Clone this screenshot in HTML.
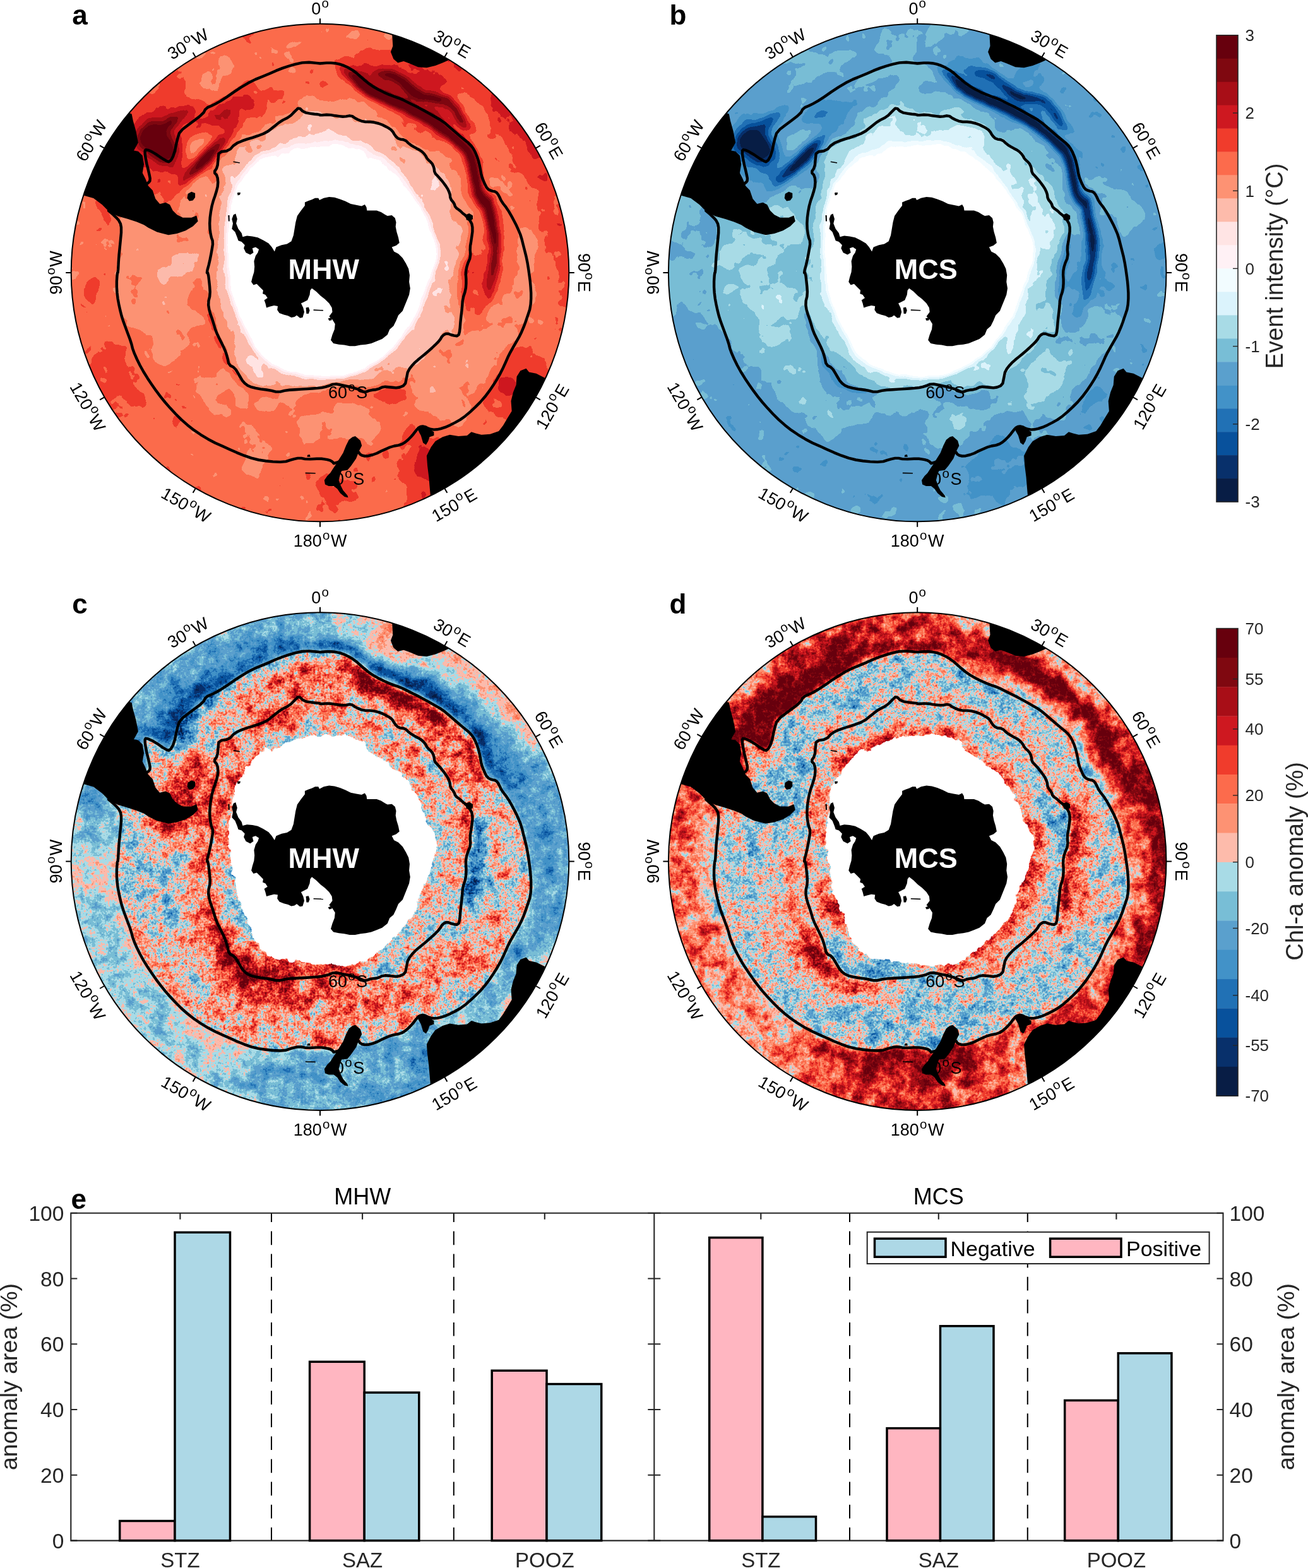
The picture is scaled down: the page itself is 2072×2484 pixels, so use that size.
<!DOCTYPE html>
<html lang="en"><head><meta charset="utf-8"><title>Figure</title>
<style>html,body{margin:0;padding:0;background:#fff}svg{display:block}</style></head><body>
<svg width="2072" height="2484" viewBox="0 0 2072 2484">
<rect width="2072" height="2484" fill="#fff"/><defs><filter id="fa" filterUnits="userSpaceOnUse" x="107" y="32" width="800" height="800" color-interpolation-filters="sRGB"><feGaussianBlur in="SourceGraphic" stdDeviation="2.0" result="s0"/><feTurbulence type="fractalNoise" baseFrequency="0.04" numOctaves="3" seed="3" result="n0"/><feColorMatrix in="n0" type="matrix" values="1 0 0 0 0 1 0 0 0 0 1 0 0 0 0 0 0 0 0 1" result="g0"/><feComposite in="s0" in2="g0" operator="arithmetic" k1="0" k2="1" k3="0.12" k4="-0.0600" result="s1"/><feComponentTransfer in="s1"><feFuncR type="discrete" tableValues="1.000 1.000 1.000 0.992 0.992 0.988 0.941 0.808 0.659 0.498 0.404"/><feFuncG type="discrete" tableValues="1.000 0.945 0.894 0.733 0.573 0.420 0.235 0.094 0.055 0.031 0.000"/><feFuncB type="discrete" tableValues="1.000 0.961 0.894 0.671 0.451 0.298 0.173 0.125 0.090 0.063 0.051"/><feFuncA type="linear" slope="0" intercept="1"/></feComponentTransfer></filter><filter id="fb" filterUnits="userSpaceOnUse" x="1053" y="32" width="800" height="800" color-interpolation-filters="sRGB"><feGaussianBlur in="SourceGraphic" stdDeviation="2.0" result="s0"/><feTurbulence type="fractalNoise" baseFrequency="0.04" numOctaves="3" seed="5" result="n0"/><feColorMatrix in="n0" type="matrix" values="1 0 0 0 0 1 0 0 0 0 1 0 0 0 0 0 0 0 0 1" result="g0"/><feComposite in="s0" in2="g0" operator="arithmetic" k1="0" k2="1" k3="0.12" k4="-0.0600" result="s1"/><feComponentTransfer in="s1"><feFuncR type="discrete" tableValues="1.000 0.949 0.859 0.659 0.471 0.353 0.259 0.129 0.031 0.031 0.031"/><feFuncG type="discrete" tableValues="1.000 0.988 0.953 0.859 0.745 0.627 0.573 0.443 0.318 0.188 0.114"/><feFuncB type="discrete" tableValues="1.000 1.000 0.988 0.902 0.839 0.804 0.784 0.710 0.612 0.420 0.271"/><feFuncA type="linear" slope="0" intercept="1"/></feComponentTransfer></filter><filter id="fco" filterUnits="userSpaceOnUse" x="107" y="965" width="800" height="800" color-interpolation-filters="sRGB"><feGaussianBlur in="SourceGraphic" stdDeviation="1.6" result="s0"/><feTurbulence type="fractalNoise" baseFrequency="0.12" numOctaves="2" seed="11" result="n0"/><feColorMatrix in="n0" type="matrix" values="1 0 0 0 0 1 0 0 0 0 1 0 0 0 0 0 0 0 0 1" result="g0"/><feComposite in="s0" in2="g0" operator="arithmetic" k1="0" k2="1" k3="0.2" k4="-0.1000" result="s1"/><feTurbulence type="fractalNoise" baseFrequency="0.35" numOctaves="1" seed="15" result="n1"/><feColorMatrix in="n1" type="matrix" values="1 0 0 0 0 1 0 0 0 0 1 0 0 0 0 0 0 0 0 1" result="g1"/><feComposite in="s1" in2="g1" operator="arithmetic" k1="0" k2="1" k3="0.18" k4="-0.0900" result="s2"/><feComponentTransfer in="s2"><feFuncR type="discrete" tableValues="0.031 0.031 0.031 0.129 0.259 0.353 0.471 0.659 0.992 0.992 0.988 0.941 0.808 0.659 0.498 0.404"/><feFuncG type="discrete" tableValues="0.114 0.188 0.318 0.443 0.573 0.627 0.745 0.859 0.733 0.573 0.420 0.235 0.094 0.055 0.031 0.000"/><feFuncB type="discrete" tableValues="0.271 0.420 0.612 0.710 0.784 0.804 0.839 0.902 0.671 0.451 0.298 0.173 0.125 0.090 0.063 0.051"/><feFuncA type="linear" slope="0" intercept="1"/></feComponentTransfer></filter><filter id="fci" filterUnits="userSpaceOnUse" x="107" y="965" width="800" height="800" color-interpolation-filters="sRGB"><feGaussianBlur in="SourceGraphic" stdDeviation="1.6" result="s0"/><feTurbulence type="fractalNoise" baseFrequency="0.12" numOctaves="2" seed="12" result="n0"/><feColorMatrix in="n0" type="matrix" values="1 0 0 0 0 1 0 0 0 0 1 0 0 0 0 0 0 0 0 1" result="g0"/><feComposite in="s0" in2="g0" operator="arithmetic" k1="0" k2="1" k3="0.4" k4="-0.2000" result="s1"/><feTurbulence type="fractalNoise" baseFrequency="0.35" numOctaves="1" seed="16" result="n1"/><feColorMatrix in="n1" type="matrix" values="1 0 0 0 0 1 0 0 0 0 1 0 0 0 0 0 0 0 0 1" result="g1"/><feComposite in="s1" in2="g1" operator="arithmetic" k1="0" k2="1" k3="0.4" k4="-0.2000" result="s2"/><feComponentTransfer in="s2"><feFuncR type="discrete" tableValues="0.031 0.031 0.031 0.129 0.259 0.353 0.471 0.659 0.992 0.992 0.988 0.941 0.808 0.659 0.498 0.404"/><feFuncG type="discrete" tableValues="0.114 0.188 0.318 0.443 0.573 0.627 0.745 0.859 0.733 0.573 0.420 0.235 0.094 0.055 0.031 0.000"/><feFuncB type="discrete" tableValues="0.271 0.420 0.612 0.710 0.784 0.804 0.839 0.902 0.671 0.451 0.298 0.173 0.125 0.090 0.063 0.051"/><feFuncA type="linear" slope="0" intercept="1"/></feComponentTransfer></filter><clipPath id="cinc"><path d="M510.4 1032.8L517.3 1032.2L524.1 1032.2L531.0 1032.8L537.8 1034.2L544.7 1036.5L551.5 1039.7L558.4 1043.7L564.6 1048.2L570.4 1053.4L576.6 1058.8L583.5 1064.5L590.9 1069.6L598.9 1074.2L607.5 1078.5L616.6 1082.5L624.6 1085.6L631.4 1087.9L638.3 1090.7L645.1 1094.2L653.1 1098.2L662.3 1102.7L671.4 1107.6L680.5 1112.7L689.1 1117.6L697.1 1122.1L705.1 1127.8L713.1 1134.7L721.0 1141.5L729.0 1148.4L735.9 1154.1L741.6 1158.7L746.2 1163.2L749.6 1167.8L752.7 1173.5L755.6 1180.4L757.9 1187.2L759.6 1194.1L761.0 1200.9L762.1 1207.8L763.8 1214.0L766.1 1219.7L768.4 1224.9L770.7 1229.4L773.6 1232.6L777.0 1234.3L780.4 1235.4L783.8 1236.0L786.7 1237.7L789.0 1240.6L791.2 1244.6L793.5 1249.7L797.0 1255.1L801.5 1260.8L806.1 1267.7L810.7 1275.7L814.6 1283.1L818.1 1289.9L821.2 1296.8L824.1 1303.6L826.6 1311.6L828.9 1320.8L831.2 1329.9L833.5 1339.0L835.5 1348.8L837.2 1359.3L838.6 1369.2L839.8 1378.3L840.6 1387.4L841.2 1396.6L841.2 1405.7L840.6 1414.8L839.2 1422.8L836.9 1429.7L834.6 1436.5L832.3 1443.4L829.5 1450.8L826.1 1458.8L822.1 1466.8L817.5 1474.8L812.9 1482.8L808.4 1490.7L804.4 1498.7L800.9 1506.7L797.0 1515.3L792.4 1524.4L787.3 1533.5L781.5 1542.7L775.3 1551.8L768.4 1560.9L761.0 1569.5L753.0 1577.5L745.0 1584.9L737.0 1591.8L729.0 1597.5L721.0 1602.0L713.1 1606.0L705.1 1609.5L698.2 1611.7L692.5 1612.9L687.4 1613.2L682.8 1612.6L678.2 1611.2L673.7 1608.9L669.7 1608.0L666.2 1608.6L663.4 1610.0L661.1 1612.3L658.3 1615.7L654.8 1620.3L650.8 1624.9L646.3 1629.4L641.7 1633.2L637.1 1636.0L631.4 1638.0L624.6 1639.1L617.7 1641.1L610.9 1644.0L604.0 1647.1L597.2 1650.6L590.3 1653.1L583.5 1654.8L577.8 1655.1L573.2 1654.0L570.1 1652.0L568.4 1649.1L563.8 1649.4L556.4 1652.8L547.0 1658.0L535.5 1664.8L528.7 1666.8L526.4 1664.0L523.0 1662.0L518.4 1660.8L513.8 1660.0L509.3 1659.4L501.7 1659.4L491.2 1660.0L483.1 1659.7L477.4 1658.5L471.7 1658.5L466.0 1659.7L459.7 1661.4L452.9 1663.7L443.8 1664.5L432.3 1664.0L420.9 1662.8L409.5 1661.1L398.1 1658.3L386.7 1654.3L375.3 1649.7L363.8 1644.6L352.4 1639.4L341.0 1634.3L329.6 1628.3L318.2 1621.4L307.3 1614.0L297.1 1606.0L287.4 1597.5L278.2 1588.3L269.7 1579.2L261.7 1570.1L254.3 1560.9L247.4 1551.8L240.6 1542.1L233.7 1531.8L227.4 1521.6L221.7 1511.3L216.9 1501.6L212.9 1492.5L210.0 1484.5L208.3 1477.6L205.7 1469.6L202.3 1460.5L198.9 1451.4L195.5 1442.2L192.6 1433.1L190.3 1424.0L188.3 1414.8L186.6 1405.7L185.5 1396.6L184.9 1387.4L184.9 1378.3L185.5 1369.2L186.1 1364.6L186.6 1364.6L187.2 1358.8L187.8 1347.1L188.6 1335.6L189.8 1324.2L190.9 1312.8L192.0 1301.4L192.0 1292.8L190.9 1287.1L188.3 1282.0L184.3 1277.4L178.9 1272.2L172.1 1266.5L176.1 1260.3L190.9 1253.4L207.5 1243.1L225.7 1229.4L235.7 1221.4L237.4 1219.2L237.7 1215.2L236.6 1209.5L234.9 1202.0L232.6 1192.9L230.9 1184.3L229.7 1176.4L229.7 1171.5L230.9 1169.8L234.6 1170.4L240.8 1173.2L248.6 1177.8L257.7 1184.1L264.0 1187.8L267.4 1188.9L270.8 1186.3L274.2 1180.1L277.1 1171.2L279.4 1159.8L281.7 1150.7L283.9 1143.8L289.6 1137.0L298.8 1130.1L307.9 1123.3L317.0 1116.4L322.8 1110.7L325.0 1106.2L329.0 1102.7L334.7 1100.4L341.6 1097.0L349.6 1092.5L359.3 1086.2L370.7 1078.2L382.1 1070.8L393.5 1063.9L404.9 1058.2L416.4 1053.6L427.2 1049.1L437.5 1044.5L447.8 1040.5L458.0 1037.1L468.3 1034.2L478.6 1032.0L489.5 1031.4L501.2 1032.5L507.0 1033.1L507.0 1033.1Z"/></clipPath><filter id="roughc" filterUnits="userSpaceOnUse" x="107.0" y="964.5999999999999" width="800" height="800"><feTurbulence type="fractalNoise" baseFrequency="0.09" numOctaves="2" seed="7" result="n"/><feDisplacementMap in="SourceGraphic" in2="n" scale="9" xChannelSelector="R" yChannelSelector="G"/></filter><filter id="fdo" filterUnits="userSpaceOnUse" x="1053" y="965" width="800" height="800" color-interpolation-filters="sRGB"><feGaussianBlur in="SourceGraphic" stdDeviation="1.6" result="s0"/><feTurbulence type="fractalNoise" baseFrequency="0.12" numOctaves="2" seed="13" result="n0"/><feColorMatrix in="n0" type="matrix" values="1 0 0 0 0 1 0 0 0 0 1 0 0 0 0 0 0 0 0 1" result="g0"/><feComposite in="s0" in2="g0" operator="arithmetic" k1="0" k2="1" k3="0.35" k4="-0.1750" result="s1"/><feTurbulence type="fractalNoise" baseFrequency="0.35" numOctaves="1" seed="17" result="n1"/><feColorMatrix in="n1" type="matrix" values="1 0 0 0 0 1 0 0 0 0 1 0 0 0 0 0 0 0 0 1" result="g1"/><feComposite in="s1" in2="g1" operator="arithmetic" k1="0" k2="1" k3="0.25" k4="-0.1250" result="s2"/><feComponentTransfer in="s2"><feFuncR type="discrete" tableValues="0.031 0.031 0.031 0.129 0.259 0.353 0.471 0.659 0.992 0.992 0.988 0.941 0.808 0.659 0.498 0.404"/><feFuncG type="discrete" tableValues="0.114 0.188 0.318 0.443 0.573 0.627 0.745 0.859 0.733 0.573 0.420 0.235 0.094 0.055 0.031 0.000"/><feFuncB type="discrete" tableValues="0.271 0.420 0.612 0.710 0.784 0.804 0.839 0.902 0.671 0.451 0.298 0.173 0.125 0.090 0.063 0.051"/><feFuncA type="linear" slope="0" intercept="1"/></feComponentTransfer></filter><filter id="fdi" filterUnits="userSpaceOnUse" x="1053" y="965" width="800" height="800" color-interpolation-filters="sRGB"><feGaussianBlur in="SourceGraphic" stdDeviation="1.6" result="s0"/><feTurbulence type="fractalNoise" baseFrequency="0.12" numOctaves="2" seed="14" result="n0"/><feColorMatrix in="n0" type="matrix" values="1 0 0 0 0 1 0 0 0 0 1 0 0 0 0 0 0 0 0 1" result="g0"/><feComposite in="s0" in2="g0" operator="arithmetic" k1="0" k2="1" k3="0.4" k4="-0.2000" result="s1"/><feTurbulence type="fractalNoise" baseFrequency="0.35" numOctaves="1" seed="18" result="n1"/><feColorMatrix in="n1" type="matrix" values="1 0 0 0 0 1 0 0 0 0 1 0 0 0 0 0 0 0 0 1" result="g1"/><feComposite in="s1" in2="g1" operator="arithmetic" k1="0" k2="1" k3="0.4" k4="-0.2000" result="s2"/><feComponentTransfer in="s2"><feFuncR type="discrete" tableValues="0.031 0.031 0.031 0.129 0.259 0.353 0.471 0.659 0.992 0.992 0.988 0.941 0.808 0.659 0.498 0.404"/><feFuncG type="discrete" tableValues="0.114 0.188 0.318 0.443 0.573 0.627 0.745 0.859 0.733 0.573 0.420 0.235 0.094 0.055 0.031 0.000"/><feFuncB type="discrete" tableValues="0.271 0.420 0.612 0.710 0.784 0.804 0.839 0.902 0.671 0.451 0.298 0.173 0.125 0.090 0.063 0.051"/><feFuncA type="linear" slope="0" intercept="1"/></feComponentTransfer></filter><clipPath id="cind"><path d="M1456.6 1032.8L1463.5 1032.2L1470.3 1032.2L1477.2 1032.8L1484.0 1034.2L1490.9 1036.5L1497.7 1039.7L1504.6 1043.7L1510.8 1048.2L1516.6 1053.4L1522.8 1058.8L1529.7 1064.5L1537.1 1069.6L1545.1 1074.2L1553.7 1078.5L1562.8 1082.5L1570.8 1085.6L1577.6 1087.9L1584.5 1090.7L1591.3 1094.2L1599.3 1098.2L1608.5 1102.7L1617.6 1107.6L1626.7 1112.7L1635.3 1117.6L1643.3 1122.1L1651.3 1127.8L1659.3 1134.7L1667.2 1141.5L1675.2 1148.4L1682.1 1154.1L1687.8 1158.7L1692.4 1163.2L1695.8 1167.8L1698.9 1173.5L1701.8 1180.4L1704.1 1187.2L1705.8 1194.1L1707.2 1200.9L1708.3 1207.8L1710.0 1214.0L1712.3 1219.7L1714.6 1224.9L1716.9 1229.4L1719.8 1232.6L1723.2 1234.3L1726.6 1235.4L1730.0 1236.0L1732.9 1237.7L1735.2 1240.6L1737.4 1244.6L1739.7 1249.7L1743.2 1255.1L1747.7 1260.8L1752.3 1267.7L1756.9 1275.7L1760.8 1283.1L1764.3 1289.9L1767.4 1296.8L1770.3 1303.6L1772.8 1311.6L1775.1 1320.8L1777.4 1329.9L1779.7 1339.0L1781.7 1348.8L1783.4 1359.3L1784.8 1369.2L1786.0 1378.3L1786.8 1387.4L1787.4 1396.6L1787.4 1405.7L1786.8 1414.8L1785.4 1422.8L1783.1 1429.7L1780.8 1436.5L1778.5 1443.4L1775.7 1450.8L1772.3 1458.8L1768.3 1466.8L1763.7 1474.8L1759.1 1482.8L1754.6 1490.7L1750.6 1498.7L1747.1 1506.7L1743.2 1515.3L1738.6 1524.4L1733.5 1533.5L1727.7 1542.7L1721.5 1551.8L1714.6 1560.9L1707.2 1569.5L1699.2 1577.5L1691.2 1584.9L1683.2 1591.8L1675.2 1597.5L1667.2 1602.0L1659.3 1606.0L1651.3 1609.5L1644.4 1611.7L1638.7 1612.9L1633.6 1613.2L1629.0 1612.6L1624.4 1611.2L1619.9 1608.9L1615.9 1608.0L1612.4 1608.6L1609.6 1610.0L1607.3 1612.3L1604.5 1615.7L1601.0 1620.3L1597.0 1624.9L1592.5 1629.4L1587.9 1633.2L1583.3 1636.0L1577.6 1638.0L1570.8 1639.1L1563.9 1641.1L1557.1 1644.0L1550.2 1647.1L1543.4 1650.6L1536.5 1653.1L1529.7 1654.8L1524.0 1655.1L1519.4 1654.0L1516.3 1652.0L1514.6 1649.1L1510.0 1649.4L1502.6 1652.8L1493.2 1658.0L1481.7 1664.8L1474.9 1666.8L1472.6 1664.0L1469.2 1662.0L1464.6 1660.8L1460.0 1660.0L1455.5 1659.4L1447.9 1659.4L1437.4 1660.0L1429.3 1659.7L1423.6 1658.5L1417.9 1658.5L1412.2 1659.7L1405.9 1661.4L1399.1 1663.7L1390.0 1664.5L1378.5 1664.0L1367.1 1662.8L1355.7 1661.1L1344.3 1658.3L1332.9 1654.3L1321.5 1649.7L1310.0 1644.6L1298.6 1639.4L1287.2 1634.3L1275.8 1628.3L1264.4 1621.4L1253.5 1614.0L1243.3 1606.0L1233.6 1597.5L1224.4 1588.3L1215.9 1579.2L1207.9 1570.1L1200.5 1560.9L1193.6 1551.8L1186.8 1542.1L1179.9 1531.8L1173.6 1521.6L1167.9 1511.3L1163.1 1501.6L1159.1 1492.5L1156.2 1484.5L1154.5 1477.6L1151.9 1469.6L1148.5 1460.5L1145.1 1451.4L1141.7 1442.2L1138.8 1433.1L1136.5 1424.0L1134.5 1414.8L1132.8 1405.7L1131.7 1396.6L1131.1 1387.4L1131.1 1378.3L1131.7 1369.2L1132.3 1364.6L1132.8 1364.6L1133.4 1358.8L1134.0 1347.1L1134.8 1335.6L1136.0 1324.2L1137.1 1312.8L1138.2 1301.4L1138.2 1292.8L1137.1 1287.1L1134.5 1282.0L1130.5 1277.4L1125.1 1272.2L1118.3 1266.5L1122.3 1260.3L1137.1 1253.4L1153.7 1243.1L1171.9 1229.4L1181.9 1221.4L1183.6 1219.2L1183.9 1215.2L1182.8 1209.5L1181.1 1202.0L1178.8 1192.9L1177.1 1184.3L1175.9 1176.4L1175.9 1171.5L1177.1 1169.8L1180.8 1170.4L1187.0 1173.2L1194.8 1177.8L1203.9 1184.1L1210.2 1187.8L1213.6 1188.9L1217.0 1186.3L1220.4 1180.1L1223.3 1171.2L1225.6 1159.8L1227.9 1150.7L1230.1 1143.8L1235.8 1137.0L1245.0 1130.1L1254.1 1123.3L1263.2 1116.4L1269.0 1110.7L1271.2 1106.2L1275.2 1102.7L1280.9 1100.4L1287.8 1097.0L1295.8 1092.5L1305.5 1086.2L1316.9 1078.2L1328.3 1070.8L1339.7 1063.9L1351.1 1058.2L1362.6 1053.6L1373.4 1049.1L1383.7 1044.5L1394.0 1040.5L1404.2 1037.1L1414.5 1034.2L1424.8 1032.0L1435.7 1031.4L1447.4 1032.5L1453.2 1033.1L1453.2 1033.1Z"/></clipPath><filter id="roughd" filterUnits="userSpaceOnUse" x="1053.2" y="964.5999999999999" width="800" height="800"><feTurbulence type="fractalNoise" baseFrequency="0.09" numOctaves="2" seed="7" result="n"/><feDisplacementMap in="SourceGraphic" in2="n" scale="9" xChannelSelector="R" yChannelSelector="G"/></filter></defs>
<g id="panel-a">
<clipPath id="clip-a"><circle cx="507.0" cy="432.0" r="394.3"/></clipPath>
<g clip-path="url(#clip-a)"><g filter="url(#fa)"><rect x="107" y="32" width="800" height="800" fill="rgb(6,6,6)"/>
<path fill-rule="evenodd" fill="rgb(17,17,17)" d="M906 831l-798 0 0-798 798 0zM516 595l2-2 26 0 2-2 14-2 6-4 4 0 8-4 10-8 6-2 6-6 6-2 14-14 2 0 0-2 6-6 0-2 6-6 0-2 6-6 4-8 4-4 2-6 4-4 6-12 0-4 2-2 0-4 2-2 0-4 4-8 0-4 4-6 2-10 4-6 0-4 4-6 0-6 6-12 0-24-2-2 0-6-2-2-4-16-4-6 0-4-6-12-4-4-2-6-4-4-8-14-16-18 0-2-24-22-12-6-4-4-22-10-8-6-12-2-2-2-8 0-2-2-38 0-2 2-20 0-2 2-10 0-2 2-14 2-2 2-4 0-8 4-6 0-2 2-10 2-8 4-12 10-2 0-10 10 0 2-12 14-4 8 0 4-4 6 0 6-2 2 0 6-2 2 0 20-2 2 0 16-2 2 0 32 2 2 0 16 2 2 0 10 2 2 0 18 2 2 0 10 2 2 2 14 34 70 14 16 2 0 12 10 12 6 4 0 8 4 6 0 2 2 6 0 2 2 8 0 2 2 26 0z"/>
<path fill-rule="evenodd" fill="rgb(29,29,29)" d="M906 831l-798 0 0-798 798 0zM538 595l22-4 20-9 27-17 17-15 6-7 27-40 6-14 26-72 2-8-1-22-5-18-11-26-22-34-24-31-20-18-38-21-10-4-16-3-18-1-22 0-42 6-42 13-10 6-12 10-11 13-15 25-8 25-5 56 8 78 4 16 7 18 26 52 8 11 16 15 28 13 30 7 28 2z"/>
<path fill-rule="evenodd" fill="rgb(41,41,41)" d="M906 831l-798 0 0-798 798 0zM529 597l15-1 18-5 19-8 27-18 22-21 18-25 10-16 6-12 7-24 19-49 2-9 0-16-6-24-12-28-33-52-12-14-15-15-20-13-23-12-11-4-16-3-18-2-46 4-19 3-21 7-20 6-11 7-17 16-18 26-8 22-3 12-5 54 1 22 7 58 8 28 29 58 8 12 15 14 28 14 26 6 34 3z"/>
<path fill-rule="evenodd" fill="rgb(52,52,52)" d="M906 831l-798 0 0-798 798 0zM518 599l26-2 26-7 28-16 28-23 23-30 13-22 24-66 7-24 0-16-3-14-14-36-33-54-19-24-18-14-34-19-26-8-24-1-42 3-20 4-42 14-12 8-12 11-11 14-9 16-9 24-4 20-4 48 7 70 5 24 7 20 30 58 20 20 20 10 40 10z"/>
<path fill-rule="evenodd" fill="rgb(64,64,64)" d="M906 831l-798 0 0-798 798 0zM524 599l22-1 16-4 18-8 28-18 24-23 23-32 12-22 26-72 2-10 0-16-7-24-12-30-32-52-19-24-19-15-34-20-26-7-26-3-40 4-20 5-44 16-10 6-13 12-11 14-10 18-9 24-4 20-3 54 7 72 4 16 8 20 30 58 21 21 28 13 40 8 20 1z"/>
<path fill-rule="evenodd" fill="rgb(75,75,75)" d="M906 831l-798 0 0-798 798 0zM518 601l28-2 24-7 28-15 29-24 24-30 14-22 24-66 8-26-2-22-12-36-5-12-31-52-13-18-20-19-36-24-26-10-16-3-10-7-6-1-6 1-10 6-18 2-68 25-14 8-13 12-12 16-9 18-9 26-3 18-4 54 7 72 4 16 8 20 25 52 8 12 20 17 20 10 38 10zM409 587l4-8-2-6-11-10-6 0-2 2-2 6 4 10 8 7 4 1z"/>
<path fill-rule="evenodd" fill="rgb(87,87,87)" d="M906 831l-798 0 0-798 798 0zM509 603l37-3 28-8 26-13 26-22 10-3 6 1 2 2 1 12 1 4 4 2 4-2 18-22 6-18 3-14 13-12 7-12 1-6-4-10 4-10 1-12 17-56-1-24-3-12-4-6-12-12-3-6-2-12 8-12 1-6-4-18-10-18-8-9-6-2-16 2-6 6-18-10-38-29-5-10-1-14-7-6-9-4-12 1-10-11-8-2-26 2-18 5-14 2-10 7-22 10-9 10-6 4-27 10-14 8-11 4-8 10-15 10-4 6-1 24-9 43 0 45-3 36 5 42 4 20 23 58 1 8 0 20 3 8 13 16 8 5 24-1 14 4 38 1z"/>
<path fill-rule="evenodd" fill="rgb(99,99,99)" d="M906 831l-798 0 0-798 798 0zM453 613l45-3 36-7 42-1 22-7 30-14 4-1 11 5 9-1 8-5 6-6 16-20 16-24 6-4 12-2 3-4 1-14-3-10-1-10-4-10-1-14 6-30 9-28 7-40-2-6-13-8-5-8-1-14 3-20-4-16-8-16-16-14-13-8-10-9-12-5-22-13-12-15-20-16-12-7-34-8-38 1-14-5-6 0-26 16-16 3-8 4-16 12-10 12-19 0-19 10-6 6-2 14-12 10-5 8-1 28-7 42 0 46-6 44 5 22 4 34 14 44 9 18 1 24 16 25 12 9 8 2 16 0 14 5zM261 451l11-11 18-4 14-9 9-12 0-6-3-5-4-2-10-1-18 3-6 3-8 12-13 8-3 6 1 6 3 6 6 6z"/>
<path fill-rule="evenodd" fill="rgb(110,110,110)" d="M906 831l-798 0 0-798 798 0zM723 657l2-4-1-10-5-20 2-8 3-3 10-5 6-11 13-7 29-32 5-8-1-4-10-11-6-1-6 6-2 12-3 4-13 7-22 20-4 2-10-4-18-22 2-9 8-13 6-4 14-1 4-4 2-7 1-15-2-16-8-16-1-8 3-32 11-30 7-36 0-10-5-12 1-8-3-4-8-3-2-3 2-22-12-38-3-6-27-12-14-9-34-19-14-16-30-24-12-4-10-6-10-2-8-1-10 2-10-2-10 1-30-7-26 22-25 9-25 21-22 6-20 12-16 17-6 18-8 74 1 46-7 23-4 5-2 0-2-6 2-12-1-4-7-5-26-6-6 1-8 5-6 0-9-3 1-6-2-1-14 5-20 0-18-7-8-11-2 6 1 6 8 12 2 14 4 8-1 10 10 18 1 6-7 12-1 8 1 8 6 14-1 12 1 4 4 3 14-3 10 4 10 0 1-4-5-8 0-7 16-29 22-10 14-12 6-3 4 1 8 7 6 13 3 12 1 28 2 12 10 26 9 18 5 24 9 10 11 18 5 4 7 3 28 5 12 4 20 1 36-4 36-9 22 0 22 3 38-14 20 0 20-6 22-3 3 2 0 6-4 14-9 14-1 10 1 5 18 7 16 2 18 10zM312 231l5-4 1-4-6 0-4 4 0 4zM324 343l8-18 0-12-3-6-9-9-6-3-8 6-3 8 7 14 6 17 4 4zM234 401l-1-2 1-3 2 3zM789 507l5-4 2-5 0-5-2-2-6 1-3 7-1 8 2 1zM273 557l5-4 2-8-4-18-2-3-4-1-4 1-7 9-2 6 0 10 1 6 2 2zM583 685l5-4 3-6-1-6-2-4-6-6-18-9-5-1-5 2-5 10-7 8 1 4 29 11 6 2z"/>
<path fill-rule="evenodd" fill="rgb(122,122,122)" d="M906 831l-798 0 0-262 8-4 3-6-4-18-7-2 0-506 798 0zM297 71l5-2 3-4 1-4 0-6-6-6-12-2-6 12 0 6 6 5zM535 65l2-2 1-3-4-4-10 3-5 4 1 2 6 2zM467 75l6-4 2-4-19 3-5 3 5 3zM344 143l4-6 3-14 5-4 8-3 4-5 0-12-3-6-3-3-8 1-13 8-7 9-11 9-7 12 1 6 5 5 16 5zM467 115l3-4-4-5-6 0-6 5 2 4 2 1zM728 677l4-4 10-16 5-14-3-14 10-10 1-10 17-14 6-12 12-12 13-24 16-16 1-8-2-3-6 0-1-3 5-3 6 3 10-4 10-1 4-3 0-4-2-2-9-4 6-10 8-20-3-17-6-13 0-4 7-6-3-12 7-22-1-14-2-6-6-7-10-9-4 0-12 26-1 24 6 10 2 6-10 34-5 6-12 3-6 4-20 31-14 16-16 10-3 4-2 10-3 3-6 3-6-2-1-2 1-2 8-3 5-5 2-12 0-16-4-20-7-16 1-34 4-18 6-16 7-36-2-18 2-2 7 0 1-4-7-14-9-14-6-32-12-33-24-12-14-1-18-6-22-13-14-17-32-29-12-4-24-11-16 2-20 0-14-2-16-7-6-1-12 10-8 14-6 6-23 6-23 22-24 9-18 12-16 17-4 6-5 16-2 16-3 5-4 0-8-9-4 1-14 9-18 16-4 6-2 6-1 16 3 8 0 4-16 4-12 12-8 3-8-3-14-14-14-9-8-1-14 6-2 7 0 21-4 22 1 32-5 20 3 24 2 30 3 6 8 6 2 6 2 2 36 10 2 2 1 6-2 12 1 13 3 11 5 5 9 1 7-4 12-4 10-8 12-18 1-4-4-14 5-8 6-3 16 1 0-8-4-8-10-10-14-4-2-2-1-4 9-16 4-2 10 1 10-4 5 7 0 12 10 34 6 16 12 24 7 24 8 8 13 20 5 4 8 4 30 4 12 6 0 4-6 3-10-2-11 1-11 12 1 6 3 3 12 4 8-1 11-6 2-2 0-6 3-3 4 0 6 5 6 0 24-16 28-7 16-6 26-1 22 6 30-13 10 0 18 3 14-7 6-2 4 2 2 3-6 36 1 6 5 3 12 4 29 13 21 12zM311 237l8-6 5-6 1-4-3-4-10 1-9 9-2 6 2 4 3 2zM812 311l-6-6-6-10-11-12-7-4-6 1-1 7 3 8 22 16 6 2zM121 359l6-4-1-5-4-1-4 3-1 5zM334 373l-4-2-2-6 6-11 2 11zM360 661l6-2 1-8-2-4-13-4-7-6 0-6 6-10 11-6 4 1 5 9 1 16 2 3 6 2 6 0 6-4 5-15-20-16-9-12-4-8-14-6-14 10-10 2-3 2-9 13-2 9 10 16 9 10 7 13 4 1zM504 699l34-6 50 3 6-4 10-13 8-6 2-4-2-3-14-6-14-12-20-7-28-4-9 6 0 4 3 6-2 4-10-2-14 3-12-2-10 7-10 2-1 6 1 19 16 10 8 0zM411 759l4-8 1-14 7-8 9-18-14-16-6-12-12-9-6 0-4 1-2 4 9 10 1 8-8 20-1 10-5 10 0 4 6 10 6 2 10 8z"/>
<path fill-rule="evenodd" fill="rgb(133,133,133)" d="M174 376l-6-1-6-4-8 1-4-4-4-9-1-10-5-11-2-13-6-16 1-12-2-6-13-6-6-1-4 2 0-253 140 0 0 8-3 8 0 4 12 6 7 8 6 16 8 5 12-1 8 1 6 5 6 10 2 8-8 16-1 10 1 6 4 4 14 5 10 6 8-2 9-5 24-28 9-15 10-9 6-2 14 0 10-3 10 2 10-5 4 0 2 4-2 4-22 18-4 8 2 4 4 2 16-3 20 0 16 5-7 12-15 18-6 5-16 7-16 14-14 6-20 17-33 33-13 24-17 8-35 28-12 14-6 4-10 4-22-1-6-1-13-6-9-1-8 2-18 8-3 3 0 4 6 12 1 15-4 9zM350 79l-14 1-4-1-7-14 2-16-1-6-4-4-15-6 117 0 1 6 9 5 2 3 0 6-2 6-6 8-4 3-26 5-32-1zM512 45l-20-2 2-10 34 0-10 10zM888 831l-304 0-6-1-4 1-80 0 5-10 1-6-3-10-2-12-7-9-4-2-6 0-10 5-12 11-4 1-3-2-2-12-7-14 1-18-6-14 1-4 5-4 11-3 18-1 16 3 40-19 14 5 14-3 24 4 14-2 6-6 10-19 20-7 14-22 4-3 4-1 16 4 8 4 6 6 4 10 8 3 32 5 16-3 14-1 4-1 3-5 1-8-2-5-6-7 0-6 5-18 5-10 6-14 25-34 17-29 18-14 14-1 6-2 11-16 3-10-2-18 2-16-2-62-2-10-1-24-3-7-14-17-7-24 1-18-12-17-12-12-10-2-4-3-5-6-3-10-10-4-10-6-2 0 0 28 4 18 4 5 10 8 6 11 14 12 4 12 3 20-9 18-4 20-1 22 1 4 6 8 0 8-4 6-10 9-9 17-15 24-12 10-8 2-6-6-7-22-7-12 0-38 10-30 7-48 1-1 2 1 2 4 1 14 3 5 6-7 1-10-3-21-16-27-2-15-12-47-14-14-10-4-10-7-16-7-6 0-10 5-8-3-7-6-7-10-14-16-30-22-18-7-20-16-6 0-20 7-22-2-12-4-10-8-7-4-1-2 14-24-7-18 0-4 3-3 8-1 12 1 10-3 16 3 12-1 8-5 6-13 10-7 32 10 8 1 8-4 5-10 3-2 8 3 8 8 6 0 10-7 11-14 2-8 233 0 0 500-16 2-16 0-6 4-5 8 3 12 10 10 20 9 10-2 0 231-8-8-14-9-20-3-5 2-1 4 6 23 6 5 13 4zM762 193l2-6-3-6-11-8-4-2-2 2 1 10 5 7 8 5zM306 245l12-10 10-10 2-6-2-4-6-2-8 1-6 3-6 6-4 8 0 7 4 7zM422 831l-121 0-9-4-26-16-4 1-10 7-20 0-12-1-10-7-4 2-4 6-4 1-18-11-16-2-26 8-10 8-4-3-8-13-8-5 0-207 8-8 25-42-1-6-8-10-1-10-4-16 3-10-1-4-11-16-3-6 1-6 14-36 22-4 12 2 8-3 4 1 1 6-1 18 2 27-2 3-8 3-3 5 0 20 8 22 7 7 4 1 12-2 17 8 4 4 10 20 0 4-7 16 2 6 4 4 8 2 16-1 12 4 6-2 8-6 6-3 4 0 3 2 1 6-3 8 9 8 8 20 11 14 4 8-2 8-11 10-6 8-2 6 2 7 6 6 15-5 9 1 18 13 5 6 2 6-3 6-4 1-12-7-10-1-8-6-4 0-10 4-12-5-14 11-10-4-6 0-3 3 1 6 6 5 20 8 28 11 20 4 8 13 4 3 16-1 10-6 8 3 21 18 0 4-5 8-1 6 1 8 4 4 4 1 6-2 20-12 2-1 3 2 1 2-6 7-5 11-1 8zM434 625l-22 0-16-4-14-9-16-23-8-5-7-11-3-15-13-25-10-36 1-10 2-1 2 1 3 6 11 36 14 26 6 23 9 7 13 21 14 8 30 5 6 4zM622 649l-10 1-7-1-13-10-16-4-7-6 19-11 20-9 6 0 16 4 14 1 2 3 1 12-5 12-6 5zM560 629l-8 0-22-4-3-2 0-2 3-2 8-2 16 0 5 2 5 6 1 2zM502 643l-6-4 2-4 2-1 4 0 2 3-1 4zM173 767l15-11 24-2 2-2 5-15 5-10 6-5 10-3 3-2 1-8-7-16-4-18-3-4-12-1-6-2-12 2-4 2-10 13-2 6 3 10-1 12 2 10 0 4-12 17-14 7-5 10 0 4 3 3zM613 797l4-2 2-4-4-8 2-8 0-4-17-9-4-1-4 6 5 18 6 8 1 4 2 1z"/>
<path fill-rule="evenodd" fill="rgb(145,145,145)" d="M174 354l-4-1-4-4-13-20-1-8 4-10-1-8 6-10 0-6-22-14-7-8-20-9-4 0 0-223 42 0-3 4 0 6 5 7 6 4 4-1 10-10 10-1 6 0 18 10 10 12 18 16 5 13 11 23 2 1 14 0 10-4 14-1 3 17 0 20 5 4 16 4 10 10 8-1 13-7 33-25 10-5 6 0 6 1 10 10 6 3 16 2 14-5 6 3-1 6-3 5-24 18-9 9-16 8-7 5-42 49-15 22-15 10-22 19-26 18-6 3-6-1-8-5-12 0-14-4-14 3-30 12-7 5-3 6 0 6 5 12-1 4zM384 61l-8-2-10-10-16-4-3-6 1-6 44 0 9 16 0 4-8 6zM760 500l-5-1-2-14-9-2-6-8-6-3-2-5 1-36 9-28 1-10 5-17 1 21 5 8 14 0 4-6 0-6-8-54-9-12-7-14-3-16-9-40-4-9-16-15-28-20-10-5-14 3-4-2-7-10-14-12-39-22-16-7-26-21-14-6-10-12-1-6 1-10 6-7 22-11 15-4 11-6 14 4 32 0 26 3 7-1 13-5 6-4 4-6 0-13 8-20 210 0 0 451-6 3-6 1-4-1-7-6 0-2 6-4 1-2-9-12-1-6 1-6 4-10-1-12-2-6-7-12-7-40-14-18-5-18 0-6 5-16-1-8-4-4-10-6-5-8-9-8-5-14-6-6-4-10-6-8-9-22-7-8-12-9-3-15-5-9-15-17-7-5-16-6-4 0-2 3 19 36 17 20-2 4-11 6-1 2 13 24 4 16 2 18 5 18 4 7 10 9 11 30 3 12 1 26-4 46 0 16-15 34-12 18zM811 103l13-2 3-4-1-6-6-2-16 4-2 2 0 4 4 3zM244 147l4-4 2-6 0-12-2-3-10 6-8 4-3 3 9 12 4 2zM514 137l-6 1-2-3 1-4 5-4 4 1 2 3-1 4zM298 255l8-5 26-25 3-8-3-5-8-3-8 0-8 3-8 6-4 7-1 8 1 18zM148 480l-6-2-6-5-3-4 0-4 5-17 8-7 6-1 8 6 3 9-11 21zM428 621l-6 2-10-1-18-5-12-8-14-22-8-4-6-10-4-16-13-26-9-30 0-8 2 0 4 8 9 28 13 26 7 24 9 7 12 21 14 8 26 4zM142 704l-14-1-10-12-10 0 0-74 7-2 10-6 2-14 8-8 17-31 9-11 2-6 1-2 4 0 18 11 12-1 3 2 1 4-3 16 1 16 4 12 8 16 17 12 6 16-3 5-4 2-22-3-26 4-3 4-4 12-10 10-11 18zM906 781l-8 0-10-7-12-4-16-1-4-4-3-8 0-8-5-26-5-16-4-8 1-4 8-6-1-6-3-4-16-7-10 0-16-8-14 0-8-11-10-2-4-4 0-8 12-30 23-32 13-22 8-6 10-1 10 1 20 22 4 12 19 16 7 8 6 1 8-4zM628 640l-12 1-8-2-13-8-3-4 1-2 10-8 7-3 8 1 13 4 5 4 1 6-3 6zM276 675l-5-2 3-10 4-4 6 0 3 4-1 4-6 7zM842 831l-169 0 1-6-4-5-4-1-14 0-10-4-3-4-1-8 0-4 6-8-2-20-1-4-9-8-2-14-4-10 8-12-1-20 15-30 6-3 6 3 2 15 4 4 16 3 38 3 19-3 7 0 8 4 8 10 20 9 7 9 0 14 5 8 16 12 10 2 5 4 0 4-3 8 0 6 2 6 9 10 1 16zM118 727l-7-2-1-4 0-6 6-5 10-2 2 5-1 8-4 4zM616 730l-6-3-4-5 0-5 4-5 4 1 3 4zM534 811l-4 1-4-2-6-11-5-14-11-9-3-7-1-8 2-6 8-1 8-6 10 2 14 11 18 1 5 5 3 6 1 12-1 4-8 4-16 1-3 3-3 10zM108 775l0-21 4 4 2 5-1 6zM246 762l-2 1-3-2-1-4 2-2 4 0 1 2zM322 820l-6-1-14-13-12-4-4-4-2-7 1-10-1-10 2-4 28 4 4 2 3 14 10 12-6 18zM390 831l-41 0 12-16 3-2 6-2 6 1 4 3z"/>
<path fill-rule="evenodd" fill="rgb(156,156,156)" d="M840 59l-6 1-4-2-1-3 0-10-11-6-5-6 32 0 1 18-2 6zM766 489l-2 1-2-1 0-8 3-12-1-8-4-8-16-4-6 14-4 3-1-3 0-32 4-14 7-16 2 4-1 12 1 3 8-2 10 2 4-3 2-3 3-21-10-58-9-10-7-14-2-16-10-40-3-8-16-16-30-22-20-9-28-17-58-28-40-34-5-8 0-6 5-5 12-2 8-6 6-2 16 1 16 6 28-8 14 1 30 0 20 3 5-4 5-12 5-8 2-4-1-11 7-9 7-4 8 1 36-9 8 3 5 7-2 8-9 4-3 4 3 6 6 3 2 2 0 11-4 14 8 21 4 2 10 0 10 4 12-1 6 4 2 0 16-6 8-9 12-8 6-7 6-14 10-16-2-16-5-10 5-3 4 0 7 3 9 8 8 1 0 155-4-4-2-9-2-2-7 1-3 6 1 6 8 14 4 4 5 2 0 27-8 9-5 22-15 15-6 1-20-11-17-15-5-14-13-20-6-16-9-11-14-13-5-14-13-16-8-14-30-19-12 1-7 4-3 4 18 22 14 24 11 16 0 2-3 3-14 3 3 6 10 10 9 16 11 52 5 8 9 8 9 30 3 22 1 16-1 26-4 34-10 28zM158 225l-8 2-8-6-4-1-10 5-2-2 1-8-3-5-16-6 0-155 10-4 8 1 6 5 6 12 10 10 2 8-2 16-6 7-8 1-12-7-4 1-3 4 2 6 15 7 7 9 0 4-2 12-6 16 3 24 2 4 10 2 16-3 5-3 4-10-1-4-5-10 2-10 5-7 13-7 6-8-2-6-4-4-16-8-5-4-4-12 1-6 19-9 10 0 6 1 16 10 5 6-2 10-11 14-2 10-8 8-7 16-3 12 2 12-3 10 0 8-2 6-10 14zM278 301l-3 0-1-2 0-14-8-6-6 1-7 11-7 3-6 0-12-5-18 0-3-2 1-6 12-10 1-6-3-10-13-12-3-18-5-14 2-12 7-14 0-12 2-5 8-4 14 3 22-3 16 4 18-7 16-1 9 3 5 13 4 1 48-30 14-5 8 2 14 8 16 5 0 4-12 14-22 17-11 17-41 54-40 31zM293 265l7-5 36-37 5-8-2-6-9-4-10-2-16 3-8 4-3 11-1 26-3 14 1 4zM896 309l-2 1-1-3 2 0zM892 360l-12-1-12-9-5-7 1-8 4-2 6 2 7 10 10 8 2 4zM358 575l-4-12 2-3 2 7zM906 687l-26-4-10-10-10-4-18-13-4-5-4-13-4 1-20 9-6 0-5-3-7-10-10-7-2-9 4-12 10-14 17-18 9-14 6 0 11 8 2 6-2 12 5 14 4 1 14 0 9 3 9 8 6 12 4 3 4-1 14-8zM178 578l-2 1-4-2-1-4 1-3 4 1zM622 630l-4 1-6-2-2-2-1-4 5-3 6 2 4 5zM108 648l0-9 1 4zM770 831l-74 0-2-10 3-10-1-4-10-6-14-2-3-2-2-18-6-8-5-10-9-10-3-6 2-24 6-11 12-7 8-1 32 4 36 3 2 4 1 8-10 8-7 18 8 22 8 10-3 6-11 12-1 8 4 6 11 10 16-1 14 11z"/>
<path fill-rule="evenodd" fill="rgb(168,168,168)" d="M752 115l-12-1-10 2-4-2-7-11 0-4 5-10 4-21 4-6 4 0 6 3 6 8 5 10 3 10 1 14-1 5zM770 478l-2-1 1-8-4-36 9-23 0-23-10-54-8-8-7-14-3-16-9-40-5-10-16-16-36-26-12-5-29-17-57-27-40-35-4-8 4-6 16-1 12-4 26 4 26-2 12 1 20-3 24 6 14 5 6 4 9 10 1 4-2 2-8 6-2 4 4 4 14 7 9 9 20 34 5 10-4 3-8-1-8-2-12-12 0 4 32 33 5 9 8 22 6 36 5 9 9 7 9 32 5 36-2 32-7 38-8 18zM862 251l-16 1-4-2-7-13 1-12-1-4-7-7-14-6-9-9-8-14-17-20-2-18 4-7 6-2 32 16 4 1 12-4 20 7 10 7 6-1 12-11-9-24 1-11 6-11 4-3 4-1 4 3 7 13 5 5 0 39-6 0-8-7 1 5-3 8-14 14-6 12-7 6 0 4 1 4 18 13 3 7-4 8-11 10zM108 161l0-35 8 7 3 6-1 2-7 6zM288 295l-6 1-2-2 0-13-4-4-16-5-18 0-17-19-13-12-3-8-1-18 5-18 8-14 6-4 17-6 6-1 10 3 6 0 26-10 10 0 5 4 2 8-3 10-17 16-4 6 4 28-5 32 2 3 2 0 8-5 22-24 21-20 13-18-2-3-16-4-11-5-1-2 1-4 6-8 16-12 23-12 4-1 9 3 11 1 8 3 3 4-2 6-21 17-7 17-9 16-27 36-7 7-30 24zM738 451l-3-16 3-12 2 2-1 2 0 14zM806 629l-4-1-11-9-2-6 5-13 6-5 4-1 5 1 5 4 4 18-3 6zM902 654l-6-1-2-4 4-8 6-2 2 1 0 9zM714 788l-4 0-6-5-10-15-20-6-10-7-5-6-2-6 3-10 1-14 6-8 5-2 7 0 29 8 3 2 2 16-3 16 9 10 3 12-2 8z"/>
<path fill-rule="evenodd" fill="rgb(180,180,180)" d="M776 466l-2 1-2-3-3-15 1-18 6-20 0-14-6-41-5-23-9-10-6-12-12-56-4-9-18-18-34-26-44-23-56-26-14-11-21-21-5-8 2-5 80-2 28 12 10 15 8 6 8 3 12 2 20 8 8 6 8 9 15 28 2 8-5 2-8-3-20-22-2 1-1 2 1 6 8 13 31 29 6 10 6 16 8 42 4 8 8 6 2 4 11 50 1 16-2 32-7 36zM356 193l-10 0-8-2-4-4 1-4 9-10 12-6 8-1 10 5 1 6-5 10-6 4zM276 270l-6 0-22-6-12-7-18-15-4-5-2-6 0-16 7-18 9-10 6-5 12-4 16 2 24-10 12-1 5 4-1 6-22 30 6 21 1 9-6 24zM292 291l-4 1-4-1-1-6 3-6 33-36 29-27 8-5 8-2 0 6-5 10-24 32-25 21zM688 749l-8 2-5-2-2-4-1-22 2-4 6-1 8 3 7 6-1 8z"/>
<path fill-rule="evenodd" fill="rgb(191,191,191)" d="M776 460l-3-3-1-10 0-16 5-22 0-16-6-38-5-24-8-8-7-12-12-56-5-11-17-17-35-26-44-24-56-25-14-12-19-19-3-6 0-4 6-2 18 4 10 0 20-5 22 0 22 12 18 17 6 4 42 12 8 7 7 9 14 26 1 4-2 3-6-1-6-5-14-20-9-7-9-2-8 2-1 2 11 7 14 19 36 34 8 14 4 12 7 42 5 9 8 5 2 4 7 30 5 36-1 26-5 26-4 16zM272 265l-16-2-10-4-8-5-16-13-7-10-1-8 1-8 7-16 14-13 8-3 14 2 28-12 8 0 3 2-1 6-20 28 0 4 8 18 0 8-6 20-2 4zM358 183l-6 0-2-2 4-5 7-1 2 4zM290 289l-3-2 1-6 29-34 31-28 6-3 4 0 1 3-3 8-22 30-30 24z"/>
<path fill-rule="evenodd" fill="rgb(203,203,203)" d="M778 452l-2 0-1-3-1-16 5-24 0-14-7-42-5-22-9-10-6-12-12-54-5-12-17-16-36-27-43-23-56-26-15-12-15-16-4-6 1-5 8 0 14 4 14 8 12 11 18 7 12 7 8 1 0-3-2-4-10-10-10-5-20-5-3-4 1-4 8-4 22-1 8 3 14 9 20 19 10 5 14 2 20 6 8 6 8 9 12 22 1 6-1 2-4-1-5-3-13-20-10-8-8-2-20-1-8 1-1 2 29 17 12 13 37 34 9 16 10 52 6 10 9 8 12 56-2 40-7 30zM270 261l-18-3-16-9-17-16-2-8 0-8 6-14 13-13 8-2 12 1 24-10 8-2 3 2-1 6-18 24 1 6 8 16 1 8-5 16-3 4zM294 285l-3-2 2-4 25-32 28-23 8-4 1 3-2 6-21 28-24 20z"/>
<path fill-rule="evenodd" fill="rgb(214,214,214)" d="M732 195l-6-4-11-18-7-6-10-4-32-1-12-4-6-4-22-23-24-9-3-3 0-4 13-4 12 2 18 10 17 16 7 5 8 3 27 6 9 4 14 15 10 19 0 4zM780 440l-2 1-2-10 5-22-2-22-11-56-9-10-6-12-12-56-7-12-22-20-30-22-44-24-54-24-16-13-14-17-2-4 1-2 5-1 12 4 26 19 30 14 22 7 19 13 25 13 34 30 19 19 9 18 10 50 4 8 10 8 1 2 10 50 1 14-2 26zM270 257l-6 1-8-1-16-7-18-17-3-6 0-8 5-14 12-12 6-2 14 1 16-7 10-3 3 1-1 6-15 20 1 6 7 12 3 10-3 12zM300 279l-3 0 3-6 18-24 18-16 10-7 4 0-2 7-16 23-18 15z"/>
<path fill-rule="evenodd" fill="rgb(226,226,226)" d="M730 189l-4-2-10-17-8-6-10-3-32-1-10-4-10-7-10-12-10-8-18-8-4-4 1-2 6-2 11 0 8 4 12 8 16 15 8 5 41 12 15 16zM782 425l1-18-3-20-11-58-9-8-6-12-13-56-6-12-16-16-35-26-45-24-55-25-15-13-13-16 0-4 4-1 8 2 24 19 34 16 18 6 48 26 52 48 9 18 10 50 6 10 9 8 6 28 5 36-3 27zM266 255l-12-1-14-7-16-14-3-6 0-8 4-12 11-10 6-2 14 0 16-8 6 0 1 4-11 14-2 6 2 6 8 14 1 10-4 10zM308 273l-4 2-1-2 5-10 9-12 15-14 10-6 3 0-2 8-11 16-10 9z"/>
<path fill-rule="evenodd" fill="rgb(238,238,238)" d="M694 159l-26-1-12-4-10-7-18-19-16-8-3-3 3-2 6-1 10 4 14 9 22 19 8 4 14 2 14 5zM784 396l-8-33-6-34-10-10-6-12-12-54-6-13-22-20-30-22-44-24-56-25-14-12-11-14 1-4 8 1 26 19 30 14 20 8 48 25 52 48 7 13 3 12 8 42 6 11 9 7 11 56 0 10-2 8zM262 253l-8-1-8-3-17-14-6-8 0-8 3-10 10-9 6-2 16-1 12-5 2 1-1 2-6 10-2 8 10 16 2 10-4 10-3 2zM310 270l-2 0 0-3 10-15 12-12 10-5 1 2-1 4-8 12-10 9z"/>
<path fill-rule="evenodd" fill="rgb(249,249,249)" d="M682 155l-14 1-13-5-25-24-14-8 0-2 5 0 9 4 12 8 18 16 12 7zM784 387l-7-24-6-36-9-8-6-10-13-56-7-14-22-21-30-21-42-23-56-25-16-13-8-11 0-3 2-1 6 1 24 18 30 15 20 7 47 25 34 30 18 18 7 14 11 54 6 10 9 8 10 50 0 12zM266 250l-8 1-10-4-22-18-2-6 1-8 5-8 6-5 10-2 14 2 1 13 10 14 2 6-1 8zM314 266l-2-1 0-2 8-12 10-9 7-3 0 4-5 8-10 10z"/></g><text x="520.0" y="631.3" font-size="27" fill="#000" font-family="'Liberation Sans',Arial,Helvetica,sans-serif">60<tspan font-size="20.5" dx="1.2" dy="-11">o</tspan><tspan dx="1.6" dy="11">S</tspan></text>
<text x="515.0" y="768.3" font-size="27" fill="#000" font-family="'Liberation Sans',Arial,Helvetica,sans-serif">40<tspan font-size="20.5" dx="1.2" dy="-11">o</tspan><tspan dx="1.6" dy="11">S</tspan></text>
<path d="M373.3 338.5L375.8 347.1L374.1 353.9L377.5 362.5L382.7 369.3L384.4 375.3L391.2 373.6L399.8 374.5L408.4 376.2L416.9 380.5L425.5 385.6L430.6 391.6L434.9 398.4L437.5 391.6L446.0 388.2L454.6 386.5L461.5 382.2L464.9 372.8L466.6 362.5L468.3 352.2L470.9 341.9L476.9 333.4L482.9 325.7L482.9 320.5L488.8 318.0L494.0 316.2L499.1 313.7L504.3 313.7L506.0 317.1L512.8 313.7L521.4 312.0L529.9 312.8L538.5 315.4L547.1 318.8L555.6 323.1L564.2 324.8L572.8 326.5L577.9 324.0L580.5 328.2L581.3 333.4L588.2 333.4L596.7 333.4L603.6 335.9L610.4 340.2L613.8 341.9L620.7 341.1L625.8 345.4L627.5 352.2L626.7 359.1L628.4 367.6L631.0 376.2L632.7 384.7L627.5 389.0L620.7 391.6L624.1 398.4L631.0 401.9L637.8 408.7L643.0 417.3L647.2 425.8L649.0 436.1L648.1 446.4L649.8 456.7L648.1 466.9L644.7 475.5L641.2 484.1L637.8 492.6L631.0 499.5L627.5 508.0L623.3 516.6L617.3 521.7L613.8 530.3L605.3 537.1L596.7 540.6L588.2 544.0L579.6 545.7L571.0 546.6L562.5 548.3L553.9 548.3L545.4 546.6L536.8 545.7L528.2 544.0L524.0 538.8L526.5 530.3L529.9 521.7L530.8 513.2L526.5 506.3L521.4 501.2L526.5 494.3L525.7 487.5L521.4 480.6L514.5 473.8L507.7 468.6L500.8 461.8L494.0 456.7L491.4 460.1L490.6 466.9L487.1 475.5L480.3 478.9L476.9 480.6L480.3 487.5L482.0 494.3L479.4 502.9L475.2 503.7L470.0 499.5L466.6 502.0L461.5 502.9L456.3 500.3L449.5 498.6L442.6 496.0L439.2 490.9L440.0 484.9L434.1 484.1L427.2 485.8L422.1 487.5L420.4 480.6L418.6 475.5L423.8 472.1L420.4 466.9L416.1 465.2L416.9 460.1L411.8 454.9L406.7 449.8L401.5 451.5L398.1 446.4L399.8 439.5L402.4 431.0L403.2 422.4L402.4 413.8L404.9 405.3L408.4 400.2L410.1 395.0L404.9 391.6L399.8 393.3L401.5 400.2L396.4 403.6L389.5 400.2L386.1 393.3L387.8 388.2L382.7 383.0L377.5 381.3L375.8 376.2L372.4 367.6L367.3 362.5L369.0 353.9L367.3 347.1L369.8 340.2ZM205.2 179.3L208.6 180.4L210.9 191.8L215.4 207.8L218.9 226.1L212.0 238.6L218.9 239.8L225.7 246.6L228.0 260.3L225.7 274.0L230.3 283.1L234.9 294.6L241.7 301.4L246.3 315.1L253.1 323.1L262.3 320.8L269.1 324.2L273.7 333.4L280.5 340.2L289.6 344.8L303.3 344.8L311.3 341.4L313.6 350.5L305.6 358.5L294.2 365.3L280.5 369.9L266.8 372.2L248.6 367.6L234.9 360.8L228.0 356.2L216.6 351.6L202.9 347.1L186.9 342.5L173.2 335.7L161.8 324.2L148.1 314.0L132.1 309.4L84.2 306.0L84.2 146.2L175.5 146.2ZM621.2 54.8L622.3 73.1L618.9 82.2L623.4 93.6L630.3 99.4L639.4 97.1L648.6 100.5L662.3 106.2L675.9 107.3L689.6 103.9L701.1 99.4L709.1 95.9L735.3 77.7L689.6 32.0L621.2 20.6ZM863.2 598.7L849.5 591.8L838.1 589.5L833.5 583.8L824.4 587.3L818.6 596.4L817.5 610.1L812.9 621.5L809.5 635.2L810.7 651.2L803.8 662.6L797.0 674.0L790.1 683.1L776.4 687.7L762.7 688.8L753.6 686.6L746.7 684.3L739.9 690.0L726.2 691.1L712.5 688.8L701.1 692.3L689.6 699.1L682.8 708.3L675.9 722.0L677.1 737.9L679.4 756.2L680.5 769.9L681.7 783.6L689.6 820.1L826.6 820.1L907.0 660.3ZM664.5 675.2L675.9 677.4L687.4 684.3L687.4 690.0L680.5 692.3L678.2 699.1L674.8 704.8L670.2 701.4L666.8 690.0L662.3 682.0ZM562.9 691.1L570.9 698.0L573.2 706.0L568.6 715.1L564.1 726.5L556.1 737.9L550.4 744.8L541.2 745.9L539.0 751.6L536.7 760.8L540.1 769.9L543.5 776.7L550.4 784.7L551.5 788.2L545.8 787.0L539.0 781.3L534.4 774.5L528.7 769.9L520.7 769.9L515.0 767.6L513.8 760.8L518.4 753.9L523.0 749.4L527.5 742.5L532.1 735.7L537.8 726.5L543.5 717.4L548.1 706.0L552.7 696.8L558.4 692.3ZM297.6 307.1L303.3 303.7L309.1 306.0L309.1 312.8L305.6 317.4L299.9 318.5L296.5 314.0ZM737.6 340.2L743.3 337.9L749.0 341.4L749.0 347.1L744.4 350.5L738.7 348.2ZM375.8 306.0L381.0 305.1L380.1 308.5L376.7 309.4ZM361.3 341.1L363.5 341.1L363.8 350.5L361.8 350.5ZM484.6 487.5L488.8 486.6L490.6 491.8L488.8 496.9L485.4 496.9ZM519.7 504.6L524.8 502.9L525.7 507.2L521.4 508.0ZM375.9 305.1L381.0 305.1L378.7 308.7ZM487.1 720.8L490.6 720.1L491.7 723.8L486.5 723.8Z" fill="#000"/>
<line x1="496.6" y1="491.1" x2="512.0" y2="491.8" stroke="#000" stroke-width="1.6"/>
<line x1="369.6" y1="256.2" x2="379.8" y2="258.0" stroke="#000" stroke-width="1.6"/>
<line x1="483.7" y1="749.4" x2="499.7" y2="749.8" stroke="#000" stroke-width="1.6"/>
<path d="M510.4 100.2L517.3 99.6L524.1 99.6L531.0 100.2L537.8 101.6L544.7 103.9L551.5 107.1L558.4 111.1L564.6 115.6L570.4 120.8L576.6 126.2L583.5 131.9L590.9 137.0L598.9 141.6L607.5 145.9L616.6 149.9L624.6 153.0L631.4 155.3L638.3 158.1L645.1 161.6L653.1 165.6L662.3 170.1L671.4 175.0L680.5 180.1L689.1 185.0L697.1 189.5L705.1 195.2L713.1 202.1L721.0 208.9L729.0 215.8L735.9 221.5L741.6 226.1L746.2 230.6L749.6 235.2L752.7 240.9L755.6 247.8L757.9 254.6L759.6 261.5L761.0 268.3L762.1 275.2L763.8 281.4L766.1 287.1L768.4 292.3L770.7 296.8L773.6 300.0L777.0 301.7L780.4 302.8L783.8 303.4L786.7 305.1L789.0 308.0L791.2 312.0L793.5 317.1L797.0 322.5L801.5 328.2L806.1 335.1L810.7 343.1L814.6 350.5L818.1 357.3L821.2 364.2L824.1 371.0L826.6 379.0L828.9 388.2L831.2 397.3L833.5 406.4L835.5 416.2L837.2 426.7L838.6 436.6L839.8 445.7L840.6 454.8L841.2 464.0L841.2 473.1L840.6 482.2L839.2 490.2L836.9 497.1L834.6 503.9L832.3 510.8L829.5 518.2L826.1 526.2L822.1 534.2L817.5 542.2L812.9 550.2L808.4 558.1L804.4 566.1L800.9 574.1L797.0 582.7L792.4 591.8L787.3 600.9L781.5 610.1L775.3 619.2L768.4 628.3L761.0 636.9L753.0 644.9L745.0 652.3L737.0 659.2L729.0 664.9L721.0 669.4L713.1 673.4L705.1 676.9L698.2 679.1L692.5 680.3L687.4 680.6L682.8 680.0L678.2 678.6L673.7 676.3L669.7 675.4L666.2 676.0L663.4 677.4L661.1 679.7L658.3 683.1L654.8 687.7L650.8 692.3L646.3 696.8L641.7 700.6L637.1 703.4L631.4 705.4L624.6 706.5L617.7 708.5L610.9 711.4L604.0 714.5L597.2 718.0L590.3 720.5L583.5 722.2L577.8 722.5L573.2 721.4L570.1 719.4L568.4 716.5L563.8 716.8L556.4 720.2L547.0 725.4L535.5 732.2L528.7 734.2L526.4 731.4L523.0 729.4L518.4 728.2L513.8 727.4L509.3 726.8L501.7 726.8L491.2 727.4L483.1 727.1L477.4 725.9L471.7 725.9L466.0 727.1L459.7 728.8L452.9 731.1L443.8 731.9L432.3 731.4L420.9 730.2L409.5 728.5L398.1 725.7L386.7 721.7L375.3 717.1L363.8 712.0L352.4 706.8L341.0 701.7L329.6 695.7L318.2 688.8L307.3 681.4L297.1 673.4L287.4 664.9L278.2 655.7L269.7 646.6L261.7 637.5L254.3 628.3L247.4 619.2L240.6 609.5L233.7 599.2L227.4 589.0L221.7 578.7L216.9 569.0L212.9 559.9L210.0 551.9L208.3 545.0L205.7 537.0L202.3 527.9L198.9 518.8L195.5 509.6L192.6 500.5L190.3 491.4L188.3 482.2L186.6 473.1L185.5 464.0L184.9 454.8L184.9 445.7L185.5 436.6L186.1 432.0L186.6 432.0L187.2 426.2L187.8 414.5L188.6 403.0L189.8 391.6L190.9 380.2L192.0 368.8L192.0 360.2L190.9 354.5L188.3 349.4L184.3 344.8L178.9 339.6L172.1 333.9L176.1 327.7L190.9 320.8L207.5 310.5L225.7 296.8L235.7 288.8L237.4 286.6L237.7 282.6L236.6 276.9L234.9 269.4L232.6 260.3L230.9 251.7L229.7 243.8L229.7 238.9L230.9 237.2L234.6 237.8L240.8 240.6L248.6 245.2L257.7 251.5L264.0 255.2L267.4 256.3L270.8 253.7L274.2 247.5L277.1 238.6L279.4 227.2L281.7 218.1L283.9 211.2L289.6 204.4L298.8 197.5L307.9 190.7L317.0 183.8L322.8 178.1L325.0 173.6L329.0 170.1L334.7 167.8L341.6 164.4L349.6 159.9L359.3 153.6L370.7 145.6L382.1 138.2L393.5 131.3L404.9 125.6L416.4 121.0L427.2 116.5L437.5 111.9L447.8 107.9L458.0 104.5L468.3 101.6L478.6 99.4L489.5 98.8L501.2 99.9L507.0 100.5L507.0 100.5ZM510.4 182.4L517.3 181.8L524.1 182.1L531.0 183.3L537.3 184.1L543.0 184.7L548.4 184.4L553.5 183.3L558.1 184.1L562.1 187.0L566.9 189.5L572.6 191.8L578.9 193.0L585.8 193.0L592.6 193.8L599.5 195.5L605.7 197.8L611.5 200.7L616.0 203.2L619.4 205.5L622.3 208.7L624.6 212.7L627.1 216.1L630.0 218.9L634.0 220.6L639.1 221.2L643.4 223.2L646.8 226.6L650.8 229.8L655.4 232.6L660.0 235.2L664.5 237.5L668.5 240.3L672.0 243.8L674.5 247.2L676.2 250.6L678.8 253.7L682.2 256.6L684.8 259.7L686.5 263.2L687.7 267.2L688.2 271.7L689.9 275.4L692.8 278.3L695.9 281.7L699.4 285.7L702.8 290.0L706.2 294.6L709.1 299.1L711.3 303.7L712.8 308.3L713.3 312.8L715.0 316.8L717.9 320.2L719.9 323.7L721.0 327.1L723.3 329.9L726.7 332.2L729.6 334.5L731.9 336.8L734.2 338.8L736.5 340.5L739.9 343.9L744.4 349.1L747.3 354.5L748.4 360.2L748.4 367.0L747.3 375.0L746.2 382.5L745.0 389.3L744.7 396.2L745.3 403.0L744.2 409.9L741.3 416.7L739.3 423.1L738.2 429.0L737.9 435.4L738.4 442.3L738.4 449.1L737.9 456.0L736.5 462.8L734.2 469.7L732.7 477.1L732.2 485.1L731.3 493.6L730.2 502.8L729.3 511.3L728.7 519.3L727.9 525.6L726.7 530.2L723.9 532.2L719.3 531.6L714.8 530.5L710.2 528.7L706.2 528.7L702.8 530.5L699.9 533.3L697.6 537.3L694.2 541.6L689.6 546.2L684.5 551.0L678.8 556.1L673.1 561.0L667.4 565.6L662.3 569.8L657.7 573.8L653.1 578.7L648.6 584.4L645.7 590.1L644.6 595.8L643.4 601.5L642.3 607.2L638.8 611.2L633.1 613.5L627.4 614.4L621.7 613.8L616.0 613.2L610.3 612.7L605.2 613.5L600.6 615.8L595.5 617.2L589.8 617.8L584.6 618.9L580.1 620.6L575.5 620.4L570.9 618.1L564.6 615.8L556.7 613.5L549.8 611.8L544.1 610.7L538.4 609.5L532.7 608.4L527.0 608.9L521.3 611.2L515.6 612.9L509.9 614.1L502.9 614.9L494.7 615.5L486.0 616.1L476.9 616.6L467.7 617.2L458.6 617.8L450.6 618.9L443.8 620.6L436.9 620.6L430.1 618.9L422.1 617.5L412.9 616.4L404.9 614.9L398.1 613.2L392.4 610.7L387.8 607.2L383.8 602.7L380.4 597.0L377.0 591.2L373.6 585.5L369.6 581.5L365.0 579.3L362.1 575.3L361.0 569.6L359.3 563.3L357.0 556.4L354.1 549.6L350.7 542.7L347.3 535.9L343.9 529.0L341.0 521.6L338.7 513.6L336.2 505.6L333.3 497.6L331.3 490.2L330.2 483.4L330.5 476.5L332.2 469.7L332.7 462.3L332.2 454.3L331.3 445.7L330.2 436.6L329.0 432.0L327.9 432.0L328.5 427.9L330.7 419.7L332.7 411.0L334.5 401.9L335.9 393.9L337.0 387.0L336.7 381.3L335.0 376.7L333.6 370.5L332.5 362.5L332.2 353.9L332.7 344.8L333.9 335.7L335.6 326.5L337.9 318.0L340.7 310.0L343.0 302.5L344.7 295.7L345.3 288.8L344.7 282.0L343.0 277.1L340.2 274.3L340.2 270.9L343.0 266.9L344.7 261.5L345.3 254.6L345.9 248.6L346.4 243.5L350.7 240.3L358.7 239.2L365.0 236.1L369.6 230.9L375.8 226.6L383.8 223.2L391.8 220.4L399.8 218.1L408.4 215.2L417.5 211.8L424.9 207.8L430.6 203.2L436.3 198.7L442.0 194.1L448.3 190.1L455.2 186.7L460.9 182.7L465.4 178.1L469.2 174.4L472.0 171.6L475.4 172.1L479.4 176.1L484.9 178.7L491.7 179.8L498.1 180.7L504.0 181.3L507.0 181.8L507.0 182.4Z" fill="none" stroke="#000" stroke-width="4.4" stroke-linejoin="round"/></g>
<circle cx="507.0" cy="432.0" r="394.3" fill="none" stroke="#000" stroke-width="2"/>
<line x1="507.00" y1="37.70" x2="507.00" y2="29.20" stroke="#000" stroke-width="2"/>
<text transform="translate(507.00,23.00) rotate(0)" text-anchor="middle" font-size="27" fill="#000" font-family="'Liberation Sans',Arial,Helvetica,sans-serif">0<tspan font-size="20.5" dx="1.2" dy="-11">o</tspan><tspan dx="1.6" dy="11"></tspan></text>
<line x1="704.15" y1="90.53" x2="708.40" y2="83.16" stroke="#000" stroke-width="2"/>
<text transform="translate(711.50,77.80) rotate(30)" text-anchor="middle" font-size="27" fill="#000" font-family="'Liberation Sans',Arial,Helvetica,sans-serif">30<tspan font-size="20.5" dx="1.2" dy="-11">o</tspan><tspan dx="1.6" dy="11">E</tspan></text>
<line x1="848.47" y1="234.85" x2="855.84" y2="230.60" stroke="#000" stroke-width="2"/>
<text transform="translate(861.20,227.50) rotate(60)" text-anchor="middle" font-size="27" fill="#000" font-family="'Liberation Sans',Arial,Helvetica,sans-serif">60<tspan font-size="20.5" dx="1.2" dy="-11">o</tspan><tspan dx="1.6" dy="11">E</tspan></text>
<line x1="901.30" y1="432.00" x2="909.80" y2="432.00" stroke="#000" stroke-width="2"/>
<text transform="translate(916.00,432.00) rotate(90)" text-anchor="middle" font-size="27" fill="#000" font-family="'Liberation Sans',Arial,Helvetica,sans-serif">90<tspan font-size="20.5" dx="1.2" dy="-11">o</tspan><tspan dx="1.6" dy="11">E</tspan></text>
<line x1="848.47" y1="629.15" x2="855.84" y2="633.40" stroke="#000" stroke-width="2"/>
<text transform="translate(883.11,649.15) rotate(-60)" text-anchor="middle" font-size="27" fill="#000" font-family="'Liberation Sans',Arial,Helvetica,sans-serif">120<tspan font-size="20.5" dx="1.2" dy="-11">o</tspan><tspan dx="1.6" dy="11">E</tspan></text>
<line x1="704.15" y1="773.47" x2="708.40" y2="780.84" stroke="#000" stroke-width="2"/>
<text transform="translate(724.15,808.11) rotate(-30)" text-anchor="middle" font-size="27" fill="#000" font-family="'Liberation Sans',Arial,Helvetica,sans-serif">150<tspan font-size="20.5" dx="1.2" dy="-11">o</tspan><tspan dx="1.6" dy="11">E</tspan></text>
<line x1="507.00" y1="826.30" x2="507.00" y2="834.80" stroke="#000" stroke-width="2"/>
<text transform="translate(507.00,866.30) rotate(0)" text-anchor="middle" font-size="27" fill="#000" font-family="'Liberation Sans',Arial,Helvetica,sans-serif">180<tspan font-size="20.5" dx="1.2" dy="-11">o</tspan><tspan dx="1.6" dy="11">W</tspan></text>
<line x1="309.85" y1="773.47" x2="305.60" y2="780.84" stroke="#000" stroke-width="2"/>
<text transform="translate(289.85,808.11) rotate(30)" text-anchor="middle" font-size="27" fill="#000" font-family="'Liberation Sans',Arial,Helvetica,sans-serif">150<tspan font-size="20.5" dx="1.2" dy="-11">o</tspan><tspan dx="1.6" dy="11">W</tspan></text>
<line x1="165.53" y1="629.15" x2="158.16" y2="633.40" stroke="#000" stroke-width="2"/>
<text transform="translate(130.89,649.15) rotate(60)" text-anchor="middle" font-size="27" fill="#000" font-family="'Liberation Sans',Arial,Helvetica,sans-serif">120<tspan font-size="20.5" dx="1.2" dy="-11">o</tspan><tspan dx="1.6" dy="11">W</tspan></text>
<line x1="112.70" y1="432.00" x2="104.20" y2="432.00" stroke="#000" stroke-width="2"/>
<text transform="translate(98.00,432.00) rotate(-90)" text-anchor="middle" font-size="27" fill="#000" font-family="'Liberation Sans',Arial,Helvetica,sans-serif">90<tspan font-size="20.5" dx="1.2" dy="-11">o</tspan><tspan dx="1.6" dy="11">W</tspan></text>
<line x1="165.53" y1="234.85" x2="158.16" y2="230.60" stroke="#000" stroke-width="2"/>
<text transform="translate(152.80,227.50) rotate(-60)" text-anchor="middle" font-size="27" fill="#000" font-family="'Liberation Sans',Arial,Helvetica,sans-serif">60<tspan font-size="20.5" dx="1.2" dy="-11">o</tspan><tspan dx="1.6" dy="11">W</tspan></text>
<line x1="309.85" y1="90.53" x2="305.60" y2="83.16" stroke="#000" stroke-width="2"/>
<text transform="translate(302.50,77.80) rotate(-30)" text-anchor="middle" font-size="27" fill="#000" font-family="'Liberation Sans',Arial,Helvetica,sans-serif">30<tspan font-size="20.5" dx="1.2" dy="-11">o</tspan><tspan dx="1.6" dy="11">W</tspan></text>
<text x="512.8" y="442.0" text-anchor="middle" font-size="45" font-weight="bold" fill="#fff" font-family="'Liberation Sans',Arial,Helvetica,sans-serif">MHW</text>
</g>
<g id="panel-b">
<clipPath id="clip-b"><circle cx="1453.2" cy="432.0" r="394.3"/></clipPath>
<g clip-path="url(#clip-b)"><g filter="url(#fb)"><rect x="1053" y="32" width="800" height="800" fill="rgb(6,6,6)"/>
<path fill-rule="evenodd" fill="rgb(17,17,17)" d="M1852 831l-798 0 0-798 798 0zM1462 595l2-2 26 0 2-2 14-2 6-4 4 0 8-4 10-8 6-2 6-6 6-2 14-14 2 0 0-2 6-6 0-2 6-6 0-2 6-6 4-8 4-4 2-6 4-4 6-12 0-4 2-2 0-4 2-2 0-4 4-8 0-4 4-6 2-10 4-6 0-4 4-6 0-6 6-12 0-24-2-2 0-6-2-2-4-16-4-6 0-4-6-12-4-4-2-6-4-4-8-14-16-18 0-2-24-22-12-6-4-4-22-10-8-6-12-2-2-2-8 0-2-2-38 0-2 2-20 0-2 2-10 0-2 2-14 2-2 2-4 0-8 4-6 0-2 2-10 2-8 4-12 10-2 0-10 10 0 2-12 14-4 8 0 4-4 6 0 6-2 2 0 6-2 2 0 20-2 2 0 16-2 2 0 32 2 2 0 16 2 2 0 10 2 2 0 18 2 2 0 10 2 2 2 14 34 70 14 16 2 0 12 10 12 6 4 0 8 4 6 0 2 2 6 0 2 2 8 0 2 2 26 0z"/>
<path fill-rule="evenodd" fill="rgb(29,29,29)" d="M1852 831l-798 0 0-798 798 0zM1463 597l27-2 24-7 28-15 28-23 23-31 13-22 31-88 0-16-3-14-14-36-28-44-18-22-20-18-38-21-10-4-16-3-18-1-46 3-18 3-42 14-10 5-12 11-12 13-10 16-9 22-3 12-5 56 7 70 5 24 7 18 30 58 20 20 18 9 10 4 30 7z"/>
<path fill-rule="evenodd" fill="rgb(41,41,41)" d="M1852 831l-798 0 0-798 798 0zM1482 597l26-5 19-9 27-17 22-21 18-25 11-17 5-12 8-24 18-48 3-10 0-16-7-24-12-29-33-51-18-22-11-10-36-21-16-6-16-3-18-1-46 2-30 7-30 11-10 5-16 15-10 13-10 16-8 22-3 12-5 54 1 22 7 58 8 28 29 58 8 12 15 14 28 14 26 6 34 3z"/>
<path fill-rule="evenodd" fill="rgb(52,52,52)" d="M1852 831l-798 0 0-798 798 0zM1465 599l26-2 25-7 28-16 28-23 23-30 10-16 7-14 26-72 2-10 0-16-6-24-13-30-35-55-16-20-12-11-22-14-28-13-16-3-20-1-46 2-32 7-30 12-12 8-12 11-11 15-14 28-7 24-5 54 1 22 4 32 2 26 6 20 6 16 25 50 8 12 17 16 28 13 32 8z"/>
<path fill-rule="evenodd" fill="rgb(64,64,64)" d="M1852 831l-798 0 0-798 798 0zM1482 599l10-1 24-7 28-15 28-23 22-28 13-20 6-14 26-72 2-10 0-16-2-10-5-16-11-26-32-54-19-25-27-25-5-12-18-8-4 2 0 2-4 1-42-4-46 0-26 4-4-3-6-1-5 3-1 6-1 2-31 17-14 14-10 15-10 18-8 20-5 24-4 48 2 28 6 50 8 28 28 58 10 14 15 14 16 9 14 6 26 6 32 3zM1655 355l1-4-2-4-4-4-2 0-1 4 2 6 3 3z"/>
<path fill-rule="evenodd" fill="rgb(75,75,75)" d="M1852 831l-798 0 0-798 798 0zM1466 601l26-2 12-3 12-4 14-6 24-16 10-8 10-9 18-22 2 0 2 6-4 12 2 10 2 3 4-1 5-8 1-18 6-10 5-14 6-10 9-44 14-46 1-16-5-9-2-13 6 8 5 10 9 3 4-6 6-17 0-18-7-12-18-18-2-4 0-10-3-3-8 3-3 4 0 6 6 10-4 14 3 12-2 0-4-12-8-12-1-4 3-8-4-10 4-8-2-10-10-6-6-10-14-5-10-6-18-19-3-8 2-12 0-10-4-6-5-4-32-7-18 9-22-1-16-6-16 5-18 3-33-9-7 0-8 4-14 20-28 25-15 25-10 20-8 24-4 20-3 48 2 74 3 20 8 20 29 54 9 12 11 11 18 11 20 8 40 7z"/>
<path fill-rule="evenodd" fill="rgb(87,87,87)" d="M1852 831l-798 0 0-798 798 0zM1439 609l13-2 14-4 42-5 22 3 20-3 24 7 8-2 3-4 4-14 3-4 12-8 31-32 5-18-5-8 0-6 9-52 7-16 6-24 11-16 6-18 9-20-1-6-7-18-14-16-3-22-14-16-11-8-8-8-16-28-17-12-18-7-10-15-8-6-42-18-22 2-12 3-22 0-38-9-16 4-20 10-20 23-18 10-15 7-4 4-4 16-7 15-18 59-3 28 0 34-6 58-2 38 10 12 4 10 11 14 11 20 12 16 22 24 17 11 30 14 22 4zM1219 397l2-6-3-2-3 0-2 2 1 4 2 2zM1224 511l10-6 9-16-1-18-8-7-4 0-22 8-5 5 0 4 9 28 4 3z"/>
<path fill-rule="evenodd" fill="rgb(99,99,99)" d="M1852 831l-798 0 0-798 798 0zM1434 617l20-4 18-7 14-1 18 1 20 6 26-5 24 5 10-1 6-6 8-18 9-6 9-11 25-21 7-18 6-4 10 2 5-2 1-6-4-16 1-16-9-18 0-22 7-30 9-20 12-32-2-22 6-4-10-12-8-14-2-14-4-7-13-13-15-10-5-12-7-8-8-12-24-14-16-6-14-18-21-12-13-13-8-4-10-1-20 4-14 4-20 0-22-8-2-2-4-10-10-3-8 3-6 10-4 3-16 7-8 5-7 17-9 10-20 11-16 5-8 8-9 28-2 18-13 44-5 28 1 36-4 22-9 16 1 28-2 5-6 1-34-11-16-1-3-4-1-8 3-12 13-20 14-8 10-8 10-4 7-10 3-8-4-12-10-8-10-16-8-3-4 3-6-5-6-1-8 5-5 7-2 12 0 16-3 6-10 6-8 1-4-2-6-8-4 0-7 9-9 9-4 2-8 0-3 3-6 14-1 9 6 10 8 5 14-2 6 13 4 2 6 1 6 5 3 5-1 5-4 1-14-3-6-5-4-1-14 1-6 4-3 10 1 2 12-2 12-7 6-1 4 22 4 4 12 6 4 4 4 16 1 16 12 8 1 12 4 4 4 1 4 0 8-9 10-4 4-4 8-15 10-10 0-13 3-8 3-3 4 0 11 17 4 12 16 34 15 8 32 31 20 14 28 14 24 3zM1261 225l1-2-2 0-3 2 1 2zM1172 424l-2 0 0-3 7-10 3-3 10 1 8 4 1 2-3 4-6 3-10-1zM1643 637l8-4 11-11 10-4 5-3 7-16 7-8 2-12 6-4 1-3-26-1-14-10-4-1-16 8-11 15-4 8 2 12-4 26 3 5zM1529 677l5-4 0-4-2-5-4-3-4 0-6 1-6 7-1 6 3 3 6 1z"/>
<path fill-rule="evenodd" fill="rgb(110,110,110)" d="M1852 831l-798 0 0-365 5-5 17-10 3-4 2-6-1-5-4-2-22 3 0-86 1-4-1-12 8-5 3-9-3-5-8-4 0-279 798 0zM1257 81l4-2 2-6-3-20-2-4-4 0-9 4-9 12-1 4 2 6 5 5 6 1zM1328 669l8-6 0-4-10-2-6-3-9-13-19-20-9-22-5-30-6-5-13-7-4-4 1-6 4-4 17-8 0-8-6-30 1-6 2-3 2 1 7 12 9 27 14 26 39 31 16 14 6 10 33 11 18 3 10 4 6-1 22-8 16-7 10-2 18 1 24 8 24-4 10-1 24 7 13 1 2 4 0 6-9 4-2 2 0 4 2 3 22 0 28 8 12-3 18-1 4-3 3-12 9-9 12-19 14-13 4-8 3-9-1-26-2-1-6 1-14-2-16 4-5-2-3-4 0-4 5-8 2-6-3-24 1-16-8-20-2-12 5-32 8-22 11-34-1-16 2-1 2 0 8 8 2 0 3-7-3-10-19-28-3-14-9-22-17-14-3-4-1-10-4-6-24-18-14 1-28-11-14-20-16-11-12-12-16-8-10-2-14 0-24 7-8-3-12-7-18-14-12 0-12 5-16 16-18 8-6 5-4 8-3 12-5 6-20 12-16 6-10 10-12 22-2 10 2 14-3 16-8 20-5 19-4 10-2 0-1-3-1-14-5-12-25-12-6 2-13 8-27 22-14 5-18 2-17 5-5 3-2 3-1 20-7 20-2 3-2-2-7 11-11 24 0 16 5 10-1 16 11 22 3 3 4 1 10 6 10-8 6 0 16 16 3 12 7 16 3 14 7 6 12 4 9 8 32 58 5 6 8 7 16 8 10 1 10 5 10 3 8 11zM1258 233l10-8 3-4-1-4-4-2-6 1-9 7-2 6 1 4 4 1zM1094 317l10-4 7-8 7-18-4-6-4-2-6 2-18 12-1 6 2 12 3 5zM1523 691l16-10 4-6 3-8-1-4-5-6-6-5-6-2-10 1-12 4-6 8-10 8-3 8 1 6 4 3 16 3z"/>
<path fill-rule="evenodd" fill="rgb(122,122,122)" d="M1124 393l-10 1-5-3-2-14 2-26-3-14 18-32 10-10-2-10-10-13-10-4-18-2-22 8-18-1 0-240 199 0-25 10-14 22 1 4 7 6 3 6 0 4-3 10 1 4 3 3 6 1 18-4 18 2 10-3-1 3-7 3-4 4-10 17-10 10-1 10 5 2 14-4 22-17 18-10 16-1 24-19 20-12 2-3-1-2-3-1-8 3-32 0-5 2-7 7-12-3-13-18-3-14-7-10-4-12 206 0-7 14-4 3-26-3-16 7-10 1-7-4-7-10-2 0-2 2-2 22-11 14 2 2 21 6 7 6 0 6-6 6-11 6-14 4-12 0-4 2-8 10 0 4 6 2 13-2 17-7 16-3 14 3 3 3 0 2-35 30-20 9-4 5-14 25-18 15-14 7-8 8-14 18-4 7-2 14 1 20-5 13-4 2-22-8-6 0-14 5-42 27-6 1-12-2-14 5-16-3-16 0-6 2-2 2-1 4 8 12 1 10-2 0-1 10-7 22zM1852 831l-331 0-3-2-11 2-5-7-4-2-8 9-220 0-2-3-2-1-9 4-147 0-3-6-9-3-6 2-1 7-37 0 0-326 15-10 11-17 14 14 14 5 14 12 13 4 8 14 14 14 4 16 13 14 32 16 4 16 18 17 16 21 14 12 10 6 8 12 6 6 12 7 12 10 6 4 11-5 19-16 28-9 16-13 6-1 14 3 16-6 4 6 4 3 6-2 20-9 8 0 6 2 2 6-7 10-1 4 6 10 3 22 3 5 6 2 12-2 12 2 8-4 12-2 9-11 12-10 15-19 16-8 30-4 12 3 4 4 3 4 5 22 4 4 4 2 4-2 1-2 0-4-6-10 1-4 2-4 12-2 34 4 2-2-3-10 3-16 12-25 6-8 12-8 7-11 5-12 23-22 16-22 4-8 1-18-1-4-3-2-20-3-12-8-6-1-4 1-4 4-7 21-7 10-4 4-6 0-14-2-6-9-3-13 1-18-7-14-2-14 2-28 8-26 11-44 3 0 3 13 4 1 6-6 2-8-4-21-9-13-8-16-10-42-9-18-5-6-42-34-9-3-6 1-12 6-12-2-6-6-4-12-4-4-27-20-29-16-20-7-12-2-6 1-10 4-8-2-3-4 0-6 3-6 4-3 6-1 6 2 16 11 4-1 0-4-6-8-10-8-4-9-8-7-20-6-3-4 1-2 7-6 13-4 23-16 17-5 14 0 8-2 6-6 6-13 6-6 308 0zM1258 237l10-7 8-9 1-6-3-4-6-1-8 2-8 3-4 4-3 8 1 8 4 4zM1783 375l7-9 16-11 8-8 0-6-4-14-4-4-8-3-4-3-4-10-6-5-28-5-12-6-18-4-1 4 11 12 13 26 19 20 8 25 4 3zM1068 413l-14 1 0-34 2-1 4-1 16 9 12 11 12 2 1 1-1 4-8 5-4 0-10-2zM1350 632l-10 0-18-4-17-15-11-24 0-30-13-30-7-28 0-8 2 0 5 8 9 28 24 45 18 15 10 12 15 10 5 3 14 2 14 5 1 2-1 4-6 3-20-2zM1560 651l-8 0-14-12-16 2-30-6-10 0-12-8-2-3 0-3 8-5 14-3 12 2 14 7 8 2 12 1 18-5 8 0 3 1 3 4-3 20zM1115 633l8-8-5-7-6-2-2 3-3 12 3 3zM1206 671l2-4-4-2-3 4 3 3zM1207 699l3-4 0-6-1-6-3-1-3 5-1 6 2 5zM1496 797l9-4 1-4-1-4-15-12-6-2-6 0-2 6 4 9 8 9zM1287 829l2-2-2-10 3-12-1-20-2-4-5-1-8 3-2 2-1 4 2 6 1 25 8 7zM1527 817l3-8-2-6-8-6-8 0-2 4 1 4 5 10 6 4zM1066 813l2-4 0-5-2-2-4 0-4 3-1 6 3 3z"/>
<path fill-rule="evenodd" fill="rgb(133,133,133)" d="M1150 317l-3 0 7-7 12-8 5-5 2-6-7-4-16-1-6-7-1-22 1-18-6-21-4-3-20-6-16 3-10 7-2 0-8-6-14-6-3-14-7-8 0-152 30 0 7 16 0 14 2 8 14 12 3 4 2 12-10 2-10 4-9 8-6 8-4 8 0 4 2 4 5 4 6 1 6-1 16-8 16 4 6-1 10-11 12-8 7-14-6-12-4-16 0-4 4-10 0-4-5-3-14-2-14-9-2-6 0-4 33 0-2 6 6 12 3 4 8 5 8 1 18-8 8 1 2 3 1 14 4 14-3 14 1 6 11 12 12 5 3 3-1 6-6 8-16 6-14 10 2 8 9 12 3 1 6-1 22-11 18-5 4 1 2 3 0 13 2 1 4 0 8-6 13-22 9-8 8-2 16 5 20 8 14 2 6 5-1 10-9 21-32 29-20 25-4 7-12 28-10 1-40 23-24 12-6 1-18-2-12-2-6 4zM1318 65l-8 2-3-2 0-4 3-4 6-1 4-3 6-19 6-1 14 4-6 17-5 7-5 3zM1796 527l-2 0-4-6 1-10-2-10 2-18 4-8-9-15-2 0-2 2-2 11-6 5-16 2-16-5-6-1-12 11-10 18-6 5-12 7-4-1-4-3-2-10 2-24-10-4-3-6 0-36 15-53 2-4 2 2 4 15 4-2 10-10 1-20-5-24-8-10-8-16-10-45-6-15-4-5-28-25-19-14-33-14-68-35-14-12-29-31-2-6 1-5 4-2 12-4 14-16 26-8 18-8 11-1 0-4-5-4 0-2 7-14 3-3 15-3 11 0 4 6 8 8 0 6-6 10-2 8 0 2 6 1 8-1 12-9 10-4 6 1 10 9 4 0 4-4 5-7-1-10-6-8-10-2-4-6 208 0 0 154-8-3-10 3-4 0-12-12-16-7-6-12-4-4-10-4-6 1-14 10-7 14-1 8 2 8 2 4 4 1 2-2 2-5 1-14 3-5 4-2 4 2 8 9 12 0 1 4 0 10 1 3 20 12 8 8 9-3 8-10 7 0 0 98-8-1-10 1-6-3-14 3-14-6-4-4 0-4 8-6 1-4-7-10 2-12-2-4-2-1-10 1-9 4-2 4-1 10-2 2-6 2-14-2-10 3-4 0-22-17-2-1-2 3 0 10 6 29 15 13 3 17 8 23 2 2 8 1 4 3 2 6 4 16-4 18 2 10 2 3 5-1 9-8 10 1 4-2 7-7 3-9 8-6 6-11 4-4 16-5 10 2 6-3 0 89-14 2-9 17-15 7-4 5-2 6-2 14 2 22-6 3zM1592 109l4-10 2-16 0-6-2-1-18 4-4 3-1 4 2 8 8 10 5 4zM1690 103l0-2-2 0 0 4zM1677 143l11-11 9-5 3-4-2-7-8-5-4 0-17 12-1 6 2 9 4 6zM1723 135l-3-4-4-1 0 3 1 2zM1721 205l2-6 0-10-3-8-6-9-6-4-10-3-18-15-4-1 2 8 20 36 14 12 6 2zM1253 243l15-10 12-12 6-10 0-4-2-1-14-3-22 4-4 2-3 8 1 18 4 7 4 2zM1734 241l4-2 2-4 1-10-5-8-8-3-4 3 0 8 4 11zM1812 235l4-2 1-2-3-10-6-7-6 1-4 3-1 3 0 10 5 6zM1384 625l-4 1-38-3-16-8-7-6-18-26-5-26-12-26-8-33 4 4 9 27 16 30 7 18 11 8 11 18 4 4 22 8 18 4 7 4zM1852 516l-4-5 4-6zM1842 516l-1-3 4-2 1 2zM1832 831l-196 0-6-2-7 2-74 0 4-14 1-3 7-3 1-4-6-8-26-10-6-4-6-16-1-12-5-10 0-6 4-10 18-16 8-16 6-6 10-6 7-12 5-4 8-3 20-3 10 2 4 4 5 14 12 18 7 7 6 1 20-17 7-11 3-2 6-2 12 4 6-3 8-17-4-14 2-8 10-21 24-25 10-5 10 1 10-1 8 11 8 3 5-1 5-10 4-1 5 5 0 4-10 8-2 18-10 8-9 13-12 9-6 20 1 12-1 10 2 8-1 8-5 4-15 6-3 6 2 16 6 6 14 3 12 8 6 0 6-3 4-4 3-6 5-20 1-16 7-4 22-7 4-2 1-3-3-16-8-18-3-22-4-6 1-3 6 4 4 0 4-2 4-5 0-6-5-8 2-12-2-4-8-6-5-14 4-16-3-14-3-3-8-1-4-2 0-8 2-5 2 0 6 6 4 0 2-1 5-8-3-8 20 2 10-4 8 8 4 8 0 107-4 0-2 1-2 6 2 4 6 3 0 106-2 2-26 9-8 16 3 24 3 4 10 3 2 5zM1142 827l-4 1-6-2-10-8-6-7-1-10 4-20 0-6-3-4-14-3-16-8-12-12-12-5-3-16-3 0-2 2 0-48 16-13 8-10 2 0 2 7-2 6-4 4-8 3-10 7-3 4 3 8 6 2 10-6 8-17 4-3 24-7 18 4 4 0 9-15 8-22-10-18-5-16-9-6-9-3-32 6-12-2-6 2-3 5 0 6 13 16 1 8-1 4-4 3-6 1-4-2-8-10 0-60 6-2 12-11 8 2 8 9 4 2 5-2 7-12 8-5 6 0 10 4 12 11 10 6 5 6 0 4-4 12 3 9 6 4 6 3 5-6 3 0 6 6 0 5-7 5-2 4 0 4 7 7 1 5-6 20-8 10-1 4 8 18 14 12 0 6-5 8 1 8 14 14 0 4-2 1-8-1-3 2-5 12 0 4 4 4 10 2 3 2-2 22 3 2 10 3 3 9-4 6-19 7-6-9-4-1-4 1-15 8-9 8zM1396 812l-4 0-6-10-4-3-12-4-8-28 2-6 12-9 5-7 4-24-1-4-2-1-6 2-4 5-3 12-6 12-9 10-1 6-2 4-7 5-4 0-4-1-10-20-6-6-6-3-20-2-11 7-7 8-8 6-22 27-22 1-4-5-1-5 1-4 11-16 0-4-6-10 1-12 5-8 3-16 10-24 12-1 8 1 7 6 3 10 4 4 10 4 28 9 8 6 8 0 15-3 6-20 13-10 14-8 8-11 6-1 14 4 10 16 14 6 6 6 3 6 2 10-12 18-2 6 0 6 4 4 5 2 20 1 4 3 0 6-4 18-12 18-8 3-12-4-6 0-16 6zM1245 743l4-4 0-4-5-3-8-1-2 4 1 6 5 3zM1384 767l1-2-1-3-2-1-3 0-1 2 0 4zM1352 793l-4 0-3-2 1-6 4-2 6 1 4 3-3 4z"/>
<path fill-rule="evenodd" fill="rgb(145,145,145)" d="M1808 87l-8 1-12-4-10 3-6 0-4-3-10-11-6-5-14 7-8 0-1-6 7-10 0-4-10-11-12 0-1-11 36 0 2 4-4 18 3 4 2 1 4-6 4-11-9-8 1-2 34 0-3 6 10 10 13 18 22 12zM1070 91l-6-1-2-5 3-10 1-15 2-2 4 7-2 12 4 10zM1704 503l-4-1-1-3 7-30-2-4-9-6-3-5-2 0-7 13-3 2-1-2-2-8 1-26 3-16 9-31 3 3-1 8 3 8 0 6-6 14-2 10 5 15 5-9 7-22 6-10 5-12 1-16-2-24-4-22-9-12-7-14-10-45-6-16-16-17-22-18-14-10-43-22-57-26-14-12-27-30-1-6 2-3 18-2 10-8 6-3 6 0 12 2 8-5 4 0 12 13 14 7 20 15 10 4 4-2 1-12 11-12 20-6 7 4 5 26-2 6-7 6 0 2 15 9 11 9 31 48 0 4-1 2-13 3-1 3 12 12 7 16 2 18 8 34 4 7 6 3 4 5 9 41 6 18 1 50 7 12 1 10 10 6 3 4-3 6-4 1-5-1-7-6-4 1-32 43zM1190 123l-4 1-3-3-4-8 1-8 4-9 4 4 3 13 1 6zM1832 143l-11-2-3-8-2-2-14 2-10-4-3-4-1-10-5-6 0-2 7-6 6-1 12 2 14 6 14 2 12 5 4 6-2 10-10 10zM1766 132l-6-1-1-4 3-8 2-2 4-1 3 3 0 4-1 4zM1168 154l-4 0-5-3-3-6-1-6 4-8 9-4 4 2 2 8-2 12zM1224 304l-8-1-4-10-4-4-22-3-6-8-20-9-2-10-7-16-2-20 2-12 8-12 17-16 8-4 8-1 8 3 6 1 9-3 21-10 8-2 4 1 2 5-2 8-16 22-2 6 7 14 5 20 4 5 4 1 21-16 28-26 4-6 0-2-3-2-24-4-3-4 1-6 16-21 10-5 10-1 24 5 12 5 2 3-1 4-6 14-11 11-6 11-28 35-14 22-32 24zM1104 189l-12-4-10-1-2-3 1-4 11-13 6-3 8 2 4 6 0 16zM1768 222l-4 0-4-3-2-4 1-2 3-1 4 1 4 6zM1852 424l-10-9-9-6-4-12 3-6 6-6 14-7zM1378 623l-20 0-14-2-16-8-16-23-8-7-3-10-2-18 3 2 8 21 10 7 14 22 12 6 14 4 15 2 3 2zM1724 649l-4 1-4-5 0-10 2-8 3-4 13-9 4-2 4 1 12 12-1 8-5 5-14 1zM1726 681l-10 1-4-3 6-7 8-2 4 7 0 2zM1124 735l-4-2-8-12-1-4 3-10 4-5 18-15 4-2 6 1 5 5-1 24-3 4-9 4-10 10zM1742 831l-77 0-8-10-7-6-17-4-3-4-1-6 0-4 3-3 8-2 2 1 3 6 5 2 4-1 2-3-2-4-6-8-2-14-9-6-5-7-4-2-2 1-1 10-4 6-11 5-8-2-4 1-6 15-6 5-8-1-12-11-18-2-12-6-4-6 2-20-1-12 2-6 3-4 8-5 16-18 8-11 4-3 8-1 8-3 4 3 4 12 4 6 20 5 12 9 8 16 8 10 4 11 22-3 4-3 8-10 14-5 12 14 8 14 12 15 7 5 0 6-5 14 7 10 1 14zM1094 727l-4-1-2-5 2-5 6-2 5 3 0 4-3 5zM1583 735l2-4-1-4-10 2 6 6zM1148 799l-8 1-8-3-2-4 1-4 1-6 4-5 14-8 4-1 5 4 1 10-4 12zM1721 819l9-8-1-4-15-9-6 1-5 8 3 10 6 4zM1612 807l-5 0-1-4 2-2 4 0 1 4z"/>
<path fill-rule="evenodd" fill="rgb(156,156,156)" d="M1712 490l-2 1-2-2 0-6 3-14 1-40 5-20 2-16-3-36-5-24-8-10-8-14-9-44-7-18-17-18-22-18-12-9-45-23-19-7-38-19-14-12-21-24-3-6 1-4 3-1 18 1 6-5 6-2 28 2 20 6 8 4 20 16 14 9 40 11 12 6 10 11 20 34 3 6-3 4-6 1-8-1-2 2 6 8 11 10 8 16 11 53 4 7 8 5 3 5 12 52 2 14-1 44-3 16-9 28zM1308 189l-14 1-8-5-1-4 2-4 7-8 6-3 8-1 16 2 8 4 0 8-4 6-6 3zM1226 299l-3-2-3-8-6-8-8-4-24-8-18-16-6-8-3-10 0-16 4-10 8-10 11-11 6-3 20 1 30-12 8 0 2 3-2 6-15 20-2 6 1 5 9 13 7 29 10-4 38-34 24-17 4-1 2 1-1 6-4 8-34 48-35 27-12 7zM1672 205l-1-4-11-15-2-2-3 1-1 4 4 6 6 6zM1682 463l-2-1-1-3 2-26 3-19 6-13 2 4-1 6-5 12-3 10 3 18zM1360 620l-2 1-15-2-15-8-14-22-8-6-4-12 2-3 5 11 9 6 15 22 11 7 17 5zM1570 764l-4 0-4-3 6-1 3 1zM1694 793l-6 2-4-1-7-7-2-4 5-10 9-8 5-2 4 2 3 4 3 10-2 7z"/>
<path fill-rule="evenodd" fill="rgb(168,168,168)" d="M1716 480l-2 1-2-4 2-8 1-38 5-22 1-20-4-34-6-24-7-8-8-14-10-47-5-15-17-18-24-20-12-8-44-23-20-8-36-17-14-12-18-20-4-6 0-5 6-1 18 3 13-5 17-1 22 3 10 5 33 25 47 13 9 7 6 8 18 30 2 6-1 2-6 2-10-4-16-22-6-5-4 0-2 1 0 8 8 12 18 14 10 11 10 8 5 9 6 18 8 42 5 8 8 6 2 4 12 56 1 34-5 34-9 28zM1570 137l-2-4-3-2-5-1-3 1 5 5zM1306 182l-6 1-3-2 0-2 5-5 9 1 1 2-1 2zM1232 295l-4 0-2-2-4-12-6-5-10-6-20-6-22-18-5-7-2-12 2-10 4-8 17-18 6-2 18 0 22-9 8-2 3 3-1 4-13 18-2 6 2 6 8 12 3 6 2 14-3 14 1 4 4 1 4-2 48-44 16-8 5 1-2 6-5 10-24 32-30 25zM1326 605l-8-12-1-4 1-1 8 11 1 4z"/>
<path fill-rule="evenodd" fill="rgb(180,180,180)" d="M1722 471l-4 2-1-14 0-28 4-22 1-16-4-38-5-24-9-10-7-14-10-46-7-17-16-16-22-19-14-9-43-23-19-7-38-18-14-12-14-17-4-6 0-5 6 0 14 4 16 8 18 13 24 12 12 3 1-3-5-7-13-13-9-3-20-3-4-2-3-4 3-5 8-3 24 2 8 4 35 26 10 4 29 6 8 3 8 7 6 8 16 28 1 4-1 3-4 0-7-3-8-10-7-11-10-9-12-4-16 2 4 6 12 7 14 15 20 16 19 18 8 16 11 52 4 8 8 6 3 4 12 56 1 34-7 36-5 18zM1224 272l-36-11-25-22-3-12 3-12 9-12 10-9 20-2 22-8 5 1-1 6-8 12-2 6 1 6 10 14 3 10 0 10-6 22zM1238 291l-4 1-4-1-3-12 1-5 14-7 23-24 21-18 10-6 8-2 1 4-3 8-22 30-26 22z"/>
<path fill-rule="evenodd" fill="rgb(191,191,191)" d="M1722 464l-2-2-1-5 0-24 4-24 0-22-5-34-4-22-9-10-7-14-10-46-8-18-32-30-19-14-45-24-18-6-38-19-14-11-14-18-1-4 0-2 5-1 8 2 31 21 29 14 25 8-13-18-12-12-10-5-14-3-4-3-1-3 1-2 6-1 18 1 8 4 32 24 12 5 36 9 8 6 7 8 14 26 1 4-1 2-7-2-7-8-11-16-10-8-8-2-37-2 4 4 29 17 35 29 19 18 8 16 11 52 5 10 10 8 13 64-1 26-1 14-8 30zM1218 264l-6-1-22-5-21-17-5-6-1-10 3-10 6-9 10-8 20-4 16-5 4 0 1 2-7 14-1 6 2 6 10 14 2 12-3 11-4 6zM1238 289l-4 0-2-2 0-6 2-4 32-33 14-13 12-8 8-2 1 4-2 6-19 26-26 23z"/>
<path fill-rule="evenodd" fill="rgb(203,203,203)" d="M1682 197l-2 0-6-4-10-16-11-10-9-4-28-1-12-4-8-6-12-15-10-9-8-4-14-5-2-2 1-2 7-1 10 1 8 3 20 17 14 9 10 4 28 6 9 3 7 6 6 8 11 18zM1724 454l-2-1-1-4 0-16 3-24 1-22-6-36-5-22-8-8-7-14-10-46-7-18-18-17-22-19-12-8-45-24-19-7-36-17-16-14-10-14-2-4 1-2 3-1 8 3 24 18 34 16 24 9 40 22 36 29 20 20 8 18 10 50 5 8 9 7 1 3 12 56-1 40-6 26zM1214 259l-14-1-10-3-19-16-4-6-2-8 3-10 6-8 8-6 30-7 4 1-3 12 0 6 12 18 2 10-1 6-3 6-5 5zM1242 286l-4 1-3-2 1-6 26-30 24-21 8-4 4 1-3 10-16 22-19 17z"/>
<path fill-rule="evenodd" fill="rgb(214,214,214)" d="M1678 191l-2 0-4-4-10-16-10-7-8-3-30-2-10-3-6-5-14-17-8-7-17-10 5-1 10 3 22 17 16 10 44 12 10 11 10 16zM1724 445l-2-14 4-22 0-22-6-36-5-22-9-10-6-12-10-46-3-10-5-9-38-35-14-9-44-24-20-7-36-18-15-12-8-12-2-4 1-2 8 1 24 18 34 16 22 9 42 22 36 29 19 19 8 18 10 50 6 10 9 8 12 56-1 40-7 26zM1214 256l-10 0-12-3-8-6-15-14-2-6 1-8 5-8 7-7 6-2 16-3 6 0 2 2 1 14 11 16 2 8-2 10zM1242 283l-2 0-1-2 2-4 23-28 20-18 10-4 1 2-2 6-15 22-18 15z"/>
<path fill-rule="evenodd" fill="rgb(226,226,226)" d="M1726 435l-1-6 2-20 0-22-6-38-6-22-7-8-8-14-9-44-3-10-6-10-38-35-14-10-44-23-20-7-36-18-14-11-7-12-1-2 2-1 8 2 22 16 52 23 44 24 36 29 18 17 8 18 11 52 5 10 9 6 11 55 0 35-2 12zM1640 158l-22 0-11-3-9-6-6-7-2-6 28 14 14 3 10 4zM1212 253l-10 0-10-3-20-17-2-6 0-8 4-7 6-5 6-3 10-2 6 0 4 2 2 11 10 14 4 8-2 10zM1250 277l-4 1-1-1 7-12 12-15 20-17 4-2 4 0-2 8-12 16-14 13z"/>
<path fill-rule="evenodd" fill="rgb(238,238,238)" d="M1728 422l2-15-3-28-10-52-9-10-6-10-10-48-3-8-5-10-18-17-22-20-10-6-48-26-19-7-37-18-14-12-4-8 0-3 6 2 18 13 57 26 43 23 36 29 18 18 7 14 10 54 6 10 9 8 6 28 6 34-3 32zM1624 155l-8 1-8-3-6-3-4-5 4 0zM1208 251l-8 0-8-3-18-17-2-6 0-6 8-10 6-3 8-1 6 0 3 2 4 10 9 12 3 8 0 6-3 4zM1252 273l-2 0 2-6 12-16 16-14 8-3 0 5-11 16-13 11z"/>
<path fill-rule="evenodd" fill="rgb(249,249,249)" d="M1706 309l-4-6-11-50-5-10-6-8-40-35-52-28-22-8-34-17-16-14-1-4 1-2 20 14 54 24 44 24 36 28 19 18 5 11 10 45zM1212 247l-8 2-8-2-7-4-10-10-5-6 0-4 4-10 6-4 6-2 6 0 4 2 5 10 9 10 3 6-1 7zM1256 269l-1 0 0-4 11-14 9-8 9-6 1 2-1 4-8 11-10 9zM1720 333l-1-8-4-4 1-1 4 2zM1728 372l-2-11 0-7 2 9z"/></g><text x="1466.2" y="631.3" font-size="27" fill="#000" font-family="'Liberation Sans',Arial,Helvetica,sans-serif">60<tspan font-size="20.5" dx="1.2" dy="-11">o</tspan><tspan dx="1.6" dy="11">S</tspan></text>
<text x="1461.2" y="768.3" font-size="27" fill="#000" font-family="'Liberation Sans',Arial,Helvetica,sans-serif">40<tspan font-size="20.5" dx="1.2" dy="-11">o</tspan><tspan dx="1.6" dy="11">S</tspan></text>
<path d="M1319.5 338.5L1322.0 347.1L1320.3 353.9L1323.7 362.5L1328.9 369.3L1330.6 375.3L1337.4 373.6L1346.0 374.5L1354.6 376.2L1363.1 380.5L1371.7 385.6L1376.8 391.6L1381.1 398.4L1383.7 391.6L1392.2 388.2L1400.8 386.5L1407.7 382.2L1411.1 372.8L1412.8 362.5L1414.5 352.2L1417.1 341.9L1423.1 333.4L1429.1 325.7L1429.1 320.5L1435.0 318.0L1440.2 316.2L1445.3 313.7L1450.5 313.7L1452.2 317.1L1459.0 313.7L1467.6 312.0L1476.1 312.8L1484.7 315.4L1493.3 318.8L1501.8 323.1L1510.4 324.8L1519.0 326.5L1524.1 324.0L1526.7 328.2L1527.5 333.4L1534.4 333.4L1542.9 333.4L1549.8 335.9L1556.6 340.2L1560.0 341.9L1566.9 341.1L1572.0 345.4L1573.7 352.2L1572.9 359.1L1574.6 367.6L1577.2 376.2L1578.9 384.7L1573.7 389.0L1566.9 391.6L1570.3 398.4L1577.2 401.9L1584.0 408.7L1589.2 417.3L1593.4 425.8L1595.2 436.1L1594.3 446.4L1596.0 456.7L1594.3 466.9L1590.9 475.5L1587.4 484.1L1584.0 492.6L1577.2 499.5L1573.7 508.0L1569.5 516.6L1563.5 521.7L1560.0 530.3L1551.5 537.1L1542.9 540.6L1534.4 544.0L1525.8 545.7L1517.2 546.6L1508.7 548.3L1500.1 548.3L1491.6 546.6L1483.0 545.7L1474.4 544.0L1470.2 538.8L1472.7 530.3L1476.1 521.7L1477.0 513.2L1472.7 506.3L1467.6 501.2L1472.7 494.3L1471.9 487.5L1467.6 480.6L1460.7 473.8L1453.9 468.6L1447.0 461.8L1440.2 456.7L1437.6 460.1L1436.8 466.9L1433.3 475.5L1426.5 478.9L1423.1 480.6L1426.5 487.5L1428.2 494.3L1425.6 502.9L1421.4 503.7L1416.2 499.5L1412.8 502.0L1407.7 502.9L1402.5 500.3L1395.7 498.6L1388.8 496.0L1385.4 490.9L1386.2 484.9L1380.3 484.1L1373.4 485.8L1368.3 487.5L1366.6 480.6L1364.8 475.5L1370.0 472.1L1366.6 466.9L1362.3 465.2L1363.1 460.1L1358.0 454.9L1352.9 449.8L1347.7 451.5L1344.3 446.4L1346.0 439.5L1348.6 431.0L1349.4 422.4L1348.6 413.8L1351.1 405.3L1354.6 400.2L1356.3 395.0L1351.1 391.6L1346.0 393.3L1347.7 400.2L1342.6 403.6L1335.7 400.2L1332.3 393.3L1334.0 388.2L1328.9 383.0L1323.7 381.3L1322.0 376.2L1318.6 367.6L1313.5 362.5L1315.2 353.9L1313.5 347.1L1316.0 340.2ZM1151.4 179.3L1154.8 180.4L1157.1 191.8L1161.6 207.8L1165.1 226.1L1158.2 238.6L1165.1 239.8L1171.9 246.6L1174.2 260.3L1171.9 274.0L1176.5 283.1L1181.1 294.6L1187.9 301.4L1192.5 315.1L1199.3 323.1L1208.5 320.8L1215.3 324.2L1219.9 333.4L1226.7 340.2L1235.8 344.8L1249.5 344.8L1257.5 341.4L1259.8 350.5L1251.8 358.5L1240.4 365.3L1226.7 369.9L1213.0 372.2L1194.8 367.6L1181.1 360.8L1174.2 356.2L1162.8 351.6L1149.1 347.1L1133.1 342.5L1119.4 335.7L1108.0 324.2L1094.3 314.0L1078.3 309.4L1030.4 306.0L1030.4 146.2L1121.7 146.2ZM1567.4 54.8L1568.5 73.1L1565.1 82.2L1569.6 93.6L1576.5 99.4L1585.6 97.1L1594.8 100.5L1608.5 106.2L1622.1 107.3L1635.8 103.9L1647.3 99.4L1655.3 95.9L1681.5 77.7L1635.8 32.0L1567.4 20.6ZM1809.4 598.7L1795.7 591.8L1784.3 589.5L1779.7 583.8L1770.6 587.3L1764.8 596.4L1763.7 610.1L1759.1 621.5L1755.7 635.2L1756.9 651.2L1750.0 662.6L1743.2 674.0L1736.3 683.1L1722.6 687.7L1708.9 688.8L1699.8 686.6L1692.9 684.3L1686.1 690.0L1672.4 691.1L1658.7 688.8L1647.3 692.3L1635.8 699.1L1629.0 708.3L1622.1 722.0L1623.3 737.9L1625.6 756.2L1626.7 769.9L1627.9 783.6L1635.8 820.1L1772.8 820.1L1853.2 660.3ZM1610.7 675.2L1622.1 677.4L1633.6 684.3L1633.6 690.0L1626.7 692.3L1624.4 699.1L1621.0 704.8L1616.4 701.4L1613.0 690.0L1608.5 682.0ZM1509.1 691.1L1517.1 698.0L1519.4 706.0L1514.8 715.1L1510.3 726.5L1502.3 737.9L1496.6 744.8L1487.4 745.9L1485.2 751.6L1482.9 760.8L1486.3 769.9L1489.7 776.7L1496.6 784.7L1497.7 788.2L1492.0 787.0L1485.2 781.3L1480.6 774.5L1474.9 769.9L1466.9 769.9L1461.2 767.6L1460.0 760.8L1464.6 753.9L1469.2 749.4L1473.7 742.5L1478.3 735.7L1484.0 726.5L1489.7 717.4L1494.3 706.0L1498.9 696.8L1504.6 692.3ZM1243.8 307.1L1249.5 303.7L1255.3 306.0L1255.3 312.8L1251.8 317.4L1246.1 318.5L1242.7 314.0ZM1683.8 340.2L1689.5 337.9L1695.2 341.4L1695.2 347.1L1690.6 350.5L1684.9 348.2ZM1322.0 306.0L1327.2 305.1L1326.3 308.5L1322.9 309.4ZM1307.5 341.1L1309.7 341.1L1310.0 350.5L1308.0 350.5ZM1430.8 487.5L1435.0 486.6L1436.8 491.8L1435.0 496.9L1431.6 496.9ZM1465.9 504.6L1471.0 502.9L1471.9 507.2L1467.6 508.0ZM1322.1 305.1L1327.2 305.1L1324.9 308.7ZM1433.3 720.8L1436.8 720.1L1437.9 723.8L1432.7 723.8Z" fill="#000"/>
<line x1="1442.8" y1="491.1" x2="1458.2" y2="491.8" stroke="#000" stroke-width="1.6"/>
<line x1="1315.8" y1="256.2" x2="1326.0" y2="258.0" stroke="#000" stroke-width="1.6"/>
<line x1="1429.9" y1="749.4" x2="1445.9" y2="749.8" stroke="#000" stroke-width="1.6"/>
<path d="M1456.6 100.2L1463.5 99.6L1470.3 99.6L1477.2 100.2L1484.0 101.6L1490.9 103.9L1497.7 107.1L1504.6 111.1L1510.8 115.6L1516.6 120.8L1522.8 126.2L1529.7 131.9L1537.1 137.0L1545.1 141.6L1553.7 145.9L1562.8 149.9L1570.8 153.0L1577.6 155.3L1584.5 158.1L1591.3 161.6L1599.3 165.6L1608.5 170.1L1617.6 175.0L1626.7 180.1L1635.3 185.0L1643.3 189.5L1651.3 195.2L1659.3 202.1L1667.2 208.9L1675.2 215.8L1682.1 221.5L1687.8 226.1L1692.4 230.6L1695.8 235.2L1698.9 240.9L1701.8 247.8L1704.1 254.6L1705.8 261.5L1707.2 268.3L1708.3 275.2L1710.0 281.4L1712.3 287.1L1714.6 292.3L1716.9 296.8L1719.8 300.0L1723.2 301.7L1726.6 302.8L1730.0 303.4L1732.9 305.1L1735.2 308.0L1737.4 312.0L1739.7 317.1L1743.2 322.5L1747.7 328.2L1752.3 335.1L1756.9 343.1L1760.8 350.5L1764.3 357.3L1767.4 364.2L1770.3 371.0L1772.8 379.0L1775.1 388.2L1777.4 397.3L1779.7 406.4L1781.7 416.2L1783.4 426.7L1784.8 436.6L1786.0 445.7L1786.8 454.8L1787.4 464.0L1787.4 473.1L1786.8 482.2L1785.4 490.2L1783.1 497.1L1780.8 503.9L1778.5 510.8L1775.7 518.2L1772.3 526.2L1768.3 534.2L1763.7 542.2L1759.1 550.2L1754.6 558.1L1750.6 566.1L1747.1 574.1L1743.2 582.7L1738.6 591.8L1733.5 600.9L1727.7 610.1L1721.5 619.2L1714.6 628.3L1707.2 636.9L1699.2 644.9L1691.2 652.3L1683.2 659.2L1675.2 664.9L1667.2 669.4L1659.3 673.4L1651.3 676.9L1644.4 679.1L1638.7 680.3L1633.6 680.6L1629.0 680.0L1624.4 678.6L1619.9 676.3L1615.9 675.4L1612.4 676.0L1609.6 677.4L1607.3 679.7L1604.5 683.1L1601.0 687.7L1597.0 692.3L1592.5 696.8L1587.9 700.6L1583.3 703.4L1577.6 705.4L1570.8 706.5L1563.9 708.5L1557.1 711.4L1550.2 714.5L1543.4 718.0L1536.5 720.5L1529.7 722.2L1524.0 722.5L1519.4 721.4L1516.3 719.4L1514.6 716.5L1510.0 716.8L1502.6 720.2L1493.2 725.4L1481.7 732.2L1474.9 734.2L1472.6 731.4L1469.2 729.4L1464.6 728.2L1460.0 727.4L1455.5 726.8L1447.9 726.8L1437.4 727.4L1429.3 727.1L1423.6 725.9L1417.9 725.9L1412.2 727.1L1405.9 728.8L1399.1 731.1L1390.0 731.9L1378.5 731.4L1367.1 730.2L1355.7 728.5L1344.3 725.7L1332.9 721.7L1321.5 717.1L1310.0 712.0L1298.6 706.8L1287.2 701.7L1275.8 695.7L1264.4 688.8L1253.5 681.4L1243.3 673.4L1233.6 664.9L1224.4 655.7L1215.9 646.6L1207.9 637.5L1200.5 628.3L1193.6 619.2L1186.8 609.5L1179.9 599.2L1173.6 589.0L1167.9 578.7L1163.1 569.0L1159.1 559.9L1156.2 551.9L1154.5 545.0L1151.9 537.0L1148.5 527.9L1145.1 518.8L1141.7 509.6L1138.8 500.5L1136.5 491.4L1134.5 482.2L1132.8 473.1L1131.7 464.0L1131.1 454.8L1131.1 445.7L1131.7 436.6L1132.3 432.0L1132.8 432.0L1133.4 426.2L1134.0 414.5L1134.8 403.0L1136.0 391.6L1137.1 380.2L1138.2 368.8L1138.2 360.2L1137.1 354.5L1134.5 349.4L1130.5 344.8L1125.1 339.6L1118.3 333.9L1122.3 327.7L1137.1 320.8L1153.7 310.5L1171.9 296.8L1181.9 288.8L1183.6 286.6L1183.9 282.6L1182.8 276.9L1181.1 269.4L1178.8 260.3L1177.1 251.7L1175.9 243.8L1175.9 238.9L1177.1 237.2L1180.8 237.8L1187.0 240.6L1194.8 245.2L1203.9 251.5L1210.2 255.2L1213.6 256.3L1217.0 253.7L1220.4 247.5L1223.3 238.6L1225.6 227.2L1227.9 218.1L1230.1 211.2L1235.8 204.4L1245.0 197.5L1254.1 190.7L1263.2 183.8L1269.0 178.1L1271.2 173.6L1275.2 170.1L1280.9 167.8L1287.8 164.4L1295.8 159.9L1305.5 153.6L1316.9 145.6L1328.3 138.2L1339.7 131.3L1351.1 125.6L1362.6 121.0L1373.4 116.5L1383.7 111.9L1394.0 107.9L1404.2 104.5L1414.5 101.6L1424.8 99.4L1435.7 98.8L1447.4 99.9L1453.2 100.5L1453.2 100.5ZM1456.6 182.4L1463.5 181.8L1470.3 182.1L1477.2 183.3L1483.5 184.1L1489.2 184.7L1494.6 184.4L1499.7 183.3L1504.3 184.1L1508.3 187.0L1513.1 189.5L1518.8 191.8L1525.1 193.0L1532.0 193.0L1538.8 193.8L1545.7 195.5L1551.9 197.8L1557.7 200.7L1562.2 203.2L1565.6 205.5L1568.5 208.7L1570.8 212.7L1573.3 216.1L1576.2 218.9L1580.2 220.6L1585.3 221.2L1589.6 223.2L1593.0 226.6L1597.0 229.8L1601.6 232.6L1606.2 235.2L1610.7 237.5L1614.7 240.3L1618.2 243.8L1620.7 247.2L1622.4 250.6L1625.0 253.7L1628.4 256.6L1631.0 259.7L1632.7 263.2L1633.9 267.2L1634.4 271.7L1636.1 275.4L1639.0 278.3L1642.1 281.7L1645.6 285.7L1649.0 290.0L1652.4 294.6L1655.3 299.1L1657.5 303.7L1659.0 308.3L1659.5 312.8L1661.2 316.8L1664.1 320.2L1666.1 323.7L1667.2 327.1L1669.5 329.9L1672.9 332.2L1675.8 334.5L1678.1 336.8L1680.4 338.8L1682.7 340.5L1686.1 343.9L1690.6 349.1L1693.5 354.5L1694.6 360.2L1694.6 367.0L1693.5 375.0L1692.4 382.5L1691.2 389.3L1690.9 396.2L1691.5 403.0L1690.4 409.9L1687.5 416.7L1685.5 423.1L1684.4 429.0L1684.1 435.4L1684.6 442.3L1684.6 449.1L1684.1 456.0L1682.7 462.8L1680.4 469.7L1678.9 477.1L1678.4 485.1L1677.5 493.6L1676.4 502.8L1675.5 511.3L1674.9 519.3L1674.1 525.6L1672.9 530.2L1670.1 532.2L1665.5 531.6L1661.0 530.5L1656.4 528.7L1652.4 528.7L1649.0 530.5L1646.1 533.3L1643.8 537.3L1640.4 541.6L1635.8 546.2L1630.7 551.0L1625.0 556.1L1619.3 561.0L1613.6 565.6L1608.5 569.8L1603.9 573.8L1599.3 578.7L1594.8 584.4L1591.9 590.1L1590.8 595.8L1589.6 601.5L1588.5 607.2L1585.0 611.2L1579.3 613.5L1573.6 614.4L1567.9 613.8L1562.2 613.2L1556.5 612.7L1551.4 613.5L1546.8 615.8L1541.7 617.2L1536.0 617.8L1530.8 618.9L1526.3 620.6L1521.7 620.4L1517.1 618.1L1510.8 615.8L1502.9 613.5L1496.0 611.8L1490.3 610.7L1484.6 609.5L1478.9 608.4L1473.2 608.9L1467.5 611.2L1461.8 612.9L1456.1 614.1L1449.1 614.9L1440.9 615.5L1432.2 616.1L1423.1 616.6L1413.9 617.2L1404.8 617.8L1396.8 618.9L1390.0 620.6L1383.1 620.6L1376.3 618.9L1368.3 617.5L1359.1 616.4L1351.1 614.9L1344.3 613.2L1338.6 610.7L1334.0 607.2L1330.0 602.7L1326.6 597.0L1323.2 591.2L1319.8 585.5L1315.8 581.5L1311.2 579.3L1308.3 575.3L1307.2 569.6L1305.5 563.3L1303.2 556.4L1300.3 549.6L1296.9 542.7L1293.5 535.9L1290.1 529.0L1287.2 521.6L1284.9 513.6L1282.4 505.6L1279.5 497.6L1277.5 490.2L1276.4 483.4L1276.7 476.5L1278.4 469.7L1278.9 462.3L1278.4 454.3L1277.5 445.7L1276.4 436.6L1275.2 432.0L1274.1 432.0L1274.7 427.9L1276.9 419.7L1278.9 411.0L1280.7 401.9L1282.1 393.9L1283.2 387.0L1282.9 381.3L1281.2 376.7L1279.8 370.5L1278.7 362.5L1278.4 353.9L1278.9 344.8L1280.1 335.7L1281.8 326.5L1284.1 318.0L1286.9 310.0L1289.2 302.5L1290.9 295.7L1291.5 288.8L1290.9 282.0L1289.2 277.1L1286.4 274.3L1286.4 270.9L1289.2 266.9L1290.9 261.5L1291.5 254.6L1292.1 248.6L1292.6 243.5L1296.9 240.3L1304.9 239.2L1311.2 236.1L1315.8 230.9L1322.0 226.6L1330.0 223.2L1338.0 220.4L1346.0 218.1L1354.6 215.2L1363.7 211.8L1371.1 207.8L1376.8 203.2L1382.5 198.7L1388.2 194.1L1394.5 190.1L1401.4 186.7L1407.1 182.7L1411.6 178.1L1415.4 174.4L1418.2 171.6L1421.6 172.1L1425.6 176.1L1431.1 178.7L1437.9 179.8L1444.3 180.7L1450.2 181.3L1453.2 181.8L1453.2 182.4Z" fill="none" stroke="#000" stroke-width="4.4" stroke-linejoin="round"/></g>
<circle cx="1453.2" cy="432.0" r="394.3" fill="none" stroke="#000" stroke-width="2"/>
<line x1="1453.20" y1="37.70" x2="1453.20" y2="29.20" stroke="#000" stroke-width="2"/>
<text transform="translate(1453.20,23.00) rotate(0)" text-anchor="middle" font-size="27" fill="#000" font-family="'Liberation Sans',Arial,Helvetica,sans-serif">0<tspan font-size="20.5" dx="1.2" dy="-11">o</tspan><tspan dx="1.6" dy="11"></tspan></text>
<line x1="1650.35" y1="90.53" x2="1654.60" y2="83.16" stroke="#000" stroke-width="2"/>
<text transform="translate(1657.70,77.80) rotate(30)" text-anchor="middle" font-size="27" fill="#000" font-family="'Liberation Sans',Arial,Helvetica,sans-serif">30<tspan font-size="20.5" dx="1.2" dy="-11">o</tspan><tspan dx="1.6" dy="11">E</tspan></text>
<line x1="1794.67" y1="234.85" x2="1802.04" y2="230.60" stroke="#000" stroke-width="2"/>
<text transform="translate(1807.40,227.50) rotate(60)" text-anchor="middle" font-size="27" fill="#000" font-family="'Liberation Sans',Arial,Helvetica,sans-serif">60<tspan font-size="20.5" dx="1.2" dy="-11">o</tspan><tspan dx="1.6" dy="11">E</tspan></text>
<line x1="1847.50" y1="432.00" x2="1856.00" y2="432.00" stroke="#000" stroke-width="2"/>
<text transform="translate(1862.20,432.00) rotate(90)" text-anchor="middle" font-size="27" fill="#000" font-family="'Liberation Sans',Arial,Helvetica,sans-serif">90<tspan font-size="20.5" dx="1.2" dy="-11">o</tspan><tspan dx="1.6" dy="11">E</tspan></text>
<line x1="1794.67" y1="629.15" x2="1802.04" y2="633.40" stroke="#000" stroke-width="2"/>
<text transform="translate(1829.31,649.15) rotate(-60)" text-anchor="middle" font-size="27" fill="#000" font-family="'Liberation Sans',Arial,Helvetica,sans-serif">120<tspan font-size="20.5" dx="1.2" dy="-11">o</tspan><tspan dx="1.6" dy="11">E</tspan></text>
<line x1="1650.35" y1="773.47" x2="1654.60" y2="780.84" stroke="#000" stroke-width="2"/>
<text transform="translate(1670.35,808.11) rotate(-30)" text-anchor="middle" font-size="27" fill="#000" font-family="'Liberation Sans',Arial,Helvetica,sans-serif">150<tspan font-size="20.5" dx="1.2" dy="-11">o</tspan><tspan dx="1.6" dy="11">E</tspan></text>
<line x1="1453.20" y1="826.30" x2="1453.20" y2="834.80" stroke="#000" stroke-width="2"/>
<text transform="translate(1453.20,866.30) rotate(0)" text-anchor="middle" font-size="27" fill="#000" font-family="'Liberation Sans',Arial,Helvetica,sans-serif">180<tspan font-size="20.5" dx="1.2" dy="-11">o</tspan><tspan dx="1.6" dy="11">W</tspan></text>
<line x1="1256.05" y1="773.47" x2="1251.80" y2="780.84" stroke="#000" stroke-width="2"/>
<text transform="translate(1236.05,808.11) rotate(30)" text-anchor="middle" font-size="27" fill="#000" font-family="'Liberation Sans',Arial,Helvetica,sans-serif">150<tspan font-size="20.5" dx="1.2" dy="-11">o</tspan><tspan dx="1.6" dy="11">W</tspan></text>
<line x1="1111.73" y1="629.15" x2="1104.36" y2="633.40" stroke="#000" stroke-width="2"/>
<text transform="translate(1077.09,649.15) rotate(60)" text-anchor="middle" font-size="27" fill="#000" font-family="'Liberation Sans',Arial,Helvetica,sans-serif">120<tspan font-size="20.5" dx="1.2" dy="-11">o</tspan><tspan dx="1.6" dy="11">W</tspan></text>
<line x1="1058.90" y1="432.00" x2="1050.40" y2="432.00" stroke="#000" stroke-width="2"/>
<text transform="translate(1044.20,432.00) rotate(-90)" text-anchor="middle" font-size="27" fill="#000" font-family="'Liberation Sans',Arial,Helvetica,sans-serif">90<tspan font-size="20.5" dx="1.2" dy="-11">o</tspan><tspan dx="1.6" dy="11">W</tspan></text>
<line x1="1111.73" y1="234.85" x2="1104.36" y2="230.60" stroke="#000" stroke-width="2"/>
<text transform="translate(1099.00,227.50) rotate(-60)" text-anchor="middle" font-size="27" fill="#000" font-family="'Liberation Sans',Arial,Helvetica,sans-serif">60<tspan font-size="20.5" dx="1.2" dy="-11">o</tspan><tspan dx="1.6" dy="11">W</tspan></text>
<line x1="1256.05" y1="90.53" x2="1251.80" y2="83.16" stroke="#000" stroke-width="2"/>
<text transform="translate(1248.70,77.80) rotate(-30)" text-anchor="middle" font-size="27" fill="#000" font-family="'Liberation Sans',Arial,Helvetica,sans-serif">30<tspan font-size="20.5" dx="1.2" dy="-11">o</tspan><tspan dx="1.6" dy="11">W</tspan></text>
<text x="1466.7" y="442.0" text-anchor="middle" font-size="45" font-weight="bold" fill="#fff" font-family="'Liberation Sans',Arial,Helvetica,sans-serif">MCS</text>
</g>
<g id="panel-c">
<clipPath id="clip-c"><circle cx="507.0" cy="1364.6" r="394.3"/></clipPath>
<g clip-path="url(#clip-c)"><g filter="url(#fco)"><g id="fldc"><rect x="107" y="965" width="800" height="800" fill="rgb(8,8,8)"/>
<path fill-rule="evenodd" fill="rgb(24,24,24)" d="M906 1764l-798 0 0-798 798 0zM656 1088l1-4-7 0 2 4zM685 1102l-1-3-3 1 1 2zM763 1172l0-8-5-4-1 4z"/>
<path fill-rule="evenodd" fill="rgb(40,40,40)" d="M906 1764l-798 0 0-798 798 0zM605 1062l-3-5-4-1-4 2 4 4 4 1zM623 1070l0-2-3-2-5 2 3 2zM663 1090l6-2 0-6-15-3-8 0-8-5-4 2 0 4 8 2 8 8 6 1zM352 1082l0-3-2-1-3 4 1 1zM315 1100l11-6 0-6-10-2-6 2-3 6 1 4 4 2zM703 1114l0-8-15-12-14 0 2 6 4 5 12 3 6 6zM277 1142l3-3 2-8 8-3 2-2-2-4-7 2-9 6-3 10 3 2zM290 1162l1-2 0-4-3-4-2 0-2 4 1 4zM766 1180l3-8-2-10-7-6-7 0-1 4 8 16 4 4zM267 1168l2-8-1-3-5 3-2 6 3 4zM775 1202l0-8-5-5-1 5 1 4 4 6zM746 1414l2-2 1-6 5-8-4-5-4 2-5 13 1 5z"/>
<path fill-rule="evenodd" fill="rgb(56,56,56)" d="M906 1764l-798 0 0-798 798 0zM512 1024l-2-6-4 1 0 5zM541 1026l2-2-1-2-8-5-4-1-4 4 1 4 3 1zM447 1030l2-2 0-4-5-2-4 1-1 7zM410 1046l8-6-2-4-6 0-7 10zM385 1060l4-4-1-5-6 1-4 8 2 1zM728 1134l6-4 0-6-12-9-12-3-3-10-11-6-6-9-13-9-5-3-10 2-14-2-6-4-10-2-6-5-14-3-9-7-13-2-3 2 3 6 6 5 20 8 10 1 6 8 19 10 15 2 14 12 10 4 8 7 10 3 14 13zM328 1070l0-4-3 2 1 2zM267 1174l8-12 2-10 3-4 1 2 0 10 5 5 4 1 5-4 0-4-4-10-2-12 6-4 10-24 11-2 6-6 31-14 12-10 1-4-6-3-12 2-12 14-10-4-16 2-3 3-8 16-11 4-6 12-11 10-5 10-1 10-7 10-14-2-5 4 4 4 19 10zM333 1116l3-4 0-4-7 6 1 3zM306 1138l4-4 0-4-4-2-7 4 1 6zM780 1218l1-10-2-14-7-12-2-20-6-7-18-7-2 2 1 4 16 28 11 31 4 5zM799 1228l-1-9-4-2-2 3 2 6 4 3zM762 1312l1-4-3-4-2 2 0 7zM754 1352l6-9-8 5-1 4zM757 1376l-3-3-3 3 3 1zM748 1416l4-4 0-6 4-8-1-4-5-4-6 4-6 16 2 6zM400 1428l3-2-1-3-5 3zM650 1758l0-7-2-2-3 1-2 6 3 2z"/>
<path fill-rule="evenodd" fill="rgb(72,72,72)" d="M906 1764l-267 0 13-1 3-3-3-13-8-4-3 3-5 11-11-1-1 4 2 4-518 0 0-798 798 0zM412 980l3-4-1-4-2-1-3 5 1 3zM447 1034l11-4 14-1 4-3 0-4-9-8-19-1-10-2-3 3-2 18 5 2zM577 1044l-3-8-12-10-28-12-6-1-8 5-8-5-4-1-4 3-4 7 1 4 5 2 16-2 14 3 14 0 18 15zM286 1184l8-14 8-5 4-5-1-4-9-3-2-5 2-4 10-4 7-6-2-6-7-4 3-10 11-4 5-6 7-3 2 0 0 3-5 6-2 6 3 4 4-1 8-9 1-14 5-5 10-4 10-8 6-13 12-2 40-22 2-6-3-14-3-4-4-2-5 2-8 18-9 7-14 7-8 10-2 7-10-4-14 2-5 3-3 7-4 1 0-2 4-8-8-6-6 0-4 6-2 12-12 4-8 10-6 3-6-6-6-13-6-3-2 1 1 14 6 10-1 4-7 8 0 10-7 9-10-5-5 2-2 4 1 12 9 6-1 6-8-3-12 3-10-4-6 3-1 5 3 3 14 3 28 14 4-1 8-11 4-2 6 8-2 12zM381 1028l3-2-1-4-5-2-3 2-1 4zM334 1034l4-2-2-5-5 3 0 2zM811 1252l23-16 0-6-6-6-8-5-4 0-1 3 6 6 0 8-5 5-5-1-3-14-11-16 0-2 5-5 0-3-4-2-10 5-4-1-6-18 2-8-7-16-7-8-14-6-4-10-7-4-3-11-24-13-4-10-12-4-10-14-12-7-4-1-10 3-6-1-12-6-10-2-8-5-12-2-10-8-18-3-4 2 2 6 10 10 18 8 12 3 8 6 20 10 14 4 14 11 26 14 16 14 12 4 20 30 16 44 6 10 20 12 6 15zM759 1322l6-10 1-6-3-4-5-1-3 3-1 14 2 5zM868 1328l6-10 0-4-4-4-4 1-8 7-8 2 8 9zM753 1356l10-8 3-4-1-6-5-4-11 16-1 4 2 2zM652 1354l-2-8-4-3-4 1-1 4 3 3 4 3zM872 1362l0-4-2-2-3 4 3 3zM742 1420l8-3 5-3 3-18-7-10 11-10-2-7-12-2-3 3-1 8 2 8-10 24 2 9zM873 1386l4-8-5-10-4 5-3 9 3 4zM395 1416l1-5-2-2-4 1 1 4zM434 1424l2-2-4-7-4-2-4 1 2 8zM403 1430l6-10-3-2-10 0-4 6 0 4 6 3zM822 1516l4-3 1-5-3-6-4-1-5 3-1 6 2 4zM675 1674l5-4 0-4-4-3-6 0-2 5 1 4zM659 1684l1-4-2-3-6 1-1 2 1 4 4 1zM461 1698l-1-3-3 1 1 2zM705 1730l2-4-3-2-2 4zM602 1738l0-4-4 2 2 2z"/>
<path fill-rule="evenodd" fill="rgb(88,88,88)" d="M906 1764l-54 0 1-4-3-4-4 0-8 4-8-7-6 2-5 9-95 0 1-6-3-4-4 0-4 4 3 6-53 0-6-7-3-13-7-6-2-4 4-5 10 1 12-3 4-5 1-6-3-8-2 0-12 7-8-1-10 6-2 3-1 9-7 7-12-4-8 6-2-1-3-10-11-3-6-10-12-3-4 1-1 5 1 4 8 6 12 12 10 4 4 8 9 4 2 6-103 0-6-6-2 2 2 4-402 0 0-579 4-3 1-4-5-5 0-133 4 0 4-2-2-5-6-1 0-66 235 0 1 5 4 1 8 0 2-3-2-3 50 0-1 14 3 4 4 0 5-2 2-4 0-8-3-4 33 0-5 3 2 4 8-3 10 1 3-1 1-4 438 0 0 359-5 1-3 6 2 5 6 2zM135 978l-1-4-2-3-6 3 0 2 2 2 6 1zM239 1024l9-1 6-5 7-20-1-4-12-3-6-6-1 3 4 8 9 10 0 4-8 3-8-1-3-2-3-10-4-3-4 3-5 10 1 4 7 4 4 6zM838 1274l4-6-2-4-8-7-10 0-1-1 9-10 10-6 1-6-2-6-18-16-1-16-2-1-10 2-3-5-1-8-6-4-8-11-8-3-7-12-7-7-13-3-3-10-7-6 1-4 6-5 0-5-12 2-7-2-1-4 3-4-1-4-6 6-10-2-6-12-12-5-12-13-12-7-16 3-5-2-4-6-15-1-8-4-12-2-10-8-18-3-6-4-20-21-16-4-14-7-12 3-8-4-6 0-12 10-16-5 2-8-2-3-4 0-10 5-13 0-5-6 4-10-4-5-4 3 2 10-13 10-3 7-10-5-14-1-12-4-2 1-4 8-12 0-9 10 2 4 5 3 8 0 14-4 2 5-3 4-11 4-6-4-6-1-6 9-12 4-6 8-22-3-7 7-3 13-10 4-8 8-7-3-5-12-10-4-6 1-2 3 3 12-2 6-13 5-3 5 1 7 6 1 2 4-4 5-8 3-3 4-3 24-4 2-10-4-8 3-4 3-8 12 6 15 4 3 5-4 0-10 4-2 11 1 28 15 4-2 6-10 4-3 4 7-4 12 2 2 4-1 10-11 10-3 3-15-1-4-6-4 0-2 13-14-1-6-6-6 2-6 10-3 6 8 4 1 4-2 8-10 4-16 13-6 17-18 24-11 16-10 10-3 8-8 36-5 14-8 24 5 14-1 26 2 6 3 12 11 12 5 5 8 12 10 27 10 28 16 16 5 40 25 26 20 21 26 15 44 8 14 17 10 7 15 18 7 6 14 6 1zM206 1004l0-8-6-4-3 6 1 6 4 1zM145 1004l-1-4-2-1-1 5zM130 1030l0-4-7-4-5-8-4-2-5 4 0 4 3 8 12 3zM199 1024l-7-10-6 1-1 5 3 3 6 2zM345 1050l2-2-2-8 2-8-7-12-4-1-11 9 0 4 3 4 12 6 0 8zM357 1024l-3-3-2 3 2 1zM201 1042l-3-6-4-2-2 1 0 3 4 4 2 1zM173 1050l6-4 1-4-4-5-4 0-10 7 6 6zM308 1050l2-8-4-2-4 2-1 2 1 5 4 2zM372 1053l-2-1-1-2 5-3 1 3zM253 1060l2-2-1-4-4-1-4 2 1 3zM134 1076l2-4-1-4-5-4-3 4 1 6 2 2zM193 1072l3-4-4-4-3 2-1 6 2 1zM247 1082l10-6 1-4-2-3-4 0-3 3-5 10zM176 1080l1-2-3-3-4 0-2 2 2 3zM182 1104l0-5-4-2-9 7 7 1zM163 1110l2-4-4-2-7-1-2 3 2 2zM144 1122l4-4 0-4-8 0-18-5-4 1 2 5 16 8zM186 1134l0-4-4-4-5 4 3 4zM172 1172l4-6 0-4-5-8-7-5-4 0-6 3-8-2-15 10 2 4 9 4 24-2 3 6zM202 1160l-2-7-2-2-3 1 1 6 4 3zM227 1204l1-10-2-5-10-3-5 2-2 6 3 6 8 5zM209 1220l1-4-1-4-3-3-3 1-2 2 1 4 4 4zM850 1224l4-10-2-4-6-2-5 6 0 6 3 4zM205 1234l2-4-4-4-15-3-2 2 2 3 12 6zM216 1228l2-2-2-3-2 3 0 2zM902 1232l0-6-4-1-1 5 1 2zM118 1236l2-2-2-3-2 3 0 1zM159 1254l4-6-1-12-2-3-6 0-4 3 2 8-1 10zM861 1258l15-10 0-4-6-2-10 6-5 8 1 3zM159 1286l2-4-1-8-9-14-1-6-8-2-14 6-3 10 3 6 8 2 4-5 2 0 10 7-2 8 4 2zM887 1268l2-6-5-7-2 3 0 8 2 3zM867 1298l1-4-4-16-4-6-6-3-3 5 0 6 7 13 8 5zM890 1286l3-6 7-3 0-3-2-2-4 2-2 4-6 3 0 5zM829 1296l4-4-7-4-2 4 2 3zM749 1440l2-2 0-6-6-8 15-10-1-8 2-10-4-10 9-12-2-11-8 0-2-3 5-6 7-4 2-6 0-6-6-8-1-4 7-18 0-4-4-4-4-2-4 1-2 3-2 18 2 10 0 8-7 12 0 10-5 10 0 20-8 20 1 16 5 3 6 10zM875 1336l5-9 1-11-3-6-8-7-4-1-10 7-12 4-2 11 12 10zM897 1308l-1-2-3 2 3 1zM853 1346l1-4-2-5-6 1 0 8 4 1zM655 1358l2-4-7-11-6-2-5 3 0 4 7 9 4 2zM881 1400l1-4-3-8 1-10-2-20-3-6-3-3-8 5-4 6 4 10-4 18 2 4 6 2 6 7zM683 1368l-1-4-2-2-1 6 3 1zM220 1376l3-4-1-4-4 4zM436 1390l4-2 0-4-2-5-4-2-3 3-1 6 2 3zM256 1394l4-6 5-4 0-4-3 0-7 8zM373 1388l-5-8-4 0 2 6 4 2zM779 1400l-3-7-5 1-1 2 4 4zM855 1412l4-4-3-5-5 5 1 3zM401 1434l15-16 4 1 6 6 16 1-8-12-6-4-6-1-8 5-8 0-4-1-6-6-8 0-1 3 3 8 0 12 6 5zM265 1430l5-6-3-4-5 0-3 4 1 5zM893 1474l4-14-2-14-4-6-2-14-3-8-4 3-4 9-8 7-1 13 5 4 10-1-1 15 7 8zM602 1430l2-4-2-3-3 3 1 3zM388 1454l10-7 0-5-2-2-12 8 0 4zM274 1450l1-2-1-3-4-2-4 2 2 4zM861 1460l4-4 1-4-4-3-6 1-4 4 1 4 3 2zM595 1454l-1-4-3 2 1 2 2 1zM854 1492l2-4-4-12-2-2-3 4 2 12 1 2zM827 1518l4-8-3-11-4-3-10 3-4 7-2 8 2 2 10 3zM803 1530l2-6-1-5-4 2-2 5 2 5zM775 1572l-1-7-2 5zM664 1642l6-3 1-3-5-5-8-2-1 5 5 7zM618 1686l3-4-1-12 4-6 7-4 2-4-4-4-13-4-5 4 3 16-6 8 6 8zM698 1708l2-6-2-9-6-2-12-13 9-12-1-2-18-6-10-9-2 0-3 5 5 12 0 4-14 6-2 4 1 6 13 16 8-1 8 4 8-7 6-1 4 3 4 7zM792 1664l2-4-8-10-9 2 1 4 6 8zM587 1664l4-4-3-2-8-2-5 4-1 2 4 3zM500 1678l6-4 0-2-4-1-2 2-1 3zM593 1690l-5-8 2 7 2 2zM422 1710l4-2 4-8 4-3 6 3 8 0 6 7 2 0 10-7 1-4-8-6-5 0-8 4-10-1-8-5-4-1-6 5-4 12 2 4zM749 1712l7-2 2-4 0-12-4-6-8 2-7 6 3 14zM479 1710l5-4 1-4-1-7-2-1-8 6 2 9zM809 1706l-1-4-10-7 0 5 8 7zM512 1716l5-4-1-6-4-4-8 0-6-5 0 13 8 5zM385 1722l1-2-1-2-10-6 5 9zM880 1728l0-6-4-8-6-4-4 2-2 4 3 6 9 7zM398 1724l7-2 1-2-4-7-4 1-7 6 0 2 3 1zM705 1736l7-6 0-6-16-11-6 3 5 4 7 15zM847 1720l1-5-4 3 0 2zM538 1730l3-8-3-5-4-1-2 4 1 8 1 2zM788 1740l5-8-3-4-8 1-12 7 0 2 6 2zM745 1758l7-12 10-2 6-6-4-3-12-2-4 1-8 5-8-5-3 2-1 6 8 7 4 9 2 1zM574 1742l-2-4-6-3-6 1-2 2 2 3 4 2 6 0zM802 1752l5-4-1-3-8 0-3 3 1 3z"/>
<path fill-rule="evenodd" fill="rgb(104,104,104)" d="M144 1066l-4-1-7-7-4-14 1-4 7-6-4-18-11-12-10-1-4 5 0-42 9 0-2 16 1 5 10-4 6 3 3 8 0 10 1 4 13 4 9 10 0 8-8 7-5 13 5 10zM182 1033l-8-3-3-14-13-4-6-4 2-8 7-4 2-4-1-2-10-3-6-3-11-18 15 0 1 4 3 2 12 2 8 5 10 2 3-5-3-6-19-4 30 0 7 9 8 2 5-1 2-10 20 0 0 4-7 6-4 6-8 2-8 7-8-4-6 0-3 3-3 11-14 5-2 8 10 15zM238 1145l-3-1-2-8-4-6 1-4 4-6-6-14-3 10-12 8-6 10-11 1-1-1-1-10-6-14-3-18 5-6 3-8 10-10-11-11-4 3-6 11-6 0-4-5 4-12 10-10 4 0 8 4 10-4-3-10 1-10-4-8 2-2 8 0 12 14 8 2 16-3 16-9 0-12 6-10 10 8 10-5 16 3 5-2 0-8-3-4-16 3-10-8-12-4-12 4-6-1-10-8 11-8 18 0 1 3 4 2 21-5 4 6 7 3 8-8 6 2 4-3 11 0 2 10-10 12-1 8 2 10-20 10-2 6 1 10-3 3-10 4-10-1-6 26-18 0-4-12-12-4-8-9-4-1-4 1-6 6-4-9-2 0-7 8 3 9 5 1 5-6 3 6 11 3 6 7-1 4-11 6-6 0-6-5-4 3 7 10 5 19 2 1 10-7 6 1 0 10-9 16 3 10zM390 999l-8-2-6 2-10-4 1-9 9-6 0-2-4-5-8 1 1-4 7-1 5-3 5 0 6 0 2 3 8-1 4 2 0 6-2 5-16 5 0 4 8 4 0 3zM504 972l-19-6 18 0 3 4zM906 1270l-4-6-8-4-5-12-9-10-8-2-10 2-3-2-1-10 8-12 0-8-22-6-8 9-8 0-1-5 3-12-8-3-9 1-2-2 5-12-7-10-1-10-4 0-8 4-4 0-3-2 0-12-3-3-10 1-5-12-5-1-6 5-2 0-4-8 3-8 0-8-5-4-8 0-2-2-10-17-2-1-3 2-2 10-3 2-10-12-14-8-8-12-6 0-8-4-12 0-3-8-5-4-18 6-8-4-12-1-12-9-16-2-6-4-20-22-10-5-12-1-12-7-10 2-6-2-8-1-4 2-6 8-4 0-5-2-1-4 5-12-5-3-10 3-11 8-6 0-2-2 4-12-9-5-3-3 1-2 8-4 4 2 4 6 6 1 2-1 2-8 14-2 6 1 6 6 14 0 4-15 386 0 0 211-1 3 1 3 0 37-6-2-4 1-7 5-2 4 4 6 5 3 10 0zM422 1008l-17-2-4-4 3-3 8 1 3-2 2-8 7-8 2-10 8-2 5 8-2 8 1 12-3 4zM362 1016l-16 1-3-3-3-18 7-16 3-3 8 2-2 11 7 6 4 8-1 8zM280 1028l4-6-4-9-4-1-8 6zM906 1764l-11 0-10-10 2-16-1-16-6-10-8-5-6 0-8 6-12-4-5 3-7 7-10-1-14 10-4 10-8 1-1-3 4-8 1-7 8-5 7-14-1-4-6-4-1-6-3-4-12 4-4 6 2 8 9 10 0 6-11 4-8 0-8 6-18-1-7-5 5-5 10 3 3-2-3-8-3-22-3-4-6 0-28 8-8 6-6 7-2-2-3-5 0-6 7-10 1-4-3-6-10-2 0-5 4-1 8 4 10-4 8 5 12 2 12-7 10 1 2-8 2-2 8 6 6 9 10 1 6-3 3-8-1-4-7-6 4-8-4-6-5-3-10 10-18 3-4-2-8-10-8-2-3 10 1 8-2 8-8 2-2-2-2-12-4-1-8 4-6 0-4-4-2-9-8-9-24-15-4 2-4 8-11 12 5 8-7 10 5 12-2 4-4 1-5-5-1-10-2-2-8-5-14-4-10 3-4 8 6 10-4 5-6-1 2-12-2-1-18-2-10 4-10-2-4 2-5 5 0 4 7 10 12-8 18 2-9 12 5 10 4 14-4 2-10-1-4 7-3 12-5 2-4 0-10-8-8-10-10-1-3 5 0 12-5 6 6 4 18 8 12 8 4 1 18-6 3 1-2 6-15 10-8 0-8-3-5 3-15 0-24-14-4 1-2 3 2 10-22 0-6-4-13-2-4-4 3-10-7-6 4-8-5-9-11 3 0 8 4 10-3 6-6 1-6-9-8 3 1-11-4-14 17-12 10 3 6 8 10-4 2 2 4 9-6 8 1 10 3 1 8-2 4 8 14 0 4-3-2-6-14-16 2-8 6-5 6 6 11 5-3 10 2 2 10 1 8-3-7-6-2-4 9-10-2-12 8-16 0-12-9-4-13-1-20 4-8-5-8-2-7 2-1 4 2 4 10 3 2 3-5 10-13-5-18 2-14-5-12 6-8-4-7 6-4 20-3 4-6 0-12-12-4 1-2 3 1 8 11 12 24 1 4 4 6 11 8 2 5 10-1 4-4 4-18-4-12-10-3 2 0 4 3 10-19 0 4-4 1-4-2-5-4-1-7 6 0 4 3 4-260 0 0-428 2-2-2-6 0-90 3 12 8 8-1 12 6 8 9 6-1 8 4 6 4 2 8-6 12-1 5-5 3-18 0-2-7-4-1-4 9-8-2-10 2-10 5-3 16 5 4 2 6 8 12-8 7 0 7-18-8-4-1-2 11-1 2-3 1-12 3-6 0-2-7-6 1-13 4-1 6 1 26 17 12-4 3 8 7 0 12-11 8-2 4-3-1-8 2-10-4-8 11-14-2-6-5-6 2-4 5-2 7 8 7-1 12-11 3-16 3-3 19-3-1-6 8-11 14-7 13-4 5-6 8-5 12-1 10-10 26-5 6 1 14-8 24 5 14-2 28 3 14 11 12 6 12 13 10 7 22 8 28 15 18 6 24 15 40 29 20 23 6 13 11 36 5 10 5 6 15 8 4 13 11 9 5 10 8 10 2 14 10 8 0 6 5 6-3 14 6 12 3 16-5 7-10 1-2 2 0 6 4 4 22-4 4 2-10 40-3 6 2 16 3 8-6 12 4 8-6 10-3 12-1 12 4 3 8 3 6-5 8-2 0-15 2-4 9 2 5 7 6-3 8 3 3-1 7-24-2-12 2-12-8-6-1-12 3-6 10 4 0 7-3 9 1 2 2 0 0 309-2 3 2 3zM318 1054l-4 0-1-2 3-16 2-2 4 2 4 8zM358 1043l-2 0-2-3 4-5 3 3zM112 1062l-4 0 0-14 6 3 6 0 1 3-1 4zM308 1074l-4-1-2-5 1-6 3-2 4 0 3 6-1 6zM166 1098l-6-1-4-3 0-6-4-8 2-4 6-1 4 8 12 2 3 3-1 4zM136 1238l-9-10 1-4 5-8-3-12-10-6-12 3 0-12 12-6 4-7-6-8-10-7 0-80 10 8 10 1 1 4-1 8-12 2-5 4 3 8 22 12 12 0 8-4 5 12-27 16-5-4-3-16-2-1-4 3-2 7-1 13 13 24 10 6 10 2 10-9 10 3 8-3 8 3 18-7 4 5-5 20-5 7-4 2-4 0-4-1 0-6-8 0-2 2 1 2 8 2 0 2-2 6-3 1-6-3-2-8-10 0-3 8-1 12-10 4zM256 1090l-6 0 1-4 9-5 4 1-1 4zM210 1114l4-6 0-8-4-9-4-4-4 3-2 6 6 16 2 2zM186 1168l-3-2-4-10-14-14-3-4 2-2 6 0 14 4 8 0-4 12 4 12zM210 1150l-4 1-2-3 4-10 2-1 12 1 1 4-1 2zM612 1166l3-2-3-3-3 3 0 2zM454 1180l3-8-3-3-3 3-1 6 2 3zM278 1180l-2 1-1-5 3-5 2 0 1 5zM336 1184l2-4-2-1-2 3zM838 1192l-4-4-4 2 0 2 6 2zM880 1208l0-13-4-3-4 1-1 3 3 10 4 2zM159 1200l-3-4-3 0 1 3zM686 1216l-2-7-4 0 2 6 2 2zM118 1222l-4-1-6-5 0-4 12 1 1 7zM449 1218l-2-4-4 0-1 2 2 2 4 1zM134 1250l-6 0-6-2-2-2 1-4 5-3 8 1 3 6zM844 1256l-3 0 0-4 3-8 4-2 2 2 1 4zM233 1252l-1-3-2-1 0 5zM534 1254l1-4-3-2-2 5zM878 1292l-6-4-1-12-6-10 3-6 6-4 2 2 1 4-5 12 7 10 1 6zM501 1272l2-2-1-3-4-1-5 2 3 4zM836 1284l-4 0 0-2 4-1zM906 1302l-15-4-1-2 4-8 4-4 8-1zM177 1296l5-6-1-4-3-1-8 5 2 5zM631 1300l0-2-3-2-3 2 1 2zM752 1444l3-4-4-16 12-8 0-12 1-5 4 0 10 8 6-5-2-6-6-6-4-1-8 4-4-5 9-12-1-10 3-24-7-18 7-18-3-7-8-3-6 1-2 3-2 20 2 18-6 12-5 18-1 24-2 8-5 8-2 18 2 4 7 3 6 10zM884 1306l-2 0-3-4 3-5 4 1 1 2zM205 1306l-3-3-2 3 2 1zM158 1334l0-4-6-10-2-8-2-2-14 4-13 14 3 3 4 0 14-7 8 10 4 1zM192 1324l0-11-2 0-2 3-4-2-2 0 0 5 4 1 4 5zM892 1328l-4-2-1-8 15-2 1 2zM211 1344l9-12-2-7-4 1-15 16 5 3zM672 1352l3-2 3-17-7 3-7 12 0 2zM651 1364l8-4 3-8-12-11-8-1-6 1 0 5 8 15zM862 1347l-2-1 2-3 1 3zM888 1358l-4 0-2-6 0-5 4-3 5 2 2 4-1 5zM576 1378l4-4-9-8-4-10-3-2-3 8 5 13 4 3zM684 1374l3-4-1-6-4-8-4-1-3 3-1 6 4 9 2 2zM283 1368l1-4-2-6-6-1-1 5 1 6 4 1zM221 1380l8-8-3-14-6 4-4 8-1 10zM399 1368l2-2-1-4-4-3-5 1 2 6zM906 1387l-12-4-6 4-2-1-2-16 2-2 8 6 12-10zM452 1394l8-8-4-8-4 1-3 7-3 0-8-12-4 0-4 3-2 7 0 8 6 1 10 0 6 2zM596 1376l-2-4-3 2-1 2 2 0zM249 1382l-3-5-10-1 2 6 6 1zM259 1402l2-10 8-8 0-4-3-4-6 2-9 8 2 14 3 3zM381 1392l0-4-13-11-4-1-4 2 1 6 7 6 8 3zM872 1424l-8-8 1-8 17-3 8-8 0 8-14 17zM206 1412l0-4-2-3-4 0-2 3 2 4 2 1zM380 1466l5-6 16-12 0-10 13-14 4-1 4 6 10-1 10 3 4-1 1-4-15-18-10-4-4 1-4 5-6 2-12-7-11 1-1 4 3 10-1 12 4 6-9 10-1 10-3 4 1 3zM458 1414l-2-6-4-2-1 2 1 4 4 3zM222 1422l6-6 1-2-3-2-4 1-2 3 0 4zM267 1432l5-8 1-4-3-3-8 1-5 6 0 4 3 4 4 1zM603 1436l3-4 1-8-1-4-6-3-4 5 0 8 2 6zM371 1434l1-2-2-5-4-2-4 2-1 5 2 2zM153 1436l1-2-2-4-6 0 0 2 2 3zM581 1434l1-2-1-2-4 0 1 4zM634 1438l0-3-4 1 2 2zM276 1454l3-2 1-10-12-3-4 1-3 8 3 5 4 2zM597 1458l2-4-3-6-6 0-2 4 2 5 4 2zM565 1458l3-4-2-4-7 8zM275 1466l-1-2-4-1 0 3 2 1zM398 1480l2-6-2-4-2-1-2 7zM644 1476l-2-6-7 2 3 4 4 1zM720 1482l0-4-3-4-3-2-4 1 0 3 4 6 4 1zM826 1482l1-4-3-3-2 3-1 4 3 1zM882 1480l-2 1-5-1 5-4zM804 1566l6-10 8-4 1-2-3-7-9-9 3-10 4-2 14-1 3-3 3-8 1-10-5-8-4-3-14 7-16 28 0 12 5 8-5 8 0 12 2 3zM604 1542l4-3 8 3 3-2-4-10-7-1-8 5-3 4 0 4 3 2zM311 1556l0-8-3-3-4 0-2 3 2 5 4 4zM784 1596l3-6 0-12-9-19-6-2-3 3-3 14 7 8 2 10 5 4zM750 1580l3-4-4-6-3-2-5 8 5 3zM733 1580l1-2-4-4-1 6 1 1zM213 1594l1-4-2-4-6-3-4 1 1 6 7 4zM260 1594l-2-4-4 2 2 3 2 1zM765 1602l-1-7-8 1-1 2 3 4 4 1zM255 1614l5-4 0-4-2-2-8 4 1 4zM785 1620l-1-4-2-1-3 3 3 3zM132 1634l6-12-2-3-4 2-2 5 0 6zM256 1638l2-4-2-5-6-3-7 2-1 4 2 4 6 2zM717 1634l3-2-2-4-4 0-4 4 0 2zM690 1657l-12 0-6-5 1-4 7-4-2-10 2-3 6 0 3 3 3 20zM117 1648l-1-4-2-1-1 5zM304 1664l4-2 1-4-3-4-4-2-4 4 0 4zM842 1662l1-6-1-3-4 0-1 5zM432 1672l8-8-6-5-2 1 0 8-2 2zM864 1664l0-3-4 1 2 3zM308 1678l2-6-6-3-2 3 0 4 4 2zM630 1714l-4 1-3-5 6-18-4-12 1-6 11 6 2 8 7 8 4 10-2 4-4 3-8-1zM694 1682l-6-3 0-5 6 1zM821 1682l1-4-6-5-7 1-3 4 2 5zM612 1723l-12-2-10-15 12-2 5-4-1-4-9-12 0-4 3-3 4 2 6 7 2 12 7 8 0 4zM215 1688l2-4-2-2-3 0-2 2 0 4zM554 1710l-2-6-4-4-2 4 0 4 4 2zM343 1720l8-8-3-6-6-3-2 1-2 4 1 10zM827 1710l2-4-3-3-2 1 0 4zM716 1716l-6 0-2-4 2-4 5 4zM726 1720l-4 0-2-4 8-4 4 1 1 3-1 1zM854 1742l-6 0-4-8 14-16 10 10 2 6-10 2zM688 1764l-10 0-4-4-10-1-4-4-1-5 1-4 8-8 4 1 8 8 6 0 1-7-7-7-1-3 3-5 8 0 6 5 5 16-5 5-10 1-2 6 5 6zM632 1732l-4-1 2-5 4 2zM722 1748l-10-1-3-3 1-7 8-7 3 2zM810 1764l-22 0 6-7 12-2 8-5 6-10 6-6 8 0 3 6-1 7-16 1-5 12zM786 1750l-4 0-2-2 5-2 2 2zM882 1764l-15 0-9-7-1-5 3-3 14-1 7 8 2 6zM764 1764l-15 0 3-7 4-3zM612 1764l-9 0 5-3 3 1z"/>
<path fill-rule="evenodd" fill="rgb(120,120,120)" d="M226 970l-3 0 0-4 7 0zM262 974l-6-1 1-7 8 0 0 6zM898 1212l-6 1-2-1-2-8 5-6-11-12-14 3-16 7-11-10-16-6-2-6-7-10 0-10-8-4-12 2-4-10-11-4-9-14-8-3-2-9-7-8-3-6-8-1-8-13-8-1-10 6-18-13-5-12-5-2-20 0-12-11-18 4-10-3-10 0-12-9-8-3-8 0-6-3-10-11-6-12-8-2-10-5-6 3-6-2-6-6-2-10-7-6-1-14 7-6 16 0-1 2 1 4 9 8 4-2 0-6-8-6 354 0 0 198-4-5-4-1-4 2-2 4 8 20 6 5 0 12-4 9zM334 976l-4 1-2-3 4-4 2 2zM298 986l-4 2-4-2-4-6 1-4 7-3 7 5 1 4zM490 990l-6-1-3-3 1-6 4-2 6 0 3 4 0 6zM160 982l-4 0-3-2 7-1zM182 1000l-11 0 0-8 5-6 6 1 5 5 0 6zM432 996l-5-2 1-5 4 1 1 4zM516 994l-6 1-3-1 0-2 7-2 3 2zM580 1002l3-4 1-4-2-3-4-1-3 4-1 6 2 3zM358 1012l-8 0-3-2 0-12 3-4 6 2 4 6 2 6zM300 1034l-7-2 0-4 6-8-1-2-12-6 0-4 4-5 7 3 6 8-2 6 3 10zM148 1031l-4 0-3-3-1-6 2-4 6 1 5 5-1 4zM270 1050l-22-5-8-11 10-3 10-6 6 0 11 17-3 6zM338 1764l-13 0 12-12 11-6 0-6-4-3-6 2-6 6-10 5-3 6 1 8-10 0-4-4-5 4-12 0 2-4 1-12-1-6-3-2-3 2-4 14 0 4 2 4-33 0-1-6-9-3-2 3 3 6-133 0 0-95 10-9 8-18 12-1 12-5 0-2-2-4-6 0 4-4 0-4-10-8-6 2-10 12-12-1 0-37 6 3 8-5 0-2-9-10 3-6 9-2 1-2-5-6-2-8-5-4-5 8-1 14 0-26 4-2 3-8 10-4 3-6-1-4-3-2-12 5-4-2 0-89 1 2 3 0 4-2 0-3-4-2-4 5 0-87 10-9 10-1 10-3 9 8 1 12 6 2 2-4-2-6 1-2 19-3 6-4 6-8 6 1 4-2 0-14 10 1 2-2 1-7-7-5-4 1-10 9-6-1-3-2 0-4 7-8 0-4-4-10-8-2-1-8 5-14 10-14 5 4 9 3 6-1 5-4 5-1 5 3 5 12 4 0 4-3 1-5-1-6-4-4-7-2-2-4 3-9 9-9-2-18 6-10-3-4-6-2-2-6 2-5 6-1 15 10 3 4 0 7 4 4 10 1 1-6 3-3 6 6 6 0 14-11 10-3 4-3-1-10 3-10-4-10 12-8 0-10 8-1 16-11 4-20 4-1 4 4 4 0 11-7 1-4-2-6 6-9 20-7 10 0 1-8 11-6 4 2 0 8 2 1 10-5 8 1 6-5 2-7-2-2-14 5-2-2 3-4 7-3 10 1 10-3 8 1 6-6 6-4 12 2 8 4 0 2-8 4 4 0 4 0 0-4 4-2 14-1 6 3 20-3 16 11 10 6 24 20 21 8 29 15 18 6 22 14 41 31 21 22 22 60 4 5 12 5 4 6 0 10-8 6 0 3 4 1 8-6 8 4 3 8 9 14 6 17 8 15 2 16 6 12-1 14-3 4-11 0 0 16 3 4 14 0 6 18-1 10-7 10 2 10-1 20-13 17-7 7-4 14-20 32-3 16-6 10 4 10-1 6-3 1-6-9-8-2-4 4-4 12-4 4-4 0-10-7-8 7-10-5-2 2-2 11 4 6 12-5 6 5-4 9-7 5 8 10 1 4-12 12-6 0-6-6 8-20-2-1-10 1-5 4 0 8 2 8-7 7-4 2-9-9-11-4-10-6-6-1-24 27-2 9-24-4-14 1-6 9-8 1-8-2-1-8-3-4-3 4 2 8-1 2-4 1-14 0-18 18-22-6-26 0-12-4-12 1-8 6-1 12-7 2-14-3 1-3 7-6 1-6-15-12-2 2 0 12-7 12-5 4-5-2-1-12-6-4-3 2 1 8-2 4-4 2-10-5-4 3 0 6 10 8-2 18-5 0-7-10-8-4-4 3-4 14-2 1-18-20-9 4-2 4 5 22 8 1 8-5 4 0 8 9 6-7 10 10 22-1 5 5 2 12 4 4-1 2-6-1-12-11-10 0-8-2-14 10-6 8-16 1zM180 1061l0-4 4-4zM204 1058l-4-1 0-3 5 0zM717 1068l0-4-5 0 2 4zM218 1093l-3-3 0-4 4 2zM168 1092l-3 0 1-2 4 0zM196 1110l-3-4 1-6 4 6zM558 1112l5-2-3-5-4 3 0 3zM110 1146l-2 0 0-14 0-10 2-1 7 5zM890 1142l5-8-3-7-4 2-5 7 3 5zM136 1146l-2 0-1-4 3-6 6-2 4 2 0 2zM180 1147l-5-1-1-4 6 2zM493 1152l-2-8-3-2-2 2 0 4 2 4zM346 1164l3-2-3-4-6 0-4 2 6 4zM617 1168l3-4-6-7-11 9 1 2 4 1zM480 1164l2-2-2-2-2 2 0 2zM453 1184l5-4 3-8-2-4-5-2-6 4-1 8 1 5zM870 1172l-2-5-4 0 2 5zM426 1182l6-10-2-3-4 1-5 4 1 8 2 1zM338 1188l3-8 0-4-3-2-7 4-1 4 3 6zM196 1190l-6 1-3-1 0-2 3-4 5 0 2 2zM146 1219l-4 0-2-2-3-15-9-10 0-6 4-1 4 3 5 12 12 6 0 6zM170 1196l-4 0-4-3-2-3 0-4 4-2 10 2 2 4zM571 1200l3-4-2-3-2 0-2 3-1 4zM473 1200l-1-4-4 0 0 4 2 1zM697 1226l-13-21-7 1 0 6 7 12 10 3zM598 1212l1-2-3-3-2 5zM453 1222l-2-8-7-6-6 0-5 6 13 8zM872 1228l-4 0 2-10 2-3 4 0 5 3 0 2zM526 1236l-1-6-3-3-2 3 0 4 4 3zM536 1256l3-2 0-4-3-4-6-2-3 6 1 6 4 1zM902 1254l-4-2 2-4 3 4zM569 1260l-1-5-2-1-3 2 0 4zM503 1274l4-4-3-6-16-2-6 2 14 11zM200 1278l4-4 0-4-4-3-4-1-3 8 3 3zM114 1326l-3-6 5-5 2-5-4-7-6 0 0-17 8-5 8 5 9 14 1 6-8 12zM230 1290l0-4-4-4-4 1-2 3 2 4 4 1zM902 1294l-5 0 1-4 4 0zM512 1304l6-3 0-7-4 0-10 6 0 4zM633 1302l2-4-5-5-6 1-3 4 3 4zM752 1448l6-3 2-3-3-16 7-5 6-11 10 4 10 0 4-2-2-4-14-21-4-2-8 2-1-1 9-8-3-10 2-28-7-16 8-18-4-9-6-4-10 2-3 5-2 20 1 18-9 24-4 34-6 12-1 10-3 8 3 5 9 5 7 11zM663 1314l16-8 1-4-2-4-4-1-6 6-11 5 1 5zM168 1327l-6-1-4-6-1-14 3-5 4 1 2 8 8 8-1 4zM699 1320l1-4-1-6-5-5-4 0-2 5 3 10zM212 1348l11-14 0-10-5-4-5 2-16 16-2 4 1 2 6 3zM686 1396l2-2-2-14 4-8 0-4-4-14-6-6-1-4 3-6 9-4-1-12-8 1-4 5-9 6-9 11-10-6-16-1-2 6 7 10 3 11 12 6 8-7 4-1 4 2 4 5 0 4-4 2-10 0 1 8 5 2 12-4 3 4 2 8zM810 1332l-2-6-4-3-4 2-2 3 1 4 3 1 6 0zM708 1344l8-8-2-3-16 7 4 4zM566 1384l18-6 14 5 3-5-1-8-4-3-10 4-4-1-9-6-5-12-4-1-4 5-2 8 4 10-2 10 2 1zM207 1416l3-4 0-8 5-4-10-8 0-4 3-5 10 1 8-5 4 0 6 7 10 3 6 14 6 3 4-4 2-10 9-8-3-8-6-3-10 3-4-2-10-2-8-6-2-12-4-1-4 1-7 8-5 14-12-2-2 18 2 6-2 4-8 5 12 9zM286 1372l4-8 10-6-2-4-8-2-12 1-4 3-2 6 2 9 8 2zM527 1370l3-4-2-5-8-1-6-6-6 2 0 5 8 4 4 5 2 1zM401 1370l4-4-3-6-8-3-6 1-1 4 4 6 5 2zM803 1366l5-4 0-4-6-2-5 2-2 6zM551 1368l3-2 0-2-7-2-1 4zM424 1488l-2-8 3-14-2-4-5-2-2 1-1 9-7 3-8-7-8-2-1-2 3-6 11-6-1-12 8-9 4 1 6 7 10-7 4 2 6 5 8-7 0-6-9-6-7-14-8-2-1-4 17 0 3 4 3 10 6 6 4-1 3-3-5-12 2-6 2-2 8 4 4-1-1-7-5-6 4-8 0-6-4-1-10 2-4-7-2-1-6 2-8-1-2 1-14 30-4 0-4-7-4 0-3 8 8 6-1 6-4 1-10-5-18-2-2 6 7 12-2 8-3 3-4-1-10-10 4-8-4-2-4 2-3 8 1 17 12 1 6 4-1 6-4 8 3 11 4 2 10-4 1 13 5 6 6 0 8-4 10 8zM488 1378l2-6-4-2-2 2-2 4 2 2zM379 1398l7-6 0-4-18-14-6-1-4 3-1 4 3 6 8 7zM906 1381l-5-3 1-4 4-2zM142 1394l-2-5-4 1 2 4zM811 1402l4-6-1-2-10 4-4 4 4 1zM602 1440l6-5 1-11-1-6-6-6-2-8-4-2-8 3-2 5 7 8-2 14 7 9zM223 1432l7-13 10 0 2-3 1-4-3-4-18 0-4 4-3 8 0 8 3 4zM665 1448l-5-6-1-14 3-12-2-4-4-1-6 7 6 10-7 12 11 8zM874 1416l-3-2 0-2 5-2 1 4zM277 1470l9-8-3-6-1-8 5-10-5-4-11 2-1-2 5-10-1-8-2-2-10 1-4 3-3 10 6 10-4 10 1 6 10 15 4 2zM814 1420l1-6-3-2-3 6 3 3zM149 1534l7-6 18-4 5 8 5 1 3-1 5-10 8 1 4-3 1-6-5-6-10 8-4 0 0-14 3-12-1-19-4-3-6-2-2 10-4 4-10-12 2-4 10-2 1-6 8-12 9-3 6 4 1-3-5-9-4 2-6-2-10 5-8-3-5-5 0-12-3-2-18 7-8-7-4-1-2 3 2 6 12 12 7 10-3 8-12 4-1 2 3 3 10 2 11 7 5 11 10 1 2 16-3 12-11 6-10 2-9 8 3 5zM563 1462l8-6 3-16 6-1 7-5 0-4-2-2-7-3-5 1-1 11-20-2-4 3 0 5 8 0 5 5-2 4-7 1-2 3 6 4zM900 1430l-2 0 0-6 3 2zM790 1436l1-2-1-4-6-3-2 3 2 3 3 3zM636 1442l3-4-3-5-6-2-4 3 0 4 2 3zM715 1446l3-2 0-2-4-5-4 0-3 7 3 2zM127 1476l1-5-6-5 5-10 2-10-3-4-13 16 2 16 7 3zM589 1470l1-6 2-1 10-4 8 2 9-5-7-3-8 2-8-12-4 1-5 4-2 4 3 10-3 8zM232 1452l2-2 1-4-5-2-6 3-2 5 4 1zM816 1458l0-6-4 0-2 2 2 4zM299 1466l-3-3-5 1 5 3zM628 1502l4-8-2-4-6-4 2-8 6-1 14 8 3-1 0-8-4-8-3-2-10 1-8-1-10 12 7 10 2 12zM682 1488l3-4 1-14-2-4-4-1-6 5-1 4 7 6zM743 1476l2-6-3-6-4 2-3 8 3 3zM249 1484l-6-6-1-11-4 2-4 5 2 6 8 5zM718 1488l4-2 2-6-4-9-6-3-13 2 10 14zM900 1716l-6 2-4-2-8-8-10-5-14 3-6-1-10 0-4-2-5-9 3-10-6-4-8-8-14-4-3-2 5-10 13-2-2-8-3-4-10-4-6-8-11-4-1-14 2-24 10-6 4-11 8-11 6 0 3-2 1-8-4-12 4-10 14-2-1-8 3-4 2 2 1 8 5 1 4-1 4-10 14-8 2-8 6 3 8-5 8 1 4-2 4-5 0-8 2-3 2 1 0 235zM149 1500l4-6-1-6-14-6-10 3-6 10-6 5 22-2zM610 1508l2-4-4-2-3 2 0 4zM642 1524l4-4 0-6-2-3-6-1-3 4-2 8 3 3zM903 1522l2-2-3-7-4-2-2 1-1 4 1 4zM603 1546l5-2 10 1 6-3-3-12-5-6-4 0-10 4-11 10 0 2 5 5zM181 1562l5-2 7-10 14-4 1-5-6-3-12-1-18 11-2 4 0 8 4 3zM312 1562l3-4-1-10-6-6-6 0-3 4 0 4 7 10zM725 1558l-1-5-6 1 2 4zM146 1594l10-4 9-18-1-12-6-6-13 4 8 12-5 9-4-1-8-11-4 1-2 2 0 8-4 8 6 1 10-1zM230 1602l2-4-3-6-7-3-6-6-11-5-7-16-4-2-5 2-2 10 10 20 17 10zM273 1658l4-6 0-8-11-7-7-15 9-14-2-18-6-14-24-15-3 1-5 7-10-4-1 3 9 12 10 2 8 6 3 10-7 8-3 6 1 6-1 8 0 12 13 6 18 13zM323 1580l4-6 1-3-2-2-6 2-2 3 2 5zM108 1584l0-14 3 8zM185 1612l1-2 1-14-4-6-7-2-3 6 1 14 4 3zM115 1608l3-6-6-3-3 7 3 2zM310 1606l-1-4-4 2 1 3zM832 1624l-1-4-2 0 1 5zM188 1644l5-6 3-7 10-4 1-3-1-3-7 1-5 8-16-5-2 1 0 8 4 8 4 4zM762 1640l-4-1-4-5-2-6 2-6 6 3 8 9-2 4zM778 1636l-4 0-3-2 1-4 4-5 4 1 3 4zM231 1650l4-8-11-8-1 4 3 11 2 2zM555 1642l-1-7-2-1-2 1 0 5 2 2zM314 1698l-1-16 5-12-4-14-6-6-10-3-6 13 4 8 1 8 13 22 2 2zM897 1696l-1-4-4-4 0-6-2-2-14-2-6-6 0-8 7-10-1-3-10 1-14 6-8-10-4-2-10 8 0 2 7 10 3 12-1 4 11 9 4-1 2-8-6-9 0-9 11 8 5 7 22 9 3 2 1 6zM484 1656l2-6-2-2-4 2-1 6 3 2zM182 1712l6-7 8 5 8-12 20-10 14-12 12 1 12-7 2-2-1-2-13-3-14 8-6-3-4-13-8 3-12-4-8 4-8 0 0 2 4 2 6-1 14 2 3 9-3 4-9 6-1 8-2 3-10 1-10 4-4 14zM354 1672l-2-3-2 3 2 1zM760 1678l-9 0 4-6 3-1 3 3zM116 1690l6-4 1-4-3-6-6-4-2 6-1 10 1 3zM544 1680l-6 1-2-2 0-4 2-2 4 1 3 4zM716 1690l-3 0 3-4 2-10 2-3 9 3 6 4-7 6zM792 1714l-20-4-7-14 1-8 6-1 7 3 5 10 8 10zM536 1704l-4-1-4-3 0-4 4-4 6 2 3 4-1 4zM562 1702l-4 0-2-6 4-1zM640 1704l-6 0-1-4 3-3 4 1 2 4zM244 1704l0-4-2-2-4 1-2 3 4 2zM136 1718l3-4 1-12-10 2-6 6 1 4 5 4zM222 1720l7-14 0-2-3-2-6 1-3 3 0 10 3 3zM284 1726l2-2 1-4-5-13-2-1-8 5-10-4-11 5 1 8 4 3 8 0 8-5 4 8zM170 1720l2-4-6 0-1 4zM562 1722l-3-2 3-4 2 2zM208 1726l-2-5-10-5-6 10 0 1 6-2 8 2zM432 1726l-4 0-2-2 2-5 4 2zM309 1736l2-4-5-4-2 2 0 4 2 2zM255 1750l2-10-1-5-2 1-3 10 1 4zM830 1744l-4-2 4-4 2 4zM198 1760l0-8 5-8-3-4-4 0-8 8-1 6 5 5zM896 1754l-4-5 2-1zM492 1762l-6-2 0-4 8 0 1 4zM876 1764l-4-2-4-4 0-3 4 0 2 1 4 8zM804 1764l-11 0 7-4 4 2z"/>
<path fill-rule="evenodd" fill="rgb(135,135,135)" d="M846 1180l-4 1-6-3-6-8-6-4-1-6 6-10-13-3-16-7-9-14-3-10-14-11-8 2-6-3-4-10-9-6 1-6-1-4-5-2-8 1-4-1-4-4-4-12-14-4-4-2 0-10-8 1-10-5-12-2-4 2-6 5-6-1-16 6-22-4-10-7-26-10-4-7 2-10 2-6 7-8 1-4-3-6-5-3-15-1-3-8 0-10 59 0 9 3 7-3 13 0 3 8 7 4 5-2 3-4-3-4-8-2 245 0 0 189-6-4-26 7-18-5-8 1-8 6 0 4 2 1 6-5 4 0 4 10-2 4zM540 990l-6-3-3-5 1-6 6-4 6 4 3 6-2 4zM763 992l6-12 0-2-3-2-5 2-4 10 1 3zM564 1006l-4-1-3-3 2-4 5-3 3 5zM708 1008l2-2 0-3-4 2zM328 1688l-4 0-2-4 8-14-1-10-7-4-4-9-10-2-10-7-10-2 0-2 7-10-2-16-9-8-8-2-14-31-4-4-6-1-13-8-6-18-3-4-6-2-6 9-8-13 2-10-5-12-14-4 3-6 7-6 0-4-5-7-2-7-11-8-3-6 4-8 8-1 12 14 2-9-6-12-10-12-10 1-8 3-4-1-4-5 1-12-13-7-16 2-10-4-10 3-4 0-2-4 4-3 1-3-9-13 0-16 8 3 8-1 4 3 2 20 4 6 4 2 4-1 6-5 0-6-4-8 1-2 3-1 8 6 3-3-1-4-20-9-2-5 2-8 4-1 16 11 10 4 2 3 2 17-3 6 1 12 4 2 10 0 6 5 18 8 4 13 11 4-7 10 1 4 2 2 7 1 12-2-7 21 2 6 7 4 10 3 14-7-1-2-11-3-4-3 0-8 6-5 7 3 7 9 10 1 8-7 14 5 3-4-1-4-13-6-4-6 1-6 7-6-1-2-12-8-3-4 3-16 10 1 3-3 1-6-4-3-10 1-3-4 0-2 12-12 3-15 11-7 1-4-4-4-6-2-16 1-7 5-2 12-3 2-6-1-3-7-5-3-4 2-2 7-7-2-3-4-3-10-10-4-2-2 5-10 2-14 6-2 2-2-4-2-6 2-13-4 1-12-16-11-6-1-5-12-10-6 3-13 6-6 6-3 12 3 6 3 8-5 2 0 8 12 10-5 7-16-17-7-2-3 4-8 14-10 0-4-6-4-2-6 8-12 4 3 6 8 11 1 13 5 3-1 4-8 13-12 20-6-5-12 3-7 4-2 17 9 0 4-11 8-1 2 5 10 6 2 4-2 3-6 1-12 8-6 1-6-5-5-12-1-12-6-6 2-2-2 6-1 12-18 18-7 1-6-3-9 4-3 8 1 15-13 1-4-3-8 3-4 5 0 4 12 7 1 5-7 3-10 16-2 18-8 8 0 6-4 8-11 16-3 10-11 6 1 1 2-8 6 3 3 4 2 16-2 10-5 14 2 12-6 6 0 14 11 10 5 24 20 24 9 8 6 40 17 40 26 22 18 4 6 2 6 10 5 6 9 13 42 6 14 5 5 8 3 6 5-1 9-11 8 1 6 9 11 4-1 6-6 8 4 10 17 3 9 0 10 7 4 3 18 6 12-1 6-4 5-5-1-3-4-7-16-1-10-12-6-7 8-1 4 2 4 10 4 3 10-2 4-13 4-3 6 1 4 10 2 10-6 4 0 4 7 0 13-2 4-22 13-4 1-9-10-6-20-2-18 2-22-5-5-1-3 7-16 8-1 3-3-3-3-10-1-8-12-16 8-3 6-1 39-9 21-4 18-1 10 2 8-2 4-8 9-10 3-4-1-8-10-4-1 2 14 10 5 7 11-9 2-4 4-5 10 0 4 5 2 20-5 1-3-8-12 1-2 18 7 8 15 19-4 2-4-4-12 4-4 5-11 7 3-2 12 7 7 6 0 5-3 1-4-7-12 9-4 1-6 3-3 4 1 1 2-3 10 4 10 4 4 4-1 4-5-1-22 4-16 3-3 8-2 5 3 5 16-2 6-7 8 1 12-2 18-19 26-3 11-8 16-11 17-3 16-12 15-2-1-2-6-4-1-3 3-1 10-6 13-4 1-10-6-6 6-4 1-5-5-2-8-3-4-6-2-5 2-2 2 1 4 8 5 1 3-1 7-4 7 8 12-6 4-10 0 1-6 7-10-6-2-2 1-15 15 2 18-3 2-10 0-10-6-10-1-14 19-16 12-24 1-8-3-6 4-2 8-4 2-4 0-3-2 0-16 3-9-8 2-4 5-5 10 1 10-10-2-3-14-3-4-4 0-3 4-1 4 7 10 0 4-9 10-10 5-18-5-27 0-2-2 2-12-3-4-8 3-4 11-20 6-4-1-18-14-6-1-3 4 2 10-5 6-4-1-6-11-4-3-10 8-10 3-12 16-2 0-5-8 3-6 7-8-1-2-4-2-16 1-14 9-10 21zM672 1058l-6-6 0-7 10 7 0 4zM416 1062l-3-2 0-2 7-3 0 4zM886 1090l4-7 11-3 1-4-2-3-6 0-16 9-1 4 2 4 3 1zM902 1104l1-4-3-7-2 2 0 7 0 2zM564 1114l5-2-2-4-5-6-6 0-3 6 1 7zM504 1112l0-4-5 0 1 4zM895 1146l2-4 4-12 0-12-5-6-2-5-18 3-1 2 8 12-5 14 8 7 4 2zM557 1140l1-10-4-8-3 4 1 12 2 2zM522 1182l1-4-1-5-12-15-1-8-3-3-8-1-2-2-1-4 2-10-5-2-2 2-1 6-7 8 0 10-7 6 0 10 3 0 14-12 5 0 8 4-1 8 2 2 6 0 6 11zM586 1136l2-4-4-2-6 0-4 4 2 3zM863 1146l4-4 1-4-10-2-10-6-5 2-1 4 3 4 13 7zM537 1164l2-6-1-8-4-8-6-5-2 3 4 12-2 10 4 3zM381 1168l-5-16-6-3-4 1-1 4 1 4 14 11zM616 1172l12-3 3-3-9-6-8-9-13 13-2 4 3 3 6 2zM554 1168l6-4 0-4-6-1-5 3-1 4 2 2zM426 1190l2-2 4-11 6-6 4-1 3 14 3 3 4 0 8-5 6-8-1-4-11-6-10 4-8-5-10 3-6 6-2 6 2 10 2 2zM246 1184l-14-5 0-5 4-1 10 7 2 2zM396 1192l3-2 1-4-1-10-3-2-5 4-1 8 0 6 2 1zM551 1270l7-7 12 2 4-3 0-6-3-6 1-10-4-8 1-20 3-6 8-8 4-1 5 3 1 4-1 10 3 3 6 2 12-4 6 14 4 3 3-2-1-6-14-18-11-4-4-4-3-6 0-12-4-4-8 5-10 2-5 7-2 10 5 12-8 10 0 4 1 12 4 10-7 11-8 5 0 7zM866 1184l-4 0-1-2 7 0zM473 1232l5-9 16-1-4-10-11-8-1-8-2-3-8-2-5 3 4 18-5 8-4 0-12-18-4-3-6 2-9 9-1 8 2 3 8-1 10 5 14 1 10 8zM550 1208l4-2 0-4-8-1-6-8-4 0-1 5 3 6 6 4zM700 1232l1-4-1-6-8-8-8-13-14-1-4 1-1 3 7 3 10 21 14 5zM361 1212l2-4-3-4-2-1-4 3 0 5zM533 1262l9-6 0-6-11-12-5-18-4-1-7 9 0 4 9 12 1 12 5 6zM508 1226l0-2-4-3-8 3 6 3zM430 1250l2-2 0-2-8-5-6-2-4-7-6 2-2 4 0 9 10-7 3 10 3 1zM650 1246l10-6 0-4-6-3-4 3-4 9zM459 1256l-2-8-3-4-4-2-5 2 0 4 5 9 6 0zM604 1260l4-2 1-2-5-13-12 11-1 4 3 4zM695 1266l6-8-5-5-2 1-4 8 2 5zM502 1278l8-6 1-6-3-5-16-3-16 2-8-3-7 1 0 8-3 6 2 1 4-1 6-5 6-2 18 12zM736 1268l4-6 0-6-2 0-7 8 1 4zM670 1268l2-6-4-3-3 3 0 4 3 3zM202 1286l6-16-8-8-4-1-4 4-3 11 8 6 3 5zM547 1308l3-9 14-7 3-6-3-5-18 9 0-14-2-2-8 6-2 6 8 22 2 1zM682 1406l13-8-5-12 2-8 10-3 3-3-1-2-8-2-3-2-3-16 4-4 14 3 12-7 2-4-2-10 1-6-3-2-14 13-6 0-2-5 7-8 0-10-9-10-8-1-9-7-2-2-1-10-6-5-8 9 7 8 0 6-5 3-10 2-12 7-8 18-3 14 7 12-1 10 1 2 15 10 5 10 8 8 10 3zM714 1290l4-3 1-5-3-6-4-2-7 12 5 3zM232 1294l3-6-5-10-4-1-9 7-1 4 2 4 6 2zM607 1284l0-4-3-2-6 4 4 3zM468 1286l-2-4 0 5zM511 1310l7-4 5-6 0-6-5-5-20 7 1 12 5 2zM583 1300l1-6-2-4-8 2-1 4 3 4 4 2zM636 1304l1-6-7-7-6-1-9 6 2 6 3 2 8 1zM126 1307l-5-5 1-6 4 1 2 3 1 4zM379 1320l5-6 0-4-2-2-4 1-4 5 1 4zM606 1314l0-3-18-3-3 2 3 4zM485 1314l0-2-3-1 0 2zM662 1340l-4 1-6-4-11-1-2-4 7-7 10-2 12-7 6 0 2 4-1 6-7 6zM521 1332l5-5 10 4 8-2 8 1-14-10-4 0-6 2-6-1-4 9 0 2zM251 1332l0-6-3-3-2 0 0 5 4 6zM491 1338l2-6-5-4-3 6 3 3zM428 1346l5-4-1-10-6 1-6-4-4 0-3 5 1 5 4 2 8-3-1 8zM184 1402l-7-10 4-8 0-8-9-8-2-8 10-2 2-2 1-4-3-10 6-7 4 0 2 1-4 8 0 4 22 4 4 2 0 2-4 14-2 2-16-5-4 0-2 3 0 4 6 2 1 6-4 10 0 6zM251 1346l2-8-3-4-11 8 7 5zM136 1350l-7-4-1-4 6-2 4 2 0 7zM617 1548l13-4-4-8 1-4 18-6 5-8-2-12-12-4-2-12-5-6 0-2 4 0 29 18 4 0 2-2-4-7-8-1-2-2 2-12-13-16-1-9-10-1-1-2 15-1 14 6 18 3 1 4-11 14 8 8 6 13 3-1 3-9 6-8 6 2 4 7 10 4 8 0 6-7 14-3 4-2 2-6-2-8-2-3-4 0-10 9-14-7-20-1-6 2-3-4 7-5 3-5-7-6-18 0-7-2-1-4 2-20-8-12-6 2-9 10 8 10-5 6-4 0-10-8-4 1-12 8-2-2-3-13-5-10-1-8-5-6-1-4 6-6 1-18 4 0 6 6 12 7 4-1 0-10-2-4-12-1-6-11-4 0-6 6-8 0-6 6-4 1-10-5-1-12-5-3-6 2-8 10-6-3-3-6-5-4-4 1-10 8-4 0-8-6-4 2-5 5 0 6 9 6 8 15 2 1 3-8 8-10 0-6 3-2 4 2 1 6 3 4 11 2 1 4-2 10 2 3 14 2 3-5 7-4 10 4 2 4-3 6-14 12 0 2 10 8 1 4-6 1-28-7-2 4 1 6-5 4-3 8 0 14 3 6 12 7 4 0 10-7 4 0 3 6 0 10 3 3 8-3 3-8 3-3 4 0 6 3 10-2-2 5-8-1-8 10 2 3 10 2 3 3 3 4 0 6-2 2-10 0-5 6-2 4 3 4 4 1 14-4 8 5 1 6-5 2-10-4-22 14-12-1-2 3 2 10 2 2 8-1 10 4zM170 1359l-7-3 1-6 4 2zM116 1358l-3 0 3-5zM398 1374l19-4 4-4 0-8-3-3-8 2-16-3-8 1-2 5 2 10 6 3zM425 1492l3-4-2-8 1-18-3-5-6-3-2-4 2-2 10 2 6-6 8-2 3-2 6-8 4-10 7-6 0-14 17 0 0-4-3-8 1-8 1-2 6 3 6-1 4-10-2-4-6-1-8 5-8-6-12 0-6-7-22 1-2 2 0 6-6 18-4 2-6-5-4 0-5 7-3 9-4 1-7 0-1-2 4-8-1-4-19-13-10-2-7 5 0 6 2 4 13 12 2 4-2 3-10 3-10 10 6 10-3 24 3 3 12 5 10 11 8 1 3 10 5 4 6 2 10-3 10 6zM234 1404l-4 1-5-1-13-15 16-5 7 8 3 6 0 2zM647 1392l1-4-2-3-4-2-6 1-1 4 3 4 6 1zM268 1410l-4 0-1-2 5-13 3 11zM547 1406l3-6-8-5-5 1-2 4 3 5 4 2zM238 1440l-8 0-3-2 5-14 8 1 5-7 0-10-7-8 6-3 6 9 6 4 1 4-5 13-2 2-8 0zM380 1426l-4 0-2-4 2-5 4 0 2 2zM564 1432l-5 0-4-4 9-1 2 3zM242 1454l-3 0 3-7 6-4 4-7 4 1 1 3-3 4zM612 1450l-8 1-3-5 3-4 12-6 6 5 1 5-3 2zM108 1456l0-17 8 0 2 3-1 4zM370 1448l-6 0 0-6 8 0 1 4zM817 1464l3-6 1-6-5-5-6 0-5 3-1 4 6 8zM406 1462l-8-2-1-2 3-2 4 0 3 4zM775 1482l2-4-1-3-10-1-6-4-1 4 6 6 5 2zM146 1476l-5 0 0-2 4 0zM108 1496l0-20 10 7 1 3-1 4zM806 1486l-2-8-5 0-1 4 2 3 4 2zM162 1510l-6 1-2-3 4-13 4-2 4 4 1 5-1 5zM263 1512l5-6 12 1 4-3-6-5-10 1-6-4-10 6-8 2 0 4 2 4 12 1zM138 1518l-12-6-12 3-4-1-2-2 0-8 10 3 15-3 7 1 5 7-2 4zM892 1672l-12 0-6-4 1-4 8-12-2-4-5-5-4-2-6 5-9 0 1-8 8-6 0-4-4-4-8-1-12 7-4-2-1-10-3-4-4-2-12 1 0 5 5 6 3 10 6 8-2 4-2 0-6-9-8-4-5-7-11-6-3-20 1-7 9-7 7-13 8-4 7-7 2-6-3-16 2-4 10 1 6-5 10-4 8-13 12 0 10-3 14 20-3 6 2 2 9 3 0 106-11 3-1 4 1 12zM300 1518l2-1 0-2-7-1 0 2zM284 1534l-2-6-4 0 1 6 3 1zM154 1548l-4-1-2-3 10-7 6 1-4 7zM316 1590l12-10 5-8 1-6-2-3-10-5-5-10-5-6-8-5-4-1-11 12 9 6 12 15 5 13-3 8zM220 1551l-2-1 2-6zM657 1554l1-2-2-2-2 1 0 3zM166 1592l-2 0-2-4 4-8 14-2 2 1 0 3-8 0zM738 1592l-4 0 0-2 6-4 0 4zM515 1598l0-4-3-3-4-2-4 3 0 4 2 1 6 2zM661 1602l2-4-3-3-8-1-3 2 7 7zM311 1610l3-6-4-7-6 3-4 6 6 4zM204 1614l-6 1-4-2-2-7 3-6 5-1 6 5 2 6zM501 1608l-1-7-4-1-3 2 1 6 4 2zM154 1615l-10-1-10-6-10 6-3 0 0-2 11-9 10 1 12-1 3 5zM383 1618l3-2-1-4-3-4-4-1-4 5 1 4zM732 1620l-4-1-1-3 1-6 4-4 4 2 2 6zM272 1626l-4-2-2-4 6-4 3 2 1 2zM606 1628l1-6-3-5-4-1-6 4-1 2 9 7 2 1zM166 1662l-16-8-2-4 1-2 9 0 3-2-7-20 2-8 6 3 6 6 6 19-1 12zM625 1626l0-4-3-3-2 3 0 3 2 2zM327 1646l7-6 0-8 12 2 0-8-4-5-4 0-11 5 3 4-6 4-2 10 2 2zM486 1626l1-2-3-2-4 2 2 2zM196 1652l-4-3 2-5 19-14 1-6 4-2 1 4-5 6 6 12-1 6-15-1zM421 1634l3-2 0-4-4-4-4 0-3 4 0 6 1 1zM470 1638l-2-4-3 2 1 2zM146 1662l-18-4-2-4 1-6 7-3 9 3 1 8 4 4zM246 1660l-8 2-3-2 0-6 5-8 6 1 5 5 0 4zM288 1688l-7 0-4-16 1-4 4-4 4 0 3 4 5 14-1 4zM206 1674l-5-2 3-4 6 2 0 2zM830 1672l-2-4 2-1 1 3zM904 1685l-2-3 0-6 4-3 0 10zM168 1710l-6-2-12-10 0-10 6-13 12 2 10 4 10 0 5 5-4 4-12 6-3 11zM252 1694l-18-2-1-2 0-4 7-5 14 3 5-6 5-1-1 7-5 2zM326 1724l-4 2-6-2-13-12-11-6-1-4 3-8 2-2 6 2 8 12 18 9 0 5zM386 1698l-2 0-1-4 3 0zM124 1702l-2-1 0-4 8-2 0 3zM274 1702l-4 1-2-3 4-5 4-1zM902 1708l-6 0-1-2 7-3 2 3zM208 1713l-3-3 3-4 2 4zM118 1748l-10-10 2-9 4-6 6-1 12 9 14-16 4 0 5 3-7 16-10 6-12 3zM242 1721l-3-1-1-4 4 0 1 2zM242 1746l-14-11 0-5 2-3 6-1 10 8 0 8zM266 1764l-10 0 7-12-1-8 3-10 3-4 4 2 3 4-6 12zM156 1744l-1-8 3-1 0 5zM186 1764l-14 0-3-2 9-22 4-4 5 4-6 12 1 6zM306 1746l-6 1-2-5 4-1 5 5zM214 1751l-3-1 3-5 2 3zM150 1754l-2-2 4-4 1 2zM232 1764l-11 0 2-4 5-2 4 2z"/>
<path fill-rule="evenodd" fill="rgb(151,151,151)" d="M608 974l-4-1 0-5 1-2 7 0-1 6zM688 975l-6-3-1-6 6 0 2 2 1 4zM758 970l-3 0-2-4 9 0zM804 974l-14-1-3-3 0-4 22 0zM820 1141l-6-3-15-18 2-6 7-4 1-14-11-7-12 9-5-10 1-10 2-4 8 1 10 5 6 0 7-16-2-10-3-1-8 2-26 17-4-1-5-5 1-4 5-4 15-4 1-14 10-8-1-4-4-4-6-32-2-2-6 0-2-2 4-3 6 4 16-5 6-8 6-1 2 3 0 8-6 6-2 10-5 8 2 2 9 2 10 6 8 1 2-3-6-8-1-12 3-9 21 3-1 10 2 3 6-5 0-4-4-6 1-10-8-6 6-6 5-2 6 3 0-3 19 0 2 16 3 3 2-3 1-16 13 0 0 43-6 7 2 9-8 7 5 12-3 2-7-2 0-6 4-6-5-12-16-4-1 12 2 10-1 8 12 9 1 5-6 10-7 0-10-6-4-14-6-4-5 14 0 8 5 8-4 16-18 2-2 2-2 10-14 6 2 3 10 0 2 3-3 20zM736 1020l-3-2-6-20 7 0 2-4-2-6 3-6 5-4 10-3 1 5-7 8 10 13 12 5 5 8-5 1-6-1-6-8-4-2-7 4-3 10zM606 1029l-4 0-4-3-2-10 3-6 8-6-2-12 5-6 6-2 8 1 4 8 2-3-3-6 2-4 3-3 8-1 14 6 8 9 13 1 0 6-3 3-16 3-12-12-4 0-6 6-18 10-6 8-1 10zM879 992l1-4-2-4-10-6-3 2-2 6 1 4 10 3zM702 994l-10 0-5-4 0-2 7-4 10 2 6-4 10 6-2 2zM894 1006l4-8-8-7-5 7 0 4 5 5zM720 1022l-4-1-2-3 2-4 4-2 2 2 2 6zM700 1038l-5 0-3-4 1-6 3-3 4 0 4 5 0 4zM762 1044l-5-2-3-8 8-3 13 3 1 2-2 3zM730 1052l-8-1-4-3 1-8 5-6 4 2 4 14zM534 1660l-6 2-34-3-3-3 2-8-1-8-2-2-10 2-3-2 1-5 14-2 4-3 2-10 6-6 3-6 9-3 4-4 1-3-2-4-11-8-4 0-15 16 0 6 6 8 0 4-9 0-9-8-11 1-12-7-9 0-1 2 3 8-3 8 1 8-9 3-2 0-14-15 0-4 3-14-1-3-4-1-9 12 2 10-3 16-6 8-4 10-4 2-6-2-4-8-16-1-8-11 2-4 8-6 16 2 4-2 3-4-9-16-10 3-6 4-6-1 6-8 1-10 5-8-4-10-9 8-6 22 3 4 4 2-8 11-4 0-10-6-10-1-10-9-2-5 1-4 17-17 7-15-1-4-14-5-16-17 0-3 4-1 8 7 4 0 3-1 2-4-3-14-2-3-12-2-2-10-12-7-5 0-3 6-13-8-2-4 5-8 2-12 6 1 6 8 4 0 2-2 7-15-19-8-2-6 4-5 12-1 3-2 6-12 8-10-1-5-14 4-4 3-6 8-4 2-8-3-4-5 0-4 2-4 10 1 3-3 4-20-11-2 0-2 5-8 0-12 13-10 1-4-5-6-14-5-18 4-6 10-4 0-6-5 0-5 2-1 8-2 6-9 10-1-1-4-3-2-6 1-12-1-12-12-14-7-10 0-3-5 3-6 12-4 12-17 1-7-6-8 0-6 12-16 11-10-2-6-10-1-3-3 1-4 8-4-4-6 0-2 8-1 8 9 6 1 10-8 3-11 4-4 7-6 6-1 10 3 12 10 2 5 2 0 10-10 4-20 14-7 10 2 9 14 3 6-1 12 2 4 7 0 11-12 1-4-1-8 1-10-14-7-5-7 1-6 10-6 0-4-9-10-5-14-12-6 1-6 3-5 8-4 8 5 4 0 8-10 4-2 8 6 4 1 3-17 2-4 11-6 12-2 10-7 6-9 16-3 12 3 28-2 3 2 1 5 7-7 17-10 8 3 8 9 10 4 26 22 18 5 12 7 36 15 24 15 22 15 8 11 10 6 2 10 4 4 10 3 5 5 12 32 3 14 8 18 2 2 10 2 4 6-4 4-6 3-10-6-7 3 0 4 4 6 1 4-8 10 6 4-12 11-4 7-3 46-9 13-8-13-1-12 4-8-1-6-4-3-16-3-8-8-2-4 4-4 8 2 9-4 6-12 15-13 5-9 0-4-15-14-14 1-10-3-3-6-1-12 2-10-8 1-4-1-10-18-11-10-4-10-9-3-8-7-8 0-6-4-12-2-3-4-3-12-8-2-6-4 3-14-9-10-4-2-1 2 1 6-3 6-3 2-4-1-2-1-2-10-10-5-20-19-5 2 0 2 3 8-1 16-3 12 2 18 8 2 10-5 26-3 12 8 2 4 0 4-16 12-4-8-6-4-4 1-4 6-2-1-8-9-15 1-15-21-6-2-5 3-3 6 2 4 5 6 0 6-3 3-4 0-4-5 0-10-10-2-4-2 2-10-1-8 11-10 1-4-11-7-4 1-5 4 0 14-7 4-3 12-8 8 0 8-7 10-6 1-8-3-10 1-8-3-10 2-4-6-4 2 5 6-7 8 0 20 4 5 7 1 2 2-8 6-3 10-6 1-1 9-7 8-9 24 2 4 3 1 10-8 4 1 6 6 8-4 13-2 0 4-3 10 10 9 10 3 6 18-1 12-5 5-4 0-3-3-3-17-4-3-1 4 1 17 10 9 6 2 7-2 5-8 2 1 5 9-1 14 12 5 12-2 2 1 1 4-5 14-2 3-4 1-8-2-8 1-16-1-10-10 6-6-1-4-5-4-10 0-6-12-12 0-8-4-10 7-12-7-8 3-1-1 6-14 0-6-5-2-10 2-4 6-3 8 4 8-3 12 6 6 0 2-4 3-10 5-2 11-8 2-2 0-3-5 2-12-5-4-12 24 0 6 4 3 5-7 5-3 3 1 2 4-3 14 2 8-12 2-2 4 1 6 15 20 0 4-5 14 4 14 3 3 8 0 6 2 14 13 1 6-11 2-3 4 2 4 11 5 2 0 2-9 2-2 10 3 12-1 12 5 6 0 5-5-3-12 2-19 10-7 16-28 7-6 2-10 13-1 4-5 2-11 13-3-4-12 5-8 6-1 7 5 13 29 20 15-5 10 2 8-2 18 2 6 19 12 4-1 8-4 4 17 8 9 8-6 17 5 0 2-5 1-10 7-8-6-6 9-12 3 3 16-4 14 6 14 3 3 12-4 12 6 8-3 10 1 6 5 0 12 2 0 4-4 0-12 4-3 4 0 5 3 5 9 5 1 13-10-6-12 10-10-14-20 0-4 3 0 7 4 9-2 2-6 9-5 2-9 4-3 14 10 16 1 4-2 6-7 8-1 4 6 1 14 25 3 3 3 2 8 9 2 3 4-1 4-4 4-12 0-18 9-4 0-6-5-4 1-1 3 1 16-2 4-2 0-2-8-6-7-6-2-12 1-10-8-1 4 0 16-5 5-6 0-7-7-2-4-4 0 4 4-5 14 12-1 13 7-3 5-10 1-4 5-1 9 6 8 0 4-18-6-1-10-4-5-16-1-8 4-3 6 1 2 10 4 8 6-1 6-9 10-10 4-4-1-6-15 3-10-5-3-8 0-1 3 1 10-2 3-10-4-22 3-12 7-8 8-10-9-4 1-4 5-4 10 1 4 7 6 0 4-4 4zM469 1066l-3-5-5 1 3 5zM845 1082l1-8-2-4-18-4 2 12 10 4zM485 1084l1-2-4-1 0 3zM542 1090l-4-5-6 1 1 4 3 1zM822 1092l2-2-2-4-5 0-1 4zM512 1090l0-2-4-2-3 4 3 1zM766 1098l-3-2 1-6 8-4 6 2-1 4zM410 1128l3-2 5-10 6-1 8 1 8-7 16 4 0-3-4-8 1-8-1-4-5 2-7 7-20 0-2 13-6 4-4 0-2-9-6-1-2 4 4 4 6 4-1 8zM866 1102l-6 0 1-6 3-3 4 3 0 4zM860 1130l-7-4-4-6 3-11 4-4 3 9 11 8-2 4zM346 1150l-8 1-6-3-2-4 2-4 4-4 8-1 18-7 10 1 3 3-1 4-14 0-6 3-5 9zM623 1138l5-6-6-3-2 1-1 4 1 3zM646 1156l13-2 1-4-4-7-6-2-11 5-2 4 1 4 2 3zM504 1213l-2 0-4-7-10-7-6-11-13-4 1-4 8-3 12-11 4 0 2 2 4 10 10 12-9 14 4 6 1 2zM532 1180l-2-1-3-5 3-5 6 3 0 4zM564 1176l-6 0 0-2 2-3 4 0 1 3zM690 1290l-5 0-2-10-7-6 4-12-8-10-4 0-7 6-5 8-4-1-3-3 1-4 5-8 11-8 1-4-3-4-6-4-14-4-3-2-7-16 10-3 1-3-3-6-4-4-6 8-14 3-2 0-6-6-10 0-3-5 2-6-3-8 2-2 5 2-1 6 2 1 16-10 12-1 3 4-1 10 4 4 6-6 2-6 4-2 6 0 11 8 1 6-8 8-4 10 3 2 7-2 4 1 5 9 1 12 12 5 4 5-10 20 3 8 0 10zM698 1180l0-6-3 0-2 6 1 2zM715 1188l11-6-1-4-5-1-10 9 2 2zM550 1188l-4 0-1-4 5-2 1 4zM542 1232l-4 1-4-4-4-15-12-4-2-2-3-16 15-6 0 12 5 12 6 4 13 2 0 4-3 6zM454 1198l-3-2 1-2 3 2zM370 1220l2-6-6-17-6 0-10 7-3 10 15 6zM584 1208l-4 0-1-2 4-2zM339 1222l4-4-1-4-7 4 0 4zM236 1232l-4 0-2-2 4-5 4 1 1 2zM464 1243l-16-6-14 4-6-3-3-6 4-4 7-3 8 5 18 4 2 4zM582 1252l-5-4-1-14 2-2 14-6 8 4 2 4-4 6zM486 1234l-5 0 0-4 6 0zM518 1251l-8-3-8 2-4-2-3-4 0-8 7-3 12 7 5 6zM650 1298l-6 1-12-15-10-2-12-8-18 0 2-4 8-5 16 3 6-2 1-2-7-6 0-4 0-2 8-5 2-10 4-5 6 2 2 4-3 16-8 10 5 4 9 4-2 10 13 12 0 2zM356 1252l3-8-5-9-4 5-1 12 3 2zM550 1254l-4-8 0-4 2-1 5 3 3 4-2 4zM706 1249l-6-3-2-4 6 1 3 5zM474 1251l-8-1-1-4 9 1 1 3zM722 1268l-11-4-3-12 2-2 8 2 4 4 2 4zM528 1284l-4-1-5-5-3-12 2-8 4 2 4 9 5 5 1 4zM582 1281l-4-1-2-8 6-14 6 16zM218 1272l-2 1-4-7 4-5 3 1 2 4zM184 1270l-2 0-1-2 3-5 2 3zM478 1278l-3-2 1-4 6 4zM810 1306l-4-1-4-8-8 0-16-6-2-5-1-8 13 4 13 0 3 12 6-1 4 3 1 6zM753 1282l-1-3-2 1 0 3zM413 1302l4-6 0-4-3-4-4 2-4 6 2 5zM602 1304l-6 1-6-3-1-6 2-6 3-1 5 3 5 10zM355 1310l6-8-3-5-6 1-5 4 2 6 3 2zM624 1362l-4-2-4-10-6-3-12-1-10 6-11-10-3-9-21-11-2-4 7-18 8-2 11 12 1 6-1 14 9-3 18 13 16 3 6 3 4 6 1 4-2 4zM528 1311l-3-1 3-5 2 0 0 3zM626 1332l-2 1-4-1-7-8 2-8 7-6 8 0 3 4 0 4zM300 1334l10-12 0-6-2-3-14 9 1 12zM506 1336l-4 1-9-13-2-6 3-4 8 1 10 6-1 7zM788 1324l-5-6 3-4 4 1 2 3-1 4zM340 1342l2-6-1-4-4-4-5-2-4 6 2 8 4 3zM786 1360l-6-2-2-6 3-16 5-5 5 5 2 10-2 8zM554 1350l-12-8-2-4 6-3 10 5 2 6zM400 1350l-4 1-6-1-4-2-2-4 6-5 8 0 3 5zM526 1349l-4-1 0-5 6-3 5 0-2 4zM830 1346l-3-2 1-3 3 3zM202 1364l-11-4 1-6 4-1 6 3 2 4zM732 1372l-4 1-4-1-5-8 1-4 14-1 2 7zM798 1394l-6 1-4-3-3-8 2-6 9-6 12 2 6-2-1 8-8 10zM548 1388l-4-2-1-8 1-3 6 0 2 1 1 4-2 6zM720 1404l-4 1-4-2-6-10-10-5 0-5 12-3 8 8 14 6 1 2-1 3zM319 1402l11-11-14-2-7 3-2 4 2 2zM620 1424l-4-2-5-14 1-3 8-5 4-9 4-2 11 9 2 4-5 10zM828 1419l-4-5 2-16 2-5 4-2 6 4 3 9-3 5-6 1zM566 1412l-6 0-4-4 2-8 4-4 4 3 2 5zM678 1440l-8-2 0-20-4-12 2-4 6 2 8 11 4 0 4-2 1 1-8 22zM533 1426l0-2-3-1-2 3zM476 1434l2-2 0-4-6-2-1 4 1 2zM830 1446l-4 1-6-5 8-13 2 1 2 6zM798 1469l-10 0-8-3-10 4-8-8-8-2 0-2 4-2 10 0 10-12 10 0 12-6 2 0 1 4-6 12 6 10zM732 1461l-8-1-7-4 3-3 10 3 6-1zM666 1466l-4 1-4-3 2-3 6 0 2 3zM300 1598l-6-1-8-12-8-4-9-7-5-12-14-16 5-8-1-6-4-2-8 5-15-13 0-12-9-6 1-4 4-6 0-4-11-3-3-5 0-6 5-8 4-1 6 1 3 4 1 10 15 12-2 4-8 6-2 4 9 13 6 2 10-3 14 8 1 6-2 8 1 4 8-2 2 4-2 3-6-1 0 6 13 14 7 2 4 6 9 6-1 10zM256 1472l-2-2 2-3 3 3zM788 1512l-6 0-8-11-11-5-2-4 1-6 11 2 5 6 2-1 4-14 4-1 4 3 11 15-5 7-8-1-1 2 4 4zM512 1500l3-4-5-9-8-2-7 5 1 4 5 4zM672 1491l-3-3 1-3 3 3zM452 1496l1-4-3-2-1 6zM482 1504l4-4-2-5-16-3-4 2 2 3 6 5zM566 1502l2-4-2-5-4-1-5 4 2 4zM705 1536l14-4-1-3-6 0-3-3 2-8-3-8 2-6-2-5-7 5 3 6-5 10-1 14 2 3zM412 1516l3-4-2-6-3-2-9 2-1 2 8 9zM504 1522l2-6-2-5-2 1-2 4 2 6zM590 1528l-8-4-2-4 4-7 6-3 6 4 2 6-4 6zM280 1518l-4-1-1-3 7-2 1 4zM294 1530l-4-2 2-4 4 4zM648 1546l-6-2-3-4 0-4 5-5 12-5 3 4 0 8-3 4zM882 1538l-3 0 0-2 3-5 2 3zM884 1630l-8-1-5-5 0-4 4-8-3-16-2-1-10 9-4 1-10-11 0-11-3 1-3 8-13 2-3 8-2 1-7-1-1-2 2-9 8-1 2-2 4-16 4-6 4-3 9 1 1-22 2-3 14-1 3 2 1 4-6 9 0 5 4 8 12 9 6 0 4-9 6-3 4 2 8 10 0 47-18-14-3 8 2 12zM896 1556l-4-4 2-4 6 4zM482 1568l9-6 0-4-3-4-6 0-8 8 0 4 2 3zM756 1562l-2-2 2-3 2 3zM296 1562l-4 1-2-3 4-2zM584 1574l1-10-3-5-4-1-5 8 0 6 5 3zM355 1588l2-4-3-4-8-1-4 3 0 4 4 3zM624 1586l1-6-3-2-4 6 2 2zM574 1608l2-8-2-4-4-1-2 5-1 6 3 2zM322 1616l-4 1-3-1 1-2 6-4zM472 1629l-10-2-2-1 0-4 6-4 6 1 2 7zM526 1640l3-4 2-16-19 0-2 6 6 10 4 4zM468 1656l-6 0-4-1-2-7-6-4 1-8 5-1 6 8 9 3 0 6z"/>
<path fill-rule="evenodd" fill="rgb(167,167,167)" d="M800 968l-4 1-2-3 8 0zM878 972l-4-6 5 0zM902 990l-2-2 0-4 6-6 0 11zM616 1000l-4 0-2-6 2-4 4-2 3 2 1 4-1 4zM798 1005l-2-1 1-8 3-4 3 2 1 4zM864 1036l-4 1-6-10-8-1-3-10-7-8 2-11 4 0 2 2 2 13 16-1 4 19zM798 1050l-4-1-2-5 10-6 8-10 12 7 8-8 12 5-3 10-5 5-10 1-10-4zM752 1253l-11-9-5-8-4 0-12 3-8-3-4-4-2-10 3-6 11 1 8 10 4 0 6-4 1-9-3-7-10 2-20-7-8 4-4 0-4-6-1-8 1-3 14-7-3-12-5-2-6 2-5 14-3 1-4-2-8-16-2-3-4 1-3-1 0-2 3-1 4 2 8-5 2-2-2-4-6 3-4 0-8-15-12-5-13 11-3 5-2-3 1-10 5-6 6 0 1-2-24-6-3-8-16-11-6 0-3 3 3 8-2 3-2 0-2-9-14-6-11-10-7-10-26-3-2 11-6-2-6-9-4 0-10 5-2 2 0 8-2 0-4-2 2-8-4-9-6-2-9 3 0 4 3 9 7 7 5 12-2 5-6 7-1 12-3 3-8 2 2 15-4 5-4 2-10-5-8 1-8-3-8 0-8-4-6 3-8 10-6 1-6-2-7-6 1-3 10-7 1-8-11-9-5-15-9-7-1-3 3-4 4 0 14 13 6 7 1 10 3 2 8-2 4-8 4-4 6 1 10 5 2 0 0-8 4-2 18 5 6 3 6-1 5-3-1-6-4-2-10 4-8-10 2-25-2-1-6 8-10 6-14 4-3-4 2-16 9-6 12 0 8-6 8 6 8 0 2-2 0-4-7-8 0-2 15-5 8 3 12 0 10 2 3 4-1 14 2 5 2 2 8-1 4-6 8-6-6-10 1-6 9-5 6-5 4 0 10 11 12 4 26 23 20 5 9 7 43 17 8 7 32 20 3 6 1 8 11 4 2 8 5 5 16 7 4 8 2 12 4 8 3 16 9 22-1 4-5 1-12-2zM501 1068l2-4-5-2-2 6zM554 1076l0-4-2-3-6 1-1 4 3 2zM412 1108l-11-8 3-8 4 0 6 8 1 6zM542 1140l-12-12-10 2-9 8-6 0 5-18 8-8 12-17 14 5 2 4 1 12-3 10 0 12zM512 1102l-4-1-1-3 3-2 4 1 1 3zM860 1124l-4-1 0-3 2-1 3 3zM342 1148l-7 0-2-2 0-4 5-3 7 1 1 4zM596 1160l-4-1-14-8-8 3-3-4 15-7 8 0 14 9-2 5zM342 1209l-4-1 2-6 7-6 2-6-1-10 2-5 12-6 8 0 11 21 0 6-3 6-2 2-8-12-8-5-4 0-3 3 1 6-5 4zM498 1199l-7-1-5-10-5-6 3-8 6-4 4 2 10 18-1 4zM324 1384l-4 1-8-2-10 1-4-4 0-10 13-8 3-4-3-10-7-3-2-3 11-14 4-12-5-8-8-1-8 9-8 3-8 1-8 7-10 1-4-2-12-13-16-5-3-2 0-2 9-6 11-10 4-14-4-12 1-4 6-6 5-10 11-8 4-6 6-2 3-10 10-8 2-12 5-5 6-3 6 1 8 7 4 12 9 2-5 21 14-4 6-8 4 0 3 3 0 4-7 4-1 16-2 6-4 6 1 2 16-4 2-2 2-8-6-20 29-6 0-2-7-6-2-4 2-2 12 3 6-3 11-14-2-10 1-6 2-3 4 0 2 5-1 12 2 10-2 6-5 4 0 12-6 10-4 12-8 8-10-2-8 12 10 5 5-1 5-5 6 4 4 0 6-8 4-1 3 4-3 8 2 2 10-3 6-7 2 1-2 9 10 3 8 8 8 3 4 12 0 9-2 3-2 0-8-20-4-1-3 3-2 4 2 8-2 10 1 7 18 9 15-4 1 4-2 16 2 1 8-1 15 4 2 4-1 7-4 2-10-3-20 1-4-7 5-6-9-9-11-3-7-13-12 2-10-5-10 5-9-3-3-4 1-10-1-6-4-2-10-1-4-3-2-17-5-9 3-6-6-3-2 3 2 10-3 10-8 10-9 6-3 6 8 12 1 7 2 1 5-4 1-10 8-7 0 5-4 12 1 12-5 14-4 2-2-1-10-17-14-15-6-3-4 2-1 2 5 10-1 20 9 1 4 5-1 8-6 8-2 10zM713 1192l17-8 0-6-6-5-6-1-6 8-8 4 4 7zM620 1198l-12-6 0-2 10-10 6-3 6 0 0 7-7 6 0 6zM654 1202l-4 0-5-8 4-10 5-3 8 4 4 5-2 4zM526 1206l-4 1-3-1-2-6 1-4 5 0zM668 1231l-22-7-3-4-2-8 7-4 10 8 8-3 4 2 2 7-2 8zM270 1223l-5-1 0-2 3-2 2 1zM540 1228l-4-2 0-5 4-3 6 1 0 5zM436 1236l-5 0 1-4 5 0 1 2zM586 1242l-4-2 1-4 9-4 4 2-1 4zM502 1244l-3-2 1-4 3 2zM682 1255l-4-1-2-4 1-8 3-3 4 1 2 4-2 8zM326 1248l1-4-3-3-2 5 2 2zM782 1248l-5 0-2-4 3-3 4 1 2 4zM315 1266l3-8-1-4-3-1-4 3-1 8 3 3zM628 1257l-3-1 1-2 4-2 0 4zM736 1350l-5-8 4-16-2-12-18-12 9-8 9-14 9-9 12-16 6 5 0 4-15 16 0 4 2 8-1 18-3 10 1 18-4 9zM628 1276l-4 0-2-2 6-5 4 5zM337 1290l4-10-3-7-6 5-4 10 4 3zM415 1304l5-4 0-6-2-7-6-3-8 8-1 6 5 6zM796 1293l-4 0-10-3-2-5 2-1 15 2 2 4zM279 1298l1-6-4-3-3 3 1 4 2 2zM368 1300l-3-4 1-4 4 2zM598 1300l-4 0 0-5zM570 1327l-4 0-8-5-3-4 2-4 15-3 2 7zM624 1328l-4-1-3-5 1-4 4-2 5 2zM504 1330l-4-1-4-5-2-4 2-3 6 1 6 4 0 4zM288 1333l-2-5 2-2 1 4zM592 1344l-4 1-6-3-2-4 2-5 6-1 8 6 0 4zM786 1357l-4-1-2-4 3-14 3-3 3 3 0 12zM280 1344l-4 1-3-1 3-3 4 1zM396 1348l-5 0 0-4 5 0 1 2zM624 1358l-2-2 0-6 5 4zM732 1368l-4 1-2-3 6-2zM562 1625l-3-1-1-8-2-3-12 6-12-6-12 3-11-2 1-5 11-7 5-8-1-2-19-12-4 2-7 10-8 6-1 8 5 8-1 2-4 0-7-8-13-2-12-7-16-4-4 3-1 4 8 10 1 4-4 6-6 1-6-3-3-4 1-6 5-8-5-10-6-1-9 9-5 1-10-7-2-9-2 0-1 5-8 10-9 2-1-10 6-10-5-19-12 11-16 2-2-4 5-10 0-10-13 0-5-4 10-12-3-10 2-8-2-8 1-10-1-3-12-5 6-10-1-4-9-1-5 5 1 6 6 6-4 5-10-1-8-6-10 4-6-2 0-4 6-7 8 3 4 0 4-4 4-10 12-8 8-2 2-4-4-4-4-1-8 6-6 0-14-4-2-1 0-4 4-2 8 0 7-4 7-12 9-10 1-14 2 0 16 20-5 18 7 18 4 3 12-1 12 12 0 2-2 2-9 4-1 4 2 5 10 10 4 1 8-2 2-2-2-6 2-3 16 0 12 6 10-1 5-8-2-12 2-16 5-2 7 4-1-8 2-8 12-21 4-3 3 8 5 4 4 1 5-1 2-6-1-8-14 0 1-10 3-2 10 1 7-17 11-2 2-4-5-10 1-4 4-5 6 0 3 3 4 12 5 8 3 12 11 10 1 2-9 4-3 6 3 4 12 1 2 3-2 24 22 14 12 3 9 21-1 4-6 0-4-8-6-4-8 2-8 0-5 4-1 4 2 1 18 6 4 5 4 14-6 14 6 9 2 11-2 5-4 1-10-12-4 1-6 6-10-10-6-1-2 2 3 8-4 10 1 3 4-1 6-5 8 2 8 0 12 5 6 6 10 0 14 4 7-8 6-16 3-2 6-1 4 3 1 6-9 16 0 6 2 4 6 0 6-4 10-31 4 1 4 8 6 3 4 0 10-8 4 0 3 3-3 6-10 6-3 10-16 4-11 10-20-1-1 3 2 8-1 2-20 1-6-1-3-4-1-8-12-13-2 3-2 18 1 4 6 4 1 2zM798 1392l-6 1-4-7 2-6 8-5 6 3 2 4-2 6zM722 1400l-8 0-2-8 12 2 2 4zM622 1418l-4 1-3-9 7-6 4-8 4-2 5 4 1 4zM838 1404l-4 0-3-6 5 1zM562 1410l-3-4 3-4 3 4zM306 1416l-4-2 1-6 5-4 6 2 0 4zM491 1420l2-2-1-3-8-1 0 7zM678 1428l-4-4 2-7 5 5 0 4zM296 1428l-6 0-4-6 10 0zM796 1466l-8 0-12-7-2-1 2-7 4-3 8 0 8-4-3 8 5 10zM220 1485l-6 0-2-3 1-6 5-4 4 1 2 3-1 6zM479 1508l7-3 6-8 12 6 12-1 2-4-4-13-4-3-6 0-9 4-9 6-10-1-10-4-8 3-6-5-6 3-1 16 13-7 6 3 6 8zM798 1498l-8-1-4-3-1-6 3-4 4 1 6 7 2 4zM236 1497l-6-1-2-6 4-1 5 3 2 2zM770 1492l-2 1-2-1 0-2zM728 1544l-16 1-4-3 4-4 10-1 2-3 0-4-9-16 0-6 3-5 10 0 10-10 5 3 0 12 3 7 8-3 14 1 2 3 2 8 4 4 10 2-2 2-10 0-20 8-10-4-4 0-8 4zM410 1522l5-4 3-6-2-10-4-2-18 4 8 10 4 7zM504 1528l4-3 1-9-1-6-4-4-6 4-1 4 1 11 2 2zM590 1524l-4-1-2-3 4-6 4 1 1 3 0 4zM483 1532l2-2-3-7-3-3-3 0-2 4 0 4 4 3zM554 1526l2-2 0-4-6-2-1 6zM692 1562l-4-2-6-12-12-2-2-2 2-4 16-10 2-6 4-3 2 5-4 8 0 4 6 12 1 6-1 4zM264 1535l-2-1 0-3 4 1zM650 1542l-4 0-3-2 0-4 2-2 5-1 4 2-1 5zM481 1574l12-8 1-6-4-8-12-5-2 1-8 18 8 8zM594 1562l-4 1-5-5 0-4 5-3 4 3 2 4zM282 1578l-6-1-5-3-2-6 1-5 4 0 6 5 4 8zM860 1598l-4 0-3-4 2-12-2-6 7-5 6 3 4 6-4 10zM676 1601l-3-1-6-12 0-4 7-7 10-2 2 3-5 8zM298 1594l-4-2-2-4 0-4 2-2 7 4 0 6zM540 1590l10-2 2-2-2-2-7 0-7 2-3 4zM902 1609l-4-1-5-4-1-12-8 3-4-2-2-3 2-4 8-3 10 2 8 11-2 11zM340 1593l-8-2-2-1 6-5zM326 1600l-4-1-1-3 9-6 2 2zM354 1614l-6 1-11-7 5-8-1-6 1-2 10 2-1 8 4 8zM642 1626l-8 0-4-8-1-6 5-8 10 1 9 7-5 10zM400 1638l-6-1-4-5 8-19 4-2 5 5-1 14-2 5zM528 1659l-22 0-11-3 0-20 8-10 1-6 1 8 11 13 18 1 4 5 7 3-3 1-4-3zM380 1638l-4 1-4-1-5-6 2-4 5-3 6 3 3 4zM466 1652l-2 0 0-3 3 1z"/>
<path fill-rule="evenodd" fill="rgb(183,183,183)" d="M766 1240l-6 0-12-6 0-4-5-6-1-14-4-8-12 2-15-4 1-4 21-10 1-6-4-6-12-7-4 0-3 3 0 6-3 1 0-7-8-5-22 1-1-2 7-6 0-4-8-8-6 4-4-1-3-5-1-8-20-11-12 0-6-1-2-2-4-9-18-10-26 0-14-13-2-6 1-10-3-6-4-3-12-1-6-8 0-5 9-3 4-6 3 0 8 10 14 4 24 22 22 6 8 7 40 15 12 10 30 18 3 6-2 8 1 4 12 4 8 10 6 4 10 2 4 6 3 16 5 9 2 13 7 18zM488 1072l-8 0-4-2-3-12 3-6 4-1 14 5-3 14zM504 1080l-6 0-3-4 11-6 2 6zM540 1078l-6 0-2-4 4-3 4 1 1 4zM430 1091l-2 0-2-1 0-10 3-4 7-3 15 1-2 8-3 4-6 3zM470 1110l-6 1-6-7 2-16 6-7 6 3 4 12 5 6 0 2zM540 1127l-2 0-7-7-1-12 2-2 10 1 2 3 1 8zM398 1128l-4 1-3-3-1-8 2-3 4 1 3 4zM404 1160l-6-2-1-4 13-18 9-6 3-9 6 1 10 7 5-1 3-8 10 2 2 16-8 14-4 0-6-4-10 1-10-2zM520 1126l-3-2 1-4 2-1 5 3-1 2zM478 1132l-2 2-4-2 0-5 4-2 2 1zM466 1158l-6 0-3-4 2-6 5-5 4 3 2 4 0 4zM600 1156l-8 0-8-4-3-4 3-3 4 0 13 7zM376 1194l-3-4-11-6-10-2 0-6 12-5 5 1 8 18zM682 1181l-4-1 0-7 5 3zM498 1195l-4 0-2-2-6-13 2-5 2 0 10 13 0 4zM410 1184l-2 0-1-4 3-4 2 4zM654 1198l-4-1-1-5 2-6 5-2 4 2 3 4-2 4zM696 1202l-3-2-1-6 4-4 4-1 2 5zM270 1324l-8 2-4-3-7-9-1-9-10 5-5-2-1-4 8-8 8-5 3-17-2-12 8-8 1-8 6-6 6-1 6-7 6-3 2-11 18-12-2-10 4-4 4 0 8 6 4 14 5 6-1 6-5 8-3 13-10 9-1 10 1 5 4 2 7-5 5-10 7-4-1-14 4-4 6-2 4 2 2 4 0 8-4 5-7 5 2 12-14 18 0 8 3 2 14-4 4-12-3-12 7-6 6-1 4 1 4 10 0 6-3 4-7 3-3 7-7 4-2 10 7 10-1 7-6-2-10-9-36-16 2 16-4 3-16 3zM370 1249l-4 0-2-5-4-10 1-6 11-4 10 2 2 2-1 8 1 3 8-7-2-8 2-10 6-3 4 0 3 5 0 6-6 10-3 12-6 3-8-5zM654 1223l-4 0-4-3-1-6 5-1 4 3 2 4zM666 1226l-4-2 4-6 2 2zM720 1236l-6-1-4-3-2-8 2-5 6-1 5 4 3 10zM304 1236l6-4 1-4-9-5-4 3-1 8 3 2zM392 1294l-8 1-4-2-3-19 3-3 16-3 10 0 4 8-1 6-3 3-4 1-6-4zM436 1306l-2 1-3-5-7-5-3-13-6-6 5-6 4 0 4 5 10-2 5 5 0 4-6 8 1 10zM740 1319l-13-15-1-4 11-20 3-3 2 1-1 8 3 6 1 16zM279 1302l3-2 4-10-4-4-10-4-3 8 1 6 4 5zM406 1320l-6-1-3-3 0-6 3-7 18 7-8 8zM430 1318l-4 1-2-3 8-4 0 4zM568 1322l-5 0-2-4 5 0 2 2zM504 1324l-2 1-4-3 4-1zM358 1340l-4-2-2-4 2-4 4-1 3 3zM468 1340l-4 1-4-3-1-4 1-2 6-3 4 1 0 6zM590 1340l-4 0-2-2 4-3zM738 1345l-2-1-1-4 5-5 1 5zM786 1352l-2 2-1-2 1-5 2 2zM494 1359l-16-7 6-4 10 3 2 5zM324 1376l-2 2-8-2-8 1-3-1-1-4 2-4 16-8 5-8 5-2 3 4 0 4-8 8zM482 1606l-14-3-14-9-10-1-6-4-8 2-6-6-12 5-4 6-4 1-5-3-2-10-7-5-5 5-5 13-6 2-2-5 7-8 1-4-6-25-5 1-7 12-15 2 6-18 11-8 3-8-5-3-10 3-12-10 4-12-3-8 0-10 5-12-4 0-6 6-5 0-1-4 3-10-12-6 0-2 4-4 8-2 1-6-4-6-6-3-10 7-6-2 10-10 9-14 7-4 16 42 4 2 12-1 7 7 0 4-8 4-2 4 7 18 8 4 10-3 6 2 8 7 1 10 3 2 10-5 5-9 1-8 2-3 10 1 6 7 4 2 4-3 6-7 6-2 6 9 7 4-2 12 1 4 6 4 6 1 4-1 1-4-10-16 4-4 9-4 3 12-1 10 4 3 6 2 4-2 3-5-1-18 11-8-3-10 0-8-7-14-3-1-4 1-2 12-20 10-8-1-6-7 2-6 6-4 2-4 2-6-2-4-10 6-8 0-2 2 0 8-2 5-16 10-4-11 2-7 8-1 6-4-1-16 9-17 4 0 12 7 4 0 5-4 3-9 9-5 0-6-9-8 0-4 4-8 10-2 2-2 0-6-5-10 3-5 4-1 5 4 2 10 6 10 2 12 5 8-6 10 0 4 6 6 10 0 2 3-4 17-4 1-3-1-1-7-1 1-1 10 6 13 10-7 6 1 6 3 18 13-2 2-6-1-6 5-10 2-10 9 4 6 10 2 8 0 6 5 4 13-6 9-2 7 8 12-2 3-2-1-10-7-8 6-15-15-9-2-3 4 0 10 8 8-3 14 6 6 0 4-6 4-6-1-5-5-1-8-4-2-13 20-10 6-1 8zM798 1390l-6 0-1-4 1-3 6-3 4 4zM630 1404l-3-2 3-4 2 2zM501 1444l1-2-1-2-6-2 1 7zM792 1463l-12-7 0-3 4-1 3 2 6 6 1 2zM218 1482l-2 0-2-2 4-4 2 2zM796 1494l-6 0-2-4 1-2 5 1zM310 1494l-3-2 1-4 4 4zM440 1500l-2 1-2-3 4-8 2 6zM406 1498l-4 2-4-2 6-3 3 1zM742 1532l-12 0-2-6-6-6-3-6 1-5 10-2 8-9 2 2 0 14-2 3-6 3-1 4 17 1 0 5zM556 1528l4-4-1-4-7-5-4 1-2 6 1 4 3 2zM768 1532l-6 0 0-10-4-2-7 2 1-5 2-1 12 1 4 11zM447 1542l1-2-2-3-4 3 2 3zM344 1546l-3 0 0-2 9-2-1 2zM478 1578l16-8 3-4-2-12-3-5-6-4-10-1-3 2-3 10-6 8 8 12zM692 1558l-3-2 1-6 2 0 2 4zM614 1570l-4 0-1-6 3-5 4-1 3 2 2 4zM403 1568l7-4-8-4-5 2-1 5zM632 1590l2-16 6-11 16 9 0 6-2 2zM666 1567l-4-1 4-4 2 2zM278 1575l-5-3 1-4 5 4zM556 1608l-6 0-2-2-3-10 9-5 3-3 1-4-6-5-12 1-7-2 5-8 15 2 10 8-3 6 3 8 0 6-3 6zM441 1580l2-2-3-2-4 0-2 2 2 3zM674 1592l-4-4 1-4 3-4 4-1 0 8zM600 1606l-6 1-6-2-6-9-7-6-1-6 8-3 16 5 10-6 1 10-6 8 0 6zM522 1612l-4 0-1-2 3-4 10-9 6 1-4 8zM350 1610l-3 0-1-4 4 2zM644 1622l-6 2-5-4-2-6 5-7 6 0 6 5 0 4zM432 1620l-4-1-3-3 1-5 4-3 7 6-1 4zM400 1634l-4-2 0-2 4-7 2 1 1 6zM522 1658l-16 0-6-2-3-16 3-7 6 0 8 10 16 3 1 4-1 4z"/>
<path fill-rule="evenodd" fill="rgb(199,199,199)" d="M708 1160l-4 0-6-8-14-3-13-15-9-5-12-2-8-5-12 2-4-2-6-12-16-7-18-4-12 1-12-12-1-4 2-8-5-9-6-5-10-1-4-7 9-2 3-7 4 9 18 3 24 23 20 4 8 8 44 16 10 10 12 5 18 14 1 3-5 14zM488 1068l-4 1-5-1-3-8 2-6 4 0 7 4 1 4zM442 1085l-6-1-3-4 2-2 5-2 5 2 0 4zM468 1108l-4 0-3-4 1-14 4-4 5 2 3 14zM406 1154l-1-4 9-14 4-1 6 2 4-7 14 3 8-7 2 2 1 6-3 3-6 1-12 6-10-1zM466 1156l-4 0-2-2 4-6 4 4zM762 1238l-7-4-3-8-5-4-3-18-4-8-4-2-10 5-5-1 0-2 5-4 10-2 2-4-1-10 2-2 5 0 5 6 1 14 6 9 1 13 7 16 1 4zM368 1182l-9-4 5-4 4 1 2 5zM658 1192l-4 1-2-1 2-4 5 0 1 2zM320 1225l-6-1-14-6 1-4 6-6 4-10 5 2 7 20zM400 1225l-4-1-1-2 0-4 3-3 5 3-1 4zM292 1224l-2-2 4-2zM718 1232l-4 0-4-3 0-5 2-3 4 0 3 3 1 4zM372 1244l-4 0-4-6-2-6 4-4 8-1 4 3-1 10zM266 1322l-6 0-7-8 1-12 4-8-5-10 1-21 10-5 4-7 12-2 6 2 2-5-6-6-1-2 3-3 4 0 14 5 12-5 2 1 0 4-8 8-2 6-1 12 2 18-3 8-6 0-10-10-20-8-3 16 4 10 5 4 4 0 10-3 4 9-4 3-14 3zM338 1250l-4-4-1-6 3-4 4 0 4 3 0 5-2 4zM318 1285l-5-3 0-6 9-9 4-7 6 0 2 4 0 6-8 9zM291 1270l0-6-3-3-1 9 3 2zM356 1280l-8 0-3-4-1-6 6-6 6 1 3 5 1 6zM404 1281l-7-5 1-4 4-1 4 3 0 4zM388 1292l-6 0-2-4-1-10 3-4 6 0 3 4 0 10zM430 1296l-4-2-1-6 8-8 5-1 1 5-7 12zM740 1312l-9-10 0-6 5-5 4 0 2 5 1 12zM334 1310l-9-4-1-4 8-4 4 0 1 4zM242 1306l-4 0-1-2 5-5 4-1zM408 1316l-4 1-4-1 0-7 2-1 5 2 2 2zM330 1358l-4 0 0-2 4-2zM318 1370l-6 1-3-1 7-3zM520 1442l-2 2-13-6-4-4-3-4 4-6-2-8-9-10 3-7 12 0 0-13-6-8 1-4 3-3 5 3 2 10 6 10 0 12 5 10-5 10 5 12zM466 1596l-12-6-8 0-3-2 1-4 8-6 0-4-16-4-8 3-9-7-3-9-18 1-5 6-3 10-6 3-4-3-4-19-4-2-6 0-1-1 4-10-1-8-4-2-10 2-11-6 1-6 6-8-6-8-1-4 0-4 6-12-3-4-10 2-2-10-7-4 2-2 5-1 3-5-2-8-9-8 0-4 4-5 6 3 9 24 5 7 6 2 10-2 4 4 0 3-8 4-1 4 5 21 12 6 10-3 8 2 5 6-1 12 18 1 8-5 12 2 6-7 6-4 6-11 4 0 9 12-1 14 11 6 0 2-8 2-1 10-9 8 3 16-1 10zM482 1488l-6 0-4-6 8-10 3-10 0-4-3-6-4-2-4 8-6 2-8 0-4-4 0-6 8-13 6 1 8 7 12-4 6 11 8-3 8 3 8 0-3 10-9 1-4 3-3 14zM522 1474l-2 1-2-3 0-4 2-1 3 3zM520 1569l-20-5-3-12 12-8 1-6 3-10-1-18 11-10-3-10 2-6 18-16 8 0 9 8 0 6-3 3-20 9-2 4 3 6 10 8-1 14 4 4 9 2 0 4-11 12-4-2-8-11-12-1-5 2-5 12 3 4 9 6 0 4zM448 1480l-6 1-1-1 9-8 4-1 0 5zM430 1512l-4-2 2-2 4 2zM736 1513l-2 0-2-1 2-3 3 1zM490 1523l-4-4 0-6 4 0 2 3 0 4zM444 1546l7-4 2-4-2-2-5-2-5 2-1 7zM360 1568l-4-1-1-3 3-7 4-1 1 8zM644 1582l-6 0-1-4 1-7 4-3 7 4 3 4zM410 1586l-10-4-6-8 2-2 8-1 10 0 12 4-10 9zM492 1590l-6 2-4-2-5-6 1-2 12-6 6 0 1 8zM594 1598l-4 0-12-8-1-4 6-2 13 6 2 4zM558 1603l-4 0-1-3 5-6 2 4zM480 1603l-7-1-4-4 11-2 2 4zM640 1618l-5-2 3-5 4 3zM506 1643l-5-1 1-6 4 2zM522 1656l-14 1-3-1-2-4 5-8 18 3 2 5z"/>
<path fill-rule="evenodd" fill="rgb(215,215,215)" d="M700 1148l-10 0-6-2-6-6-4-10-8-3-6-7-8 3-12-4-10 3-4-3-5-11-15-7-22-5-10 0-10-8 0-6 4-8-7-6-3-8 6-3 6 1 24 23 22 5 6 8 23 6 13 7 10 3 10 13 12 2 16 13-1 6zM484 1066l-4-4 2-4 5 4zM466 1106l-2-4 4-3 1 5zM746 1191l-4-4 0-10 4 2 2 3zM316 1220l-6 0-5-4 7-11 2-1 2 5 2 9zM716 1228l-4 0 1-4 4 2zM372 1240l-4 0-2-3-1-5 3-2 4 0 2 2zM340 1246l-3-2 1-4 4 2zM300 1289l-4-2-3-5 2-14-4-18 2-6 3-2 6 2 2 4-2 26 1 10zM280 1274l-6-4-2-4 2-6 4-2 4 12zM322 1278l-4 0 0-2 12-13 1 3 0 4zM260 1286l-3 0-2-4 3-18 4 2 1 4 0 12zM356 1276l-4 2-4-2-1-4 2-4 3-1 4 2zM386 1290l-4-2-1-4 1-6 2-1 3 1 2 4 0 6zM740 1304l-2 1-2-2 0-7 2-1 2 3zM262 1320l-4-2-3-6 2-8 3-5 4-1 8 8 12 2-3 4-9 2zM506 1380l-4-2 2-5 4 3zM512 1396l-2-3 0-4 4 3 0 3zM502 1410l-5-2-1-4 4-1 2 2zM512 1436l-4-1-3-3 2-6-3-8 0-7 10 2 3 3-4 10 2 8zM336 1449l-4-2 0-4 3 1zM482 1486l-5 0-2-4 6-6 7-21 16 0 1 3-6 8-1 12zM458 1570l-4 1-8-3-1-2 0-6-5-5-12 4-6-6-4-1-8 4-12 1-4 3-8 11-4 0-2-3-2-14-6-6-2-16-6-2-12 1-6-5 8-14-7-6-2-6 7-16-2-5-11-3-1-6 2-6 2-1 8 12 7 5 6 18 0 10 9 4 6 6 12-7 9 5 1 6-6 8 0 2 14 3 6 7 12-10 6 0 4 2 3 12 3 3 16-8 8 2 2 5-2 4-9 6zM528 1492l-2 0-1-2 15-19 6-1 7 4 2 6-3 4zM528 1532l-11-2-3-16 2-5 12-8 13 11 1 4-2 5-6 4-1 5zM452 1530l-6 0-1-2 1-3 7-3 5-8 4 1 3 5-1 3zM531 1522l-5-5-6 3 4 2zM544 1540l-4-4 2-5 6 5zM520 1564l-18-2-2-2 0-6 4-3 4 0 12 7 1 2zM644 1578l-3-2 1-4 4 2zM488 1590l-5-2-1-4 4-4 6-1 2 3 0 4zM520 1654l-10 1-3-1 0-2 5-4 11 2 1 2z"/>
<path fill-rule="evenodd" fill="rgb(231,231,231)" d="M652 1118l-4 1-10-2-8 2-8-13-14-9-12 0-10-4-10 1-4-2-6-6 5-10 0-4-7-5-2-5 4-3 6 2 8 6 12 15 21 6 7 9 10-1 18 6 5 4 3 6zM696 1146l-8-1-6-4-3-7 2-6 5-3 4 1 12 12 0 5zM314 1216l-2 1-3-1 3-5zM300 1260l-2 0-3-6 1-7 4 1 1 2zM264 1316l-4-1-2-3 1-6 3-3 4 1 4 6zM492 1480l-8 0-1-2 5-16 6-3 4 3-1 12-1 4zM536 1488l-3-2 0-2 7-10 6-2 4 2 2 4-1 4zM358 1507l-8-2-3-5 1-5 6-7 4 3 3 7-1 6zM536 1518l-10-5-7 1-1-2 3-4 7-3 10 8 0 3zM372 1528l-18 1-4-1-1-4 9-12 4-2 8 3 5 5 0 6zM394 1526l-8 1-3-3 1-6 4-4 6 0 4 4 0 4zM386 1566l-4-1-3-17-4-8 0-6 5-3 4 1 6 4 14 1 8 13-4 3-12 3zM432 1553l-5-1-6-6 3-6 6-5 4 2 2 9 0 4zM454 1554l-6 1-3-3 11-6 6 0 0 4zM506 1560l-3-2 1-3 5 3zM454 1567l-3-1 1-3 3 1zM490 1587l-4-1-1-2 5-2 2 2z"/>
<path fill-rule="evenodd" fill="rgb(247,247,247)" d="M602 1094l-6 0-10-5-10 1-5-2-1-4 4-8 0-9 6 3 10 14 13 4 2 4zM650 1115l-20-1-7-10 0-4 7-2 18 5 5 7zM698 1142l-8 1-5-1-4-6 2-6 3-3 6 2 7 9zM492 1478l-4 0-2-4 2-7 4-4 2 2 1 9zM544 1484l-6 0-1-2 5-6 4-1 3 5zM356 1504l-4-1-3-3 1-4 4-4 4 3 1 5zM370 1526l-14 2-4-2 0-2 6-9 6-2 5 1 4 4 0 4zM392 1524l-6-2 1-4 3-3 6 3 0 4zM386 1563l-3-1-1-6 2-11 4-3 14-1 2 7-1 2zM432 1546l-2 1-1-1 1-5 2 1z"/></g></g><g clip-path="url(#cinc)"><g filter="url(#fci)"><use href="#fldc"/></g></g><path filter="url(#roughc)" d="M421.2 1185.5L430.3 1190.1L444.0 1181.0L462.3 1171.8L480.5 1167.3L501.1 1165.0L523.9 1165.0L546.7 1165.0L565.0 1169.6L578.7 1176.4L583.3 1190.1L599.2 1199.2L615.2 1208.4L631.2 1222.1L644.9 1235.8L656.3 1254.0L665.4 1272.3L672.3 1288.3L674.6 1302.0L683.7 1311.1L690.6 1324.8L692.8 1343.1L686.0 1361.3L681.4 1379.6L674.6 1397.9L665.4 1416.1L660.9 1434.4L654.0 1450.4L644.9 1461.8L635.8 1473.2L624.4 1484.6L610.7 1498.3L594.7 1509.7L581.0 1521.2L565.0 1528.0L549.0 1530.3L530.7 1530.3L512.5 1528.0L494.2 1525.7L475.9 1523.4L457.7 1521.2L439.4 1518.9L425.7 1514.3L414.3 1502.9L405.2 1491.5L398.3 1477.8L393.8 1461.8L386.9 1445.8L380.1 1429.8L374.4 1413.9L370.9 1395.6L367.5 1377.3L365.2 1359.1L362.9 1340.8L361.8 1322.5L362.9 1304.3L367.5 1288.3L368.6 1272.3L369.8 1256.3L373.2 1242.6L382.3 1228.9L391.5 1215.2L402.9 1201.5L412.0 1192.4Z" fill="#fff"/><text x="520.0" y="1563.9" font-size="27" fill="#000" font-family="'Liberation Sans',Arial,Helvetica,sans-serif">60<tspan font-size="20.5" dx="1.2" dy="-11">o</tspan><tspan dx="1.6" dy="11">S</tspan></text>
<text x="515.0" y="1700.9" font-size="27" fill="#000" font-family="'Liberation Sans',Arial,Helvetica,sans-serif">40<tspan font-size="20.5" dx="1.2" dy="-11">o</tspan><tspan dx="1.6" dy="11">S</tspan></text>
<path d="M373.3 1271.1L375.8 1279.7L374.1 1286.5L377.5 1295.1L382.7 1301.9L384.4 1307.9L391.2 1306.2L399.8 1307.1L408.4 1308.8L416.9 1313.1L425.5 1318.2L430.6 1324.2L434.9 1331.0L437.5 1324.2L446.0 1320.8L454.6 1319.1L461.5 1314.8L464.9 1305.4L466.6 1295.1L468.3 1284.8L470.9 1274.5L476.9 1266.0L482.9 1258.3L482.9 1253.1L488.8 1250.6L494.0 1248.8L499.1 1246.3L504.3 1246.3L506.0 1249.7L512.8 1246.3L521.4 1244.6L529.9 1245.4L538.5 1248.0L547.1 1251.4L555.6 1255.7L564.2 1257.4L572.8 1259.1L577.9 1256.6L580.5 1260.8L581.3 1266.0L588.2 1266.0L596.7 1266.0L603.6 1268.5L610.4 1272.8L613.8 1274.5L620.7 1273.7L625.8 1278.0L627.5 1284.8L626.7 1291.7L628.4 1300.2L631.0 1308.8L632.7 1317.3L627.5 1321.6L620.7 1324.2L624.1 1331.0L631.0 1334.5L637.8 1341.3L643.0 1349.9L647.2 1358.4L649.0 1368.7L648.1 1379.0L649.8 1389.3L648.1 1399.5L644.7 1408.1L641.2 1416.7L637.8 1425.2L631.0 1432.1L627.5 1440.6L623.3 1449.2L617.3 1454.3L613.8 1462.9L605.3 1469.7L596.7 1473.2L588.2 1476.6L579.6 1478.3L571.0 1479.2L562.5 1480.9L553.9 1480.9L545.4 1479.2L536.8 1478.3L528.2 1476.6L524.0 1471.4L526.5 1462.9L529.9 1454.3L530.8 1445.8L526.5 1438.9L521.4 1433.8L526.5 1426.9L525.7 1420.1L521.4 1413.2L514.5 1406.4L507.7 1401.2L500.8 1394.4L494.0 1389.3L491.4 1392.7L490.6 1399.5L487.1 1408.1L480.3 1411.5L476.9 1413.2L480.3 1420.1L482.0 1426.9L479.4 1435.5L475.2 1436.3L470.0 1432.1L466.6 1434.6L461.5 1435.5L456.3 1432.9L449.5 1431.2L442.6 1428.6L439.2 1423.5L440.0 1417.5L434.1 1416.7L427.2 1418.4L422.1 1420.1L420.4 1413.2L418.6 1408.1L423.8 1404.7L420.4 1399.5L416.1 1397.8L416.9 1392.7L411.8 1387.5L406.7 1382.4L401.5 1384.1L398.1 1379.0L399.8 1372.1L402.4 1363.6L403.2 1355.0L402.4 1346.4L404.9 1337.9L408.4 1332.8L410.1 1327.6L404.9 1324.2L399.8 1325.9L401.5 1332.8L396.4 1336.2L389.5 1332.8L386.1 1325.9L387.8 1320.8L382.7 1315.6L377.5 1313.9L375.8 1308.8L372.4 1300.2L367.3 1295.1L369.0 1286.5L367.3 1279.7L369.8 1272.8ZM205.2 1111.9L208.6 1113.0L210.9 1124.4L215.4 1140.4L218.9 1158.7L212.0 1171.2L218.9 1172.4L225.7 1179.2L228.0 1192.9L225.7 1206.6L230.3 1215.7L234.9 1227.2L241.7 1234.0L246.3 1247.7L253.1 1255.7L262.3 1253.4L269.1 1256.8L273.7 1266.0L280.5 1272.8L289.6 1277.4L303.3 1277.4L311.3 1274.0L313.6 1283.1L305.6 1291.1L294.2 1297.9L280.5 1302.5L266.8 1304.8L248.6 1300.2L234.9 1293.4L228.0 1288.8L216.6 1284.2L202.9 1279.7L186.9 1275.1L173.2 1268.3L161.8 1256.8L148.1 1246.6L132.1 1242.0L84.2 1238.6L84.2 1078.8L175.5 1078.8ZM621.2 987.4L622.3 1005.7L618.9 1014.8L623.4 1026.2L630.3 1032.0L639.4 1029.7L648.6 1033.1L662.3 1038.8L675.9 1039.9L689.6 1036.5L701.1 1032.0L709.1 1028.5L735.3 1010.3L689.6 964.6L621.2 953.2ZM863.2 1531.3L849.5 1524.4L838.1 1522.1L833.5 1516.4L824.4 1519.9L818.6 1529.0L817.5 1542.7L812.9 1554.1L809.5 1567.8L810.7 1583.8L803.8 1595.2L797.0 1606.6L790.1 1615.7L776.4 1620.3L762.7 1621.4L753.6 1619.2L746.7 1616.9L739.9 1622.6L726.2 1623.7L712.5 1621.4L701.1 1624.9L689.6 1631.7L682.8 1640.9L675.9 1654.6L677.1 1670.5L679.4 1688.8L680.5 1702.5L681.7 1716.2L689.6 1752.7L826.6 1752.7L907.0 1592.9ZM664.5 1607.8L675.9 1610.0L687.4 1616.9L687.4 1622.6L680.5 1624.9L678.2 1631.7L674.8 1637.4L670.2 1634.0L666.8 1622.6L662.3 1614.6ZM562.9 1623.7L570.9 1630.6L573.2 1638.6L568.6 1647.7L564.1 1659.1L556.1 1670.5L550.4 1677.4L541.2 1678.5L539.0 1684.2L536.7 1693.4L540.1 1702.5L543.5 1709.3L550.4 1717.3L551.5 1720.8L545.8 1719.6L539.0 1713.9L534.4 1707.1L528.7 1702.5L520.7 1702.5L515.0 1700.2L513.8 1693.4L518.4 1686.5L523.0 1682.0L527.5 1675.1L532.1 1668.3L537.8 1659.1L543.5 1650.0L548.1 1638.6L552.7 1629.4L558.4 1624.9ZM297.6 1239.7L303.3 1236.3L309.1 1238.6L309.1 1245.4L305.6 1250.0L299.9 1251.1L296.5 1246.6ZM737.6 1272.8L743.3 1270.5L749.0 1274.0L749.0 1279.7L744.4 1283.1L738.7 1280.8ZM375.8 1238.6L381.0 1237.7L380.1 1241.1L376.7 1242.0ZM361.3 1273.7L363.5 1273.7L363.8 1283.1L361.8 1283.1ZM484.6 1420.1L488.8 1419.2L490.6 1424.4L488.8 1429.5L485.4 1429.5ZM519.7 1437.2L524.8 1435.5L525.7 1439.8L521.4 1440.6ZM375.9 1237.7L381.0 1237.7L378.7 1241.3ZM487.1 1653.4L490.6 1652.7L491.7 1656.4L486.5 1656.4Z" fill="#000"/>
<line x1="496.6" y1="1423.7" x2="512.0" y2="1424.4" stroke="#000" stroke-width="1.6"/>
<line x1="369.6" y1="1188.8" x2="379.8" y2="1190.6" stroke="#000" stroke-width="1.6"/>
<line x1="483.7" y1="1682.0" x2="499.7" y2="1682.4" stroke="#000" stroke-width="1.6"/>
<path d="M510.4 1032.8L517.3 1032.2L524.1 1032.2L531.0 1032.8L537.8 1034.2L544.7 1036.5L551.5 1039.7L558.4 1043.7L564.6 1048.2L570.4 1053.4L576.6 1058.8L583.5 1064.5L590.9 1069.6L598.9 1074.2L607.5 1078.5L616.6 1082.5L624.6 1085.6L631.4 1087.9L638.3 1090.7L645.1 1094.2L653.1 1098.2L662.3 1102.7L671.4 1107.6L680.5 1112.7L689.1 1117.6L697.1 1122.1L705.1 1127.8L713.1 1134.7L721.0 1141.5L729.0 1148.4L735.9 1154.1L741.6 1158.7L746.2 1163.2L749.6 1167.8L752.7 1173.5L755.6 1180.4L757.9 1187.2L759.6 1194.1L761.0 1200.9L762.1 1207.8L763.8 1214.0L766.1 1219.7L768.4 1224.9L770.7 1229.4L773.6 1232.6L777.0 1234.3L780.4 1235.4L783.8 1236.0L786.7 1237.7L789.0 1240.6L791.2 1244.6L793.5 1249.7L797.0 1255.1L801.5 1260.8L806.1 1267.7L810.7 1275.7L814.6 1283.1L818.1 1289.9L821.2 1296.8L824.1 1303.6L826.6 1311.6L828.9 1320.8L831.2 1329.9L833.5 1339.0L835.5 1348.8L837.2 1359.3L838.6 1369.2L839.8 1378.3L840.6 1387.4L841.2 1396.6L841.2 1405.7L840.6 1414.8L839.2 1422.8L836.9 1429.7L834.6 1436.5L832.3 1443.4L829.5 1450.8L826.1 1458.8L822.1 1466.8L817.5 1474.8L812.9 1482.8L808.4 1490.7L804.4 1498.7L800.9 1506.7L797.0 1515.3L792.4 1524.4L787.3 1533.5L781.5 1542.7L775.3 1551.8L768.4 1560.9L761.0 1569.5L753.0 1577.5L745.0 1584.9L737.0 1591.8L729.0 1597.5L721.0 1602.0L713.1 1606.0L705.1 1609.5L698.2 1611.7L692.5 1612.9L687.4 1613.2L682.8 1612.6L678.2 1611.2L673.7 1608.9L669.7 1608.0L666.2 1608.6L663.4 1610.0L661.1 1612.3L658.3 1615.7L654.8 1620.3L650.8 1624.9L646.3 1629.4L641.7 1633.2L637.1 1636.0L631.4 1638.0L624.6 1639.1L617.7 1641.1L610.9 1644.0L604.0 1647.1L597.2 1650.6L590.3 1653.1L583.5 1654.8L577.8 1655.1L573.2 1654.0L570.1 1652.0L568.4 1649.1L563.8 1649.4L556.4 1652.8L547.0 1658.0L535.5 1664.8L528.7 1666.8L526.4 1664.0L523.0 1662.0L518.4 1660.8L513.8 1660.0L509.3 1659.4L501.7 1659.4L491.2 1660.0L483.1 1659.7L477.4 1658.5L471.7 1658.5L466.0 1659.7L459.7 1661.4L452.9 1663.7L443.8 1664.5L432.3 1664.0L420.9 1662.8L409.5 1661.1L398.1 1658.3L386.7 1654.3L375.3 1649.7L363.8 1644.6L352.4 1639.4L341.0 1634.3L329.6 1628.3L318.2 1621.4L307.3 1614.0L297.1 1606.0L287.4 1597.5L278.2 1588.3L269.7 1579.2L261.7 1570.1L254.3 1560.9L247.4 1551.8L240.6 1542.1L233.7 1531.8L227.4 1521.6L221.7 1511.3L216.9 1501.6L212.9 1492.5L210.0 1484.5L208.3 1477.6L205.7 1469.6L202.3 1460.5L198.9 1451.4L195.5 1442.2L192.6 1433.1L190.3 1424.0L188.3 1414.8L186.6 1405.7L185.5 1396.6L184.9 1387.4L184.9 1378.3L185.5 1369.2L186.1 1364.6L186.6 1364.6L187.2 1358.8L187.8 1347.1L188.6 1335.6L189.8 1324.2L190.9 1312.8L192.0 1301.4L192.0 1292.8L190.9 1287.1L188.3 1282.0L184.3 1277.4L178.9 1272.2L172.1 1266.5L176.1 1260.3L190.9 1253.4L207.5 1243.1L225.7 1229.4L235.7 1221.4L237.4 1219.2L237.7 1215.2L236.6 1209.5L234.9 1202.0L232.6 1192.9L230.9 1184.3L229.7 1176.4L229.7 1171.5L230.9 1169.8L234.6 1170.4L240.8 1173.2L248.6 1177.8L257.7 1184.1L264.0 1187.8L267.4 1188.9L270.8 1186.3L274.2 1180.1L277.1 1171.2L279.4 1159.8L281.7 1150.7L283.9 1143.8L289.6 1137.0L298.8 1130.1L307.9 1123.3L317.0 1116.4L322.8 1110.7L325.0 1106.2L329.0 1102.7L334.7 1100.4L341.6 1097.0L349.6 1092.5L359.3 1086.2L370.7 1078.2L382.1 1070.8L393.5 1063.9L404.9 1058.2L416.4 1053.6L427.2 1049.1L437.5 1044.5L447.8 1040.5L458.0 1037.1L468.3 1034.2L478.6 1032.0L489.5 1031.4L501.2 1032.5L507.0 1033.1L507.0 1033.1ZM510.4 1115.0L517.3 1114.4L524.1 1114.7L531.0 1115.9L537.3 1116.7L543.0 1117.3L548.4 1117.0L553.5 1115.9L558.1 1116.7L562.1 1119.6L566.9 1122.1L572.6 1124.4L578.9 1125.6L585.8 1125.6L592.6 1126.4L599.5 1128.1L605.7 1130.4L611.5 1133.3L616.0 1135.8L619.4 1138.1L622.3 1141.3L624.6 1145.3L627.1 1148.7L630.0 1151.5L634.0 1153.2L639.1 1153.8L643.4 1155.8L646.8 1159.2L650.8 1162.4L655.4 1165.2L660.0 1167.8L664.5 1170.1L668.5 1172.9L672.0 1176.4L674.5 1179.8L676.2 1183.2L678.8 1186.3L682.2 1189.2L684.8 1192.3L686.5 1195.8L687.7 1199.8L688.2 1204.3L689.9 1208.0L692.8 1210.9L695.9 1214.3L699.4 1218.3L702.8 1222.6L706.2 1227.2L709.1 1231.7L711.3 1236.3L712.8 1240.9L713.3 1245.4L715.0 1249.4L717.9 1252.8L719.9 1256.3L721.0 1259.7L723.3 1262.5L726.7 1264.8L729.6 1267.1L731.9 1269.4L734.2 1271.4L736.5 1273.1L739.9 1276.5L744.4 1281.7L747.3 1287.1L748.4 1292.8L748.4 1299.6L747.3 1307.6L746.2 1315.1L745.0 1321.9L744.7 1328.8L745.3 1335.6L744.2 1342.5L741.3 1349.3L739.3 1355.7L738.2 1361.6L737.9 1368.0L738.4 1374.9L738.4 1381.7L737.9 1388.6L736.5 1395.4L734.2 1402.3L732.7 1409.7L732.2 1417.7L731.3 1426.2L730.2 1435.4L729.3 1443.9L728.7 1451.9L727.9 1458.2L726.7 1462.8L723.9 1464.8L719.3 1464.2L714.8 1463.1L710.2 1461.3L706.2 1461.3L702.8 1463.1L699.9 1465.9L697.6 1469.9L694.2 1474.2L689.6 1478.8L684.5 1483.6L678.8 1488.7L673.1 1493.6L667.4 1498.2L662.3 1502.4L657.7 1506.4L653.1 1511.3L648.6 1517.0L645.7 1522.7L644.6 1528.4L643.4 1534.1L642.3 1539.8L638.8 1543.8L633.1 1546.1L627.4 1547.0L621.7 1546.4L616.0 1545.8L610.3 1545.3L605.2 1546.1L600.6 1548.4L595.5 1549.8L589.8 1550.4L584.6 1551.5L580.1 1553.2L575.5 1553.0L570.9 1550.7L564.6 1548.4L556.7 1546.1L549.8 1544.4L544.1 1543.3L538.4 1542.1L532.7 1541.0L527.0 1541.5L521.3 1543.8L515.6 1545.5L509.9 1546.7L502.9 1547.5L494.7 1548.1L486.0 1548.7L476.9 1549.2L467.7 1549.8L458.6 1550.4L450.6 1551.5L443.8 1553.2L436.9 1553.2L430.1 1551.5L422.1 1550.1L412.9 1549.0L404.9 1547.5L398.1 1545.8L392.4 1543.3L387.8 1539.8L383.8 1535.3L380.4 1529.6L377.0 1523.8L373.6 1518.1L369.6 1514.1L365.0 1511.9L362.1 1507.9L361.0 1502.2L359.3 1495.9L357.0 1489.0L354.1 1482.2L350.7 1475.3L347.3 1468.5L343.9 1461.6L341.0 1454.2L338.7 1446.2L336.2 1438.2L333.3 1430.2L331.3 1422.8L330.2 1416.0L330.5 1409.1L332.2 1402.3L332.7 1394.9L332.2 1386.9L331.3 1378.3L330.2 1369.2L329.0 1364.6L327.9 1364.6L328.5 1360.5L330.7 1352.3L332.7 1343.6L334.5 1334.5L335.9 1326.5L337.0 1319.6L336.7 1313.9L335.0 1309.3L333.6 1303.1L332.5 1295.1L332.2 1286.5L332.7 1277.4L333.9 1268.3L335.6 1259.1L337.9 1250.6L340.7 1242.6L343.0 1235.1L344.7 1228.3L345.3 1221.4L344.7 1214.6L343.0 1209.7L340.2 1206.9L340.2 1203.5L343.0 1199.5L344.7 1194.1L345.3 1187.2L345.9 1181.2L346.4 1176.1L350.7 1172.9L358.7 1171.8L365.0 1168.7L369.6 1163.5L375.8 1159.2L383.8 1155.8L391.8 1153.0L399.8 1150.7L408.4 1147.8L417.5 1144.4L424.9 1140.4L430.6 1135.8L436.3 1131.3L442.0 1126.7L448.3 1122.7L455.2 1119.3L460.9 1115.3L465.4 1110.7L469.2 1107.0L472.0 1104.2L475.4 1104.7L479.4 1108.7L484.9 1111.3L491.7 1112.4L498.1 1113.3L504.0 1113.9L507.0 1114.4L507.0 1115.0Z" fill="none" stroke="#000" stroke-width="4.4" stroke-linejoin="round"/></g>
<circle cx="507.0" cy="1364.6" r="394.3" fill="none" stroke="#000" stroke-width="2"/>
<line x1="507.00" y1="970.30" x2="507.00" y2="961.80" stroke="#000" stroke-width="2"/>
<text transform="translate(507.00,955.60) rotate(0)" text-anchor="middle" font-size="27" fill="#000" font-family="'Liberation Sans',Arial,Helvetica,sans-serif">0<tspan font-size="20.5" dx="1.2" dy="-11">o</tspan><tspan dx="1.6" dy="11"></tspan></text>
<line x1="704.15" y1="1023.13" x2="708.40" y2="1015.76" stroke="#000" stroke-width="2"/>
<text transform="translate(711.50,1010.40) rotate(30)" text-anchor="middle" font-size="27" fill="#000" font-family="'Liberation Sans',Arial,Helvetica,sans-serif">30<tspan font-size="20.5" dx="1.2" dy="-11">o</tspan><tspan dx="1.6" dy="11">E</tspan></text>
<line x1="848.47" y1="1167.45" x2="855.84" y2="1163.20" stroke="#000" stroke-width="2"/>
<text transform="translate(861.20,1160.10) rotate(60)" text-anchor="middle" font-size="27" fill="#000" font-family="'Liberation Sans',Arial,Helvetica,sans-serif">60<tspan font-size="20.5" dx="1.2" dy="-11">o</tspan><tspan dx="1.6" dy="11">E</tspan></text>
<line x1="901.30" y1="1364.60" x2="909.80" y2="1364.60" stroke="#000" stroke-width="2"/>
<text transform="translate(916.00,1364.60) rotate(90)" text-anchor="middle" font-size="27" fill="#000" font-family="'Liberation Sans',Arial,Helvetica,sans-serif">90<tspan font-size="20.5" dx="1.2" dy="-11">o</tspan><tspan dx="1.6" dy="11">E</tspan></text>
<line x1="848.47" y1="1561.75" x2="855.84" y2="1566.00" stroke="#000" stroke-width="2"/>
<text transform="translate(883.11,1581.75) rotate(-60)" text-anchor="middle" font-size="27" fill="#000" font-family="'Liberation Sans',Arial,Helvetica,sans-serif">120<tspan font-size="20.5" dx="1.2" dy="-11">o</tspan><tspan dx="1.6" dy="11">E</tspan></text>
<line x1="704.15" y1="1706.07" x2="708.40" y2="1713.44" stroke="#000" stroke-width="2"/>
<text transform="translate(724.15,1740.71) rotate(-30)" text-anchor="middle" font-size="27" fill="#000" font-family="'Liberation Sans',Arial,Helvetica,sans-serif">150<tspan font-size="20.5" dx="1.2" dy="-11">o</tspan><tspan dx="1.6" dy="11">E</tspan></text>
<line x1="507.00" y1="1758.90" x2="507.00" y2="1767.40" stroke="#000" stroke-width="2"/>
<text transform="translate(507.00,1798.90) rotate(0)" text-anchor="middle" font-size="27" fill="#000" font-family="'Liberation Sans',Arial,Helvetica,sans-serif">180<tspan font-size="20.5" dx="1.2" dy="-11">o</tspan><tspan dx="1.6" dy="11">W</tspan></text>
<line x1="309.85" y1="1706.07" x2="305.60" y2="1713.44" stroke="#000" stroke-width="2"/>
<text transform="translate(289.85,1740.71) rotate(30)" text-anchor="middle" font-size="27" fill="#000" font-family="'Liberation Sans',Arial,Helvetica,sans-serif">150<tspan font-size="20.5" dx="1.2" dy="-11">o</tspan><tspan dx="1.6" dy="11">W</tspan></text>
<line x1="165.53" y1="1561.75" x2="158.16" y2="1566.00" stroke="#000" stroke-width="2"/>
<text transform="translate(130.89,1581.75) rotate(60)" text-anchor="middle" font-size="27" fill="#000" font-family="'Liberation Sans',Arial,Helvetica,sans-serif">120<tspan font-size="20.5" dx="1.2" dy="-11">o</tspan><tspan dx="1.6" dy="11">W</tspan></text>
<line x1="112.70" y1="1364.60" x2="104.20" y2="1364.60" stroke="#000" stroke-width="2"/>
<text transform="translate(98.00,1364.60) rotate(-90)" text-anchor="middle" font-size="27" fill="#000" font-family="'Liberation Sans',Arial,Helvetica,sans-serif">90<tspan font-size="20.5" dx="1.2" dy="-11">o</tspan><tspan dx="1.6" dy="11">W</tspan></text>
<line x1="165.53" y1="1167.45" x2="158.16" y2="1163.20" stroke="#000" stroke-width="2"/>
<text transform="translate(152.80,1160.10) rotate(-60)" text-anchor="middle" font-size="27" fill="#000" font-family="'Liberation Sans',Arial,Helvetica,sans-serif">60<tspan font-size="20.5" dx="1.2" dy="-11">o</tspan><tspan dx="1.6" dy="11">W</tspan></text>
<line x1="309.85" y1="1023.13" x2="305.60" y2="1015.76" stroke="#000" stroke-width="2"/>
<text transform="translate(302.50,1010.40) rotate(-30)" text-anchor="middle" font-size="27" fill="#000" font-family="'Liberation Sans',Arial,Helvetica,sans-serif">30<tspan font-size="20.5" dx="1.2" dy="-11">o</tspan><tspan dx="1.6" dy="11">W</tspan></text>
<text x="512.8" y="1374.6" text-anchor="middle" font-size="45" font-weight="bold" fill="#fff" font-family="'Liberation Sans',Arial,Helvetica,sans-serif">MHW</text>
</g>
<g id="panel-d">
<clipPath id="clip-d"><circle cx="1453.2" cy="1364.6" r="394.3"/></clipPath>
<g clip-path="url(#clip-d)"><g filter="url(#fdo)"><g id="fldd"><rect x="1053" y="965" width="800" height="800" fill="rgb(8,8,8)"/>
<path fill-rule="evenodd" fill="rgb(24,24,24)" d="M1852 1764l-798 0 0-798 798 0z"/>
<path fill-rule="evenodd" fill="rgb(40,40,40)" d="M1852 1764l-798 0 0-798 798 0z"/>
<path fill-rule="evenodd" fill="rgb(56,56,56)" d="M1852 1764l-798 0 0-798 798 0z"/>
<path fill-rule="evenodd" fill="rgb(72,72,72)" d="M1852 1764l-798 0 0-798 798 0zM1573 1094l-5-4-2 2 4 3zM1274 1220l3-6-5-3-2 3 0 4 2 2zM1724 1224l0-5-4-2-2 1 1 6zM1245 1294l3-2 1-2-3-4-4-2-4 6 2 3zM1689 1298l0-6-3-2-2 0-2 6 4 2zM1195 1352l2-4-3-5-2 1 0 4zM1393 1546l0-4-3-3-7 1-1 2 4 4 4 1zM1383 1650l3-4 0-3-4 0-2 3 0 3zM1487 1656l3-4-2-4-5 2-2 4 1 2z"/>
<path fill-rule="evenodd" fill="rgb(88,88,88)" d="M1852 1764l-798 0 0-798 798 0zM1438 1066l0-2-2-3-1 3zM1527 1074l1-4-1-4-3-4-4 0-2 2 1 6 5 5zM1577 1098l0-4-4-4-7-3-4 1 1 4 5 4 4 2zM1357 1118l3-8-2-6-11 12 5 3zM1273 1226l6-4 3-8-2-4-10-5-3 7-1 10 2 4zM1726 1226l2-2-1-4-5-5-4 0-2 5 2 6zM1239 1268l2-2 0-4-7-2 0 6zM1264 1266l-2-5-3 1 1 4 2 1zM1653 1270l-3-4-3 2 1 2zM1264 1284l0-4-2-1-2 5zM1250 1296l3-4-2-4-7-7-6 1-4 6 1 6 5 2zM1691 1300l1-4-2-6-4-2-4 1-2 5 0 4 6 3zM1676 1310l-2-8-10-7-4 0 0 7 2 4 10 5zM1687 1328l0-10-3-1-1 5 3 7zM1197 1356l2-4 0-8-5-6-4 0-2 6 2 8 3 4zM1771 1398l1-2-2-2-4 2 0 2 2 1zM1140 1446l1-4-3-6-2-1-1 7 3 4zM1760 1456l2-2 0-3-4 0-3 3 1 2zM1407 1478l1-4-1-2-3-1-2 5 2 2zM1438 1478l0-4-4-1 1 5zM1417 1522l2-4 2-12 5-8-2-4-6 2-1 10-8 12 1 5zM1694 1506l-1-4-5 1 2 3zM1329 1518l-1-6-8-5-1 3 2 6 3 2zM1397 1548l7-4-6-2-7-8 6-12-3-3-6 3 0 10-6 3-10 2-2 5 2 3 8 0 8 4zM1684 1534l3-4-5-3-4 5 2 2zM1342 1536l-2-4-4-2 2 6 2 1zM1659 1566l-3-4-2 2 2 2zM1443 1596l2-6-3-3-2 5 2 5zM1528 1614l2-2 0-4-2-4-4 0-2 8 2 2zM1380 1620l-4-7 0 6 2 2zM1411 1628l2-6-3-3-4 1-3 4 1 3 2 2zM1299 1634l-5-4 0 4 2 1zM1385 1652l7-10-1-4-3-2-8 4-3 6 0 4 3 3zM1481 1660l6-2 4-4 2-4-3-4-16 2-5 4 0 2 3 4z"/>
<path fill-rule="evenodd" fill="rgb(104,104,104)" d="M1852 1764l-798 0 0-798 798 0zM1425 1048l2-4-1-4-4-2-6 4 2 5zM1486 1046l0-6-6 0 0 6zM1442 1072l2-4-4-8-4-5-4 1-1 16 3 1zM1539 1088l0-4-7-7-6-15-6-2-6 2 2 6 8 16 8 4zM1425 1088l0-8-3-1-4 3-2 4 4 3zM1582 1100l-2-6-8-6-12-4-4 2 14 14 8 1zM1501 1092l-1-5-5 1 1 4zM1357 1122l6-8 3-14 8 3 4-1 3-4-1-4-12-5-6 1-18 19-6 11 0 2zM1328 1112l-2-4-3 0 0 4 3 1zM1547 1114l-1-2-4 0 2 2zM1644 1134l2-4-2-4-4-2-4 1-1 3 3 5zM1611 1140l-1-5-4 0 0 5 2 1zM1252 1154l9-4 1-4-4-4-6 0-4 2 1 8zM1263 1194l1-6-2-6-7-2-5-10-8-2-2 4 0 4 14 5 1 11 7 3zM1275 1176l3-4-4-3-5 3-2 4zM1679 1190l2-2-1-4-6 0-2 4 1 2zM1271 1230l10-6 6-10-5-7-18-9-1 30 3 3zM1250 1216l2-2-2-4-4-1-3 5 1 2zM1725 1228l6-4-6-8-7-4-4 6 1 8 3 2zM1643 1222l-3-4-2 0 0 4 2 1zM1223 1244l2-4-3-8 4-4 12 9 7-1 1-4-8-10-10 2-8-2-2 4 2 6-4 5 0 5 2 2zM1198 1248l1-2-1-3-3 5zM1252 1298l6-8 8-4 2-6 1-16-1-4-7-6 3-8-2-1-2 1-1 6-6 8 8 14-5 9-4 1-8-7-4-1-11 14 1 4 6 5zM1240 1272l6-10-8-5-6 1-3 4 0 2 5 6zM1658 1274l1-8-3-4-8 0-5 4 0 4 5 5zM1750 1276l2-2 1-6-3-3-4 0-1 3 0 4zM1199 1280l-1-3-6-3-7 0-1 2 2 1zM1681 1354l4-4 4-12 0-22-1-4-8-2 0-4 2-3 8 0 3-5-2-8-5-4-5 2-7 9-4-1-8-7-5 3-1 4 4 12 20 15 2 13-7 8-1 4 1 4zM1210 1304l2-3-4 0-1 3zM1767 1320l3-4-1-4-7-3-2 11 4 1zM1273 1322l2-4-3-3-5 5 1 2zM1202 1358l-2-16-8-10-2-11-4 0-2 5 4 6-2 12 2 10 6 5zM1174 1360l2-4-4-2-2 4 1 2zM1211 1362l-1-3-3 1 1 2zM1742 1390l5-4 5-15-2-1-14 14 0 4zM1770 1402l11-2 1-6-10-3-6 1-3 4 1 4 2 2zM1673 1408l-1-4-4 2 2 2zM1191 1422l1-5-4 0-4 3 0 2 2 1zM1433 1438l7-8-1-4-3-2-6 1-4 5 4 9zM1672 1440l1-4-3-5-4-3-4 0-1 2 8 10 1 1zM1143 1448l-2-10-3-6-4-2-2 10 2 8 6 2zM1757 1460l8-4 9-10 1-4-23 9-3 9zM1397 1550l8-2 8-8 2-10 7-8 3-14 9-10-4-7-12-2-5-3-2-6 3-9 2-1 12 6 8 10 4 0 2-2-2-15-2-2-18-4-3-9-5-4-7 4 3 10-7 6-2 4 5 12 0 9 8 6-1 5-14 8-11 4-6 14-10 0-6-5-1 3 5 16 20 5zM1710 1486l4-6-1-4-3-2-4 2-1 4 1 5zM1182 1488l4-4-1-4-3-1-3 5zM1332 1520l2-6-9-8 0-4 3-8-1-4-3-1-4 2-3 5-1 14 3 6 5 4 4 1zM1696 1510l6-4-2-5-8-3-7 2-2 4 3 4 4 2zM1687 1536l3-4 0-4-4-4-4-1-5 5-3 6 4 2zM1351 1544l7-4-2-4-8-1-10-8-4 0-1 5 3 5zM1400 1536l-2-4 4-3 1 5zM1438 1548l-4-11-4-2-4 3-1 4 3 6 4 1zM1458 1568l12-12 8-5 1-5-3-1-8 4-12 1-1 2zM1621 1552l1-2-2-3-5 3 1 3zM1567 1576l5-6-4-15-6-3-3 2 3 10-4 8 4 4zM1659 1572l4-4-1-6-6-4-4 0-1 4 1 7 4 3zM1453 1620l3-4 0-4-6-14 1-14 7-8-2-5-19 13-3 6 6 24 8 5zM1507 1584l-3-9-1 1 1 6 2 3zM1605 1592l-1-4-3 2 1 2zM1497 1602l2-2-1-5-10 4-16-9-3 4 1 2 12 5zM1552 1604l5-6-5-6-8-1-6 5 0 4 2 1 8 3zM1577 1600l-5-8-5 0 0 4 3 4 4 1zM1346 1620l-4-12 8-7 10 3 1-6-3-5-16 3-12 5-14-2-6 9 0 4 4 3 14-1 12 7zM1594 1602l-1-4-3 0 1 4zM1297 1620l2-4 0-4-14-12-5-1 0 12 8 2 6 8zM1540 1628l8-6-1-4-11-5-4-11-8-4-3 4-1 6 0 18 2 0 4-5 4-2 4 9 2 1zM1648 1608l-2-4-4-2-4 1-1 3 5 3zM1384 1656l11-14-2-8-7-6-2-14 2-4 5-2-1-4-6 2-8-1-4 7 1 10 12 8-2 4-7 6-1 6 2 8zM1410 1632l6-6 0-4-4-5-6-1-5 4 0 6 3 6zM1300 1640l3-2 0-4-5-7-4-3-4 4 0 4 4 6zM1441 1648l-3-15-2 0-1 7 4 8 1 1zM1481 1662l7-4 5-4 2-6-3-4-12 0-3-2-2-4-3-2-2 2 1 6-5 4-4 2-4-2-4 2 2 2 6 0 12 9zM1151 1670l-1-2-2-1-2 3 2 1zM1131 1684l2-4-3-2-4 2-2 4 2 1z"/>
<path fill-rule="evenodd" fill="rgb(120,120,120)" d="M1852 1764l-798 0 0-798 798 0 0 25-1 3 1 2zM1721 988l-2-6-8 0-1 2 2 2zM1777 1024l1-3-2-3-4 2 0 3zM1426 1092l6-13 6-1 10 4 3 0-3-6 0-10-8-12-9-4-2-10-5-4-9 4-3 4 3 4 13 8 0 7-2 7-14 11-8-6-6 3 1 2 7 6 12 5zM1487 1050l3-4-1-6-7-3-5 3-1 4 1 4 5 2zM1733 1054l7-12-4 2-6 6-1 4zM1465 1054l1-5-4 3 0 2zM1338 1128l6-4 10 1 4-1 10-16 10-3 4-3 2-13-17-5-2-4 3-10 14-4 4-10-2-5-4-1-3 2-9 10-14 1-5 3-2 4 0 10 7 6 1 6-3 4-12 6-4 6-10-7-12 0-14-4-4 3 0 8 8 4 10 1 4 4 10 3 4 7zM1405 1060l-1-6-5 2 2 4 3 1zM1543 1092l3-6-12-13-6-12-4-2-8-1-8-4-4 1 0 5 10 10 8 16 14 7zM1503 1096l9-4-2-11-4-2-16 4 0 5 4 6 4 2zM1612 1144l3-4 0-4-8-10 5-10-2-6-40-25-14-5-6 4 1 4 9 6 8 9 10 2 4 3-2 10 4 12 4 1 10-4 3 3 3 12 4 3zM1462 1106l2-4-1-4-5-3-4 0-1 5 2 4 3 2zM1629 1104l-5-6-9 0 7 5zM1549 1118l15-2 2-2-1-6-5-2-12 2-8-3-4 1-1 4 5 6 4 2zM1278 1124l4-6-4-5-4 0-4 5 0 4 4 3zM1391 1124l4-4-3-3-17 7 1 1zM1314 1142l-1-10 2-8-3-4-10 0-2 2-4 8-10 0-3 2 7 6 12 1 8 3zM1642 1140l8-4 1-2-2-6-7-6-10 0-2 2 1 4 7 11zM1491 1142l5-4-6-8-4-1-10 6 0 3 4 3zM1539 1140l4-4-3-4-4 1-4 5 2 3zM1205 1314l21-15 6 4 20-2 14-12 7-13 2-16 5-8-2-6-6-5-2-5 3-4 22-14-1-4-8-9-15-7-3-6 2-10 20-10 2-2 0-2-7-6-4-6-13-4-4-9-6-6-15 5 0 12-6 12-1 10 10 6 4 4-8 22-12 10-10-1-3 3-5 22 2 4 6 1 8-2 2-9 10 5 8-3 5-6-9-7-1-3 3-2 12 1 3 17-7 6-6 12-4 1-10-4-14 7-10 0-4 1 0 6 8 7 4-1 5-5 3-1 7 9-9 13-20 8-8 7-1 4 3 5 4 2zM1392 1152l11-8-3-4-6 0-6 6 0 6zM1370 1162l-6-12-4 0-4 4 2 4 8 5 2 0zM1561 1162l2-6-1-3-4-1-2 4 0 3zM1262 1172l-6 0-7-10 13-7 5 3 3 6zM1330 1176l7-14-1-4-4 2-8 12zM1591 1186l0-10-15-6-14-5-12 0-8 3 2 4 12 4 18 2 12 8zM1605 1184l4-2 2-4-1-4-4-2-7 2-4 4 3 4zM1715 1190l-2-12-3-3-4 1-1 4 9 11zM1677 1194l5-3 3-5-5-6-8-4-5 6-1 8 2 2zM1258 1214l-6-8 1-4 3-2 4 2 2 4-1 6zM1696 1208l4-2-1-2-5 1-1 3zM1724 1230l11-4-11-13-8-4-3 7-1 12 4 2zM1646 1228l1-4-3-7-4-3-6 2-1 6 5 6 4 2zM1696 1252l1-2-1-4-8-10-4 0 0 4 4 4 2 6 2 2zM1198 1254l6-4 3-6-3-6-4-2-4 2-9 12 0 2 3 1zM1643 1248l0-4-3-2-1 4zM1678 1358l8-6 4-14 1-30 3-8-1-8-3-5-6-3-10 8-4 0-3-6 1-8-4-16-8-4-8 0-7 6-1 6 6 10 10-1 3 3-6 10-1 4 8 15 18 16 0 9-10 3-1 5 1 14zM1751 1280l3-4 2-10-4-5-8 1-3 2 0 6 5 7zM1254 1280l-4-1-3-5 0-4 3-4 7 6 0 4zM1202 1286l3-4 0-4-5-6-12-4-5 2-4 4 0 4 3 3zM1765 1324l5-4 2-8-12-15-6-2-3 3 0 4 6 10 0 10 3 2zM1213 1366l2-4 0-4-11-7-13-43-5-7-8 1-3 6 8 8-3 8 4 10-1 12 2 10 9 6 8 1 6 4zM1228 1344l0-12 2-2 8-2 4 7 4 1 3-2 1-4-6-8-2-11-10-7-8 2 3 24-9 4 8 10zM1270 1326l7-4-1-14-2 0-4 3-6 9 0 4zM1161 1372l5-7 10-2 5-7-5-7-12 3-3-2-5-16 5-8-3-3-4 1-10 10 9 16 0 12 7 11zM1134 1336l-2-5-2 3 2 3zM1735 1338l1-5-4-2-1 5zM1745 1392l13-16 12 5 4-1-4-9-4-1-6 2-2-2-2-6 2-15-3-3-12 0 5 10-2 12-4 6-10 6-3 6 0 4 3 2 8 1zM1301 1358l4-4 0-4-3-2-7 6 1 3zM1133 1362l1-4-2-5-3 7 1 3zM1192 1382l4-2 1-4-7-5-4 1 0 5zM1674 1386l4-6-2-5-5 1-3 4 0 4zM1485 1662l6-4 5-8 1-4-3-4-12-1-5-7-9-1-3 1-3 8-14 3-5-7 0-14 9 0 4-2 6-12 8-7 16 4 15-1 5-12 10-1-4-13 2-10-20-7-1 5 5 16-1 4-3 4-6 2-4 0-14-9-6 7-6 1-2-5 0-4 9-6-1-8 3-4 14-10 2-12-1-3-4-1-12 6-18-1-5-3-7-10-8-3-1-3-1-10 2-6 2-3 8-4 1-9 7-8-2-14 2-12-9-20 11-12-10-10 6-8 2-6 2-16-2-8-6 8-2 12-1 16-12 10-2 14-5 3-8-3-4 8-7 6 2 8-5 14 5 10-1 7-2 7-11 2 1 5 8 1-15 8-3 13-4 1-7-6-5-2-8 9-6 0-4-2-6-7 0-12-8-6 3-16-7-4-6 0-5 8-1 16 5 10 10 8 5 11 10 7 6 2 10-2 28 9 14-3 14-8 4 0 14 14 4 10 4 4-1 6-9 8-1 4 5 32-3 2-11 0-10-8-6-1-10 5 0 8-2 1-2-7 6-14 1-6-2-2-21 4-6 4-2 4 1 10 9 12-4 4-1 8 0 6 3 6 6 2 4 0 12-14 2-5 8-1 10-9 4-2 6 3 2 6-1 8-8 2-1 2 4 4 10 4 14-4 28 11zM1155 1416l7-8 14-8 14 5 4-5-1-6-5-3-12 3-16-9-16 0-1 1 7 8 10 2 0 6-7 12zM1783 1412l2-16-2-6-13-2-8 6-1 6 3 4 12-1 3 3 3 7zM1673 1414l3-6-2-8-4-2-6 2-2 2 0 4 6 7zM1204 1430l3-2-1-2-7-4 2-10-5-4-4 0-14 14-1 2 5 2zM1143 1452l6-6-1-2-6-12-7-8-3-1-2 3 1 26zM1671 1446l4-8-5-16-17 2 1 4 10 10 4 9zM1753 1464l11-5 11-11 4-6-1-6-4 1-10 7-10 2-8 6-8 2 0 6 3 4 5 1zM1646 1454l-2-6-2-1 0 5 2 2zM1667 1462l2-6-1-6-2-1-5 3-3 4 2 4zM1200 1464l4-4 0-4-4-5-4-1-3 2 0 4 3 6zM1730 1532l4-4-2-5-4-4-6 0-4-10-10-5-2-4 1-4 11-5 16 17 4 1 6-3 0-8-2-3-8 1-8-10-8 0 0-10-6-5-4 0-5 7 0 12-2 4-17 2-4 6-1 4 11 8 10-3 8 2 11 9 4 8zM1187 1490l4-6 0-4-7-5-4 0-4 7 1 6 5 3zM1426 1484l-8 1-2-5 2-2 8 2 2 2zM1188 1522l3-16-17-5-8-6-6 3 0 8 2 1 6-3 6 1 4 5 4 11 2 2zM1204 1502l0-4-2-1-2 1-2 4 2 1zM1230 1512l3-2 1-2-2-2-6 0-2 2 0 5zM1659 1514l-1-6-5-2 1 6 2 2zM1216 1526l3-2 1-4-6-3-5 3-1 4 2 2zM1669 1542l5-3 12 0 4-2 3-7-5-10-4-1-4 1-12 13-8 3 4 6zM1612 1574l5-14 8-6 3-6 2-2 4 4 6 0 3-2 2-12 11-4-18-5-2 1 0 8-6 9-2 0-2-2-4-1-14 6 2 10-2 12 2 5zM1204 1548l0-4-4-7-4-2-4 1-1 4 3 6 6 3zM1242 1558l1-8-5-5-4 5-1 6 3 2zM1270 1552l0-4-2-2-4 2 0 4 2 1zM1528 1650l3-4 2-8 15-13 8-1 3 4 1 8 2 1 5-1 3-4 0-4-3-4-5-3-8 0-8-10-5-1-1-3 6 2 18-7 10 3 10-2 8 6 4 0 3-1 2-8 16-14-7-7-12 5-12-4-2 4 2 8-2 2-4-1-15-9 0-2 10-10-4-18-9-5-9 3-1 2 5 6 1 4-9 8 14 10 1 2-4 4-16 0-12 7-14-1 0 12-4 11-6-1-6 4-10-1-3 3 1 4 6 6 3 0 7-8 4 1 8 6 8 1 3 4-3 3-14 3 0 2 10 5zM1684 1584l12-9 2-3-2-4-4 0-6 5-18 1-5-16-9-4-5 2-1 24 12 5 4 0 6-5zM1450 1568l-6 1-2-5 1-6 5-4 4 1 2 5-1 6zM1527 1574l7-4 0-2-4-5-6-2-7 9 4 4zM1253 1604l4-6 1-4-7-8-1-8 4-1 10 7 6 0 2-2-8-16-4-2-8 1-8 6-12 1-3 4 1 6 14 10 3 10 3 2zM1635 1590l2-6-2-2-5-1-4 3 0 4 4 3zM1302 1642l5-4-6-14 3-8 24 2 10 6 8 0 7-4-7-8 1-6 5-1 8 6 5-3 0-8-3-7-6-3-26 7-14-1-12 13-8-4-12-10-8-2-1 7 2 12 11 5 2 5-2 8 1 4 5 6zM1648 1612l3-6-5-6-20-3-6 3 0 2 2 2 14 6zM1328 1644l0-3-4-3-5 0 3 6zM1353 1656l1-2-2-4-6 0-4 2 2 4zM1151 1674l3-2 0-4-2-3-4-1-5 4-1 4 2 2zM1132 1686l5-6-1-3-4-2-6 2-6 7 4 3zM1200 1690l3-2-2-6-3-3-6 1-1 4 3 4zM1201 1756l1-4-2-1-1 3z"/>
<path fill-rule="evenodd" fill="rgb(135,135,135)" d="M1852 1764l-698 0-2-4-4-1-3 1-1 4-83 0-1-9-4-1-2 3 0-24 6-3 3-4-3-6-6 1 0-755 627 0 3 12 4 5 4 1 10-2 26 17 4-1 1-2-7-7-4-11-10 0-10 1-6-7-5-2-1-4 162 0 0 20-5 2-2 6 2 4 5 3zM1774 1000l-2-10 2-10-8-6-3 4 2 6-1 8 8 8zM1601 1004l2-8-5-5-2 3 1 6 1 4zM1737 1020l2-6-3-3-4 1-1 4 2 4zM1742 1068l3-2-7-5-1-3 0-4 3-4 8-3 10 12 7-13 7-8 6-1 10 4 3-1-1-10-6-6-6-13-4 2-9 9 3 10-18 10-8-6-4 0-13 14 0 6 3 3 7 7zM1064 1042l1-6-5-3-3 3-1 4 4 3zM1137 1456l7-1 2-2 6-1 2-2 0-6-6-6-1-4-1-8 2-2 8 1 10 6 30 4 12-2 5-3 2-4-3-8 10-12 2-7 7 3 1 8 3 4 5 1 4-3 0-4-6-10 1-16-5-1-6 8-4 1-11-16 6-14 0-4-12-6-4-14 3-14 6-10 6-2 3 4 0 6-8 10 0 4 7 10 3 8 3 2 8-2 2-12 14 0 7-12 11 1 12-3 0-12 2-8-4-4-4-2-4 2-6 12-8 10-7-4-1-12 19-16 9-14 2-14 6-10-7-20 6-4 7-1 4-2 6-5 4-8 8-6 2-4-4-7-4-1-4 2-4 9-4 1-10-11-8-1-4-2 0-6 2-4 14-8 10 2 8 12 4-2 0-6-1-4-7-4-12-14-3-8-15-4-6-13 6 0 20 8 20 3 6-2 0-12 4-8 12 10 12-7 8 5 8-4 9 10-17 12-3 6 3 5 14 7 6-2 2-4-5-10 3-5 4 1 5 8 5 1 6-1 13-8 1-8-7-10 7-9 4 2 10 13 20 5 6-9 6-6 0-9-4-1-6 7-14 5-5-4-1-10-8-2-1-2 2-6-3-8 18-2 2-10 4-2 11 8 2 12 3 7 4 1 12-1 3-7-16-12-2-18 10-10 11-8 9 2 13 6 11 10-1 2-10 3-10-1-4 2 1 8 9 11 4 2 14-1 8-7 10 3 5 6-8 8 1 2 14 13 10-2 20 1 8 12 16 1 12 14 4-1 7-6-3-18 5-8 1-6 12-2 0-4-8-9-12-4-4 0-1 3 0 8-7 0-14-10-28-14-15 0-9-7-8-12-30-10-6-9-6-4-8 0-8 5-12-4-22 4-12-6-13 5-7 7-6 3-4 0-10-3-6 1-10 9-12 2-8 4-11 19 1 4 7 4 0 2-7 4-9 2-14-4 3-8-2-1-6 5-15 6-9 13-12 0-10 14-7 5-4 6-13 5-5 7-4 34-7 6-2 4 2 3 6 2 3-1-1-10 1-2 5 0 6 2 1 6-6 8-1 10-10 5-10 1-3 4-7 12-10 1-10 13-12 3-1 3 0 4 9 4 4 4-13 12 3 14-1 6-9 17-24 15-8 2-4-3-8 2-2 3 10 12 4-1 10 5 3 6-2 8 6 8 2 6 0 4-3 2-8-2-6-4-1-4 6-10-5-9-6-3-5 6-3 7-7 5 9 3 3 5-7 12 18 6 9 10-5 17-2 3-14-4-8-9-6 0-1 3 2 8 9 5 4 5-1 24 3 2zM1808 1054l2-2-1-14-3-3-4 0-2 3 2 14 2 2zM1712 1054l1-2-1-4-6 0 0 4zM1412 1076l-3-4 1-16 1-4 3-1 9 5 3 6-4 7zM1450 1058l-3-2 1-4 3 2zM1696 1072l1-4-5-1 0 3zM1380 1081l-8-1-2-4 2-2 4-1 4 2 2 3zM1721 1096l2-2-1-4-4-4-4 0 0 10 2 1zM1380 1116l-10 0 3-4 10-6 7-13 10-3-2 8 7 10 0 4-5 2-12-2zM1782 1102l1-6-3-5-3 3-2 4 3 3zM1554 1104l-6 1-4-3 0-4 4-5 6 1 6 4 0 4zM1752 1106l0-3-2-1 0 4zM1669 1214l1-4-3-10 13-5 10-7-9-12 0-12-3-3-8-1-1-4 2-6-3-4-10 0-3-14-9-12-4-2-16 0-2 4 0 4 6 8 2 10 8 12-4 12 0 4 6 3 6-4 6 1 5 4 2 6-2 8-9 6-6-3-2 3 2 2 6-2 11 16 5 3zM1486 1148l15-8-9-16-6-4-8 3-8-2-4 5 1 10-4 4 0 4 9 1 10 4zM1538 1144l14-8-2-5-8-5-6 2-9 12 3 5zM1382 1138l-6-2 0-2 4-3 5 1 1 4zM1512 1140l-2-5-2 5 2 1zM1685 1144l-1-4-7-2 4 6zM1613 1200l10-4-7-20-8-7-22-1-15-4-3-7 2-3 6 1 4-1-2-5-10 2-10-4-20 17 0 6 4 5 14 5 11 2 5 7 12 2 10 8 4-2 4-7 4 0 2 10 2 1zM1754 1284l7-22-10-10-1-10-10-16-22-22-1-22-3-6-6-6 0-16-4-2-3 6 3 14-2 8 8 9 3 9-5 6-10-6-4 1-9 13-3 10 2 3 2-1 8-11 15-5 2 4-2 16 3 5 6 3 12-5 8 3 0 6-8 4-1 6 6 10 4 14 9 9zM1332 1182l3-4 1-9 6-9-4-6-6 1-8 10-11 5-2 4 1 2 10 1zM1262 1167l-2 1-3-2 1-4 2-2 4 2zM1619 1222l3-8-1-4-11-4-4 4 0 4 6 6zM1669 1466l2-4 1-10 4-12-1-18 3-16-2-12 6-18-2-12 7-10 5-16 0-18 3-24-3-8-6-6-12 2 2-8-8-14-14-8-3-4 0-8 18-6 2-4-1-4-4-1-8 5-4 0-10-19-4-1-8 0-4 2-2 6-6 4 8 10-8 3-2 7 2 3 10 1 13 8-7 12 3 10-3 10 12 7 17 29-3 24 1 10 3 5 8 3 0 2-11 12 0 12-8 10 1 4 7 8-1 4-12-1-2 5 0 10 12 5 3 5-1 3-6 5-4 1-8-11-2 0-4 4-1 6 5 10 12 0 12 7zM1325 1244l3-2 1-4-2-4-5-3-4 1-9 10 3 2zM1705 1254l-17-24-4 0-5 4-1 6 10 12 8 3zM1244 1252l-2-1 0-2 3 1zM1151 1272l9-12-2-7-4 1-11 10 3 5zM1222 1254l-6 1-3-1 3-2zM1509 1262l3-6-2-2-2 0-2 4 0 4zM1196 1264l-4-2 4-1zM1587 1280l15-2-4-7-4-2-13 5 1 4zM1212 1290l-3 0 1-5 8-4 5 1-3 4zM1767 1328l6-8 1-10-14-18-6-1-6 5-1 8 7 10 0 10 8 5zM1493 1308l1-4-2-5-4 0-4 3 0 4 2 2 4 1zM1315 1310l0-4-5-4-1 6 3 2zM1166 1346l-3-4 0-8 8-16 3-2 2 2-1 6 6 8 0 6-3 5zM1783 1426l4-6 1-38-18-15-8-1-2-2 2-15 8-9 0-4-4-4-6 8-10 1-6-3-4-10-4-3-6 1-3 4 0 8 9 6 8 12 0 4-4 10-13 8-3 14 8 4 12-1 7-3 5-10 7 0 3 4-9 10 1 10-14 6-2 4 0 3 2 2 6-2 8-12 14 1 2 2 2 12 4 4zM1283 1420l3-6-1-16 11-10 12-6 2-6-1-12 6-8-7-14-4 0-10 4-4-1-4-9-4-4-3 10 9 10 9 16 2 8-2 6-3 1-10-2-4 3-3 12 2 12-2 8 3 4zM1255 1354l4-4 0-4-3-1-4 1-2 4 2 3zM1383 1380l4-2 0-2-6-6-3-8-18-15-2 5 2 8 13 10 5 10zM1180 1388l-6 0-6-3-2-3-1-6 3-7 10-2 6-4 3 3-6 4-1 4 5 10zM1335 1380l5-4-1-4-5-4-6 1 2 9zM1483 1664l7-4 12-14 10 1 12 5 6-1 8-12 10-10 4 0 2 3-2 6-5 2-1 2 2 1 6-3 10 0 18-8 4-4-1-2-5-4-10-2-7-8 5-4 14 0 8 5 8 0 4-2 4-9 4-2 7 6 13 5 16 3 4-1 4-3 0-8-4-5-8-5 1-4 7-1 16 5 6-5 14-2 15-11 0-6-3-9-10-1-4-7-6-1-4-2 0-4 4-2 4 1 4 6 8 2 4 6 17-9 1-6-4-4-6 0-10 5-3-1 5-12-3-12 5-4 9 4 9 15 10 2 6-3 3-4-1-12 9-6 2-4-2-22-3-2-8 3-4-3-4-10-18-6-7 10-3 14-4 2-12 0-5 6-2 8 4 10-9 7-4-3-3-12-7-10-4 0-8 5-12-2 2 12 10-6 2 1 13 14 0 2-17 0-4-2-4-5-2 3-3 14-15 7-10 3-6 6-4-5-4 0-4 3 0 4 4 4 4 0 4-4 6 5 0 7-4 13-19-3-5-10 0-12-2-2-10-3-14-1-10-6-4 4 0 6 6 7 10 5-1 2-7 2-4 0-10-9-12-4-3 1-1 8-4 2-6-1-8-7-8 0-4-18-8-1-10 5-16-2-6-6-1-4 3-8-1-2-11 1-4-3 2-7 8-2 4-3 0-10 6-10-4-12 4-14-6-20 15-10-2-6-9-5-1-3 5-22-2-23-13 15-3 24-12 14-4 11-12-4-7 1 1 13-7 5-2 4 5 10-3 12 5 10 0 4-4 5-8 2-3 3-1 9-5 5-3 8-18-4-4 8-6 0-2-4 1-12-7-10 3-12-5-6-18-4-6 5-6 2-1 3 10 28 11 10 7 12 11 9 16 0 28 8 14-3 14-7 6 2 4 7 2 14 4 8-5 8-3 10-14 2-12-8 0-6-4-3-4 3 2 6-1 4-9 6-12 1-6-10-8-2-20 5-20 1-6 3-6 7-4 0-20-15-2-4 0-6 18 13 4 0 2-1-1-10-7-5-3-5 1-4 3-4-1-4-8-5-3 1 0 10-7 11-6-5-3-8 1-4 9-8-5-5-6-2-6 2 1 11-3 3-8 0-3-1-5-22 10-14-3-4-5-3-2 2-4 15-7 8-3 14 3 6 5 3 6 1 0 2-12 0-11 14-9-4-1 2 1 4 5 4 5 1 6 0 9 5 11 15 6 3 6 0 5-18 2-2 3 0 2 4-1 8 5 14 11 4 0 10 5 8 6 5 6 0 10-2 10 7 10 1 3-1 3-18 18-5 5 3 3 6 4 3 3 17 7 5 10 1 10-11 8-2 26 11 16-3 16 4 12 6zM1367 1386l-4-4-9-5-6-1-3 4 3 6 10 0 6 2zM1208 1408l-6-1-4-5-3-14 3-4 4-3 8 0 4 3 1 18zM1119 1390l1-2-2-1-4 3 2 1zM1170 1420l-7-2 0-4 11-8 6 1 2 3-2 4-4 4zM1396 1432l-4-4-3 2 1 2zM1750 1468l14-6 14-14 5-10-3-6-4 0-12 10-31 8 0 6 3 8 6 3zM1207 1556l2-10-2-6-5-7-9-5 3-18 10-5 3-5-2-4-5-3-5 1-5 4-4 0 0-2 14-16-1-10 7-8 0-4-6-11-14-3-4-6-4-2-1 10 7 4 4 6 4 10 1 6-5 2-10-4-3 2-4 12 3 10-2 0-10-3-4 1-6-5-4 3 6 7 2 12 6 2 6-3 4 4 4 12-2 1-4-3-2 1 4 7 2 2 4-2 2 1 3 3 4 12 15 11 2 0zM1170 1462l5-6-1-4-6 1-5 5 3 4zM1312 1466l-2-5-3 1 0 4 3 1zM1639 1472l1-4-2-4-8-2-3 2 0 4 3 3zM1367 1476l13-4-1-6-5-1-7 5-2 4zM1665 1476l-1-5-3 5zM1621 1490l-1-4-5 4 1 1zM1366 1502l3-6-3-2-4 2-3 4 3 3zM1599 1514l13-5 2-5-2-7-2-1-6 6-8 12zM1218 1532l7-6 5-10 11-2 0-6-3-4-14-1-3 3-3 6-8 2-4 4-2 6 2 5 10 4zM1223 1542l-5-5 0 5zM1654 1548l-4 0-2-2 2-6 4 2zM1642 1570l-4-2-3-6 0-2 3-2 4-1 2 3 1 6zM1622 1567l0-5 7-2zM1416 1572l3-4-1-3-6-1-4 4 0 4 2 1zM1490 1590l-7 0-9-8-3-8 1-5 12-4 2 1 7 18zM1068 1588l4-10-2-4-4-2-4 2-1 4 3 9 2 2zM1526 1590l-6-2-2-4 2-4 20-5 6 2 5 5-8 4zM1332 1586l2-2-1-4-7 0-1 2 1 3zM1120 1590l1-2-3-2-4 2 2 3zM1512 1608l-4-4 0-4 2-2 5 4zM1424 1616l-6-1-2-5 10-6 2 2 0 4zM1233 1614l-1-4-2-1 0 5zM1558 1614l-4 0 0-2 4-2 3 2zM1488 1638l-4 0-4-8-10 0-8-4-1-2 2-6 3-3 13 5 3 8 9 6 0 2zM1318 1632l-8 0-4-8 2-3 6 0 9 3 1 4zM1454 1641l-4 0-2-1-2-6 2-5 6 1 4 4 0 4zM1243 1648l5-3 0-6-4-6-6-2 0 15zM1653 1648l2-4-3-3-3 5 1 2zM1128 1650l1-4-5-3-6 2-1 3 5 2zM1355 1658l4-4-1-7-20 3 0 4 4 3zM1132 1688l12-10 13-4 2-4-2-4-5-4-6 0-10 9-8 1-12 12 2 3 4 2zM1208 1692l-1-8-5-10-10 2-4 4 0 4 6 8 6 1zM1167 1690l3-2 0-4-6-5-3 7 3 3zM1743 1712l1-4-2-3-3 3 0 4 1 2zM1168 1736l1-6-3-4-4 0-4 4 0 4 2 2 4 1zM1175 1756l3-6-6-4-4 1-7 7 0 2 3 1zM1204 1758l1-6-1-4-6 0-3 4 1 4 4 3zM1130 1760l2-4-2-3-7 5 3 3z"/>
<path fill-rule="evenodd" fill="rgb(151,151,151)" d="M1852 1764l-124 0-4-5-2 5-15 0 3-6-1-2-11 3-16-3-6-4-4-12-4-2-8 12 13 14-323 0-4-4-4 4-141 0 4-2 2-4 3-16-2-8 4-12-4-6-18-1-1-11-3-2-10 6-8 10-12 3-6 7-12 4-10 0 0 10-2 4-12 3-2 3 0 5 5 7-20 0-6-12 0-6 9-9 12-1 2-2-12-22-4-1-6 2-2-1 2-4 6-6-2-3-6-2-6 3-8 14 4 18 5 8-5 8 4 8-1 8-18 0 3-18-5-10 5-12-4-5-10-5 0-23 6 6 3-3 1-6-4-6-4 1-2 2 0-14 8-2 4-5 1-4-5-6-8 3 0-18 7-7 1-8-2-3-6 4 0-20 6-5 6-1 12 7 6-4 1-4-2-4-7-4-1-16-7-6-6 0-3 4-2 8 1 8-4 5 1-35 5-14-2-8 11-4 4-4-1-3-2 0-6 2-8-1-2 1 0-109 14-2 6 3 6 7 2 1 2-1-8-15-10-1-12-5 0-159 6 1 4-5-4-4-6 3 0-195 4 6 4 1 7-13-2-8-3-3-4 1-6 4 0-34 5-2 1-4-6-7 0-21 4 3 3-3 83 0 0 6 8 1 4-1 0-6 429 0 1 4 2 1 12-1 8 2 6-6 60 0 6 16 5 6 5 2 10-1 6 2 8 3 4 6-8 16-2-1-1-7-4-4-5-3-6 1 1 16-6 10 0 4 5 1 12-5 6-6 16 4 3 4-4 10-5 5-10-3-9 4 0 4 3 7 10 9-1 6-7 1-6-9-6-2-7 2 1 6 20 17 3 13 3 2 11-4 4-4-12-14 0-4 3-3 8-3 24 5 1 7-3 4-10-4-9 12 5 11 8 8 4 1 8-5 2-5-2-12 8-6 4-10 4-6 18 2 12-9 6-2 8 5 4 16 2 2 4-2 7-8 3-8 0-6-2-6-6-1-5-5-1-20-2-3-8-1-3-8-5-4-4 0-8 7-5-1-2-4 0-12-5-6-2-6 4-6 6 2 3 4-1 12 10 6 14-10-4-6-10-4 4-22 9 0 5 5 5-1 2-4 25 0 2 5 0 9-12-4-3 4-1 6 1 6 5 8 10 5 0 28-6 3-3 6 1 2 7 4 1 4zM1716 972l-6 0-1-6 10 0 0 4zM1752 1032l-4 0-6-4 0-4 4-14-7-8-1-12-8-6 12-10-6-8 36 0 0 2-14 3-8-4-7 7 11 10 3 8 6 8 3 10-8 10-2 10zM1089 988l3-2 1-4-3-12-2-2-4 3-2 5 3 10zM1530 1000l21-14-3-13-4-3-8 9-4 1-6-6-8-4-8 2-1 4 8 6 3 11 6 6zM1776 972l-3-2 1-2 4 4zM1636 1018l-1-12 1-3 14 4 8 7 4 0 1-2-17-17-7 1-5 6-5-8 3-8 0-6-2-3-4 0-4 3-2 12-5 8 15 17 4 2zM1153 996l13-8 0-6-2-4-4 1-6 7-10 1-3 3 0 4 3 2 4 1zM1601 1012l5-4 2-8-6-12-6-3-3 3 1 18 2 4zM1575 1010l2-4-2-4-15-12 0 12 2 4 8 4zM1403 994l2-2-3-2-1 2zM1828 1020l3-4 0-4-3-5-4-1-6 5-1 5 3 4zM1154 1012l1-2-3-1 0 3zM1131 1020l4-4-1-6-2 0-6 10 0 1zM1106 1030l1-4-4-6-7-4-3 2-1 6 2 3 6 3zM1216 1064l1-18 6-8-1-5-4-2-6 1-8 6-6 1-5 5-2 4 1 1 8-2 2 1 6 14 4 3zM1659 1036l-3-4-4 2 4 3zM1483 1666l7-4 12-12 8-1 12 5 8 0 10-6 8 0 10-4 8 0 14-6 13-10 5-8 6-4 6-6 12 0 24 7 6-1 10-13 10-4 6-6 21-13 5-6 4-13 14-7 6-12 12-10 2-15 6-3 8 3 5-3 2-10 6-8 0-4-13-13-7-3 17-10 8-10 7-4 5-12 9-4-6-30 1-10 4-8 12-2-6-8 4-8-1-4-7-1-8 4-10-2-9-9 1-5 10-5 2-6-7-14 1-23-8-7-9-16 1-8 6-10 2-6-12-8-12-26-12-8-9-12-5-27-7-11 0-6 3-8-2-6-6 0-9 6 1 20-4 5-3 1-2-2-1-8-6-14 8-6-4-12-12-8-2 1-4 9-6 0-1-8 9-8 0-2-16-5-9-9-10-6-7-9-21-5-9-15-13 7-4 6-3 0-6-4-2-6-4-3-8-1-10 4-6-2-5-4-8-12-13-3-28-18-6-1-12 3-10-3-24 1-12-2-15 5-11 5-21 3-9 6-18 8-22 18-12 2-12 9-10 5-10 9-10 3-24 26-15 8-5 8-4 30-10 16 0 4 12 6-3 4-13 3-4-9-12-8-6 0-4 3-2 7 2 8 10 10-7 16-5 2-10 0-8 7-8-3-6 0-2 2-2 8-10 6-1 6 11 16-1 8-3 4-4 2-8 0-14-7-3 1-3 20 2 4 4 3 0 3-8 8-1 4 4 6 11 2 3 6-3 2-10-2-2 2 3 8-1 2-9 6-2 4 1 2 16 3 2 3-3 4-13 6 4 14-7 26 5 6 4 1 6-3 5 2 1 4-3 14 2 8 3 2 14 1 5 5 1 6-2 10-4 2-10 0 0 14 2 0 8-5 11 5 2 6-5 8 12 4 2 2 2 11 12 8 7 11 10 8 8 16-1 7-4 7 10 15 10-1 6 4 1 6-3 10 8 2 3 4-2 8 3 6 2 11 8 1 8-3 2-3 1-10 3-4 8 1 14-4 18 16 16-1 8 7 12 2 10 7 22 0 22 3 12-3 8-7 6 4 10 0 12 3 16-2 12 3 12 5zM1106 1042l0-7-4 7 2 1zM1159 1050l2-4-1-6-2-3-4-2-4 4 0 6 4 5zM1677 1054l4-10-3-6-8-4-8 4 9 16zM1093 1054l5-2 1-4-17-7-4 1 7 12zM1794 1064l-6 0-8-7-10 6-4-5 1-8 5-6 4-1 18 5 3 4 1 6zM1081 1078l5-4 1-4-1-2-8-2-3 4 0 4 3 3zM1188 1100l2-4-4-8 4-8 0-4-4-3-12 0-4 13 11 12zM1140 1100l4-2 1-4 0-10-3-3-2 1-9 14 3 4zM1787 1108l4-6-7-15-4-1-14 6 1 8 4 6 9 2zM1602 1097l-8-7 4-1 4 2 2 5zM1158 1110l4-6-1-4-3-1-7 3-2 4 3 4zM1440 1118l-5 0-1-10 3-6 7-3 2 3 1 6zM1500 1114l-6 1-10-1-3-2 0-2 3-6 4-3 14 2 6 3 1 2-1 2zM1812 1104l1-2-5-1-6 1-1 2zM1524 1136l-4 1-3-5 4-10 5-3 4 3 1 4zM1144 1138l0-4-4-4-13-8-5 1-2 5 2 4 10 3 8 5zM1572 1141l-10-4-3-5 1-3 6-2 4 3 4 8zM1097 1152l4-8-3-7-7 3-3 4 6 9zM1502 1546l-6 2-4-2-4-12-2-3-14 0-14 3-6-2 1-10-3-10 2-2 20-8 4-12 10-2 6-4-1-2-11-3-8 2 0-9-4-5-12 10-4 0-2-3 4-14-3-10 1-4 4-3 8 2 4-1 2-8 6-10-4-7-16-3-5-4 2-6 6-10-5-10 3-16-3-8-10-2-19 6 0 4 3 1 10 1 3 2-9 12-3 22-3 1-4-1-1-2 1-8-4-3-3 1-2 6-10 8-3 10-16 6-1 10-5 5-14 1-6 8-4 12-14 9-10 4-6-1-10-18-4-2-12 2-8-12 4-12-4-10-1-22 11-9 12-4 5 3 1 4-6 8-2 8 2 6 6 2 24-26 14-1 8 6 6 1 8-9 17-7 2-4-1-9 4 0 4 7 3 2 9-2-1-8 6-8 0-10-7-1-16 6-10-2-10 1-6-1-13-15 8-12-2-6-5-4-4 0-16 12-14-4-6 6 1 4 15 6 4-1 6-6 4 0 6 7-6 11-10-1-10 5-6-1-7-6-3-12-20 3-4-11-7-10 2-6 7-4 0-4-12-5-6-7 7-14 2-12 7-12-1-10 3-5 4-1 4 1 6 9 18 5 8 9 23 4-9-14-12-6 1-10 8-6-1-4-16 0-5-2-5-6-1-4 3-10-2-20 2-2 4 0 5 10 7 2 3-2 0-6 3-5 4-1 6 2 6 0 8-8 10-3 10-8 10-2 14-7 4-4 2-12 2 0 18 5 10 8 18-1 22 5 10-7 6-2 22 11 8 7 8 14 10 4 4 6-1 6-3 3-18 9 1 10 7 6 6-9 18-13 4-5 6-1 8 3 1 3-7 8 6 2 8-5 4 1 3 10 8 8 8 12 2 6-3 7-10 0-6 3-4 4-4 7-6 2-2 3-2 10 12 12-3 6 1 4 4 1 3-1-1-12 4-3 8 1 5-4 0-4-7-10 1-4 7-4 4-6 12 0 6 4-1 4-5 4-6 2-3 6 1 2 7 2 3 12 18 8 5 6 2 6 6 32-5 7-10 5-2 6 4 5 10-4 6 7 1 4-5 8-3 14-7 5-6-1-1 2 5 4 1 4-4 18-6 8-6 16-9 4-4 10-8 6 1 12-7 5-10-1-8 6 1 4 4 6 0 4-5 9-6 5 6 4 3 8 0 4-3 2-8-1-8 5-4 0-3-2 2-8-1-6-6-6-4 0-4 4 0 12-12-4-10 9-10 2-6-2zM1600 1161l-3-1-3-6-10-8 0-4 2-2 6-1 5 5 5 14zM1308 1166l-4 0-3-4 7-10 18-4 3 2-2 6-5 6zM1620 1170l-5-2-1-4 6-11 4 3-2 12zM1456 1180l6-8-4-5-7 3-2 4 2 6 1 1zM1634 1191l-4-1-5-4-1-6 2-4 6 1 8 7zM1190 1182l-4-5-4-1-1 2 3 4 4 1zM1523 1188l5-3 2-3-4-4-6 0-5 4 0 6 3 1zM1650 1188l-5-2-1-2 6-5 4 2 2 3-2 2zM1294 1192l-4-1-3-3-1-4 2-3 4 0 4 3 1 6zM1485 1200l-3-7-8-4-10 5-3 4 17 3zM1706 1197l-4-5 2-4 4 5zM1684 1204l-4 1 0-3 6-4zM1636 1206l-2-2 0-3 3 1zM1206 1222l-4 0-1-2 3-5 6-4 0 7zM1660 1224l-4 1-2-2-3-11 9 6 2 4zM1457 1222l3-4 0-2-4-2-4 1-2 3 0 4 2 1zM1511 1284l5-4-1-12 6-14-11-7-10-2-1-3 2-4 5-3 16-4 0-10-4-4-4-1-6 4-8 4-8 14 10 30 0 15 2 2zM1706 1242l-6-2-5-12 0-6 5-5 4 3 0 8 4 10zM1461 1246l4-2 2-4-11-5-6 0-1 5 3 4zM1670 1254l-4 1-6-2-2-3 1-4 5-4 6 0 3 6zM1678 1482l-5 0-2-10 5-10 2-14-1-24 4-30 5-18-1-14 9-24-1-18 4-16-3-16-19-22-1-6 3-4 5-2 20 10 12-7 6-9 5 4 6 16-1 4-9 6-2 2 1 2 6 5 6 1 8-3 3 5-6 12-2 12-14 14 3 14 9 8 1 6-6 7-4 0-8-4-2 1-2 4 1 8 7 6-3 18 10 6 1 5 6 2 1 7-2 4-13 12 0 6 5 10-1 8-2 4-4 0-18-9-6 1-4 4 0 4 8 8 0 4-4 5-6 0zM1396 1266l0-4-2-1-4 3 0 2zM1317 1284l6-4 1-4-2-8-4-4-4 2-6 16 4 3zM1162 1304l-3 0 3-10-3-18 1-5 4-2 6 5 0 8-4 18zM1299 1282l2-4-2-6-3-2-4 1-2 3 0 4 4 3zM1715 1278l-3-3-3 1 3 2zM1467 1288l2-4-3-6-15 0 0 4 7 1zM1340 1288l3-2-1-2-7 4zM1372 1288l-4-3-2 3zM1441 1290l1-2-2-1-3 3zM1492 1318l5-4 6-14-3-9-6-4-6 2-11 13 1 4 9 8 1 4zM1393 1298l1-4-3-4-8 0-4 2 5 6 4 1zM1318 1316l15-8 4-4 0-4-7-4-10 4-6-8-10 1-1 3 1 14 4 4zM1353 1300l4-6-1-3-4 0-2 3-1 6 3 1zM1466 1322l5-4-6-18 2-4-1-3-1 5-9 8-2 4 3 12zM1130 1316l-7-2 2-4 7-5 6 2 1 3-1 3zM1258 1314l-4 0 2-4 2-1 2 1zM1537 1326l4-4-3-5-6 2-4 5 3 2zM1480 1326l6-5-6-1-4 2zM1389 1332l3-4-2-3-10-2-4 3 4 6zM1174 1337l-3-1 1-4 4 2zM1431 1344l-5-12-6 2 0 4 4 5zM1461 1356l7-9 5 1 3 4 1-2-3-10-9 0-9 3-2 11 2 3zM1254 1402l-6 0-4-4-1-6 1-10-6-10 0-4 4-7 4-3 12 2 6 6 2 0 0-16 2-4 4-1 15 13 6 12 1 6-4 2-12 0-6 8-10 2-2 4 0 6zM1090 1356l-2-5-4-2-6 0-2 3 10 5zM1366 1374l-16-4-1-4 3-2 4 0 10 8zM1525 1380l-11-13-4 0-4 3 0 2 2 3 12 1 2 5zM1206 1401l-2-1-3-10 3-5 4 5 0 8zM1136 1413l-3-1-3-10-4 1-6-1-1-2 3-4 4-2 8 2 3 12zM1556 1422l2-8-2-4-2-1-4 9 2 4zM1344 1582l-12-8-14 1-14-17-12-8-6-8-18-3-14 1 0-4 3-6 3-3 9-1 2-4-3-3-10 0-11-9-2-6 2-16 5-6 11 2 2-4-1-6-11-12-3-14-10 1-10-2-8 3-3-8 1-4 8 2 4-1 22-28 10 11 4 7 8-2 4 2 1 7-1 6-4 3-10 0 0 5 16 16 4 0 9-4 5 27 8 13 6 16 11 10 5 9 12 12 4 2 14-1 18 4 10 4 12-2 14-7 4 0 4 3 0 4-2 2-20 5-6 10-16 5-4-1-6-6-4 0-6 9zM1522 1422l1-2-1-3-4 0-3 3 1 2zM1809 1426l2-4-1-2-5 0-3 2 0 4zM1744 1442l-6 0-1-2 2-4 7-6 6-1 15 3-5 6zM1158 1437l-5-1-1-5 2-1 4 2zM1166 1447l-5-1 1-7 6 1 1 2zM1584 1446l3-2-3-3-3 3zM1084 1476l6-6 8-4 6-8 10-4 2-4-4-3-20 3-4 8 0 10-2 1-10-3 0 2-1 6 1 2zM1481 1460l0-12-3-1-3 3-2 8 1 2zM1188 1466l-6-2 2-4 5 2zM1642 1496l-6-2-5-4-5-11 16-2 3-1 3-10 6 0 2 4-7 10-1 12zM1791 1476l0-6-5-4 0 8 2 2zM1360 1490l-6 0-4-4-3-8 3-5 4-1 4 4 5 10zM1220 1498l-4 1-8-11 4-14 9 8 0 8 2 4zM1236 1498l-6-1-4-3 4-6 0-10 2-4 3 2 6 14-2 6zM1390 1492l-6 0-10-5-2-1 0-4 4-3 12 0 5 7 0 4zM1692 1487l-3-3 3-6 2 6zM1107 1492l2-2-1-4-6-1 0 5zM1756 1504l-4 0 0-4 2-3 4 3zM1610 1536l-6 1-4-1-3-4 1-6 5-6 12-6 3-12 4-4 2 2 3 12-3 11-2 3-9 4zM1124 1512l-4-5-4 3 4 3zM1143 1512l-3-5-4-1-1 4 2 2zM1368 1514l-4 0-3-2 9-5 2 1zM1102 1536l3-4-3-5-3 3zM1096 1542l0-4-4-2-6 0-3 4 1 2 6 1zM1088 1684l2-4 0-10 4-7 8-1 10-9 18 4 14-13 0-22 5-10-2-8 5-8-12-9-5-7 1-4 6-10-1-12 8-8-2-6-7-4-6-1-5 3-3 2 0 8-8 4 2 8 8 10 2 6-1 4-5 2-10-1-10-7-5 8 1 3 6 2 8 9 4 1 8-4 4 3 2 16-4 8 3 6-4 8-15 9-8-1-2-2 3-10-5-8 4-10-4-4-6-3-4 0-1 3-1 8 7 8-2 8 2 16-3 6-14 8 0 10-5 10 5 3zM1081 1556l0-4-3-3-2 3 0 4 2 1zM1592 1568l-7 0-3-6 2-2 10 4 1 2zM1737 1578l0-8-5-2-1 6 3 4zM1166 1590l9-8 0-4-3-2-6 2-4 6 0 6zM1192 1586l3-2-4-4-10 2 3 5zM1314 1588l-5 0 0-6 3-1 4 1 1 4zM1382 1594l-7 0-1-4 4-4 4 0 3 4zM1230 1600l-5 0-2-4 6 0 2 2zM1211 1652l11-3 1-13-13 4-4 0-2-2-4-12-4-5-14-3-8-17-6-4-4 1-2 6 2 10-8 12 0 5 4 3 4 0 12-7 6 2 1 3-3 8-9 8 0 2 5 2 12-8 6-1 8 2 6 7zM1254 1627l-4 0-6-3-4-6 0-6 2 0 16 8-1 4zM1660 1686l1-4-8-10 6-28-3-8-4-1-4 3-4 6 0 11-4 3-6-2-2 1 0 3 8 4 2 10 6 10 8 3zM1618 1642l0-2-4-2-1 4 1 1zM1605 1666l2-2 2-12-1-4-2-1-4 2-1 3 1 12zM1213 1702l3-2 2-4-4-8-1-6 5-6 1-4-3-6-6-4-4-6-10 13-10 6-3 7 11 16zM1144 1718l-2-13-10-4-7-5 1-2 10-4 10-9 4-1 6 1 4 9 4 3 6-1 4-6-5-18-19-10-12 5-10-1-8 12-6 4-2 4 0 6 10 8-4 6 1 6 3 1 8 0 3 9zM1713 1678l1-4-4-4-6-1-2 3 3 6zM1672 1690l5-6-1-5-4 1-4 4 0 4zM1571 1690l-2-4-4 0 1 4 4 1zM1235 1720l-1-10 4-4 6-1 10 5 2-2 2-8 4-8-2-5-20 7-8 0-4 2-2 4 2 8 0 10 4 3zM1836 1704l5-6-3-5-5 3-3 6 0 2zM1655 1706l4-8-13-4-3 2 1 6 8 5zM1744 1718l4-6 2-6-5-6-9-2-3 6 3 10 2 4zM1630 1716l1-4-3-8-2-4-4 0-5 6 1 6 6 5zM1694 1742l5-4 3-10 6-6 6-10 0-5-6-6-4 1-1 8-5 6 2 10-18 8 0 4 4 4zM1662 1732l2-4-1-4-9-6 0 10zM1246 1748l4-6-2-10-4-6-7-2-1 6 5 8 0 10zM1642 1738l0-8-2-3-4 0-3 5 1 4 4 3zM1757 1732l0-4-3-1 0 5zM1190 1746l-4-1-8-5-3-6 1-5 6-1 8 8 10-1 4 3-3 4zM1519 1734l0-4-3-1 0 5zM1306 1750l11-2-1-8-4-4-8-1-6 7-1 6 1 3zM1154 1754l-6-1-5-5 0-6 3-5 6-1 10 8-1 4zM1746 1754l1-4-7-5-3 7 3 2zM1198 1764l-19 0 9-9 12 9z"/>
<path fill-rule="evenodd" fill="rgb(167,167,167)" d="M1852 1764l-119 0 0-4 2-2 13-1 3-3-1-6-4-6 0-6-4-3-6 3-3 12-9 6-6 1-10-3-10 2-16-1-3-3 0-4 13-1 8-5 17-26 1-8-6-7-12-3-8 16 1 12-7 1-2-8-8 0-4 5 3 6-3 4-4-2-1-6-9-10 2-8 6-7 10-3 2-8 9-12 9-2 8 6 18 2 1-2-13-12-16-6-10 2-5 8-11 6-6 0-5-8 3-17 2-2 10 1 3-4-11-5-6-9-4-3-7 3-9 15-6 1-4 3-4 12-4 1-6-1-3-5 0-8 12-10-2-4-9-8-4 12-6 4-3 4-1 16 3 8-3 8 4 6 10-3 4 1 5 8-2 4-7 5-10-2-5 5 0 4 13 3 4 7-4 5-12 0 0 5 4 2 8-4 14 0 4 3 5 11 5 1 8-1 4-10 9 2 3 2 1 4-8 10 1 2 14 12-56 0 1-8-3-4-4 1-8 8-8-1-3 4-236 0-3-6-6-2-5 4-1 4-103 0-7-3-4 3-16 0 2-14 4-7 10 0 8-8 4 2 2 3-1 8 1 3 6 1 4-3 4-7-3-16-2-4-7-4-2-8 2-1 4 0 8 8 6-1 4-14 6-8 1-12 3-3 12-1 1-2-6-6-5-14-4-2-8 4 2 14-3 6-6 6-15 7-10 0-6 3-2 0-5-6-1-4 2-3 4-1 10 2 4-6-2-3-10 1-5-12-3-4 4 0 8-4 22 0 4-4 1-10 3-4 10 0 8-3 4 0 16 14 16-1 8 7 10 1 8 6 14 3 22-1 12 3 20-7 16 0 14 4 14-3 24 8 8 0 6-2 10-10 8-4 22 5 12-5 10 0 8-5 12 0 12-7 12-9 6-9 12-8 10-1 24 7 6-1 6-4 6-10 10-3 7-7 21-14 9-16 5-4 10-2 6-11 2 0 10 11 2 1 4-1 1-6-7-8-4-3-6 4 0-3 13-10 1-4-4-6 2-4 16 10 6 1 4-1 0-4-7-8 2-8 5-9 12-1 3-2 0-4-3-3-8 1-10-3-5-5-1-6 14-17 4-2 6 20 4 3 6-2 0-6-6-12-2-14 2-3 10-3 4-9 12-1 2-8-1-4-3-2-16-1-4-7 0-10 4-7 8 2 4-1 2-2 2-6-5-8 1-8-2-5-12-3-8 2-6-4 8-14 1-12-1-3-8 1-3-6 2-14 0-14 5-8 0-4-8 2 0 8-4 3-2-1-9-14 0-6 11-18-3-4-11-6-12-26-12-8-10-12-4-28-7-10 4-12-2-8-5-2-16 5-5-13-9-6 2-4 6-1 2-3-34-7-10-10-10-5-2-11-24-3-11-16-19 8-14-8-12-1-6 4-4 0-8-7 0-6 4-2-2-2-8-3-12 1-26-17-8-2-14 2-10-2-22 1-14-3-26 10-22 3-31 18-17 13-14 4-30 22-10 4-26 26-14 8-5 9-5 30-14 18-4 0-4-2-5-4-6-12-7-4-4 0-2 4 1 4 6 8-3 10 0 10 10 14-6 11-4 1-22-3-12 9-4 12-9 4-5 5-8-1-4 1-6 11-6 4 5 18-1 2-6 4 2 16-3 10-3 3-10 4-1 3 1 3 11 3 0 8-3 1-4 0-8-8-14 1-4-9-11-5-3-9 0-73 6 1 6-3 2-12-4-2-10 3 0-55 2 2 8 0 8 4 6-3 2-5-2-3-12 4-8-5-4 1 0-14 3-5-1-3-2-1 0-96 12-2 6-10 6 3 2 7-7 6-2 8 4 14-1 8 10 8 10 2 0-9-2-2-9-3-1-4 11-14 3-10 2-2 6 0 8 9 4-1 1-8-8-8 3-12 8-10 10 5 2-7 8-8 1-4-5-12-2 0-8 12-6 3-12 2-10-7-6 1-3 5-1 6 12 12-2 4-4 3-12-6-10-1-6-10-4 1-8 5 0-29 6-2 7-9-13-8 0-15 2 3 4 1 4-7 20 0-5 14 3 10 6 1 6-3 4-6-3-8 0-8 28 0 5 4 1 8 7 4 0 16 9 6 0 12 5 2 10-6-3-12 14-10-1-18-2-3-6-1-2-2 183 0 1 8 2 2 4-2 0-8 187 0-5 6-18-5-8 5-1 4 8 8 5 9 8 9 6 1 12-11 8-2 4 4 2 10 2 3 14 6 5-3 0-6-11-12-4-8-6 0-3-2-3-6 0-8 1-2 28 0-9 6-2 6 8 8 10 3 2 3 1 16 2 6 5 1 10 0 6 4 10 2 12 5 1 2-5 7 2 4 12-3 17 10 3 12 16 2 5 12 19 18 6 14 4 1 6-4 6-1 10 18 4 4 14-9 6-9 10 6 8 1 14-4 8 2 9-1 13-7 8 4 8-3 3-4-1-5-2-1-10 3-4-1-2-2 7-12 11-10 0-13 2-4 2 1 2 6 4 2 0 9-6-2-3 1 0 2 3 8 6 1 0 642-2 7 2 3zM1138 970l-3 0-1-4 6 0zM1614 994l-6-1-6-8-8-5-1-4 7-3 10 2 4-3 4-6 11 0 0 6-11 7 0 11zM1680 1033l-16-2-8-4-12 3-6-4 4-17 6 1 12 9 5-1 4-4-1-4-10-7-8-9-12-4-2-2 2-8 12 2 4-2 1-8-3-6 19 0 4 8-2 14 3 2 8 2 4 4 2 22zM1848 974l-7-2-2-6 9 0 2 6zM1234 974l1-4-3-2-2 0 0 6zM1440 976l10-4-12-5-7 5 1 5zM1842 1010l-4 0-10-11-8-3-14-11 0-6 6 2 12-7 8 1 2 3-1 16 7 10zM1150 982l-6 1-2-3 2-3 6 0 3 3zM1110 984l-4-5-4 3 4 3zM1222 982l1-2-3-2-5 2 1 2zM1754 1007l-6-1-6-4 0-12-1-6 1-2 4 0 4 3 9 15-1 4zM1408 996l2-4-4-6-4 0-4 4 0 4 2 2zM1195 1004l4-10-15-5-9 3 1 4 8 8zM1712 1003l-4 0-10-5-3-2 1-2 6-1 9 3 3 4zM1460 1010l0-7-4 0-5 3 3 5zM1261 1016l2-2 1-4-2-2-4 0-2 2 0 4zM1792 1014l-4 0 0-4 2-2 4 4zM1078 1016l0-4-2-1-1 5zM1830 1048l-4-2-1-4 3-14 4-3 8-1 4-10 8-2 0 19-8 2-6 12zM1283 1024l4-4-1-4-8-1-5 3-1 4zM1157 1054l6-4 2-12 15-8 3-8-1-3-10-2-12 13-10 0-2 15 4 8zM1217 1068l2-4 1-16 5-6 6-14 0-4-3-2-10 6-10 2-10-1-11 19 3 8 2 0 6-3 9 13 5 2zM1698 1060l-10 0-4-2 0-8 4-8 22-16 4-1 7 3 3 4-4 8-12 0-10 3 3 15zM1792 1060l-4 0-6-7-10 4-2 0 0-5 2-4 4-1 6 2 10 2 3 5zM1551 1060l2-4-2-2-9 2 6 4zM1151 1068l2-4-2-6-3-1-6 3 0 4 2 3zM1190 1102l3-4 0-12 11-6-2-4-7-4 0-10-3-3-6 10-6 1-8-3-4 3-4 14 1 4 15 13 4 2zM1804 1098l-8 1-4-1-8-15-13 3-1-4 2-6 6-3 12 3 14-10 4-1 4 2 5 7 0 12 5 6 0 2zM1730 1089l-10-7 0-4 2-4 8-1 7 5-3 7zM1159 1112l7-6 0-4-6-7-10 2-1-13-5-6-5 0-7 10-10 0 0 4 8 11 14-1 6 10 4 1zM1494 1112l-7-2 1-4 6-1 6 2 0 3zM1145 1142l3-6-3-6-19-12-4 0-4 10 2 8 10 2 10 5zM1768 1136l6-4 0-2-2-5-4-2-4 3-2 6 2 5zM1093 1162l9-10 2-5 0-11-6-9-3 1-2 6-8 8 4 10 1 8zM1785 1144l3-2 2-4 0-6-2-3-6 1-5 4 1 8 2 2zM1500 1544l-4 0-2-2-3-12-3-4-18 1-8 3-5 0-3-14 1-4 7-3 10 2 5-1 2-16 9-2 8-6 2-4-2-6-10 1-5-3 0-4 5-8-1-16-3-3-8-1-2-2 1-4 6-8-1-8-8-5-12-1-3-4 8-12 0-6-6-6-1-4 5-18 5-5 10 0 8-7 12-2 2-2-3-4-1-8-5 6-5 1-8-6-20 0-4 5-2 12-20 7-4-2 0-5 2-4 7-2 1-6-8-12-11-4-9-11-14 1-6 4-16 1-10-9-8-2-14 13-4 1-11-6 17-14 12 4 4-9 6-5 8 1 7 11 11 4 9-14-2-8-13-5-16-3-10 6-4-1-1-3 5-10 2-8-8-10-14-12 1-4 8-8-1-4-4-4-14 1-7-3-2-6 3-16 4-3 13 1 3-11 16-1 8-7 12-4 8-8 10-2 8-5 8-2 6-13 12 1 5 4-1 3-10 3-2 4 6 10-2 14 4 1 6-1 0-12 3-12 5-4 12 3 5-3 5-1 18 7 10-9 8-2 8 5 11 12 0 2-12 16 4 14-10 8 4 8-1 4-11 4-2 8-6 6 4 18 8 14 1 6-2 3-4 1-8-7-10 10-18-17-10 8-6 8-11 8 1 4 6 3 4-1 8-5 7 3 0 6-9 10 4 14 4 4 14-2 8 5 4 0 6-2 10-11 8-14 2-12 10-8 1-16 7-12 8-3 8 4 5-1-1-5-10 0-4-7-1-8-3-4-1-6 1-2 4 2 4 9 8 1 2-18 14-9 16 5 12 1 18 21 3 6-1 4-2 1-22 7-8 13-3 13 9 12-1 8 2 4 11 6 4 5 10 0 2-5-2-6-10-8 1-2 15-8 2 0 4 10 24 6 4 3 3 5 1 20 5 12-5 6-12 6-1 8 3 6 4 3 10-2 3 5-4 8-1 10-2 3-4 2-10-3-2 3 1 7 5 8-1 12-2 4-6 4 0 8-2 6-3 2-4 0-8-5 1 7-2 10-8 10-3 11-18 7-8 10-12 0 0 10-18 13-4 1-10-8-4 0-3 8 5 4 2 4-4 8-6 2-10-4zM1799 1156l0-4-5 0 0 4 2 1zM1316 1162l-10 0 0-4 6-5 12 0-2 6zM1694 1166l-4-1-2-3-2-4 2-4 4 0 2 3zM1465 1248l8-4 2-8-15-3-4-3 0-2 13-10 1-10 16-4 6-4-8-13-6-3-8 0-8 6-5 0 0-4 8-8 2-6-3-6-8-6-10 9-2 13 4 10 15 16-11 3-4 3-3 8 1 12-5 10 13 4zM1496 1184l3-6-9-6-4-9-2-1-4 6 0 4 6 4 2 8 4 1zM1832 1174l-2-4-3 2 1 3zM1820 1186l0-4-2-2-5 2 2 4zM1536 1200l-12 1-7-3 2-4 5-4 10-3 4-3 6-1 3 5 0 4zM1440 1208l3-4 1-4-2-8-2 0-16 12 8 5zM1572 1201l-3-1 1-2 4 2zM1078 1234l1-6-3-3-4 2-2 5 0 2zM1520 1246l-10-2-2-2 0-4 4-3 7 1 3 4zM1666 1252l-5-2 3-5 4 1 1 2zM1306 1275l-6-7-10-2-1-2 7-18 17 12-4 14zM1090 1272l-4-14-6-6-4-1-2 5 2 5 10 11 2 1zM1112 1256l-1-4-6 0 3 4zM1397 1270l4-4-1-4-4-4-6 0-4 5-1 7 3 1zM1718 1455l-12-7-3-4 9-8-2-24-2-3-6 0-3 7 1 28-14 7-4-2-2-5-1-18 3-28 7-22-2-14 8-24-1-16 5-18-5-18-16-22 1-4 3-3 8 3 18 19 24 17-8 6 6 8-1 4-12 12-1 4 6 14 6 6 1 4-5 5-8-4-6 3-3 4-2 14 1 7 8-3 2 1-3 15 6 12 9 8-3 8-10 6-2 4 0 4 7 10 1 4zM1724 1272l-6 1-8-4-3-3 3-3 10-4 7 9zM1142 1292l-4 1-8-1-13-10 0-6 11-12 6 4 10 16 1 4zM1324 1290l-2-2 5-8-1-15 20 5 1 4-2 2-15 8zM1610 1272l-4-2-1-2 3-4 4 2 0 4zM1429 1278l4-4 0-4-3-3-5 3-2 4zM1286 1298l-6-2-3-4 3-7 6-4 9 5 2 4-3 7zM1090 1306l12-8-2-4-4-1-8 9 0 3zM1061 1300l1-4-4 0 0 3zM1529 1330l12-2 4-6-3-10 2-8-12-5-2 1-1 2 9 8 0 2-17 10-3 4 4 3zM1567 1306l1-4-4-3-1 5zM1480 1316l-5-2 1-4 6 4zM1310 1332l-6 1-6-2-12-12 0-5 12-2 20 9-1 5zM1815 1344l4-12-3-4-2-1-5 3-3 10 3 4zM1404 1350l-6 1-12-3-12 3-9-11-1-4 6-7 10 7 4 0 8-1 8-6 6-1 3 2 0 8 3 6zM1328 1352l-4-1-4-3 0-7 8 0 7 5-2 4zM1526 1386l3-6 0-4-18-16-1-16-6 0-6 4 9 12-6 10 0 4 3 2 12 4 6 7zM1068 1476l-10-2-4 2 0-55 12-2 4 1 10 12 6 2 3-2 0-4-6-14 6-8-7-4-7 4-9 1-9-5 7-10-4-3-6 1 0-20 6 1 2-7-2-4-6-1 0-12 4 1 10-1 5 7 10 6 1 4-2 8 2 2 10-5 2 1 3 8-2 10 9 6 2 6-8 28 5 6 11 6-2 2-10 4-14-2-8 14-12-3-5 1 0 6 5 8zM1610 1364l6-4-8-7-4 0-5 5 0 4 3 3zM1290 1374l-16 0-2-8 2-9 4-2 6 3 7 12zM1252 1396l-4 0-2-2 1-14-5-10 2-6 6-3 7 3 1 11 5 5-7 6zM1071 1382l2-4-1-2-7 0 1 5zM1328 1472l-4-2-10-18-14 0-5-6-1-4 6-4 1-4-8-16-1-16 2-4 10-7 8 1 0 4-5 12 0 6 3 5 8 2 4-1 6-10 18-15 8-1 8 7 10 3 10-14 12-5 8-5 14 0 8-6 10 2 1 2-6 8-2 8-13-2-5 10-8 6-5 10-16 6 0 10-2 3-4 2-4-1-4-8-4-2-4 12-5 6 1 8-3 6zM1593 1412l5-4 0-6-4-4-6 2-3-2 7-1 0-9-18-9-3 1-1 6 10 12 1 6 7 7zM1559 1430l5-20-6-8-4-1-4 3-7 10 9 15zM1622 1420l4-4-3-4-7-2-5 2 0 6 3 3zM1523 1426l4-2 1-6-2-3-6-2-6 1-15 10 3 2zM1256 1444l-16 1-3-3 17-22 6 4 3 12-3 6zM1608 1432l2-2 0-4-6 0-2 4zM1276 1440l-4 1-4-3 8-5 2 3zM1059 1448l2-10-3-4-2 2-1 8 1 4 2 1zM1589 1450l5-4 0-4-6-5-6-1-5 6-1 6 4 3zM1814 1448l3-6-1-4-2 0-4 8 2 2zM1356 1576l-12 1-14-6-10 1-8-10 2-5 7-1-3-4-6 3-4 0-12-7-5-8-15-6-10 2-6 0 0-2 2-3 10-1 3-10-7-5-10 0-9-7 4-12 0-8 9 2 5-6 1-12-10-7-3-5 0-4 3-5 6 2 16 16 12 1 3 6 1 14 10 13 8 18 10 8 12 17 4 8 20-2 10 4 8 1 5 5 9 1 2 3-2 4-14 5-4-2-6-5-4 0zM1458 1470l-4 1 4-19 8-2 2 4-5 12zM1562 1466l4-2 0-4-4-3-6 0-2 3 1 4zM1154 1589l-11-3-4-6 7-16 0-8 5-8 0-10-13-5-10 0-6-3-10 1-6-7-10-3-8-8-17 1-5 7-12 1 0-21 8 9 4 2 4-3 2-5-4-5-14-2 0-12 12-7 10 2 18-1 6 13 8 3 4-3 0-4-10-10-2-4 2-8 4-6 10-1 8 2 12 2 5 3 3 4-2 7-3 3-11 2-5 18-9 6-1 4 3 5 8 4 10-4 23 3 2 2 0 6-5 10 14 0 7 6 0 4-3 8 4 12-14 8-3 10zM1678 1478l-3-2-1-4 8-13 5 7 1 4-5 6zM1582 1478l0-4-2-2-11-2 11 8zM1642 1492l-8-4-2-4 1-2 7-1 4 3 0 6zM1148 1505l-4 0-2-5 7 0 1 2zM1574 1534l-4 0-1-8-6-6-1-4 7-8 7-2 8-5 2 1 0 4-8 3-5 7 0 6 6 8zM1490 1518l3-6-14-2 1 4 4 5 2 1zM1078 1534l-1-6 3-6 4-2 9 2 1 6-2 3zM1110 1606l-6 1-12-7-4-8-8-6-2-14-4-6-15-2 0-8 7-19 10-3 1 8-5 10 2 10 2 1 10-3 2 10 6 6-1 10 3 4 12 4 5 8zM1124 1578l-10 1-6-9-8-1-1-11-5-4-6 0-2-4 2-2 6 0 18-13 3 7-1 14 3 8 8 8zM1412 1558l-3 0-1-2 6-5 5 1 0 4zM1748 1590l0-4-6-8-3-10-11-6-1 8 2 8 11 10 6 3zM1198 1614l-12 0-9-14-6-6 1-4 4-3 8 4 8 0 4 2 7 13zM1126 1608l-4-2-2-4 4-5 5 3-1 6zM1074 1660l-2 1-2-2-5-9-11 1 0-8 11-13 2-10-2-4-5-2-6 6 0-11 10-7 5 2 18 20 1 10 4 12-3 6zM1166 1659l-6 0-10-4-10 3-2 0 2-6 8-6 0-22 6-22 3 2 3 10-8 12 1 6 9 5 10-5 5 2-1 6-12 6 3 10zM1218 1614l-6 1-3-5 1-4 4-2 5 2 1 4zM1784 1618l-4-8-2 4 2 4 2 2zM1212 1636l-6-1-2-12 6-1 14 4 1 2zM1800 1654l-1-4-6-4 1-12-4-8-4-3-2 15 10 15zM1826 1628l-2-3-2 1 2 4zM1112 1640l-5-2 3-10 6-2 5 2 2 2-1 4zM1166 1714l-8 1-8-2-3-3-3-10-7-4 1-2 9-10 5-2 12 15 4 0 9-11-4-10 3-8 14-19 4-1 6 2 1 4-5 10-10 7-6 11-1 2 8 10 0 4-17 8zM1116 1669l-4 0-4-5 2-6 4-2 6 1 3 3zM1832 1670l0-6-4 0-2 6zM1068 1679l-4 0-5-3 13-11 2 7zM1765 1668l-3-3-1 1 1 2 2 1zM1634 1676l-6-2 4-7 5 3-1 5zM1808 1680l4-7-4-3-8-2-2 4 2 4 4 4zM1620 1682l-4 0-4-2-3-4 1-2 8-3 7 3 1 4zM1732 1684l12-12-8-1-8 9 0 2zM1136 1728l-10-3-8 3-6-4-8-18-2-13-5-7 3-7 4-2 4 1 2 12 6 6-1 14 9 11 15 3 0 2zM1327 1706l4-4 0-6 3-8-2-4-4-3-2 1-2 4 4 10-6 8zM1574 1700l2-4-1-8-7-6-6 1-2 3 2 4 8 9zM1745 1720l8-10-2-8-21-15-8-1-3 8 9 5 8 19 4 3zM1303 1690l-3-4-2 4 2 1zM1636 1694l0-4 2-3 1 3zM1074 1706l-2 0-4-6 0-10 2-2 16 2 1 2-8 6zM1838 1706l6-8-2-6-4-2-6 3-8 11 4 3zM1646 1712l-2 1-4-1-6-8-2-4 2-6 5 10 7 6zM1519 1704l2-4-3-1-3 3zM1070 1718l-11-6-2-4 1-3 6-1 6 6zM1202 1712l-8-1 0-7 4-2 6 2 2 4zM1226 1724l-4 1-4-1-5-10 0-6 7-6 2 0 3 6-1 10zM1308 1710l4-2-2-2-2 0-2 2zM1574 1728l7-12-1-4-4-2-6 2-4 4 3 12 3 1zM1526 1748l5-14-1-2-16-8-4-9-4-1-4 2-2 6 10 4 2 12 12 11zM1283 1760l2-8-4-14 4-16-5-3-3 3 0 14-6 8-1 6 4 5zM1402 1724l-1-4-3-1 1 5zM1756 1736l5-6-1-4-4-4-5 4-3 8zM1330 1760l4-2-1-4-9-7-8-13-12-8-10 16-2 10 1 2 5 1 12-3zM1802 1738l2-8-4-4-2 1 0 5 2 6zM1072 1736l-2 0-2-2 4-7 2 5zM1345 1738l-1-4-2 0 0 5zM1110 1764l-9 0-7-14 1-4 7-7 10 1 10-3 2 3-1 4-9 1-6 7 0 4 4 8zM1384 1746l0-6-5-2-2 4 1 4 2 1zM1156 1750l-4 1-4-1-2-4 2-4 4-2 6 4zM1789 1750l2-4-3-2-4-1-3 3 1 5zM1813 1754l3-6-4-2-5 2 1 6zM1078 1764l-10 0 1-8 3-5 4 0 4 5 0 6zM1716 1764l-5 0 5-4 2 4z"/>
<path fill-rule="evenodd" fill="rgb(183,183,183)" d="M1064 984l-10-4 0-6 2 3 4 1 3-2 3-10 14 0-6 13zM1054 1030l0-23 4-1 14-12 4-2 14 0 10-6 10 4 4-2 0-4-3-6-12-4 0-8 18 0 6 4 1 4-6 14 3 4 7 5 1 5-5 10-6 3-12-1-2-2 0-8-2-2-4 2-12 10-8-7-4-1-6 11zM1200 988l-8 0-8-4-10 1-2-5 4-12 5-2 45 0-4 8-10 3-3 9zM1852 1764l-51 0-3-4-5 4-7 0-1-8 9-6 5 0 5 6 8 2 10-12-14-5-1-13-7-8-4-8-10-2-6-4-2 1-1 9-5 6 0 4 6 1 6-8 4 0 5 7 1 13-4 2-10 0-8 5-2 4 2 14-20 0-2-2 4-12-3-8 10-6 2-10-6-10-3-16-15-8-1-6 2-5 10-7 4-5 18 7 3-2-2-4-15-12-3 2-3 7-14-1-3-2-1-9-10-3-2 2 0 4 10 8-2 6-4 2-6-1-16-13-4-1-20 3-8 10-8 3-4-5 2-11 2-2 12-1 12-8 0-4-8-3-14-1-8-11-10-3-7 4 1 8-4 4-10 3-2-7-8-6-4-8 2-6 6-4 24 9 4 0 9-7 7-10 10-3 10-11 18-12 5-6 3-8 6-4 3 2 4 14 3 4 14 12 4 1 4-2 3-7-9-8-2-12-8-6 0-4 4 0 6 7 8-4 2-7-7-12 8-8 21 0 14-4 0-4-8 4-4-1-7-11 1-3 12-11 4 0 4 8 2-1-4-21 5-6 1-4-1-8-5-10 2-12 9-4 3-8 2-1 2 3-3 4 0 4 3 4 8 3 7-17-3-8-1-12-3-3-18-2-4-3-1-4 1-6 2-3 8 2 9-5 2-12-4-6 1-10-3-4-9-2-3-4 5-8 12 1 3-1 3-12 0-6-4-3-10 1-2 2-2 8-6 4-2-4 2-16-2-2-12 7-3-3 5-24 4-9 4-4 10 0 6-5-6-4-10 3-8-1-16 4-4-1 0-5 11-14 0-6-5-5-10-5-7-14-3-10-14-10 4-11-2-6-4-3-6 8-2-1-4-19 1-14-4-6-2-18-7-2-12 4-4 0-3-14 2-12-19-5-16-2-10-11-10-4-2-10-26-9-10-13-4 0-8 7-8 1-8-6-15-2 0-10-3-3-26-5-6 5-4-1-14-11-16-7-42 1-20-3-30 9-18 2-18 9-34 24-14 5-28 21-10 4-26 26-14 8-6 8-5 32-13 13-6 0-9-11-7-6-6-2-4 1-2 9 5 8-1 20 2 6 6 7-2 5-4 2-6-1-8 1-14-3-2 7-7 8-3 9-14 7-9 0-9-9-12 1 2 4 12 6 2 4-4 6-12 3-4-2-4-5-2-10-5-10-1-16-3-6-7-1-9 7-9 4 0-46 8-1 4 2 2 5-2 6 4 1 12-17 2-10 0-2-4-1-12 7-6-3-5-5 3-14-2-5-4-1 0-54 22 3 14 7 8 9 2-1-2-20-3-8-5-2-1-4 13-17 6 5 2 9 5 1 6-12-8-18 1-8 6-6 14 2 2-2 1-8 5-3 2 3 4 26-14 10 7 10-9 11-10-2-4 2-2 9 10 13 16-1 8 10 4 1 12-5 8 2 2 0 2-5 14-4 3-3 2-12 7-3 8 1 4-2 0-2-8-5-2-5 2-2 8 2 4-2 2-4 0-15 6-7 7-18-3-6-4-2-10 7-6 2-18-1-1 8-8 14 1 12-2 5-6 1-10-6-5 8-5 1 0-9 8-3 2-17 13-6 8-12-5-7-18-4-4-9 6-4 18 10 22-2 3-2 0-12 3-4 10-1 4 7 4 0 8-4 1-2-5-8 6-6 2-1 18 1-6-5-12 2-8-5 70 0-7 6 3 4 6 1 6-3 0-4-3-4 29 0 0 14 4 2 12-4-4-12 52 0-3 6 2 10-6 6-1 4 2 5 6 3 8-1 3-5-1-6-8-8 6-10-2-4 26 0-8 2-3 4 1 8 2 2 28-8 0-4-3-2-10-2 36 0-7 8 8 13 4-3 2-11 4-1 10 4 6 8 6 4 16 18 6 1 6-9 10-6 4 4 2 10 8 6 10 3 10-5 8 8 12 0 3 2-1 8 3 2 3 0 8-5 8 2 2 11 2 3 12-2 4 2 12 9-2 8 4 4 4 1 8-2 6 2 6 10 7 7 6 8 5 4 8 15 4 1 6-5 4 0 10 17 6 5 4-1 18-15 10 6 18-4 8 2 22-6 10 4 14-9 3-6-1-8 4-2 0 633-7 11 7 12-1 16zM1506 968l-4 0-3-2 13 0zM1678 1028l-6 0-6-2 9-14-6-6-11-6-11-12 9-4 2-2 1-10-3-6 12 0 4 8-4 10 0 8 2 2 10 3 2 3 1 10 3 8zM1291 984l4-12-7-5-4 0-1 5 1 12 4 1zM1187 978l2-6-3-2-2 2 0 4zM1560 980l-4-2-1-4 3-4 4 2 1 4zM1370 978l1-4-3-2-4 2-4 4 4 1zM1612 992l-4-2-8-10 0-3 14 3 2 8zM1826 994l-7-2-3-6 5-6 5-3 3 1 2 4-2 8zM1586 1006l-2 0-2-2-8-12 10-1 4 2 2 7zM1752 1002l-4 0-4-2 2-8 2-1 4 5 2 4zM1318 1006l13-10-5-2-13 6-1 2 1 4 1 1zM1458 1014l7-4-3-13-17 7 7 8zM1285 1026l6-6-3-6-6-2-12 3-6-9-8-3-6-4-4 1-5 6 0 2 6 4 0 6 17 2 4 6zM1237 1010l2-2-5-2-4 2 2 3zM1388 1014l1-4-1-2-4-2-3 2-1 4 2 2zM1423 1014l2-2 0-2-5-2-1 4zM1499 1014l-1-6-4-2-1 6 3 2zM1650 1024l-4 0-2-2 1-8 3 0 6 6 0 2zM1158 1026l-4-2-1-2 5-5 6-1 0 6zM1852 1029l-4 0-3-1 0-6 3-5 4 0zM1094 1040l-10-6-10-2 0-6 8-3 6 7 8 4 0 4zM1716 1038l-12-2 8-8 4 0 5 4-2 4zM1834 1044l-5 0-1-4 2-8 4-2 4 1 1 3-1 6zM1694 1058l-6-1-1-3 1-6 4-3 5 9 0 2zM1238 1052l-2-4-3 4 3 2zM1066 1090l-8-2-4 2 0-6 3-8-3-6 0-8 4-2 6 0 4 4-1 8 5 12-2 4zM1546 1068l-4-1-2-4 6 1 2 2zM1804 1096l-8 1-4-2-3-13 14-12 5-2 6 4 1 6-6 8 3 6zM1156 1085l-4-2-5-9 5-2 5 2 2 6zM1728 1086l-6-4 0-4 2-3 6 0 3 3 0 6zM1836 1089l-4 0-1-5 5-6 4 0 3 6zM1143 1146l7-6 0-8-25-18-3-8-4 0-2 4 2 8-3 12 2 10 5 3 8 0 4 4zM1096 1166l5-8 8-6-1-16-10-17-7 5-1 8-8 10 5 10 1 14zM1794 1164l8-6 3-4-3-6-8-4-1-16-3-2-12 1-8-8-6 2-3 5-3 10 4 14 4 1 20-3zM1069 1134l3-8-1-4-3-2-4 2-4 8 6 5zM1824 1148l8-8 12-5 3-3-1-4-4-2-4 1-14 10-5 9 1 3zM1508 1172l-6 1-9-5-3-8 6-8 8 0 8 8 1 6zM1314 1160l-4-2 2-2 7 0 0 2zM1472 1166l-8-4-2-4 4-2 9 4 1 4zM1448 1352l-6 1-5-1 2-12-7-11-10-5-3-4 1-12-6-12-8-3-5-7-11-6 0-4 13-6 2-4-2-4-7-6-8 0-11 20-14 0 0-10-2-6-19-18 0-4 8-8-2-6-6-6-14 3-6-5 2-14 2-3 16-1 4-9 18-4 6-7 8-2 8-7 10-3 10-6 6 0 11 10 1 6-7 8 15 6-2 6-10 4 1 6 9 7 10-1 3 2-3 10 1 10-8 6 0 4 3 6 12 8 2 6-10 8-8-9-4 0-9 7-2 4 9 8 0 10 8 4 12 2-3 10 8 22-2 8 1 10zM1446 1162l-2 1-1-1 3-4 3 2zM1821 1192l3-2 3-8 9-8 0-4-3-2-7 0-6 8-8 2-3 4 0 4 5 5zM1122 1186l-4-4-14-3-2 1 0 4 3 2 13 1zM1773 1182l1-2-2-1-2 3zM1506 1198l-6 0-4-4 0-4 6-5 5 7zM1534 1196l-6 1-4-1 2-3 6-1 5 2zM1480 1216l-4-2 2-4 14-3 7 5-1 2-12-3zM1502 1540l-4 1-3-3 2-16 12-8 4-14-7-1-16 7-4-2 1-4 11-11 5-13-5-5-10 2-1-1 3-10-3-16-3-4-8-2-1-2 6-10 1-12-18-8 3-20 6-6-5-4-4-1-2-1 2-10 4-4 10 1 8-8 11 1 3 4-3 12 1 10 7-2 7 0 10 11 4-2 8-11 6-2-4-7-10 0-7-5-4-8-1-12 2-4 8 1 6-7 6-2 6 0 8 9 6-3 2-6-2-6 2-10-8-7-4-8-14-6-8 1-1 6 7 6 1 4-5 5-12 5-2 12-2 3-8 1-8-8-1-4 16-22 3-12 8-6 2-17 6-13 6-1 20 7 11-6 2-8-3-8 0-10-14-3-2-5 0-4 12-7 24 4 3 3 2 6-9 6-8 14 3 12-5 24 9 12-5 6-8-3-5 1-2 4 0 6 5 8 6 4 2 0 1-10 3-7 14 9 6 7 14 1 4-2 2-8-6-10 0-4 4 1 6 7 10-4 16 5 3 7 1 18 4 12-6 5-11 1-2 6 3 12 12 16 2 8-4 3-8-3-4 1-2 5 0 12-4 3-24-2-8-13-3-8-13-6-4-10-12-1-4-8-4-2-2 1 0 6 7 10 1 13-12-1-4 12-16 12-20-2-8 6-8 4-1 4 2 4 19 3 12-4 6-9 4 0 4 3 4 7-1 10 1 2 8-3 8 4 3-1 2-4-2-10 0-4 9-11 4 1 8 6 16-6 2 0 2 6-12 15-10-3-8 8-4 8 0 6 0 2 8 4 0 4-5 0-5-7-14-3-10 9-10-1-4 3-3 11 1 1 12-6 4 5 0 6-6 8-12-3-6 3 0 4 5 10 0 6-3 6-8 4 0 10zM1101 1224l2-2 0-4-5-5-4 1 2 8zM1419 1236l-4-6-7-2-1 2 7 6zM1466 1230l-3 0-1-2 6 0zM1128 1234l1-2-3-3-4 1 0 5zM1370 1240l1-4-3-3-8 5 0 2 2 1zM1592 1246l-5 0-1-4 6-9 6-1 6 4 1 6zM1476 1272l-2-2 0-9-12-1-5-4 0-2 17-5 6-7 2-1 4 7-3 8 1 8zM1542 1243l-2 1-2-2 2-2zM1086 1332l-2 1-8-4-8 2-4 0-3-3-2-6-5-5 0-14 10 0 2-7-2-4-10-4 0-34 4 1 10-3 14 22 8 8 0 12-6 8-1 6 7 5 8 0 3 3 1 6-4 6zM1306 1265l-11-3 0-4 3-5 4 0 5 5zM1418 1264l5-6-5-3-4 1-3 6 1 3zM1690 1447l-4 0-4-3-2-18 4-32 8-20-3-12 7-22-1-18 6-16-6-20-8-16-5-6 2-3 6 3 1 6 24 18-1 14 8 12-10 14 0 6 8 16-10 4-8 10-1 20-2 8 1 2 8 1 3 7-3 2-8-1-3 13 1 12-2 12-2 4zM1496 1273l-4-3-1-4 3-1 2 2zM1066 1282l4-1 3-3-7-5-6-1-3 4 1 2zM1138 1289l-14-4-3-3 1-5 4-4 5 1 9 12zM1288 1294l-4 1-3-3 2-4 3-2 4 1 2 3zM1376 1316l-5 0-11-10 0-4 2-4 4-1 5 3 3 8 5 6zM1801 1316l3-1 2-3-5-4-3-8-4-1-3 3-1 6 6 8zM1400 1310l-2 0 0-4 2-1 2 3zM1338 1321l-6-1 0-4 6-6 6-1 1 5zM1070 1320l4-6-4-4-5 8 1 2zM1636 1338l3-6-1-8 4-8-4-5-12 5-3 6 4 10 5 5zM1308 1329l-4-1-4-2 0-5 6-2 5 3 1 4zM1472 1334l-8 0-3-2 1-2 4-3 4 0 4 5zM1378 1346l-4 0-6-7 0-5 4-1 8 7 9 2zM1484 1338l-2-2 2-3 2 3zM1080 1342l-4 0 0-2 6-6 1 6zM1607 1370l17-8 7-8-1-4-13-8-1 2 2 8-4 0-6-4-11 8-3 4 2 4 6 7zM1328 1348l-4 0 0-4 5 2zM1076 1372l-10-3-2-9-4-6 2-2 4-1 15 11-1 5zM1535 1364l2-6-5-3-1 5 1 3zM1286 1372l-9-2-1-6 2-4 4-1 2 2 3 7zM1250 1375l-4-5 2-4 2-1 3 3zM1058 1386l-4 1 0-14 7 9zM1094 1428l-4-4-3-8 7-6 1-4-7-8-2-6-6-3-8 12-4 2-3-1 4-12 7-6 2-6 14-4 3 4-2 12 1 2 8 2 4 6-8 23zM1340 1462l-14 1-10-13-12-1-3-1 4-12 0-12 15 1 10-13 8-4 6-8 6-4 4 1 6 6 12 7 2-1 10-18 18-8 14-1 12-4 1 2-5 8-12 2-4 10-11 8-5 8-8 3-10 0-2 5 5 6-1 5-2 1-3-2-3-8-8 0-5 12-9 3-1 3 5 8 0 4-3 4zM1572 1398l-2 1-3-1-1-6 5 2zM1302 1421l-4-1-2-4 1-14 4-6 5-3 3 3-6 12zM1489 1416l8-14-3-6-6 4-5 16zM1720 1425l-4-1-3-4 1-6 2-2 6 2 3 4-1 4zM1080 1455l-5-1-9-6-2-4 1-8-5-5-6 0 0-6 12-4 5 3 4 6 0 8 7 2 3 4-1 6zM1626 1442l-9-8-1-4 2-3 4 0 7 7 0 6zM1252 1440l-6-1 0-3 4-6 4-2 2 2 1 6zM1106 1442l-6 1-3-1 0-4 5-2 5 4zM1592 1480l-3 0-1-2 0-10 4-6 1-8 6-8 0-8 5-1 4 3 2 6-1 12-6 10-2 8zM1064 1471l-10 0 0-18 10 15zM1266 1464l-4 0-3-2-1-4 2-2 2 0 5 4zM1116 1526l-9-6-9-3-10-8-9-1 1-3 6 1 6-3 4-9 12 4 4-2 3-6-1-4-9-12 2-10 27 0 7 6-1 6-15 4-4 18-9 5-1 3 1 9 7 7 1 2zM1780 1486l-12 0-6-6 2-6 10-11 2 1 3 10 5 8 0 2zM1680 1474l-2 0-1-4 5-3 1 3zM1330 1554l-4-1-6-6-10 3-8-2-8-10-14-7-2-15-24-8 6-1 11-9-2-8 1-10 4-10 16 3 2 2 1 7-5 6 1 2 7 4 10 12 6 16 10 7 12 17 0 5zM1546 1516l-6-2-4-6 4-17 8 0 2-1 0-8 2-2 14-4 6 1 8 9-2 6-14 2-2 10zM1072 1495l-12-1-4-4 10-7 16 0 5 1 6 8-15-3zM1520 1486l-2-3-4 1 2 3zM1054 1518l0-12 4 6-1 4zM1464 1526l-4 0-1-2-1-8 2-3 4 1 6 7 6-2 3 3-3 2-6-2zM1148 1532l-18-2-3-2 1-4 6-6 20 3 1 5zM1086 1530l-4 0-2-2 2-4 4-1 4 3 0 2zM1526 1534l-5-4 0-2 5-3 4 3 0 2zM1164 1562l-12-8 3-10 3-3 8 0 3 3zM1110 1564l-2 0-9-12 3-6 6-3 2 3zM1066 1562l-4-1 0-3 2-7 4-2 2 9zM1354 1574l-8 0-12-8 2-3 18-9 8 0 5 4 1 4zM1845 1570l5-6 1-4-3-3-8-1-4 4 0 6 4 5zM1766 1578l12-10 8 0 0-2-14-4-4 0-6 10 0 4zM1324 1568l-4 0-2-4 6 1zM1154 1584l-6 1-4-2-2-3 6-14 4-2 5 4-1 12zM1122 1576l-4 1-4-1-1-4 1-4 6 2 3 4zM1826 1574l1-4-3-1-1 5zM1106 1604l-7-2-2-4 1-2 8 0 3 4zM1196 1610l-8 0-9-14 1-2 13 2 6 10zM1739 1630l2-4 0-4-6-6 2-8-1-5-6-2-9 3-1 2 14 10-3 8 1 5zM1800 1660l5-6 0-4-7-7-4-17-10-18-3-2-4 0-2 2-1 6 7 12-1 13 9 15 9 8zM1830 1616l7-4-5 0zM1758 1624l3-6-7-6-2 3 1 7 1 3zM1076 1631l-4 0-2-3 1-6 3-3 4 1 3 4-1 3zM1827 1638l1-1 1-7-3-12-8 4-3 4zM1584 1764l-169 0-5-3-8 3-47 0-2-8-9-6 6-18 6-6-1-2-5-1-11 9-2 6 2 8-3 3-8-3-16-22 0-6 4-4 16-5 2-2 2-7-1-16-7-6-4 1-2 5 1 12-7 5-8-3 2-20-3-4-10 2-7 13-6 1-2-4 8-8-8-10-2-12 8-10 10 4 12-3 10 9 8 0 10 6 16 4 20-2 12 2 20-6 16-1 14 5 10-3 6 0 20 7 8 0 9-2 9-10 8-4 6 0 12 5 20-5 10 8 3-2 3-8 12 1 4-6 28-22 2 3 0 12-9 10-2 24-11 8 1 2 9 2 8 9 2 1 6-4 4 0 2 2 0 4-6 2-6-4-14 13-6 2-6-5 0-19-12-6-6 3-3 4 1 4 5 6 6 10-7 6-2 6 7 14 7-1 6-9 8-7 8 1 3 2-5 6 0 12-8 6-1 4 3 6-2 12zM1212 1634l-4-2 0-4 2-2 4 1 2 3zM1114 1636l-2 0 0-2 4-3 1 3zM1074 1654l-4-6-8-4-1-2 3-6 6-3 14 6 5 7-2 4zM1714 1646l9-6 1-4-1-2-5-1-2 2-5 9 1 2zM1282 1641l-6-1-1-2 1-2 6 1 2 3zM1748 1640l0-4-2 0-1 4zM1158 1654l-4-4-3-8 1-5 7 5-3 6zM1264 1652l-6-1-1-7 2-4 9 1 2 3 0 6zM1622 1662l-4 0-4-2-1-6 3-4 8-1 0 9zM1246 1684l-6 0 2-12-2-4-12 3-4-2-1-5 3-4 12-2 4 2 2 5 2 1 10-2 4 1 2 5-3 6-5 4zM1830 1674l4-3 2-5-2-4-4-3-4 3-4 8 2 3zM1807 1684l10-10-1-2-18-10-2 8 0 4 6 8zM1178 1677l-1-3 3-3zM1668 1719l-6-4-1-7 5-5 14-3 2-12 8-8 4 0 6 5 10-2 5 3 0 4-3 4-4-1-8-4-2 1-13 14-3 6zM1104 1686l-2-2 2-3 2 3zM1158 1710l-6 0-3-4-2-16 3-5 4 3 6 10 0 10zM1839 1708l5-4 2-6-3-8-5-2-6 3-11 13 2 4 3 1zM1178 1698l-4 0 2-5 4-3 4 4zM1518 1708l6-6 0-4-4-2-8 4 2 7zM1278 1764l-17 0-3-3-19 3-7-6-8-2-4 2-2 6-3 0-4-4 0-6 3-7 10 0 8-6 2 1-1 8 2 4 11 1 5-5 2-6-1-20 10-6 4-14 10-7 12 0 11 3-5 14-4 2-12 0-4 2-3 6 2 12-7 14 1 4zM1220 1716l-2 0-2-4 1-4 3-2 2 4zM1722 1750l-8 1-17-3 5-6 5-10 7-8 10-18 14 16 4 2 5 0-3 4-10 6-4 11zM1529 1754l1-10 4-7 4 0 10 5 7-6 1-4-10-4-20-2-10-6-4-8-10 2-5 6-1 5 10 3 4 12 8 6 5 8zM1404 1728l8-3 1-3-13-8-4-1-3 5 3 9 4 2zM1290 1738l-2-1 0-7 2-3 4-1 3 6zM1434 1736l3-2-3-6-4-1-3 3-1 4 2 1zM1600 1755l-4-1-4-6 2-10 8-1 14-6 6 0 3 3 2 6-5 6-4 2-10 0zM1377 1754l11-8-2-8-6-5-4 3-4 9-5 7 5 3zM1656 1744l-4 0-1-2 0-4 3-3 6 3 0 4zM1445 1740l-3-4-3 2 3 4zM1104 1750l-4 1-2-3 3-4 5-2 3 2 0 2zM1472 1750l0-7-4 0-2 3 0 3 4 2zM1666 1764l-13 0-3-6-6 1-8-3-3 2-2 6-14 0 5-13 20-5 6 2 4 9 8 0 8 7zM1300 1764l-9 0-1-4 16-5 5 3-1 2zM1328 1764l-12 0-1-2 5-2 10 4zM1750 1764l-12 0 0-2 6-2 6 2 2 2z"/>
<path fill-rule="evenodd" fill="rgb(199,199,199)" d="M1070 976l-2-2 1-8 8 0-3 8zM1112 970l-8 1-1-5 8 0zM1220 971l-4 0-4-5 10 0zM1850 1764l-29 0-3-6 2-5 4-2 8 2 5-3 0-4-5-4-20-3-2-2-1-9-13-19-8-1-8-5-4 0-2 13-6 6-4 0-4-6-1-10 1-4 7-6-1-6-4-4-6-1-4 8-4 0-6-2-2-5 4-5 8-1 6-4 16 4 3-4-1-6-14-13-12-7-2 0-1 10-6 2-1-10-14-6 4-12 6 0 3 2 3 9 6 4 10-13 4-14 4-4 4 0 6 5 2 5-3 14 18 20 1 12 8 13 2 1 14-11 12-1 6-5 2-7-5-10 4-8-5-8-1-14 1-4 8-6 2-4-4-3-6 0-18 11-3 4 1 6 17 24-9 14-4 2-7-2-4-4 5-12-10-9-5-21-11-16-14-2-2 11-4-1-7-6-7 0-4 4 0 11-5-7 1-13 10-5 8-12 6 0 10-11 10-1 4-2 0-4-3-4-17-4-4 2-4 6-4 15-10-3-2-6 0-4 10-10 0-10 8-6-2-4 2-2 6 0 4 2-6 6 2 2 4 1 4-3 0-6 12-5 4-3 3-20 0-12-3-8 5-8-2-12-5-10 2-6 4-4 4-1 10 7 3 6-1 8 4-2 5-8-1-12 5-12-5-10-1-12-5-7-16 0-4-3 2-2 8 1 8-7 3-10 5-8 0-4-7-14-10-8 3-2 10 0 4-20-3-6-11-4 1-10-11-16-6 0 0-3 8-1 9-6 2-2 0-4-9-5-10 3-16-1-4-1 1-6 7-8-1-4-10-10-2-10-8-4-3-16-10 0-6-4 2-14-6-9-10-4-1-7 2-16-6-10-1-11-8-3-14 4-3-2-1-12 2-8-2-5-36-7-4-4-4-12-4 0-4 2-3-8-15-6-8-8-8-1-8-11-4 0-8 8-6 0-7-8-1-8-5-2-27-3-16-5-2 0-3 6-3 0-6-4 0-10-6-5-10 4-12-2-44 0-14-3-30 10-22 1-16 10-32 24-14 5-10 8-10 5-8 8-12 5-8 10-16 14-13 8-6 6-5 18-2 16-10 12-4 1-4-2-9-9-7-5-6-2-4 1-6 16 5 6 0 18-1 3-4 1-2 8-2 2-10-2-12-14 4-12-3-6-5-1-3 11 2 8-1 8 8 12-5 8-2 10-4 4-13 3-12-8-18-2-6-6-8-17-10-3-6-6-5 1-3 9-2-4 0-27 6-2 4 2-2 10 2 3 8-2 4-3 2-8 7-8 5-13 6 0 2 3-5 18 3 10 4 0 6-12 23 0 1-2-1-2-11-10 4-6 0-4-2-1-3 3 1 8-6 1-8-7-3-6 3-5 9-3 1-11 5 3 7 7 14-4 14-9-2-12-6-6-11-4-5-6 0-4 10-4 12 11 6 1 8-4 14 6 2-2 1-8 13-8 3-12 5-2 8 1 7-3 1-10 8-16 4-1 10 2 4-1-4-16-7-6 3-6 10-1 6-10 6 1 4 6 4 2 16-1 8-5 2-6-4-7-4-2-14 3-6-8-8-3-8-7-4 1-7 7-5-1 0-3 2-2 10-4 2-2-5-10 13-2 14 3 2-1 0-2-10-12 18 0-1 12-5 6 2 4 4 1 14 0 3-1 1-9 10 2 10-5-3-10 22 0 1 8-2 10 2 2 16-3 12 2 8-4 4 5 6 1 5-3-2-4-9-3-8-7-12 1-4-5 45 0-1 16-5 8 2 6 5 5 10 3 8 11 8 2 3-1 0-4-11-12 3-10 19-10 18-4 2-4-4-6 17 0-6 8 8 10 1 8 2 1 10-1 4 8-3 10 3 6 6 3 6-3-6-16 4-8 6-3 6 4 10 13 10 7 1 7-7 6 2 2 6-2 8-6 1-8-4-10 5-6 4-1 2 3 1 8 7 6 12 5 10 1 6 4 14 0 1 8 5 2 6 0 6-3 4 1 6 12 4 2 10-2 4 2 6 16 8 6 4 1 8-3 4 1 15 17 3 7 8 6 8 15 4 1 8-5 12 16 8 5 18-11-6 14-10 5 0 7 8 0 8 12 22-1 5 9-3 5-18 9-2 8 2 4 8 0 4-7 10-3 4-8 14-14-1-6-9-12 6-8-6-4-2-4 1-2 11-6 10-3 18 4 5-5 11-8 0 51-12 13-15 0-7 7-10 5-4 6 3 8-1 4 2 2 4 0 14-6 5-8 9-9 8-1 4 5 0 227-2 0-1 4 3 6 0 123-6 8-12-1-1 10-9 4-6 14 3 4 5 1 8-8 10 6 8-10 0 26-4 11 0 2 4 0 0 19-2 3 0 6 0 6 2 0 0 16-4-2-2-9-2 3 6 8-1 8 3 6 0 41-3-3-2-16-7-7-8 3-12 12-2 4 4 6 4 1 20-3 4 2-2 10-6 10 6 14zM1666 976l-2 1-5-11 6 0 2 6zM1198 986l-6-2-1-2 3-10 4-4 9 0 3 4-2 8-4 4zM1418 982l-4 0-2-2 1-4 3-3 2 1 2 4zM1824 990l-2 0-2-4 6-5 1 7zM1612 988l-2-1-1-3 3 0zM1090 1008l-6 0-7-6 0-4 15-4 8-5 4 2 3 5-1 2-9 2zM1318 1010l8-7 11-3 1-4-2-4-8-3-22 9 6 13zM1664 998l-6-1-2-3 0-4 6-2 3 6zM1210 1026l-14-6-5-6 11-5 12 2 1-15 5-5 3 3 4 8-7 12-1 8zM1458 1016l11-2 3-4-4-8 4-6-3-2-9-1-8 6-8 0-3 3 1 6 12 7zM1120 1012l-6 0-5-2 0-12 7-3 9 5 0 8zM1586 1000l-4-1 0-4 5 1zM1356 1016l12-8 0-6-4-1-7 5-2 4zM1176 1010l-6-4 6 2 2 2zM1386 1018l6-4-1-6-7-4-5 2-2 4 2 8zM1054 1028l0-13 4 3 1 4zM1678 1023l-2 1-1-2 3-4 2-1 1 3zM1852 1026l-4-1 2-5 2 1zM1716 1034l-4 0 0-2 4-1zM1832 1042l-1-4 3-4 2 2 0 3zM1128 1062l-4 0-2-3-6-11 0-6 4-4 14 1 6-1 4 6 0 8zM1180 1061l-4-1-4-4-2-12 3-4 9-2 3 2-3 10 0 8zM1283 1056l2-6-5-1-2 3 0 4zM1694 1054l-2 1-2-3 2-2zM1564 1062l-3 0-1-2 4-1zM1110 1131l-4-9 1-12-3-6-7-26 5-8 2 0 2 8 7 6 0 10 3 6-5 8 4 12-3 9zM1802 1094l-8 0-2-9 12-13 4-2 4 3 1 5-3 2-6 2 2 10zM1066 1086l-6-2 2-8 4 1 3 3 0 4zM1730 1082l-4 1-2-5 6 0zM1078 1140l-2 1-3-5 4-14-3-5-6-2-6 1-3 8-5 2 0-25 6-1 16 2 15 8 1 6-10 4-1 2 6 8zM1782 1124l-5-2 2-4 11-2 3 2 1 2zM1821 1154l13-12 14-6 3-6-5-8-4-1-18 11-8 14 2 8zM1062 1147l-8-1 0-13 4 0 5 5zM1169 1148l0-6-3-3-11 5 3 4 4 1 4 1zM1070 1176l-7-2-3-4 0-4 4-15 8-2 6-5 7 8 0 10-3 4zM1506 1168l-6 1-5-3-1-6 2-4 6-2 6 4 2 6zM1376 1270l-6 0-5-12-7-8 2-4 10-1 2-3 1-8-4-6-2-10-3-1-2 3-2 9-4 1-10-14-16 1-3-1 1-12 2-2 20-2 2-2 0-6 4-2 4 0 8 5 8 0 1-5-3-7 8-3 6-8 8-3 8-6 4-1 12 12-9 6 1 6 4 3 8 0 4 3-4 4-8-1-2 3 1 4 3 6 7 6 2 6 7 4 1 6-3 3-6 0-8-7-10-3-4 1-3 6 0 2 15 9 8-1 4 1 3 11-3 1-12-1-10 8-12-7-8 0-2 1-4 12zM1787 1212l3-4 2-10-4-4-8-3-1 5 3 14 2 3zM1847 1198l-1-4-3 2 1 3zM1102 1226l4-4-1-6-9-8-4 0-3 4 5 11 3 3zM1580 1224l-24-1-3-1 0-2 5-5 6-1 16 4 3 2zM1846 1222l-1-6-5-1 0 7zM1128 1248l-1-6 5-10-3-4-5-3-5 3-1 6 6 8 1 6zM1352 1244l-6-1 0-5 4-2 2 2zM1100 1270l-4-1-4-4 0-7 2-3 8 2 9 7-3 4zM1074 1271l-14-4-6 1 0-9 4 2 8-3 2 0 7 10zM1542 1292l-4 0-10-5-4-4 0-7 4-8 0-6 2-3 4 0 16 9-1 6-9 3-3 5 1 4zM1554 1302l-2 0-6-8 3-6 2-10 9-13 8-4 3 5-4 16 4 8-14 4zM1696 1362l-2 0-1-2 5-22-2-16 8-14-11-30 1-2 8 3 11 11-5 18 5 8-3 10 0 22zM1078 1306l-4 1-4-2-1-9 2-6 7-9 4-2 4 5 1 8zM1414 1290l-6-4 2-6 6 0 5 4-3 4zM1438 1326l-10-2-6-4-1-4 2-8-2-8 1-4 12 2 6 4 0 8 3 8zM1506 1332l-4 0-4-2-2-6 10-8 2-6 8-8 11 10-5 4-12 4zM1632 1308l-4 1-3-1 2-4 5-2 5 4zM1060 1316l-6-4 0-4 4-2 7 2-1 5zM1572 1364l-3 0-5-8-9-6 15-21 10-7-3-10 1-4 4 0 5 4 7 12 6-3 6 0 7 3 5 6 3 4-7 2-18 17-8 2-10-6-4 1 0 12zM1090 1328l-6 0-11-4 5-11 4-1 15 8 1 2-1 4zM1648 1343l-4 0-4-3 4-18 7 16zM1546 1368l-4-1-2-11-6-5-4 1-5 10-3-2-5-6 1-8 8-2 8-9 6 0 6 9 7 6-3 5-1 11zM1628 1341l-4-2-3-3 1-2 5 4zM1446 1350l-4-1 2-5 2 2zM1076 1368l-7 0-1-8 4-2 6 3 1 5zM1478 1410l-6-1-4-5 2-12 9-8-2-4-8-8-1-4 12-2 10-7 2 1 2 4-2 20-10 23zM1628 1406l-6 0-14-3-8-9-1-8 3-5 12-1 2-2-1-6 1-2 10-4 6-5 8 11 2 8-2 2-8 4-1 16zM1594 1380l-5 0-2-2 3-13 5 7 1 6zM1688 1444l-4-1-1-3-2-14 3-28 12-23 2 5-4 10 2 16-1 12 1 12-2 10zM1054 1384l0-7 2 5zM1090 1384l-4 1-2-3 6-3zM1500 1414l-3 0-1-2 5-8-1-12 6-10 8 2 8 11 4-1 8-11 6-1 5 4 2 10-5 5-14 7-18-4zM1386 1416l-6 0-2-4 4-15 8-5 12-6 4 0 2 4-2 8-10 8-6 8zM1102 1402l-4 0-2-4 2-2 4 1zM1322 1448l-16-2 2-10 4-4 10-4 10-14 10-2 4-11 6-1 6 8 11 6-1 6-11 4-4 12-9 3-6 6-6-1zM1094 1423l-4-5 2-4 4 0 1 6zM1718 1422l-2-4 2-3 4 5zM1596 1423l-2 0 0-3 5-2zM1518 1476l-4 0-4-7-8 0-8-3-5-22-9-8 6-13 4 1 4 6 24 7 0 11 12 1 8-3 10 0 6-3 3 3-7 2-5 8-11 0zM1574 1429l-3-3 1-3 4 2zM1068 1431l-4-2-1-3 3-2 3 2 1 2zM1534 1438l-3-2 0-2 7-9 3 3-1 4zM1080 1450l-5 0-1-4 6-1zM1344 1457l-4 1-3-2 3-7 6 5zM1602 1460l-2 1-2-3 2-6 2 0 2 3zM1118 1484l-9-8 1-7 18-4 6 1 4 4 0 4-16 4zM1596 1474l-4-1 0-3 2-3 3 3zM1776 1484l-6 0-5-2-1-4 2-4 6-1 6 5 2 4zM1278 1491l-4-2-2-5 1-6 3-4 13 4-1 4zM1538 1481l-2-1 2-3 2 1zM1574 1491l-18 0-2-6 12-6 4 0 6 7zM1504 1494l-2-4 4-6 4 6-2 2zM1068 1490l-5 0 3-3 3 1zM1328 1550l-8-9-10 6-6-1-8-10-13-6-2-14-13-8 10-16 14 3 7 9 7 5 4 13 10 8 4 8 6 6 1 4zM1546 1512l-4-1-2-3 2-9 14-6 3 9zM1106 1514l-6 0-5-4 0-4 5-6 4 0 3 4 1 8zM1841 1510l0-2-3 0 0 2zM1784 1522l-4 0-3-4 7-9 4 2 3 5-2 4zM1144 1528l-10 0-2-2 0-2 6-2 7 4zM1502 1534l-2 0 0-2 2-8 4-4 4 1 2 3-1 4zM1819 1538l1-2-2-5-6-5-2 0 0 6 2 4zM1162 1553l-4-1-1-2 3-6 4 1 1 3zM1354 1570l-6 0 0-8 6-6 7 0 3 2 0 4zM1726 1670l-6 0-16-14-14 1-4-1 7-8 1-6-12-6-10 2-6-2-7-14 8-14 11-2 10-14 14-7 14-10 16 13 4 8-6 2-10 1-5-3-5-8-4 0-3 4-5 16 4 3 8-4 3 3 11 2 5 4 0 4-2 8-11 2-10 16 1 4 8 2 4 8 8 6zM1800 1592l1-8-5-4-3 4-1 6 4 3zM1628 1633l-6-1-4-4 0-6 4-5 4 1 5 4zM1684 1632l7-8-1-4-2-1-8 1-4 4 4 8zM1590 1672l-10 0-6-10-10 0-1-2 1-3 4-1 8 4 2 0 2-4 0-8 10-12 8-3 3 3-8 12 2 12-2 8zM1582 1764l-33 0 2-6-3-3-7 5 0 4-47 0-6-10-8 6-2 4-48-1-18-8-14 4-2 5-39 0 1-4 2-3 14 2 16-11 0-6-5-12 3-6 4 1 6 7 19-2 1-2 0-16-6-5-8 0-8-10-4 0 1 13-5 7-10 5-9 22-9 7-8 0-3-3 2-12 9-8 0-4-4-8-16-10-4-24-8-6-4 0-4 6 0 12-2 2-4 1-2-3 3-12-3-8-4-3-18 0-6-5 0-6 8-7 16-4 7 5 5 11 4 0 6-4 16 5 8 5 6 0 12-6 14 2 20-5 16-2 14 6 14-4 20 7 8 0 12-2 8-10 8-4 6 0 12 5 20-3 3 5-1 10 2 4 4 2 2-1 1-9 7-4 2 10-1 4-9 6-2 13-8 2-4 5 4 5 4 3 6-6 0-4-1-4 3 0 3 4 0 8-9 16-22 1-9-5-1-6 8-10 1-4-3-6-4-1-9 5-1 10-10 4-10 10-10 1-4 9-14 9-9 1 1-12-4-5-8 5-6-5-4-1-9 6-7 12 8-3 8 0 8 7 10 0 8 5 14 5 3-4 4-14 13-9 8 0 4 1 4 12 8 6 6 9 10 2 5-1-5-10 0-5 4-3 10 7 10-3 2 2 1 8 7 2 3-4-7-8 1-4 11-7 8-11 6-2 3 4 0 8-10 12 3 10zM1618 1658l-2-2 2-3 2 3zM1666 1670l-3-2 1-4 2-2 4 0 2 4zM1230 1666l-3 0 3-3 3 1zM1252 1676l-2 0 0-4 6-3 0 4zM1590 1704l-6 1-3-5 2-10 5-4 6 2 4 6-3 6zM1357 1700l4-6-1-6-4 1-2 5 1 4zM1443 1712l0-6-5-11-6 0-3 7 1 6 8 4zM1270 1714l-2 0-1-4 7-8 10-1 6 3 0 6-4 3-10-1zM1670 1714l-4 1-3-5 3-4 4-1 6 3zM1718 1748l-10 0-3-4 3-10 10-8 3-10 5-4 6 5 5 9-6 8-4 10zM1330 1737l-6-3-7-10 0-4 5-4 12 1 7 5-2 6zM1258 1752l-3 0-2-22 3-5 6-2 6 5 3 8-7 11zM1766 1764l-9 0-1-8 1-12 5-4 6-10 4 2 2 4-8 8 2 14 0 6zM1788 1738l-4-1-3-3 5-5 4 1 2 4-2 3zM1618 1744l-4 1-5-1-1-6 6-4 6 0 3 6zM1274 1764l-8 0 0-2 2-2zM1664 1764l-7 0 0-2 3-2zM1812 1764l-8 0 4-3z"/>
<path fill-rule="evenodd" fill="rgb(215,215,215)" d="M1274 972l-4-1-4-5 11 0zM1334 976l-2 1-10-6-4-5 14 1 3 5zM1392 978l-12-5-8-6-12 1-3-2 39 0-2 9zM1198 984l-4-2 0-6 4-5 6-1 3 4-1 6zM1434 1009l-13-9 0-6 3-4 20-9 12 0 8-4 7 5 2 4-3 4-12-1-7 7-9 1zM1162 1194l-6 0-6-7-16-2-8-5-2-4 3-16 5-4 4 0 6 6 6 1 3-3-1-10 16 2 4-1 3-5-1-12 1-6 12-6 1-10 12-10 4-10 10 0 12-6 1-10 7-11 12 1 10-2 6 2 2-12-4-3-10 1-2-4 2-10 8-12 12 8 6-1 8 2 11-5 6 12 3 0 3-2-1-9-6-5-1-10-5-10-6-2-8 5-6-1-4-5-10-5-2-16 10 2 10 9 14-1 6 2 4 8 6 6 2 7 2 1 6-2 10-8 18-4-1-8 2-4 7-4 6 1 10 7-17 14-4 16 3 4 8-3 6-9 8-6 2 2 2 9 2 3 14-6 6-6 8-1 21 11 1 2-2 2-28 9-18-1-8 3-14 9-7 8-25 18-14 4-11 10-9 4-8 7-13 7-7 9-18 16-12 6-7 7-5 18-1 16-9 10-6 0-11-10-15-7-4 3-4 9zM1316 992l-6 1-3-1-1-4 12-7 2 1 2 4zM1396 1004l-2 1-20-3-4-6 8-5 10-1 4 3zM1522 1022l-6-7-10-6-2-7 2-9 4 0 4 2 9 13 7 6 0 4zM1088 1004l-4-1-1-3 7-2 1 4zM1120 1010l-6 0-2-2-1-4 3-5 6 0 4 3 0 4zM1220 1004l-2-2 2-4 2 4zM1810 1641l-4 0-4-2-6-25-10-14-11-2-4-12 1-4 4-5 14-1 1 2-2 18 9 2 6-6 3-12-14-4-3-15-14-7 3-4 8-2-1-10 11-2 5-52-7-22 0-4 3-4 4-1 8 5 2 4-2 10 4 4 4-2 8-14 0-12 4-14-6-10 1-10-4-6-3-18 8-14-3-12 8-8-9-10 2-16-2-6-10-6 1-18-7-2-2-4 6-7 4 0 2 4 3-1-1-2-4-10-6-5-6-2-10 2-11-5 5-6-12-18-2-12-10-6-4-13-4-1-8 1-4-3 2-14-14-18 2-18-9-8-1-12-10-4-14 2-1-8 1-10-2-6-36-8-4-4-4-13-26-10-8-9-9-2-9-11-5 1-5 6-4 1-7-13-3-3-22-5-14 1-11-5-2-4 1-2 12-5 7-5 1-12 2-2 14 6 8 6 8 1 10 7 6-3 5 5 5 2 16-1 8 12 14-1 3 4 5 14 10 8 4 1 8-4 6 3 10 12 4 8 8 6 10 18 10-3 4 2 17 19-1 8 4 6 8 1 8 10 22 0 1 7-17 10-5 12 1 3 10 5 8 22 6 0 9-12 15-1 14-7 14-17 6-1 4 4 2 6 0 50-2 6 2 5 0 78-2-1-2 2 2 2 2-2 0 66-5-2-7-12-4 0-1 4 3 9 6 7 0 14 8 6 0 56-6 2-8 0 0 2 10 9 4-1 0 6-2-1-4 7-10 2-5 6 7 15 2 1 7-20 5-3 0 22-4 5 2 10-6 5-14-2-18-20-4 0-2 5 4 12 15 8 3 4-7 6-2 10-7 10 1 2 10 6-7 6 0 3 4 1 30-11 2 1 0 6-10 15-8-1-10 4-10-4-7 2 0 18 6 12zM1494 1030l-48 1-9-1-6-4 8-14 7 0 8 6 16 0 8-7 4-1 14 14 1 4zM1212 1023l-8-1-6-6 4-4 6 1 7 7zM1562 1038l4-4 2-6-2-2-10 0-3 6 1 6 2 2zM1285 1058l7-6 1-4-9-8-4-1-5 5 0 12 5 3zM1128 1058l-4 0-4-8-1-6 3-4 14 2 5 4-1 4zM1176 1050l-2-4 2-3 2 3zM1108 1090l-2 1-4-3 0-4 2-2 5 4zM1800 1092l-5 0 0-4 1-3 2 0 3 3 1 2zM1086 1114l-26-4-4-2 0-2 4-3 16 3 10 4 1 2zM1144 1120l-6 0-3-2-2-4 2-4 5-2 3 2 4 8zM1812 1147l-4-1-4-6 7-8 1-4-6-6 0-2 4-3 11-1 10 6-11 4zM1162 1136l-4 0-5-12 13-6 5 4 1 6zM1838 1164l-13-2-2-2 2-6 3-5 10-6 12-3 2-4 0 13zM1070 1173l-5-1-2-6 7-12 6-4 4 0 3 4-1 7-2 3-6 2zM1502 1166l-4-2-1-2 2-4 3-1 5 5zM1802 1178l-4 1-2-3 6-11 8-3 8 2-2 6zM1408 1256l-4 1-12-7-15-2-2-4 0-10-3-8-3-14 3-9 10 5 4-2-5-10 0-8 9-10 16-11 4 5-3 8 1 12-8 6 0 4 2 1 6-1 4 2 4 14-14-2-4 10-6 6 0 2 12 2 12 9 8-1 2 4-10 1zM1116 1246l-20-4-6-6-8-16-10-4-4-4 1-4 9-6 6-13 4-1 3 10-1 4-5 6 0 4 9 14 4 2 6-1 4-3 0-8-5-8 5-15 6-1 12 5 6 1 7 30-3 1-10-6-8 3-3 6 3 12zM1843 1204l7-6 0-8-6 1-3 3-1 8zM1056 1210l-2 0 0-10 3-6 3-1-1 15zM1174 1208l-2 0-1-2 1-5 2 1zM1356 1218l-2 0-8-9-10 1 0-4 12 1 10-3 4 1 0 7zM1842 1250l-3-8 1-12 8-5 1-5-2-6-7-6-5 10 3 10-6 5-2 7 8 10zM1164 1223l-6-3 0-6 4 0 4 4 0 4zM1136 1247l-2 0-1-5 3-4 2 4zM1376 1266l-2 0-2-4 4-6 3 4zM1104 1266l-8 0-2-2 0-4 4-2 4 2 4 4zM1560 1288l-4-1-1-5 9-12-1 14zM1706 1301l-4-2-1-3-3-15 7 3 5 6zM1076 1302l-4-1 0-5 6-9 4-2 1 7zM1843 1304l2-4-1-10-6-4-5 0-1 4 8 13zM1436 1322l-6 0-6-4 4-17 6 1 2 2 3 14zM1518 1312l-2 1-2-1 2-2zM1086 1324l-8-1 0-6 4-2 4 3 2 4zM1698 1354l-1-4 3-10-3-18 3-7 4-1 4 6-1 12-4 10 0 8zM1504 1328l-4 0-1-2 1-4 4 0zM1596 1350l-8 0-3-6 6-4 9-16 6-1 5 5 0 4zM1582 1342l-8-1-2-5 4-6 8-2 3 4zM1540 1350l-8-4 0-4 2-4 4 0 2 2 2 8zM1074 1366l-2-1 0-3 3 2zM1486 1383l-8-11 8-5 4 3 0 4-2 7zM1624 1404l-12-2-4-2-6-8 0-6 4-3 6 0 13 9 3 8zM1508 1398l-3-2 0-4 2-6 3-1 4 3 1 6zM1538 1400l-8 1-2-1 3-10 5-5 6 3 2 4 0 4zM1386 1412l-4 0-1-2 3-11 14-9 6 0 0 8-12 6zM1478 1407l-6-1-2-6 2-7 6-2 4 2 1 5zM1690 1440l-4 1-2-2-2-11 2-10 1-18 3-5 2-1 4 14-1 10 1 12zM1324 1444l-12 0-2 0-1-4 3-4 12-6 8-13 4-1 8 1 2-1 2-10 2-1 3 9-3 6 1 12-13 8zM1506 1465l-6 0-3-3-1-10-8-17 8-2 8 2 7 7 3 9 10 0 5 3-1 4-4 3-10-2zM1134 1472l-8 2-5-2 7-5 6 3zM1772 1482l-4 0-2-5 2-1 4 1 2 3zM1278 1484l-3-2 1-4 2-1 3 3zM1570 1488l-6-2 0-2 3-2 3 0 3 4zM1827 1506l0-10-3-5-2-1-4 6 1 6 3 4zM1310 1543l-6-1-8-10-10-4-3-14-10-6 7-12 4-1 6 1 6 10 10 5 1 7-6 6 15 5 3 5zM1548 1504l0-2 2-2 5 0-1 2zM1764 1554l-2 0 0-4 3 2zM1358 1562l-3 0 0-2 3-2 2 2zM1754 1576l-4-1 0-5 8-7zM1728 1596l-6 1-4-3-2-4 2-4 4 0 8 4 1 4zM1690 1609l-4 1-2-2 1-8 6-8 7-2 0 6zM1760 1600l-3 0-1-2 4-7 3 5zM1844 1640l-4 1-4-2-3-15 13-13 6-1 0 12-4 4-1 10zM1706 1636l-4-1-5-5-1-6 2-6 20-4 6 2 3 4-2 4-3 2-8 0zM1770 1636l-6-1-2-5 2-6 4-3 4 2 3 5-1 4zM1624 1629l-3-1 1-5 3 1zM1672 1634l-4-2 2-3 4 3zM1592 1642l-2 1-1-3 5-2zM1700 1650l-2 0 2-8 2 4zM1844 1744l-2 1-6-4-10-2-6-4-5 1-1-8-16-20-10-3-10-6-5 1-2 2 2 8-1 5-4 3-4 0-2-4-1-8 10-8-2-8-5-8 14 0 1-10-2-6-18-16 0-4 3-1 14 6 12 9 2 4 2 10 8 18 6 1 6-9 6-4 6-1 5 3-3 10-10 7 0 5 6 9 18 0 5 3 0 4-6 10 5 10zM1816 1665l-5-1-2-4 9-12 4-1 2 6zM1314 1669l-14 0-12-3 9-10 11-4 6 6zM1590 1668l-6 1-2-3 6-13 4 5zM1462 1736l-3-2-3-8-7-8-4-14 1-10-6-7-16-1-4 6 3 8-3 4-16-4-10-7-4 1-2 4 2 10-1 4-5 3-10 2-2 8-4 2-3-5 4-6-8-10 6-24 1-12 6-3 12 2 20-6 18-2 11 7 3 10 2 2 3-4-1-8 6-5 6 1 10 7 6 0 22-1 6-12 8-4 6 1 8 4 20-1 2 2-1 12 9 10-3 10-11 10 8 10 1 4-2 4-13 3-8-4-1-5 11-12-6-10-4-2-12 4-4 12-18 10-10 2-5 10zM1848 1686l-13-6 6-16-1-9 12 19 0 8zM1348 1696l-2 1-4-2-3-13-13-10 0-2 4-5 14 4 6 5 10 4-1 4-5 4zM1318 1676l-2-6 7 2zM1507 1686l5-8 0-4-2-2-4 4-2 8zM1412 1692l-1-6-3-3-1 3 1 3zM1746 1689l-2-1 2-3 2 3zM1588 1702l-4-2-1-4 3-6 4-1 4 3 1 4zM1282 1710l-3-2 0-2 5-1 1 3zM1426 1724l-4 0 0-7 8-3 5 2 0 4zM1716 1746l-6 0-2-2 1-6 3-4 8-5 3-11 5-2 4 4 2 6-6 6-4 10zM1330 1732l-4-1-3-3-1-4 2-3 6-1 6 2-1 6zM1574 1745l-5-1 0-4 7-5 6-10 4-1 3 4-1 4zM1260 1746l-2-2-3-12 1-3 4-2 6 3 3 6zM1822 1732l0-5-3 3 1 3zM1362 1746l-6 2-3-4 0-8 7-5 6 1 2 4-1 6zM1512 1764l-12 0-2-2-4-12-6-10 1-4 3-4 10 0 4 12 9 6 1 10zM1404 1753l-6-1-7-18 7 2 10-2 3 2-4 14zM1616 1741l-4-1 4-3zM1468 1764l-38-4-12-6-2-4 8-7 6-1 8 7 12 2 13 7zM1540 1751l-4 0-2-3 0-3 2-2 5 3 1 4zM1578 1764l-24 0 4-3 10-1 8-10 4 6 0 8zM1764 1762l-4 0-1-2-1-4 2-5 2 0 4 5zM1848 1764l-15 0 0-4 4-6 5-4 2 2zM1392 1764l-16 0 6-8 8-3 3 1 1 2z"/>
<path fill-rule="evenodd" fill="rgb(231,231,231)" d="M1390 973l-8-2-6-5 17 0zM1202 981l-4 1-2-4 2-5 4-1 4 4zM1468 986l-4 0-3-2 4-2 3 2zM1434 1004l-4 1-5-3-2-4 2-4 17-11 6 0 4 2 1 3-3 5-10 3zM1276 1005l-14-8 0-3 2-6 15 12zM1356 1000l-4 1-4-3 0-4 2-4 4-1 6 3 1 4zM1390 1002l-12-2-1-4 5-4 6 0 4 6 0 2zM1290 1000l-6-2 4-3 4 1 1 2zM1516 1010l-7-6-1-6 2-2 7 6 1 6zM1120 1008l-5 0-1-5 6-1 2 4zM1162 1187l-10-4-12 0-10-3-3-4 1-14 6-3 20 12 4-1 2-2-5-8 0-4 3-3 10 1 4-2 3-6 1-15 12-7 2-12 10-8 4-8 18-5 8 5 4 0 0-6-5-12 3-6 20-4 7 8-2 8 4 0 6-14-1-10 0-12 5 2 4 10 5 1 12-5 8-9 9-1 0-22 17-15 14-3 6 3 2 3-4 11-9 9-1 6 4 0 21-10 7-11 4-2 2 1 5 14-2 2-19 12-7 10-11 6-13 12-15 3-10 10-10 4-6 7-14 7-6 9-18 16-12 6-7 6-4 6-2 12-1 18-4 5-4 3-4 0-10-8-18-8-5 2-5 11zM1490 1028l-42 1-9-1-1-2 4-10 2-1 8 5 10 0 8 3 10-8 4 1 6 6 2 4zM1558 1018l-6 0 0-4 2 0zM1208 1020l-4-3 4 0zM1402 1032l-16-1-3-1-1-2 4-4 16-7 8 1 9 6zM1852 1389l-4-2-8-11-10-3-3-5 1-4 9-8-2-4-9-6-2-4 2-20 6-4 1-6-5 0-6 6-6-1-1-3 5-18 6-5 7 5 5 12 8-1 3-3 3-12-2-4-14-7-4-7-2-1-2 3-1 8-3 1-14-13-14-4-3-10-9-4-3-4-7-22-8-4-3-8-5-5-11-1-2-2 1-12-13-24 5-12-2-4-11-6 1-10-2-2-12-4-10 1-3-5 2-12-5-6-12-1-22-8-3-3-5-12-27-10-6-8-11-5-10-10-4-1-8 3-7-9-13-6 2-10 4-5 6-1 10 10 32 2 8 10 12-2 3 4 5 14 12 9 4 1 8-4 6 3 7 9 3 8 12 9 8 18 12-2 4 2 12 13 1 10 5 8 8 2 8 9 10 1 4 3 0 3-10 9-3 15 11 6 8 22 4 3 4-1 8-8 8-2 12 12 4 1 10-2 2 7-8 10-10 0-1-6-3-2-4 2-1 4 5 12 12 4 8-4 10 7 8-4 4 1 0 69-5 3-5 6 9 8 1 21-6 5 0 2 6 3zM1546 1042l-10 0-3-2-1-4 4-3 10-1 3 6zM1264 1048l-14 0-1-4 3-6 4-4 6 2 2 4zM1130 1055l-4 0-3-3-1-6 2-3 6 0 5 3 1 4zM1140 1118l-4-4 2-4 4 1 1 3-1 3zM1164 1130l-4 0-1-2 2-4 3-2 2 0 1 4zM1836 1162l-9-2-1-4 2-4 14-8 6 0 2 2-1 4-9 10zM1213 1160l0-4-3-3-5 1-3 2 6 5zM1078 1161l-4-1 0-2 4-4 2 4zM1392 1201l-7-3-2-8 9-9 8-1 2 2 0 6zM1842 1188l-3 0 0-2 5-5 3 5zM1114 1224l-2 0-1-14-3-6 1-6 3-3 3 3-1 10 12-4 4 4 2 8 0 4-10 0zM1834 1200l-5 0 5-6 1 4zM1852 1218l-6-10 6-10zM1080 1214l-6 0-3-4 5-4 4 0zM1406 1254l-4-1-10-7-10 0-4-2 0-12-4-8 0-10 1-2 8 2 0 14 7 10 12 0 8 6 1 6zM1112 1242l-6 1-7-1-3-4-2-6 16-2zM1706 1296l-2 1-2-2-1-7 1-3 5 5zM1434 1318l-2 1-4-1 0-5 4-1zM1704 1332l-2 2-2-2-2-5 0-6 4-4 4 5zM1604 1333l-2 0-1-1 1-4 2-1 2 3zM1838 1408l-10 1-3-3 0-8-5-8 2-5 6-5 3 2 3 14 7 8-1 3zM1618 1399l-6 0-4-3-4-4 0-4 4-3 6 3 5 8zM1540 1396l-4 1-2-1 1-6 5 0zM1400 1398l-4 1-2-1 6-5 2 3zM1476 1404l-3-4 3-6 4 4-1 4zM1690 1436l-4 1-3-9 5-10-2-10 2-8 3 2 2 6-3 10 3 10zM1834 1427l-4 0-3-3 0-4 3-3 6 3 1 2zM1316 1442l-2-2 12-8 8-12 6 1 5 7 0 4-7 5zM1834 1446l-2-6 2-11 6-1 4-5 8 0 0 15-2 4zM1506 1461l-4-1-1-10-7-8 1-4 5 0 11 14 0 4zM1850 1474l-4 1-5-1-5-10 5-4 2-8 5-5 4 3 0 22zM1832 1461l-1-9 1-4zM1844 1540l-12-4-20-19-10 2-2-13 4-12 1-12-8-20 1-5 4-1 5 4 2 4-2 10 5 5 7 1 5-10 4-3 2 2 1 11 5 8-4 1-8-7-4 0-5 16 4 10 9 8 3 14 3 2 10 0 3 4zM1292 1525l-3-1-4-12-8-6 4-6 3-3 6 2 3 9 3 2 6 1 3 3-1 2-6 2zM1852 1519l-4 0-2-3 2-7 4-3zM1306 1538l-3-6 3-3 5 3 1 2zM1802 1574l-6-2-5-18 3-8 10-7 10 5 4 6-5 8 3 4 0 4-6 5zM1780 1596l-4-4-2-8 4-5 8-1 2 4-1 6-3 6zM1826 1604l-5-2 0-2 1-2 6-2 6 1 6-6 6-1-1 8-3 3-4 0-4-3zM1848 1620l-3 0 0-2 5-4 2 4zM1706 1629l-5-3 3-6 5 2zM1840 1638l-4-4-1-8 1-3 4-2 2 1 3 10-1 4zM1770 1630l-4 0 1-4 3 0zM1806 1636l-3-2 1-6 4 6zM1310 1666l-6 1-5-1-2-4 2-4 5-3 6 2 2 5zM1468 1726l-6 1-6-5-3-6 1-6 22-1 8-5 1-4-7-3-12 4-10-3-2 2-1 8-3-1-1-3 3-6-6-12 3-8-3-8 1-4 5-1 4 3-5 8 1 2 20 10 7-4 1-4-3-4 1-2 14 1 6-2 0-11 6-6 6 0 8 5 10 0 7 3 1 10 11 8 0 6-3 4-10 4-4-2-4-6-14 2-1-2 5-18-2-2-6 1-7 5-1 6-8 1-3 5 2 4 7-1 5 3 2 4-1 8-8 5-20 5-5 10zM1790 1684l-6 0-2-4 0-19 4 4 2 5 4 12zM1386 1710l-4 1-6-4-8 1-3-2 0-4 6-20 1-12 4-2 10 3 36-9 9 4 2 6-1 8-4 1-12-4-12 0-4 5 2 10-8-3-6 1-4 8 3 8zM1346 1690l-2 0-2-10-9-6-1-5 6 1 15 10zM1848 1681l-8-3-1-4 3-5 4 1 4 6zM1818 1694l-5-2 0-4 3-4 6-1 2 3 0 4zM1588 1698l-1-2 3-3 1 3zM1816 1722l-8-4-12-16-8 0-6-7 4-1 24 6 11 18zM1534 1720l-8 0-3-4 5-8 6-3 4 3 4 6-2 4zM1768 1715l-2 0-2-3 0-4 2-3 3 1 2 4zM1836 1737l-6-1-3-2 2-8-1-8 4-3 6 0 3 3-4 10 1 8zM1730 1724l-4 1 0-5 4 2zM1584 1732l-2 1-1-1 3-5 2 3zM1262 1741l-2 0-2-5 0-4 2-2 6 4-1 4zM1502 1748l-4 0-6-6-1-4 3-4 6-1 3 3 1 6zM1360 1744l-4-1-1-3 1-4 4-2 5 4zM1714 1744l-3-2 1-4 6-3 4 1-2 5zM1426 1754l-4-1-1-3 3-3 4-1 1 4zM1508 1764l-4 0-3-4 1-7 4-3 4 1 2 3 0 6zM1450 1758l-6 0-5-2 8-2 3 2zM1390 1764l-10 0 3-6 5-2 2 2zM1844 1764l-4 0 0-5 6 5z"/>
<path fill-rule="evenodd" fill="rgb(247,247,247)" d="M1388 969l-4 0-4-3 10 0zM1202 978l-3 0 1-3 3 1zM1446 992l-6 0-1-2 4-4 5 0 1 4zM1356 996l-4 0 0-2 4-1zM1388 998l-6 0 1-2 5 0zM1432 1001l-4-1-1-2 1-3 6-1 0 4zM1212 1182l-4 0-6-7-20-9-8 1-4 11-6 4-5 0-3-4 9-10-6-10 3-2 8 3 2-2 5-11 3-14 4-2 10 8 4 0-3-14 1-12 8-3 4-9 10-6 4 0 10 5 6-1 1-4-6-16 3-4 12-4 4 1 4 5-4 10 3 2 4 0 7-4 6-10 0-11 15-1 15-12 4 0 4 4 4 1 2-3-3-26 13-14 14-3 5 5-3 7-8 5-3 4-6 20 2 4 3 2 4-1 1-9 3-4 24-13 4-7 2-2 2 1 1 9-18 14-6 10-11 4-12 12-16 3-8 11-10 0-7 12-13 6-7 10-17 15-12 5-9 8-7 10-6-4-10 0-10 7-2 5 1 2 7 1 6 4 12-2 2 1 1 12zM1486 1026l-8 1-2-1 0-2 2-5 4-1 5 4 1 2zM1404 1028l-4 0-2-2 2-4 4-1 2 2zM1704 1114l-10-4-10-1-20-10-9-13-25-9-8-8-12-7-8-8-12-3-8-7-8-2-2-4 1-6 3-3 4 0 6 9 6 2 14-2 14 3 8 9 13-2 3 4 4 13 12 10 6 1 10-3 5 3 4 6 2 8 11 8 6 8 1 4zM1542 1040l-4 0-2-2 4-2 3 2zM1258 1044l-4 0 2-5 3 1zM1130 1052l-4 0-1-6 6 0 1 4zM1305 1070l2-6-3-2-4 6 2 2zM1734 1136l-4 1-26-6-2-1 0-6 4-4 18-2 11 12zM1740 1152l-11-2-1-2 0-4 4-3 2 1zM1836 1160l-6-2 0-4 12-7 4 1zM1774 1222l-5-2-9-10-12-6 0-10-4-10-8-12 5-10 0-8 1-1 10 1 6 6 10 5-6 11-4 14 2 3 8 2 4 5 3 10zM1140 1182l-7-2-4-4 0-10 3-4 15 8 3 4 1 2-3 4zM1392 1196l-4 1-2-5 2-5 6-2 3 3zM1852 1211l-2-3 2-6zM1122 1216l-4 0 0-2 4-5 4 0 1 5zM1792 1252l-6 0-4-4-2-22 10 0 6-9 6-2 4 3 2 6-14 14 2 12zM1826 1232l-4 1-1-1 2-4 3-1 2 1zM1106 1240l-4 0-2-4 4-2 4 2 0 3zM1384 1244l-4-2 0-4 2-3 5 7zM1406 1251l-4 0-3-3-2-4 1-2 4-1 4 2 2 5zM1800 1252l-2-2 2-3 2 3zM1852 1283l-8-2-5-3 1-4 9-4-7-7-6 2-9 7-5 5-2 0-12-11 2-10 4-3 10 3 8-2 10 6 6-4 4 0zM1828 1308l-6 0 0-10 4-3 4 1 4 6-1 4zM1838 1346l-11-4-1-4 2-12 10-13 10-1 4-6 0 9-2-1-16 18 0 4 2 3 6-2 3 1-1 4zM1702 1329l-2-5 2-3 2 5zM1848 1356l-3 0 1-4 6-1 0 3zM1852 1386l-3-2-5-8 2-4 6 1zM1828 1393l-4-1-1-2 3-5 2 0 2 3zM1612 1394l-4-2 0-2 2 0zM1338 1434l-4 0-2-2 1-6 3-3 5 7zM1688 1434l-2-1-1-5 3-5 3 5zM1846 1440l-10 0-1-4 3-4 10-2 2 6zM1804 1464l-2 1-1-3 2 0zM1812 1490l-2 1-1-3 1-5 4 1 1 2zM1810 1514l-6 0-2-6 1-6 5-5 4 2 4 11 0 2zM1286 1508l-3-4 3-4 3 4-1 3zM1804 1568l-4 1-2-1 0-6 2-2 4 4zM1782 1590l-3 0-1-4 4-5 4 3zM1506 1666l-4 1-2-3 1-4 5-3 4 2 1 3zM1306 1664l-4 0 0-5 6 1 0 2zM1428 1676l-16-3-4-3 11-6 7 0 5 6 0 4zM1538 1692l-5 0-5-9-12 4-1-1 6-20 2-2 5-1 3 3-1 8 2 5 12 5-2 5zM1392 1678l-5 0-1-2 4-4 6-1 1 3zM1376 1702l-6-1-1-5 3-8 6-5 4 9-2 8zM1470 1696l-4 0-12-3-4-5 1-4 7-1 8 7 6 2 1 2zM1484 1692l-7 0 5-4zM1496 1706l-6-2-1-6 3-4 6-1 4 3 0 4zM1812 1715l-4-1-4-4-1-4 1-4 4 1 4 5 1 4zM1532 1718l-4 0-1-4 3-4 4-1 4 5zM1466 1722l-4 1-4-3-1-2 1-4 10 0 1 4zM1498 1744l-4-4 0-2 4-3 4 5-2 4z"/></g></g><g clip-path="url(#cind)"><g filter="url(#fdi)"><use href="#fldd"/></g></g><path filter="url(#roughd)" d="M1367.4 1185.5L1376.5 1190.1L1390.2 1181.0L1408.5 1171.8L1426.7 1167.3L1447.3 1165.0L1470.1 1165.0L1492.9 1165.0L1511.2 1169.6L1524.9 1176.4L1529.5 1190.1L1545.4 1199.2L1561.4 1208.4L1577.4 1222.1L1591.1 1235.8L1602.5 1254.0L1611.6 1272.3L1618.5 1288.3L1620.8 1302.0L1629.9 1311.1L1636.8 1324.8L1639.0 1343.1L1632.2 1361.3L1627.6 1379.6L1620.8 1397.9L1611.6 1416.1L1607.1 1434.4L1600.2 1450.4L1591.1 1461.8L1582.0 1473.2L1570.6 1484.6L1556.9 1498.3L1540.9 1509.7L1527.2 1521.2L1511.2 1528.0L1495.2 1530.3L1476.9 1530.3L1458.7 1528.0L1440.4 1525.7L1422.1 1523.4L1403.9 1521.2L1385.6 1518.9L1371.9 1514.3L1360.5 1502.9L1351.4 1491.5L1344.5 1477.8L1340.0 1461.8L1333.1 1445.8L1326.3 1429.8L1320.6 1413.9L1317.1 1395.6L1313.7 1377.3L1311.4 1359.1L1309.1 1340.8L1308.0 1322.5L1309.1 1304.3L1313.7 1288.3L1314.8 1272.3L1316.0 1256.3L1319.4 1242.6L1328.5 1228.9L1337.7 1215.2L1349.1 1201.5L1358.2 1192.4Z" fill="#fff"/><text x="1466.2" y="1563.9" font-size="27" fill="#000" font-family="'Liberation Sans',Arial,Helvetica,sans-serif">60<tspan font-size="20.5" dx="1.2" dy="-11">o</tspan><tspan dx="1.6" dy="11">S</tspan></text>
<text x="1461.2" y="1700.9" font-size="27" fill="#000" font-family="'Liberation Sans',Arial,Helvetica,sans-serif">40<tspan font-size="20.5" dx="1.2" dy="-11">o</tspan><tspan dx="1.6" dy="11">S</tspan></text>
<path d="M1319.5 1271.1L1322.0 1279.7L1320.3 1286.5L1323.7 1295.1L1328.9 1301.9L1330.6 1307.9L1337.4 1306.2L1346.0 1307.1L1354.6 1308.8L1363.1 1313.1L1371.7 1318.2L1376.8 1324.2L1381.1 1331.0L1383.7 1324.2L1392.2 1320.8L1400.8 1319.1L1407.7 1314.8L1411.1 1305.4L1412.8 1295.1L1414.5 1284.8L1417.1 1274.5L1423.1 1266.0L1429.1 1258.3L1429.1 1253.1L1435.0 1250.6L1440.2 1248.8L1445.3 1246.3L1450.5 1246.3L1452.2 1249.7L1459.0 1246.3L1467.6 1244.6L1476.1 1245.4L1484.7 1248.0L1493.3 1251.4L1501.8 1255.7L1510.4 1257.4L1519.0 1259.1L1524.1 1256.6L1526.7 1260.8L1527.5 1266.0L1534.4 1266.0L1542.9 1266.0L1549.8 1268.5L1556.6 1272.8L1560.0 1274.5L1566.9 1273.7L1572.0 1278.0L1573.7 1284.8L1572.9 1291.7L1574.6 1300.2L1577.2 1308.8L1578.9 1317.3L1573.7 1321.6L1566.9 1324.2L1570.3 1331.0L1577.2 1334.5L1584.0 1341.3L1589.2 1349.9L1593.4 1358.4L1595.2 1368.7L1594.3 1379.0L1596.0 1389.3L1594.3 1399.5L1590.9 1408.1L1587.4 1416.7L1584.0 1425.2L1577.2 1432.1L1573.7 1440.6L1569.5 1449.2L1563.5 1454.3L1560.0 1462.9L1551.5 1469.7L1542.9 1473.2L1534.4 1476.6L1525.8 1478.3L1517.2 1479.2L1508.7 1480.9L1500.1 1480.9L1491.6 1479.2L1483.0 1478.3L1474.4 1476.6L1470.2 1471.4L1472.7 1462.9L1476.1 1454.3L1477.0 1445.8L1472.7 1438.9L1467.6 1433.8L1472.7 1426.9L1471.9 1420.1L1467.6 1413.2L1460.7 1406.4L1453.9 1401.2L1447.0 1394.4L1440.2 1389.3L1437.6 1392.7L1436.8 1399.5L1433.3 1408.1L1426.5 1411.5L1423.1 1413.2L1426.5 1420.1L1428.2 1426.9L1425.6 1435.5L1421.4 1436.3L1416.2 1432.1L1412.8 1434.6L1407.7 1435.5L1402.5 1432.9L1395.7 1431.2L1388.8 1428.6L1385.4 1423.5L1386.2 1417.5L1380.3 1416.7L1373.4 1418.4L1368.3 1420.1L1366.6 1413.2L1364.8 1408.1L1370.0 1404.7L1366.6 1399.5L1362.3 1397.8L1363.1 1392.7L1358.0 1387.5L1352.9 1382.4L1347.7 1384.1L1344.3 1379.0L1346.0 1372.1L1348.6 1363.6L1349.4 1355.0L1348.6 1346.4L1351.1 1337.9L1354.6 1332.8L1356.3 1327.6L1351.1 1324.2L1346.0 1325.9L1347.7 1332.8L1342.6 1336.2L1335.7 1332.8L1332.3 1325.9L1334.0 1320.8L1328.9 1315.6L1323.7 1313.9L1322.0 1308.8L1318.6 1300.2L1313.5 1295.1L1315.2 1286.5L1313.5 1279.7L1316.0 1272.8ZM1151.4 1111.9L1154.8 1113.0L1157.1 1124.4L1161.6 1140.4L1165.1 1158.7L1158.2 1171.2L1165.1 1172.4L1171.9 1179.2L1174.2 1192.9L1171.9 1206.6L1176.5 1215.7L1181.1 1227.2L1187.9 1234.0L1192.5 1247.7L1199.3 1255.7L1208.5 1253.4L1215.3 1256.8L1219.9 1266.0L1226.7 1272.8L1235.8 1277.4L1249.5 1277.4L1257.5 1274.0L1259.8 1283.1L1251.8 1291.1L1240.4 1297.9L1226.7 1302.5L1213.0 1304.8L1194.8 1300.2L1181.1 1293.4L1174.2 1288.8L1162.8 1284.2L1149.1 1279.7L1133.1 1275.1L1119.4 1268.3L1108.0 1256.8L1094.3 1246.6L1078.3 1242.0L1030.4 1238.6L1030.4 1078.8L1121.7 1078.8ZM1567.4 987.4L1568.5 1005.7L1565.1 1014.8L1569.6 1026.2L1576.5 1032.0L1585.6 1029.7L1594.8 1033.1L1608.5 1038.8L1622.1 1039.9L1635.8 1036.5L1647.3 1032.0L1655.3 1028.5L1681.5 1010.3L1635.8 964.6L1567.4 953.2ZM1809.4 1531.3L1795.7 1524.4L1784.3 1522.1L1779.7 1516.4L1770.6 1519.9L1764.8 1529.0L1763.7 1542.7L1759.1 1554.1L1755.7 1567.8L1756.9 1583.8L1750.0 1595.2L1743.2 1606.6L1736.3 1615.7L1722.6 1620.3L1708.9 1621.4L1699.8 1619.2L1692.9 1616.9L1686.1 1622.6L1672.4 1623.7L1658.7 1621.4L1647.3 1624.9L1635.8 1631.7L1629.0 1640.9L1622.1 1654.6L1623.3 1670.5L1625.6 1688.8L1626.7 1702.5L1627.9 1716.2L1635.8 1752.7L1772.8 1752.7L1853.2 1592.9ZM1610.7 1607.8L1622.1 1610.0L1633.6 1616.9L1633.6 1622.6L1626.7 1624.9L1624.4 1631.7L1621.0 1637.4L1616.4 1634.0L1613.0 1622.6L1608.5 1614.6ZM1509.1 1623.7L1517.1 1630.6L1519.4 1638.6L1514.8 1647.7L1510.3 1659.1L1502.3 1670.5L1496.6 1677.4L1487.4 1678.5L1485.2 1684.2L1482.9 1693.4L1486.3 1702.5L1489.7 1709.3L1496.6 1717.3L1497.7 1720.8L1492.0 1719.6L1485.2 1713.9L1480.6 1707.1L1474.9 1702.5L1466.9 1702.5L1461.2 1700.2L1460.0 1693.4L1464.6 1686.5L1469.2 1682.0L1473.7 1675.1L1478.3 1668.3L1484.0 1659.1L1489.7 1650.0L1494.3 1638.6L1498.9 1629.4L1504.6 1624.9ZM1243.8 1239.7L1249.5 1236.3L1255.3 1238.6L1255.3 1245.4L1251.8 1250.0L1246.1 1251.1L1242.7 1246.6ZM1683.8 1272.8L1689.5 1270.5L1695.2 1274.0L1695.2 1279.7L1690.6 1283.1L1684.9 1280.8ZM1322.0 1238.6L1327.2 1237.7L1326.3 1241.1L1322.9 1242.0ZM1307.5 1273.7L1309.7 1273.7L1310.0 1283.1L1308.0 1283.1ZM1430.8 1420.1L1435.0 1419.2L1436.8 1424.4L1435.0 1429.5L1431.6 1429.5ZM1465.9 1437.2L1471.0 1435.5L1471.9 1439.8L1467.6 1440.6ZM1322.1 1237.7L1327.2 1237.7L1324.9 1241.3ZM1433.3 1653.4L1436.8 1652.7L1437.9 1656.4L1432.7 1656.4Z" fill="#000"/>
<line x1="1442.8" y1="1423.7" x2="1458.2" y2="1424.4" stroke="#000" stroke-width="1.6"/>
<line x1="1315.8" y1="1188.8" x2="1326.0" y2="1190.6" stroke="#000" stroke-width="1.6"/>
<line x1="1429.9" y1="1682.0" x2="1445.9" y2="1682.4" stroke="#000" stroke-width="1.6"/>
<path d="M1456.6 1032.8L1463.5 1032.2L1470.3 1032.2L1477.2 1032.8L1484.0 1034.2L1490.9 1036.5L1497.7 1039.7L1504.6 1043.7L1510.8 1048.2L1516.6 1053.4L1522.8 1058.8L1529.7 1064.5L1537.1 1069.6L1545.1 1074.2L1553.7 1078.5L1562.8 1082.5L1570.8 1085.6L1577.6 1087.9L1584.5 1090.7L1591.3 1094.2L1599.3 1098.2L1608.5 1102.7L1617.6 1107.6L1626.7 1112.7L1635.3 1117.6L1643.3 1122.1L1651.3 1127.8L1659.3 1134.7L1667.2 1141.5L1675.2 1148.4L1682.1 1154.1L1687.8 1158.7L1692.4 1163.2L1695.8 1167.8L1698.9 1173.5L1701.8 1180.4L1704.1 1187.2L1705.8 1194.1L1707.2 1200.9L1708.3 1207.8L1710.0 1214.0L1712.3 1219.7L1714.6 1224.9L1716.9 1229.4L1719.8 1232.6L1723.2 1234.3L1726.6 1235.4L1730.0 1236.0L1732.9 1237.7L1735.2 1240.6L1737.4 1244.6L1739.7 1249.7L1743.2 1255.1L1747.7 1260.8L1752.3 1267.7L1756.9 1275.7L1760.8 1283.1L1764.3 1289.9L1767.4 1296.8L1770.3 1303.6L1772.8 1311.6L1775.1 1320.8L1777.4 1329.9L1779.7 1339.0L1781.7 1348.8L1783.4 1359.3L1784.8 1369.2L1786.0 1378.3L1786.8 1387.4L1787.4 1396.6L1787.4 1405.7L1786.8 1414.8L1785.4 1422.8L1783.1 1429.7L1780.8 1436.5L1778.5 1443.4L1775.7 1450.8L1772.3 1458.8L1768.3 1466.8L1763.7 1474.8L1759.1 1482.8L1754.6 1490.7L1750.6 1498.7L1747.1 1506.7L1743.2 1515.3L1738.6 1524.4L1733.5 1533.5L1727.7 1542.7L1721.5 1551.8L1714.6 1560.9L1707.2 1569.5L1699.2 1577.5L1691.2 1584.9L1683.2 1591.8L1675.2 1597.5L1667.2 1602.0L1659.3 1606.0L1651.3 1609.5L1644.4 1611.7L1638.7 1612.9L1633.6 1613.2L1629.0 1612.6L1624.4 1611.2L1619.9 1608.9L1615.9 1608.0L1612.4 1608.6L1609.6 1610.0L1607.3 1612.3L1604.5 1615.7L1601.0 1620.3L1597.0 1624.9L1592.5 1629.4L1587.9 1633.2L1583.3 1636.0L1577.6 1638.0L1570.8 1639.1L1563.9 1641.1L1557.1 1644.0L1550.2 1647.1L1543.4 1650.6L1536.5 1653.1L1529.7 1654.8L1524.0 1655.1L1519.4 1654.0L1516.3 1652.0L1514.6 1649.1L1510.0 1649.4L1502.6 1652.8L1493.2 1658.0L1481.7 1664.8L1474.9 1666.8L1472.6 1664.0L1469.2 1662.0L1464.6 1660.8L1460.0 1660.0L1455.5 1659.4L1447.9 1659.4L1437.4 1660.0L1429.3 1659.7L1423.6 1658.5L1417.9 1658.5L1412.2 1659.7L1405.9 1661.4L1399.1 1663.7L1390.0 1664.5L1378.5 1664.0L1367.1 1662.8L1355.7 1661.1L1344.3 1658.3L1332.9 1654.3L1321.5 1649.7L1310.0 1644.6L1298.6 1639.4L1287.2 1634.3L1275.8 1628.3L1264.4 1621.4L1253.5 1614.0L1243.3 1606.0L1233.6 1597.5L1224.4 1588.3L1215.9 1579.2L1207.9 1570.1L1200.5 1560.9L1193.6 1551.8L1186.8 1542.1L1179.9 1531.8L1173.6 1521.6L1167.9 1511.3L1163.1 1501.6L1159.1 1492.5L1156.2 1484.5L1154.5 1477.6L1151.9 1469.6L1148.5 1460.5L1145.1 1451.4L1141.7 1442.2L1138.8 1433.1L1136.5 1424.0L1134.5 1414.8L1132.8 1405.7L1131.7 1396.6L1131.1 1387.4L1131.1 1378.3L1131.7 1369.2L1132.3 1364.6L1132.8 1364.6L1133.4 1358.8L1134.0 1347.1L1134.8 1335.6L1136.0 1324.2L1137.1 1312.8L1138.2 1301.4L1138.2 1292.8L1137.1 1287.1L1134.5 1282.0L1130.5 1277.4L1125.1 1272.2L1118.3 1266.5L1122.3 1260.3L1137.1 1253.4L1153.7 1243.1L1171.9 1229.4L1181.9 1221.4L1183.6 1219.2L1183.9 1215.2L1182.8 1209.5L1181.1 1202.0L1178.8 1192.9L1177.1 1184.3L1175.9 1176.4L1175.9 1171.5L1177.1 1169.8L1180.8 1170.4L1187.0 1173.2L1194.8 1177.8L1203.9 1184.1L1210.2 1187.8L1213.6 1188.9L1217.0 1186.3L1220.4 1180.1L1223.3 1171.2L1225.6 1159.8L1227.9 1150.7L1230.1 1143.8L1235.8 1137.0L1245.0 1130.1L1254.1 1123.3L1263.2 1116.4L1269.0 1110.7L1271.2 1106.2L1275.2 1102.7L1280.9 1100.4L1287.8 1097.0L1295.8 1092.5L1305.5 1086.2L1316.9 1078.2L1328.3 1070.8L1339.7 1063.9L1351.1 1058.2L1362.6 1053.6L1373.4 1049.1L1383.7 1044.5L1394.0 1040.5L1404.2 1037.1L1414.5 1034.2L1424.8 1032.0L1435.7 1031.4L1447.4 1032.5L1453.2 1033.1L1453.2 1033.1ZM1456.6 1115.0L1463.5 1114.4L1470.3 1114.7L1477.2 1115.9L1483.5 1116.7L1489.2 1117.3L1494.6 1117.0L1499.7 1115.9L1504.3 1116.7L1508.3 1119.6L1513.1 1122.1L1518.8 1124.4L1525.1 1125.6L1532.0 1125.6L1538.8 1126.4L1545.7 1128.1L1551.9 1130.4L1557.7 1133.3L1562.2 1135.8L1565.6 1138.1L1568.5 1141.3L1570.8 1145.3L1573.3 1148.7L1576.2 1151.5L1580.2 1153.2L1585.3 1153.8L1589.6 1155.8L1593.0 1159.2L1597.0 1162.4L1601.6 1165.2L1606.2 1167.8L1610.7 1170.1L1614.7 1172.9L1618.2 1176.4L1620.7 1179.8L1622.4 1183.2L1625.0 1186.3L1628.4 1189.2L1631.0 1192.3L1632.7 1195.8L1633.9 1199.8L1634.4 1204.3L1636.1 1208.0L1639.0 1210.9L1642.1 1214.3L1645.6 1218.3L1649.0 1222.6L1652.4 1227.2L1655.3 1231.7L1657.5 1236.3L1659.0 1240.9L1659.5 1245.4L1661.2 1249.4L1664.1 1252.8L1666.1 1256.3L1667.2 1259.7L1669.5 1262.5L1672.9 1264.8L1675.8 1267.1L1678.1 1269.4L1680.4 1271.4L1682.7 1273.1L1686.1 1276.5L1690.6 1281.7L1693.5 1287.1L1694.6 1292.8L1694.6 1299.6L1693.5 1307.6L1692.4 1315.1L1691.2 1321.9L1690.9 1328.8L1691.5 1335.6L1690.4 1342.5L1687.5 1349.3L1685.5 1355.7L1684.4 1361.6L1684.1 1368.0L1684.6 1374.9L1684.6 1381.7L1684.1 1388.6L1682.7 1395.4L1680.4 1402.3L1678.9 1409.7L1678.4 1417.7L1677.5 1426.2L1676.4 1435.4L1675.5 1443.9L1674.9 1451.9L1674.1 1458.2L1672.9 1462.8L1670.1 1464.8L1665.5 1464.2L1661.0 1463.1L1656.4 1461.3L1652.4 1461.3L1649.0 1463.1L1646.1 1465.9L1643.8 1469.9L1640.4 1474.2L1635.8 1478.8L1630.7 1483.6L1625.0 1488.7L1619.3 1493.6L1613.6 1498.2L1608.5 1502.4L1603.9 1506.4L1599.3 1511.3L1594.8 1517.0L1591.9 1522.7L1590.8 1528.4L1589.6 1534.1L1588.5 1539.8L1585.0 1543.8L1579.3 1546.1L1573.6 1547.0L1567.9 1546.4L1562.2 1545.8L1556.5 1545.3L1551.4 1546.1L1546.8 1548.4L1541.7 1549.8L1536.0 1550.4L1530.8 1551.5L1526.3 1553.2L1521.7 1553.0L1517.1 1550.7L1510.8 1548.4L1502.9 1546.1L1496.0 1544.4L1490.3 1543.3L1484.6 1542.1L1478.9 1541.0L1473.2 1541.5L1467.5 1543.8L1461.8 1545.5L1456.1 1546.7L1449.1 1547.5L1440.9 1548.1L1432.2 1548.7L1423.1 1549.2L1413.9 1549.8L1404.8 1550.4L1396.8 1551.5L1390.0 1553.2L1383.1 1553.2L1376.3 1551.5L1368.3 1550.1L1359.1 1549.0L1351.1 1547.5L1344.3 1545.8L1338.6 1543.3L1334.0 1539.8L1330.0 1535.3L1326.6 1529.6L1323.2 1523.8L1319.8 1518.1L1315.8 1514.1L1311.2 1511.9L1308.3 1507.9L1307.2 1502.2L1305.5 1495.9L1303.2 1489.0L1300.3 1482.2L1296.9 1475.3L1293.5 1468.5L1290.1 1461.6L1287.2 1454.2L1284.9 1446.2L1282.4 1438.2L1279.5 1430.2L1277.5 1422.8L1276.4 1416.0L1276.7 1409.1L1278.4 1402.3L1278.9 1394.9L1278.4 1386.9L1277.5 1378.3L1276.4 1369.2L1275.2 1364.6L1274.1 1364.6L1274.7 1360.5L1276.9 1352.3L1278.9 1343.6L1280.7 1334.5L1282.1 1326.5L1283.2 1319.6L1282.9 1313.9L1281.2 1309.3L1279.8 1303.1L1278.7 1295.1L1278.4 1286.5L1278.9 1277.4L1280.1 1268.3L1281.8 1259.1L1284.1 1250.6L1286.9 1242.6L1289.2 1235.1L1290.9 1228.3L1291.5 1221.4L1290.9 1214.6L1289.2 1209.7L1286.4 1206.9L1286.4 1203.5L1289.2 1199.5L1290.9 1194.1L1291.5 1187.2L1292.1 1181.2L1292.6 1176.1L1296.9 1172.9L1304.9 1171.8L1311.2 1168.7L1315.8 1163.5L1322.0 1159.2L1330.0 1155.8L1338.0 1153.0L1346.0 1150.7L1354.6 1147.8L1363.7 1144.4L1371.1 1140.4L1376.8 1135.8L1382.5 1131.3L1388.2 1126.7L1394.5 1122.7L1401.4 1119.3L1407.1 1115.3L1411.6 1110.7L1415.4 1107.0L1418.2 1104.2L1421.6 1104.7L1425.6 1108.7L1431.1 1111.3L1437.9 1112.4L1444.3 1113.3L1450.2 1113.9L1453.2 1114.4L1453.2 1115.0Z" fill="none" stroke="#000" stroke-width="4.4" stroke-linejoin="round"/></g>
<circle cx="1453.2" cy="1364.6" r="394.3" fill="none" stroke="#000" stroke-width="2"/>
<line x1="1453.20" y1="970.30" x2="1453.20" y2="961.80" stroke="#000" stroke-width="2"/>
<text transform="translate(1453.20,955.60) rotate(0)" text-anchor="middle" font-size="27" fill="#000" font-family="'Liberation Sans',Arial,Helvetica,sans-serif">0<tspan font-size="20.5" dx="1.2" dy="-11">o</tspan><tspan dx="1.6" dy="11"></tspan></text>
<line x1="1650.35" y1="1023.13" x2="1654.60" y2="1015.76" stroke="#000" stroke-width="2"/>
<text transform="translate(1657.70,1010.40) rotate(30)" text-anchor="middle" font-size="27" fill="#000" font-family="'Liberation Sans',Arial,Helvetica,sans-serif">30<tspan font-size="20.5" dx="1.2" dy="-11">o</tspan><tspan dx="1.6" dy="11">E</tspan></text>
<line x1="1794.67" y1="1167.45" x2="1802.04" y2="1163.20" stroke="#000" stroke-width="2"/>
<text transform="translate(1807.40,1160.10) rotate(60)" text-anchor="middle" font-size="27" fill="#000" font-family="'Liberation Sans',Arial,Helvetica,sans-serif">60<tspan font-size="20.5" dx="1.2" dy="-11">o</tspan><tspan dx="1.6" dy="11">E</tspan></text>
<line x1="1847.50" y1="1364.60" x2="1856.00" y2="1364.60" stroke="#000" stroke-width="2"/>
<text transform="translate(1862.20,1364.60) rotate(90)" text-anchor="middle" font-size="27" fill="#000" font-family="'Liberation Sans',Arial,Helvetica,sans-serif">90<tspan font-size="20.5" dx="1.2" dy="-11">o</tspan><tspan dx="1.6" dy="11">E</tspan></text>
<line x1="1794.67" y1="1561.75" x2="1802.04" y2="1566.00" stroke="#000" stroke-width="2"/>
<text transform="translate(1829.31,1581.75) rotate(-60)" text-anchor="middle" font-size="27" fill="#000" font-family="'Liberation Sans',Arial,Helvetica,sans-serif">120<tspan font-size="20.5" dx="1.2" dy="-11">o</tspan><tspan dx="1.6" dy="11">E</tspan></text>
<line x1="1650.35" y1="1706.07" x2="1654.60" y2="1713.44" stroke="#000" stroke-width="2"/>
<text transform="translate(1670.35,1740.71) rotate(-30)" text-anchor="middle" font-size="27" fill="#000" font-family="'Liberation Sans',Arial,Helvetica,sans-serif">150<tspan font-size="20.5" dx="1.2" dy="-11">o</tspan><tspan dx="1.6" dy="11">E</tspan></text>
<line x1="1453.20" y1="1758.90" x2="1453.20" y2="1767.40" stroke="#000" stroke-width="2"/>
<text transform="translate(1453.20,1798.90) rotate(0)" text-anchor="middle" font-size="27" fill="#000" font-family="'Liberation Sans',Arial,Helvetica,sans-serif">180<tspan font-size="20.5" dx="1.2" dy="-11">o</tspan><tspan dx="1.6" dy="11">W</tspan></text>
<line x1="1256.05" y1="1706.07" x2="1251.80" y2="1713.44" stroke="#000" stroke-width="2"/>
<text transform="translate(1236.05,1740.71) rotate(30)" text-anchor="middle" font-size="27" fill="#000" font-family="'Liberation Sans',Arial,Helvetica,sans-serif">150<tspan font-size="20.5" dx="1.2" dy="-11">o</tspan><tspan dx="1.6" dy="11">W</tspan></text>
<line x1="1111.73" y1="1561.75" x2="1104.36" y2="1566.00" stroke="#000" stroke-width="2"/>
<text transform="translate(1077.09,1581.75) rotate(60)" text-anchor="middle" font-size="27" fill="#000" font-family="'Liberation Sans',Arial,Helvetica,sans-serif">120<tspan font-size="20.5" dx="1.2" dy="-11">o</tspan><tspan dx="1.6" dy="11">W</tspan></text>
<line x1="1058.90" y1="1364.60" x2="1050.40" y2="1364.60" stroke="#000" stroke-width="2"/>
<text transform="translate(1044.20,1364.60) rotate(-90)" text-anchor="middle" font-size="27" fill="#000" font-family="'Liberation Sans',Arial,Helvetica,sans-serif">90<tspan font-size="20.5" dx="1.2" dy="-11">o</tspan><tspan dx="1.6" dy="11">W</tspan></text>
<line x1="1111.73" y1="1167.45" x2="1104.36" y2="1163.20" stroke="#000" stroke-width="2"/>
<text transform="translate(1099.00,1160.10) rotate(-60)" text-anchor="middle" font-size="27" fill="#000" font-family="'Liberation Sans',Arial,Helvetica,sans-serif">60<tspan font-size="20.5" dx="1.2" dy="-11">o</tspan><tspan dx="1.6" dy="11">W</tspan></text>
<line x1="1256.05" y1="1023.13" x2="1251.80" y2="1015.76" stroke="#000" stroke-width="2"/>
<text transform="translate(1248.70,1010.40) rotate(-30)" text-anchor="middle" font-size="27" fill="#000" font-family="'Liberation Sans',Arial,Helvetica,sans-serif">30<tspan font-size="20.5" dx="1.2" dy="-11">o</tspan><tspan dx="1.6" dy="11">W</tspan></text>
<text x="1466.7" y="1374.6" text-anchor="middle" font-size="45" font-weight="bold" fill="#fff" font-family="'Liberation Sans',Arial,Helvetica,sans-serif">MCS</text>
</g>
<text x="114.2" y="38.9" font-size="44" font-weight="bold" fill="#000" font-family="'Liberation Sans',Arial,Helvetica,sans-serif">a</text>
<text x="1060.4" y="38.9" font-size="44" font-weight="bold" fill="#000" font-family="'Liberation Sans',Arial,Helvetica,sans-serif">b</text>
<text x="114.2" y="971.5" font-size="44" font-weight="bold" fill="#000" font-family="'Liberation Sans',Arial,Helvetica,sans-serif">c</text>
<text x="1060.4" y="971.5" font-size="44" font-weight="bold" fill="#000" font-family="'Liberation Sans',Arial,Helvetica,sans-serif">d</text>
<g>
<rect x="1927" y="55.80" width="34" height="37.26" fill="#67000d"/>
<rect x="1927" y="92.76" width="34" height="37.26" fill="#7f0810"/>
<rect x="1927" y="129.72" width="34" height="37.26" fill="#a80e17"/>
<rect x="1927" y="166.68" width="34" height="37.26" fill="#ce1820"/>
<rect x="1927" y="203.64" width="34" height="37.26" fill="#f03c2c"/>
<rect x="1927" y="240.60" width="34" height="37.26" fill="#fc6b4c"/>
<rect x="1927" y="277.56" width="34" height="37.26" fill="#fd9273"/>
<rect x="1927" y="314.52" width="34" height="37.26" fill="#fdbbab"/>
<rect x="1927" y="351.48" width="34" height="37.26" fill="#ffe4e4"/>
<rect x="1927" y="388.44" width="34" height="37.26" fill="#fff1f5"/>
<rect x="1927" y="425.40" width="34" height="37.26" fill="#f2fcff"/>
<rect x="1927" y="462.36" width="34" height="37.26" fill="#dbf3fc"/>
<rect x="1927" y="499.32" width="34" height="37.26" fill="#a8dbe6"/>
<rect x="1927" y="536.28" width="34" height="37.26" fill="#78bed6"/>
<rect x="1927" y="573.24" width="34" height="37.26" fill="#5aa0cd"/>
<rect x="1927" y="610.20" width="34" height="37.26" fill="#4292c8"/>
<rect x="1927" y="647.16" width="34" height="37.26" fill="#2171b5"/>
<rect x="1927" y="684.12" width="34" height="37.26" fill="#08519c"/>
<rect x="1927" y="721.08" width="34" height="37.26" fill="#08306b"/>
<rect x="1927" y="758.04" width="34" height="37.26" fill="#081d45"/>
<rect x="1927" y="55.8" width="34" height="739.2" fill="none" stroke="#262626" stroke-width="1.6"/>
<text x="1972.5" y="65.00" font-size="26" fill="#262626" font-family="'Liberation Sans',Arial,Helvetica,sans-serif">3</text>
<line x1="1953" y1="179.00" x2="1961" y2="179.00" stroke="#262626" stroke-width="1.4"/>
<text x="1972.5" y="188.20" font-size="26" fill="#262626" font-family="'Liberation Sans',Arial,Helvetica,sans-serif">2</text>
<line x1="1953" y1="302.30" x2="1961" y2="302.30" stroke="#262626" stroke-width="1.4"/>
<text x="1972.5" y="311.50" font-size="26" fill="#262626" font-family="'Liberation Sans',Arial,Helvetica,sans-serif">1</text>
<line x1="1953" y1="425.40" x2="1961" y2="425.40" stroke="#262626" stroke-width="1.4"/>
<text x="1972.5" y="434.60" font-size="26" fill="#262626" font-family="'Liberation Sans',Arial,Helvetica,sans-serif">0</text>
<line x1="1953" y1="548.60" x2="1961" y2="548.60" stroke="#262626" stroke-width="1.4"/>
<text x="1972.5" y="557.80" font-size="26" fill="#262626" font-family="'Liberation Sans',Arial,Helvetica,sans-serif">-1</text>
<line x1="1953" y1="671.80" x2="1961" y2="671.80" stroke="#262626" stroke-width="1.4"/>
<text x="1972.5" y="681.00" font-size="26" fill="#262626" font-family="'Liberation Sans',Arial,Helvetica,sans-serif">-2</text>
<text x="1972.5" y="804.20" font-size="26" fill="#262626" font-family="'Liberation Sans',Arial,Helvetica,sans-serif">-3</text>
<text transform="translate(2032.4,421.5) rotate(-90)" text-anchor="middle" font-size="38" fill="#262626" font-family="'Liberation Sans',Arial,Helvetica,sans-serif">Event intensity (°C)</text>
</g>
<g>
<rect x="1927" y="995.60" width="34" height="46.59" fill="#67000d"/>
<rect x="1927" y="1041.89" width="34" height="46.59" fill="#7f0810"/>
<rect x="1927" y="1088.17" width="34" height="46.59" fill="#a80e17"/>
<rect x="1927" y="1134.46" width="34" height="46.59" fill="#ce1820"/>
<rect x="1927" y="1180.75" width="34" height="46.59" fill="#f03c2c"/>
<rect x="1927" y="1227.04" width="34" height="46.59" fill="#fc6b4c"/>
<rect x="1927" y="1273.33" width="34" height="46.59" fill="#fd9273"/>
<rect x="1927" y="1319.61" width="34" height="46.59" fill="#fdbbab"/>
<rect x="1927" y="1365.90" width="34" height="46.59" fill="#a8dbe6"/>
<rect x="1927" y="1412.19" width="34" height="46.59" fill="#78bed6"/>
<rect x="1927" y="1458.47" width="34" height="46.59" fill="#5aa0cd"/>
<rect x="1927" y="1504.76" width="34" height="46.59" fill="#4292c8"/>
<rect x="1927" y="1551.05" width="34" height="46.59" fill="#2171b5"/>
<rect x="1927" y="1597.34" width="34" height="46.59" fill="#08519c"/>
<rect x="1927" y="1643.62" width="34" height="46.59" fill="#08306b"/>
<rect x="1927" y="1689.91" width="34" height="46.59" fill="#081d45"/>
<rect x="1927" y="995.6" width="34" height="740.6" fill="none" stroke="#262626" stroke-width="1.6"/>
<text x="1972.5" y="1004.80" font-size="26" fill="#262626" font-family="'Liberation Sans',Arial,Helvetica,sans-serif">70</text>
<line x1="1953" y1="1075.60" x2="1961" y2="1075.60" stroke="#262626" stroke-width="1.4"/>
<text x="1972.5" y="1084.80" font-size="26" fill="#262626" font-family="'Liberation Sans',Arial,Helvetica,sans-serif">55</text>
<line x1="1953" y1="1154.90" x2="1961" y2="1154.90" stroke="#262626" stroke-width="1.4"/>
<text x="1972.5" y="1164.10" font-size="26" fill="#262626" font-family="'Liberation Sans',Arial,Helvetica,sans-serif">40</text>
<line x1="1953" y1="1260.00" x2="1961" y2="1260.00" stroke="#262626" stroke-width="1.4"/>
<text x="1972.5" y="1269.20" font-size="26" fill="#262626" font-family="'Liberation Sans',Arial,Helvetica,sans-serif">20</text>
<line x1="1953" y1="1365.70" x2="1961" y2="1365.70" stroke="#262626" stroke-width="1.4"/>
<text x="1972.5" y="1374.90" font-size="26" fill="#262626" font-family="'Liberation Sans',Arial,Helvetica,sans-serif">0</text>
<line x1="1953" y1="1470.50" x2="1961" y2="1470.50" stroke="#262626" stroke-width="1.4"/>
<text x="1972.5" y="1479.70" font-size="26" fill="#262626" font-family="'Liberation Sans',Arial,Helvetica,sans-serif">-20</text>
<line x1="1953" y1="1576.80" x2="1961" y2="1576.80" stroke="#262626" stroke-width="1.4"/>
<text x="1972.5" y="1586.00" font-size="26" fill="#262626" font-family="'Liberation Sans',Arial,Helvetica,sans-serif">-40</text>
<line x1="1953" y1="1656.20" x2="1961" y2="1656.20" stroke="#262626" stroke-width="1.4"/>
<text x="1972.5" y="1665.40" font-size="26" fill="#262626" font-family="'Liberation Sans',Arial,Helvetica,sans-serif">-55</text>
<text x="1972.5" y="1745.40" font-size="26" fill="#262626" font-family="'Liberation Sans',Arial,Helvetica,sans-serif">-70</text>
<text transform="translate(2064.4,1364.3) rotate(-90)" text-anchor="middle" font-size="38" fill="#262626" font-family="'Liberation Sans',Arial,Helvetica,sans-serif">Chl-a anomaly (%)</text>
</g>
<g id="bars">
<line x1="430.0" y1="1921.7" x2="430.0" y2="2440.6" stroke="#000" stroke-width="2" stroke-dasharray="21.7 14.4" stroke-dashoffset="7.3"/>
<line x1="718.8" y1="1921.7" x2="718.8" y2="2440.6" stroke="#000" stroke-width="2" stroke-dasharray="21.7 14.4" stroke-dashoffset="7.3"/>
<line x1="1346.0" y1="1921.7" x2="1346.0" y2="2440.6" stroke="#000" stroke-width="2" stroke-dasharray="21.7 14.4" stroke-dashoffset="7.3"/>
<line x1="1627.8" y1="1921.7" x2="1627.8" y2="2440.6" stroke="#000" stroke-width="2" stroke-dasharray="21.7 14.4" stroke-dashoffset="7.3"/>
<path d="M112.3 1921.7H1937.5V2440.6H112.3Z M1036.3 1921.7V2440.6" fill="none" stroke="#262626" stroke-width="2.1"/>
<text x="101.3" y="2452.80" text-anchor="end" font-size="33.5" fill="#262626" font-family="'Liberation Sans',Arial,Helvetica,sans-serif">0</text>
<text x="1947.5" y="2452.80" font-size="33.5" fill="#262626" font-family="'Liberation Sans',Arial,Helvetica,sans-serif">0</text>
<text x="101.3" y="2349.02" text-anchor="end" font-size="33.5" fill="#262626" font-family="'Liberation Sans',Arial,Helvetica,sans-serif">20</text>
<text x="1947.5" y="2349.02" font-size="33.5" fill="#262626" font-family="'Liberation Sans',Arial,Helvetica,sans-serif">20</text>
<text x="101.3" y="2245.24" text-anchor="end" font-size="33.5" fill="#262626" font-family="'Liberation Sans',Arial,Helvetica,sans-serif">40</text>
<text x="1947.5" y="2245.24" font-size="33.5" fill="#262626" font-family="'Liberation Sans',Arial,Helvetica,sans-serif">40</text>
<text x="101.3" y="2141.46" text-anchor="end" font-size="33.5" fill="#262626" font-family="'Liberation Sans',Arial,Helvetica,sans-serif">60</text>
<text x="1947.5" y="2141.46" font-size="33.5" fill="#262626" font-family="'Liberation Sans',Arial,Helvetica,sans-serif">60</text>
<text x="101.3" y="2037.68" text-anchor="end" font-size="33.5" fill="#262626" font-family="'Liberation Sans',Arial,Helvetica,sans-serif">80</text>
<text x="1947.5" y="2037.68" font-size="33.5" fill="#262626" font-family="'Liberation Sans',Arial,Helvetica,sans-serif">80</text>
<text x="101.3" y="1933.90" text-anchor="end" font-size="33.5" fill="#262626" font-family="'Liberation Sans',Arial,Helvetica,sans-serif">100</text>
<text x="1947.5" y="1933.90" font-size="33.5" fill="#262626" font-family="'Liberation Sans',Arial,Helvetica,sans-serif">100</text>
<path d="M112.3 2440.60h10 M1026.3 2440.60h20 M1937.5 2440.60h-10 M112.3 2336.82h10 M1026.3 2336.82h20 M1937.5 2336.82h-10 M112.3 2233.04h10 M1026.3 2233.04h20 M1937.5 2233.04h-10 M112.3 2129.26h10 M1026.3 2129.26h20 M1937.5 2129.26h-10 M112.3 2025.48h10 M1026.3 2025.48h20 M1937.5 2025.48h-10 M112.3 1921.70h10 M1026.3 1921.70h20 M1937.5 1921.70h-10 M285.4 1921.7v10 M285.4 2440.6v-10 M574.1 1921.7v10 M574.1 2440.6v-10 M862.8 1921.7v10 M862.8 2440.6v-10 M1205.3 1921.7v10 M1205.3 2440.6v-10 M1486.8 1921.7v10 M1486.8 2440.6v-10 M1768.4 1921.7v10 M1768.4 2440.6v-10" fill="none" stroke="#262626" stroke-width="2.1"/>
<rect x="189.7" y="2409.47" width="87.30" height="31.13" fill="#ffb6c1" stroke="#000" stroke-width="3.5"/>
<rect x="277.0" y="1952.32" width="87.50" height="488.28" fill="#add8e6" stroke="#000" stroke-width="3.5"/>
<rect x="490.6" y="2157.28" width="86.60" height="283.32" fill="#ffb6c1" stroke="#000" stroke-width="3.5"/>
<rect x="577.2" y="2206.06" width="86.60" height="234.54" fill="#add8e6" stroke="#000" stroke-width="3.5"/>
<rect x="779.2" y="2171.29" width="86.80" height="269.31" fill="#ffb6c1" stroke="#000" stroke-width="3.5"/>
<rect x="866.0" y="2192.57" width="86.70" height="248.03" fill="#add8e6" stroke="#000" stroke-width="3.5"/>
<rect x="1123.7" y="1960.62" width="84.20" height="479.98" fill="#ffb6c1" stroke="#000" stroke-width="3.5"/>
<rect x="1207.9" y="2402.72" width="84.60" height="37.88" fill="#add8e6" stroke="#000" stroke-width="3.5"/>
<rect x="1405.0" y="2262.62" width="84.50" height="177.98" fill="#ffb6c1" stroke="#000" stroke-width="3.5"/>
<rect x="1489.5" y="2100.72" width="84.50" height="339.88" fill="#add8e6" stroke="#000" stroke-width="3.5"/>
<rect x="1686.7" y="2218.51" width="84.60" height="222.09" fill="#ffb6c1" stroke="#000" stroke-width="3.5"/>
<rect x="1771.3" y="2143.79" width="84.60" height="296.81" fill="#add8e6" stroke="#000" stroke-width="3.5"/>
<text x="285.4" y="2483" text-anchor="middle" font-size="33" fill="#262626" font-family="'Liberation Sans',Arial,Helvetica,sans-serif">STZ</text>
<text x="574.1" y="2483" text-anchor="middle" font-size="33" fill="#262626" font-family="'Liberation Sans',Arial,Helvetica,sans-serif">SAZ</text>
<text x="862.8" y="2483" text-anchor="middle" font-size="33" fill="#262626" font-family="'Liberation Sans',Arial,Helvetica,sans-serif">POOZ</text>
<text x="1205.3" y="2483" text-anchor="middle" font-size="33" fill="#262626" font-family="'Liberation Sans',Arial,Helvetica,sans-serif">STZ</text>
<text x="1486.8" y="2483" text-anchor="middle" font-size="33" fill="#262626" font-family="'Liberation Sans',Arial,Helvetica,sans-serif">SAZ</text>
<text x="1768.4" y="2483" text-anchor="middle" font-size="33" fill="#262626" font-family="'Liberation Sans',Arial,Helvetica,sans-serif">POOZ</text>
<text x="574.3" y="1908" text-anchor="middle" font-size="36" fill="#000" font-family="'Liberation Sans',Arial,Helvetica,sans-serif">MHW</text>
<text x="1486.8" y="1908" text-anchor="middle" font-size="36" fill="#000" font-family="'Liberation Sans',Arial,Helvetica,sans-serif">MCS</text>
<text transform="translate(27.3,2181) rotate(-90)" text-anchor="middle" font-size="37.5" fill="#262626" font-family="'Liberation Sans',Arial,Helvetica,sans-serif">anomaly area (%)</text>
<text transform="translate(2050.4,2181) rotate(-90)" text-anchor="middle" font-size="37.5" fill="#262626" font-family="'Liberation Sans',Arial,Helvetica,sans-serif">anomaly area (%)</text>
<rect x="1373.7" y="1951.8" width="541.9" height="50.2" fill="#fff" stroke="#262626" stroke-width="2"/>
<rect x="1385.5" y="1962.2" width="112.5" height="29" fill="#add8e6" stroke="#000" stroke-width="3.5"/>
<text x="1505.5" y="1989.8" font-size="34" fill="#000" font-family="'Liberation Sans',Arial,Helvetica,sans-serif">Negative</text>
<rect x="1663.6" y="1962.2" width="112.4" height="29" fill="#ffb6c1" stroke="#000" stroke-width="3.5"/>
<text x="1784" y="1989.8" font-size="34" fill="#000" font-family="'Liberation Sans',Arial,Helvetica,sans-serif">Positive</text>
<text x="112.5" y="1915" font-size="44" font-weight="bold" fill="#000" font-family="'Liberation Sans',Arial,Helvetica,sans-serif">e</text>
</g>
</svg></body></html>
